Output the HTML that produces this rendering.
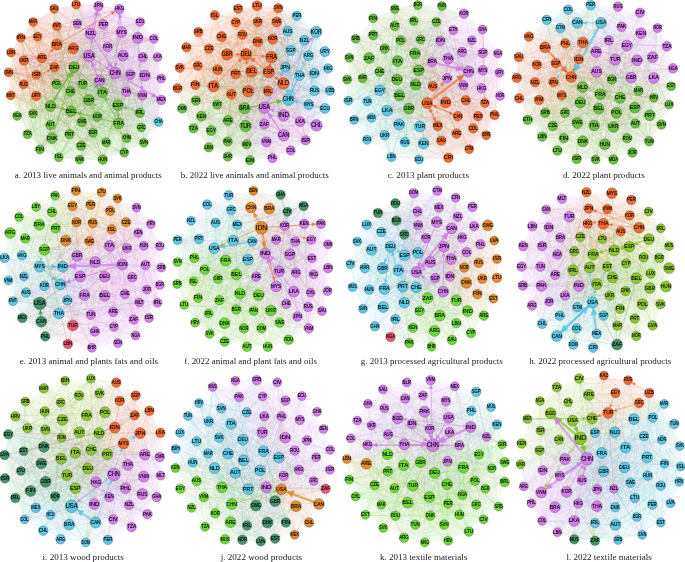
<!DOCTYPE html><html><head><meta charset="utf-8"><style>
html,body{margin:0;padding:0;background:#fff;width:685px;height:562px;overflow:hidden}
svg{display:block;position:absolute;left:0;top:0;will-change:transform}
.cap{font-family:"Liberation Serif",serif;font-size:9.15px;fill:#1a1a1a}
.l{font-family:"Liberation Sans",sans-serif;font-weight:normal;fill:#000;stroke:#000;stroke-width:0.12px;text-anchor:middle}
</style></head><body>
<svg width="685" height="562" viewBox="0 0 685 562">

<clipPath id="ha"><path d="M8.6 72.4L11 52.5L20.8 37.8L33.1 21.9L54.2 8.8L76.2 4.5L98.5 6L119.4 9.1L140.2 21.9L153.9 38.8L157.6 57.1L161.3 78.5L161.3 100L158.5 122L143.8 142.8L124.3 152.6L102.8 159.6L79.6 159.6L58.8 157.2L39.8 149.5L27.5 134.2L17.1 115.9L10.7 95.4Z"/></clipPath>
<g clip-path="url(#ha)" fill-opacity="0.035">
<circle cx="54.2" cy="8.8" r="22" fill="#F26A30"/>
<circle cx="76.2" cy="4.5" r="22" fill="#F26A30"/>
<circle cx="33.1" cy="21.9" r="22" fill="#F26A30"/>
<circle cx="56.9" cy="26.2" r="22" fill="#F26A30"/>
<circle cx="37.6" cy="36.6" r="22" fill="#F26A30"/>
<circle cx="20.8" cy="37.8" r="22" fill="#F26A30"/>
<circle cx="56.8" cy="44.5" r="22" fill="#F26A30"/>
<circle cx="73.3" cy="48.3" r="22" fill="#F26A30"/>
<circle cx="11" cy="52.5" r="22" fill="#F26A30"/>
<circle cx="23.9" cy="60.5" r="22" fill="#F26A30"/>
<circle cx="41.9" cy="58" r="22" fill="#F26A30"/>
<circle cx="54.5" cy="67.3" r="22" fill="#F26A30"/>
<circle cx="36.4" cy="74.8" r="22" fill="#F26A30"/>
<circle cx="8.6" cy="72.4" r="22" fill="#F26A30"/>
<circle cx="23.6" cy="84.3" r="22" fill="#F26A30"/>
<circle cx="10.7" cy="95.4" r="22" fill="#F26A30"/>
<circle cx="36.1" cy="96" r="22" fill="#F26A30"/>
<circle cx="98.5" cy="6" r="22" fill="#D17DEA"/>
<circle cx="119.4" cy="9.1" r="22" fill="#D17DEA"/>
<circle cx="77.4" cy="23.5" r="22" fill="#D17DEA"/>
<circle cx="103.4" cy="24.4" r="22" fill="#D17DEA"/>
<circle cx="140.2" cy="21.9" r="22" fill="#D17DEA"/>
<circle cx="90.6" cy="33.6" r="22" fill="#D17DEA"/>
<circle cx="121.5" cy="32" r="22" fill="#D17DEA"/>
<circle cx="137.7" cy="37.8" r="22" fill="#D17DEA"/>
<circle cx="153.9" cy="38.8" r="22" fill="#D17DEA"/>
<circle cx="107.7" cy="47" r="22" fill="#D17DEA"/>
<circle cx="89" cy="56.1" r="22" fill="#D17DEA"/>
<circle cx="123" cy="55.6" r="22" fill="#D17DEA"/>
<circle cx="142.9" cy="57.1" r="22" fill="#D17DEA"/>
<circle cx="157.6" cy="57.1" r="22" fill="#D17DEA"/>
<circle cx="115.1" cy="73" r="22" fill="#D17DEA"/>
<circle cx="130.4" cy="74.6" r="22" fill="#D17DEA"/>
<circle cx="144.8" cy="75.5" r="22" fill="#D17DEA"/>
<circle cx="161.3" cy="78.5" r="22" fill="#D17DEA"/>
<circle cx="99.5" cy="80.7" r="22" fill="#D17DEA"/>
<circle cx="126.4" cy="91.7" r="22" fill="#D17DEA"/>
<circle cx="142.3" cy="95.4" r="22" fill="#D17DEA"/>
<circle cx="161.3" cy="100" r="22" fill="#D17DEA"/>
<circle cx="158.5" cy="122" r="22" fill="#5CC8E2"/>
<circle cx="74.1" cy="67.2" r="22" fill="#6BBF3E"/>
<circle cx="56.6" cy="84.1" r="22" fill="#6BBF3E"/>
<circle cx="82.6" cy="84.1" r="22" fill="#6BBF3E"/>
<circle cx="70.4" cy="91.4" r="22" fill="#6BBF3E"/>
<circle cx="102.5" cy="92.3" r="22" fill="#6BBF3E"/>
<circle cx="88.8" cy="100" r="22" fill="#6BBF3E"/>
<circle cx="50.5" cy="106.1" r="22" fill="#6BBF3E"/>
<circle cx="71.1" cy="111.1" r="22" fill="#6BBF3E"/>
<circle cx="117.8" cy="105.2" r="22" fill="#6BBF3E"/>
<circle cx="139.9" cy="112.8" r="22" fill="#6BBF3E"/>
<circle cx="17.1" cy="115.9" r="22" fill="#6BBF3E"/>
<circle cx="33.1" cy="113.7" r="22" fill="#6BBF3E"/>
<circle cx="50.5" cy="125.1" r="22" fill="#6BBF3E"/>
<circle cx="82" cy="122" r="22" fill="#6BBF3E"/>
<circle cx="97.3" cy="116.8" r="22" fill="#6BBF3E"/>
<circle cx="118.7" cy="123.5" r="22" fill="#6BBF3E"/>
<circle cx="27.5" cy="134.2" r="22" fill="#6BBF3E"/>
<circle cx="52" cy="138.2" r="22" fill="#6BBF3E"/>
<circle cx="69.5" cy="134.2" r="22" fill="#6BBF3E"/>
<circle cx="93" cy="132.7" r="22" fill="#6BBF3E"/>
<circle cx="141.4" cy="127.5" r="22" fill="#6BBF3E"/>
<circle cx="126.7" cy="138.2" r="22" fill="#6BBF3E"/>
<circle cx="143.8" cy="142.8" r="22" fill="#6BBF3E"/>
<circle cx="106.2" cy="142.5" r="22" fill="#6BBF3E"/>
<circle cx="81.1" cy="145.9" r="22" fill="#6BBF3E"/>
<circle cx="39.8" cy="149.5" r="22" fill="#6BBF3E"/>
<circle cx="124.3" cy="152.6" r="22" fill="#6BBF3E"/>
<circle cx="58.8" cy="157.2" r="22" fill="#6BBF3E"/>
<circle cx="79.6" cy="159.6" r="22" fill="#6BBF3E"/>
<circle cx="102.8" cy="159.6" r="22" fill="#6BBF3E"/>
</g>
<g fill="none" stroke-width="0.45" stroke-opacity="0.18" stroke-linejoin="bevel">
<path stroke="#F26A30" d="M42 58L89 56L9 72L52 138L33 22L74 67L9 72L93 133L21 38L145 76L21 38L154 39L57 44L122 32L36 96L145 76L76 4L42 58L73 48L97 117L57 44L154 39L42 58L82 122L11 52L33 22L42 58L122 32L57 26L57 84L73 48L57 84L21 38L38 37L11 95L108 47L76 4L33 22L9 72L130 75L36 75L124 153L11 95L119 9L76 4L57 84L36 96L144 143L73 48L97 117L38 37L21 38L57 44L9 72L57 44L70 134L57 26L126 92L36 96L83 84L76 4L11 52L36 96L115 73L76 4L71 111L24 60L154 39L73 48L141 128L11 95L130 75L54 9L89 100L54 67L119 9L57 26"/>
<path stroke="#F26A30" d="M57 26L103 160L36 96L106 142L38 37L127 138L42 58L140 113L42 58L127 138L21 38L82 122L57 44L50 125L11 52L33 22L42 58L33 22L24 84L89 56L24 60L142 95L24 84L93 133L24 84L115 73L11 52L130 75L33 22L154 39L11 95L93 133L24 60L89 100L73 48L33 22L57 44L138 38L21 38L40 150L38 37L57 84L54 67L154 39L76 4L38 37L21 38L33 114L57 26L154 39L73 48L24 84L57 26L28 134L38 37L89 56L9 72L57 84L38 37L54 67L42 58L70 134L54 67L36 75L24 84L74 67L42 58L118 105L57 26L21 38L11 52L57 26L24 84L57 84L9 72L82 122L21 38"/>
<path stroke="#F26A30" d="M21 38L54 9L57 44L21 38L38 37L52 138L24 60L89 100L24 60L144 143L24 60L38 37L42 58L38 37L33 22L142 95L9 72L103 24L21 38L33 114L42 58L54 67L21 38L122 32L76 4L91 34L33 22L158 122L36 96L74 67L36 96L158 122L11 52L115 73L33 22L142 95L36 75L130 75L36 75L154 39L9 72L36 75L24 84L103 160L24 84L57 84L9 72L57 26L54 9L103 160L57 26L73 48L54 67L123 56L36 96L11 95L9 72L36 75L73 48L97 117L9 72L122 32L57 26L93 133L38 37L17 116L24 84L81 146L36 75L50 106L76 4L71 111L57 44L82 122L24 84L52 138L33 22"/>
<path stroke="#F26A30" d="M33 22L52 138L54 9L50 106L36 75L89 56L21 38L54 9L11 95L57 44L24 60L82 122L36 75L103 160L38 37L103 24L54 67L54 9L9 72L57 84L33 22L70 91L42 58L24 60L36 96L71 111L11 95L57 44L11 52L115 73L11 52L70 134L73 48L70 91L9 72L83 84L36 75L127 138L11 95L9 72L36 96L24 60L57 44L119 9L57 26L161 100L11 95L103 160L9 72L100 81L11 52L142 95L24 60L11 95L21 38L103 24L9 72L140 113L33 22L36 96L54 67L82 122L11 95L119 124L73 48L140 22L11 52L24 60L36 96L74 67L24 60L140 22L24 60L130 75L24 84L108 47L57 26"/>
<path stroke="#F26A30" d="M57 26L89 100L57 26"/>
<path stroke="#D17DEA" d="M103 24L124 153L145 76L9 72L142 95L82 122L89 56L106 142L130 75L33 114L126 92L119 124L154 39L36 75L138 38L144 143L142 95L138 38L108 47L141 128L142 95L76 4L140 22L91 34L122 32L38 37L103 24L74 67L108 47L42 58L77 24L11 52L108 47L11 95L161 78L36 75L123 56L40 150L122 32L161 100L119 9L127 138L130 75L52 138L123 56L42 58L122 32L77 24L122 32L158 122L158 57L98 6L140 22L9 72L119 9L119 124L138 38L140 22L138 38L9 72L89 56L81 146L123 56L74 67L161 100L17 116L123 56L124 153L119 9L28 134L103 24L40 150L119 9L42 58L154 39L36 75L103 24L142 95L122 32L140 22L100 81L40 150L138 38L24 60L123 56L158 122L145 76L161 78L98 6L93 133L89 56L119 124L89 56L119 124L103 24L127 138L130 75L74 67L89 56L33 114"/>
<path stroke="#D17DEA" d="M33 114L77 24L138 38L119 9L140 113L122 32L24 60L161 78L11 95L119 9L89 100L142 95L127 138L161 100L144 143L161 100L127 138L103 24L50 106L123 56L59 157L126 92L124 153L161 100L93 133L108 47L80 160L140 22L33 114L143 57L74 67L98 6L57 84L161 100L98 6L77 24L40 150L158 57L50 106L77 24L140 113L158 57L158 122L126 92L73 48L145 76L89 100L130 75L142 95L89 56L103 24L130 75L57 84L108 47L57 84L161 78L123 56L161 78L119 124L140 22L103 160L140 22L140 113L154 39L24 60L142 95L126 92L119 9L57 26L119 9L127 138L143 57L11 52L145 76L115 73L100 81L118 105L91 34L50 106L140 22L89 56L158 57L52 138L98 6L140 113L119 9L74 67L77 24L154 39L138 38L24 60L154 39L127 138L103 24L141 128L89 56L50 125L126 92L42 58L91 34"/>
<path stroke="#D17DEA" d="M91 34L80 160L143 57L81 146L119 9L40 150L119 9L38 37L119 9L98 6L91 34L106 142L161 100L52 138L91 34L115 73L143 57L52 138L115 73L54 67L100 81L98 6L103 24L57 26L98 6L59 157L122 32L119 124L91 34L158 122L130 75L126 92L161 100L77 24L161 100L28 134L126 92L93 133L138 38L123 56L143 57L158 122L143 57L89 100L143 57L161 100L89 56L118 105L161 100L9 72L130 75L54 9L123 56L80 160L122 32L123 56L122 32L42 58L161 78L54 9L143 57L106 142L130 75L122 32L143 57L124 153L115 73L98 6L122 32L57 84L142 95L59 157L143 57L76 4L108 47L54 9L123 56L76 4L91 34L24 60L98 6L103 24L138 38L40 150L145 76L123 56L154 39L50 125L158 57L144 143L142 95L81 146L143 57L115 73L89 56L122 32L98 6L76 4L143 57L52 138"/>
<path stroke="#D17DEA" d="M52 138L89 56L142 95L115 73L100 81L130 75L54 9L77 24L24 84L161 100L108 47L126 92L140 22L126 92L76 4L145 76L70 91L100 81L123 56L142 95L24 60L143 57L126 92L154 39L74 67L100 81L138 38L89 56L40 150L161 100L36 96L130 75L108 47L126 92L103 160L126 92L142 95L154 39L33 22L119 9L24 84L158 57L119 9L140 22L33 22L108 47L40 150L98 6L124 153L130 75L118 105L161 100L57 44L122 32L24 84L140 22L76 4L98 6L158 57L100 81L17 116L91 34L83 84L138 38L57 84L161 78L57 44L115 73L24 60L77 24L140 22L91 34L154 39L143 57L91 34L100 81L80 160L145 76L71 111L130 75L11 52L142 95L89 100L126 92L142 95L161 78L100 81L130 75L36 75L123 56L140 113L158 57L24 84L108 47L130 75L123 56L126 92L98 6L36 96L98 6"/>
<path stroke="#5CC8E2" d="M158 122L70 134L158 122L28 134L158 122"/>
<path stroke="#5CC8E2" d="M158 122L11 52L158 122L57 26L158 122"/>
<path stroke="#5CC8E2" d="M158 122L42 58L158 122L77 24L158 122"/>
<path stroke="#5CC8E2" d="M158 122L24 60L158 122L97 117L158 122"/>
<path stroke="#5CC8E2" d="M158 122L97 117L158 122"/>
<path stroke="#6BBF3E" d="M40 150L42 58L59 157L28 134L57 84L89 100L57 84L74 67L97 117L161 100L82 122L73 48L93 133L122 32L89 100L124 153L118 105L108 47L33 114L115 73L81 146L77 24L93 133L57 26L50 125L40 150L52 138L122 32L40 150L102 92L83 84L161 100L89 100L38 37L50 125L54 67L40 150L57 44L127 138L76 4L118 105L124 153L57 84L70 134L124 153L102 92L33 114L141 128L74 67L50 106L119 124L140 113L71 111L144 143L141 128L122 32L80 160L17 116L82 122L145 76L103 160L57 26L97 117L93 133L103 160L93 133L70 91L115 73L59 157L52 138L40 150L52 138L74 67L52 138L102 92L74 67L33 114L91 34L93 133L161 100L57 84L158 122L127 138L82 122L103 160L91 34L74 67L98 6L118 105L76 4L50 106L50 125L102 92L122 32L97 117L74 67L50 106L158 57L127 138L54 9L81 146L33 114L106 142L28 134L70 91L119 9L106 142L83 84L119 124L124 153L50 125L130 75L28 134L102 92L33 114L57 26L70 91L122 32L89 100L71 111L81 146L57 26L52 138L140 22L57 84L42 58L81 146L100 81L124 153L115 73L70 134L36 75L93 133L36 96L50 125L154 39"/>
<path stroke="#6BBF3E" d="M154 39L144 143L76 4L93 133L89 56L52 138L127 138L97 117L115 73L97 117L33 22L33 114L42 58L74 67L103 24L71 111L161 100L89 100L76 4L74 67L158 57L80 160L142 95L50 106L9 72L57 84L70 91L127 138L42 58L140 113L17 116L81 146L52 138L118 105L33 22L103 160L102 92L17 116L158 57L93 133L74 67L124 153L138 38L119 124L118 105L144 143L36 96L118 105L103 160L74 67L59 157L52 138L102 92L124 153L98 6L124 153L91 34L97 117L50 125L70 91L11 52L127 138L76 4L140 113L52 138L140 113L142 95L97 117L9 72L127 138L123 56L97 117L57 84L28 134L100 81L127 138L89 56L40 150L89 56L82 122L42 58L144 143L130 75L82 122L59 157L102 92L140 113L97 117L57 84L106 142L100 81L59 157L140 22L52 138L124 153L89 100L57 26L74 67L83 84L57 84L73 48L40 150L140 22L106 142L42 58L80 160L9 72L52 138L71 111L103 160L141 128L119 124L138 38L70 91L127 138L83 84L106 142L81 146L145 76L141 128L89 56L52 138L124 153L106 142L11 52L40 150L140 113L50 125L91 34L119 124L21 38L50 125L91 34L102 92L24 60L82 122"/>
<path stroke="#6BBF3E" d="M82 122L89 56L118 105L158 57L82 122L57 84L144 143L70 91L50 106L59 157L103 160L36 96L50 125L9 72L33 114L52 138L28 134L59 157L93 133L59 157L103 160L115 73L40 150L11 52L40 150L80 160L82 122L57 44L144 143L103 24L28 134L89 100L33 114L57 84L102 92L17 116L141 128L98 6L119 124L59 157L70 134L57 26L70 91L138 38L70 134L126 92L80 160L103 160L82 122L154 39L118 105L57 84L33 114L36 75L127 138L9 72L83 84L93 133L118 105L57 84L52 138L50 125L80 160L119 124L80 160L144 143L70 134L54 9L59 157L57 26L119 124L118 105L106 142L142 95L144 143L77 24L28 134L119 9L124 153L140 113L59 157L21 38L52 138L98 6L102 92L98 6L50 106L74 67L50 125L42 58L40 150L83 84L106 142L130 75L106 142L91 34L74 67L140 22L28 134L9 72L106 142L119 124L103 160L24 84L71 111L42 58L57 84L145 76L118 105L11 52L141 128L38 37L144 143L102 92L118 105L71 111L103 160L76 4L57 84L11 52L83 84L17 116L124 153L36 96L17 116L130 75L28 134L33 22L17 116L161 78L124 153L11 95L118 105L52 138L81 146L154 39"/>
<path stroke="#6BBF3E" d="M154 39L71 111L144 143L89 100L74 67L70 134L97 117L70 91L11 95L124 153L143 57L140 113L138 38L59 157L100 81L82 122L106 142L102 92L70 91L127 138L11 95L59 157L115 73L80 160L130 75L70 91L141 128L118 105L143 57L141 128L93 133L57 84L21 38L50 125L9 72L28 134L108 47L17 116L76 4L106 142L118 105L93 133L145 76L106 142L82 122L97 117L126 92L97 117L89 100L102 92L126 92L144 143L83 84L82 122L57 26L97 117L54 67L83 84L130 75L141 128L115 73L33 114L21 38L106 142L21 38L40 150L89 56L102 92L145 76L81 146L57 26L70 91L154 39L118 105L115 73L80 160L9 72L106 142L50 125L82 122L74 67L127 138L54 9L119 124L126 92L81 146L59 157L52 138L123 56L50 125L122 32L102 92L82 122L83 84L130 75L106 142L124 153L33 114L98 6L102 92L142 95L80 160L130 75L127 138L144 143L28 134L103 160L89 100L36 96L119 124L89 100L59 157L142 95L97 117L50 106L17 116L54 9L50 106L100 81L59 157L33 114L89 100L50 106L74 67L115 73L102 92L9 72L82 122L126 92L52 138L33 22L71 111L98 6L140 113L161 78L140 113"/>
</g>
<path stroke="#D17DEA" stroke-width="1.2" stroke-opacity="0.7" d="M89 56.1L97.6 10.7"/>
<path fill="#D17DEA" fill-opacity="0.9" d="M97.6 10.7L99.1 16.1L94.3 15.2Z"/>
<path stroke="#D17DEA" stroke-width="1.2" stroke-opacity="0.7" d="M90.6 33.6L112 68"/>
<path fill="#D17DEA" fill-opacity="0.9" d="M112 68L107.3 65L111.4 62.5Z"/>
<path stroke="#D17DEA" stroke-width="1.4" stroke-opacity="0.7" d="M115.1 73L157.2 97.6"/>
<path fill="#D17DEA" fill-opacity="0.9" d="M157.2 97.6L151.1 97.1L153.8 92.5Z"/>
<path stroke="#D17DEA" stroke-width="1" stroke-opacity="0.7" d="M89 56.1L110.1 69.8"/>
<path fill="#D17DEA" fill-opacity="0.9" d="M110.1 69.8L105.2 69.2L107.6 65.5Z"/>
<path stroke="#D17DEA" stroke-width="1.4" stroke-opacity="0.7" d="M99.5 80.7L91.4 61.6"/>
<path fill="#D17DEA" fill-opacity="0.9" d="M91.4 61.6L96 65.6L91 67.7Z"/>
<path stroke="#D17DEA" stroke-width="0.8" stroke-opacity="0.7" d="M119.4 9.1L115.5 67.1"/>
<path fill="#D17DEA" fill-opacity="0.9" d="M115.5 67.1L113.8 63L117.7 63.3Z"/>
<path stroke="#D17DEA" stroke-width="0.8" stroke-opacity="0.7" d="M121.5 32L119.8 13.9"/>
<path fill="#D17DEA" fill-opacity="0.9" d="M119.8 13.9L122.2 17.7L118.3 18Z"/>
<path stroke="#D17DEA" stroke-width="0.8" stroke-opacity="0.7" d="M137.7 37.8L141.9 90.6"/>
<path fill="#D17DEA" fill-opacity="0.9" d="M141.9 90.6L139.6 86.8L143.6 86.5Z"/>
<path stroke="#D17DEA" stroke-width="0.8" stroke-opacity="0.7" d="M90.6 33.6L97.2 10.6"/>
<path fill="#D17DEA" fill-opacity="0.9" d="M97.2 10.6L98 15L94.2 13.9Z"/>
<path stroke="#F26A30" stroke-width="0.8" stroke-opacity="0.7" d="M56.8 44.5L115.2 11.5"/>
<path fill="#F26A30" fill-opacity="0.9" d="M115.2 11.5L112.7 15.1L110.8 11.7Z"/>
<path stroke="#F26A30" stroke-width="0.6" stroke-opacity="0.7" d="M23.6 84.3L53.3 48.7"/>
<path fill="#F26A30" fill-opacity="0.9" d="M53.3 48.7L52.4 52.5L49.7 50.3Z"/>
<path stroke="#F26A30" stroke-width="0.5" stroke-opacity="0.7" d="M23.6 84.3L50.3 69.6"/>
<path fill="#F26A30" fill-opacity="0.9" d="M50.3 69.6L48.2 72.6L46.7 69.8Z"/>
<path stroke="#6BBF3E" stroke-width="1.6" stroke-opacity="0.7" d="M50.5 106.1L71.2 71.9"/>
<path fill="#6BBF3E" fill-opacity="0.9" d="M71.2 71.9L70.6 78.5L65.6 75.5Z"/>
<path stroke="#6BBF3E" stroke-width="1" stroke-opacity="0.7" d="M74.1 67.2L53.4 101.4"/>
<path fill="#6BBF3E" fill-opacity="0.9" d="M53.4 101.4L53.8 96.4L57.6 98.7Z"/>
<path stroke="#6BBF3E" stroke-width="0.8" stroke-opacity="0.7" d="M52 138.2L72.5 72.5"/>
<path fill="#6BBF3E" fill-opacity="0.9" d="M72.5 72.5L73.1 76.9L69.4 75.7Z"/>
<path stroke="#6BBF3E" stroke-width="0.8" stroke-opacity="0.7" d="M74.1 67.2L98.4 88.7"/>
<path fill="#6BBF3E" fill-opacity="0.9" d="M98.4 88.7L94.1 87.5L96.7 84.5Z"/>
<path stroke="#6BBF3E" stroke-width="1.2" stroke-opacity="0.7" d="M118.7 123.5L76.4 112.5"/>
<path fill="#6BBF3E" fill-opacity="0.9" d="M76.4 112.5L81.9 111.4L80.6 116.1Z"/>
<path stroke="#6BBF3E" stroke-width="0.8" stroke-opacity="0.7" d="M118.7 123.5L105 97.2"/>
<path fill="#6BBF3E" fill-opacity="0.9" d="M105 97.2L108.6 99.8L105.1 101.6Z"/>
<path stroke="#6BBF3E" stroke-width="0.6" stroke-opacity="0.7" d="M118.7 123.5L93.1 103.4"/>
<path fill="#6BBF3E" fill-opacity="0.9" d="M93.1 103.4L96.9 104.2L94.8 106.9Z"/>
<path stroke="#6BBF3E" stroke-width="0.8" stroke-opacity="0.7" d="M139.9 112.8L123 107"/>
<path fill="#6BBF3E" fill-opacity="0.9" d="M123 107L127.4 106.4L126.1 110.1Z"/>
<path stroke="#6BBF3E" stroke-width="0.6" stroke-opacity="0.7" d="M117.8 105.2L118.4 118"/>
<path fill="#6BBF3E" fill-opacity="0.9" d="M118.4 118L116.5 114.6L120 114.4Z"/>
<path stroke="#6BBF3E" stroke-width="0.8" stroke-opacity="0.7" d="M50.5 106.1L65.8 109.8"/>
<path fill="#6BBF3E" fill-opacity="0.9" d="M65.8 109.8L61.4 110.8L62.3 107Z"/>
<g stroke="#505050" stroke-width="0.35">
<circle cx="54.2" cy="8.8" r="4.5" fill="#F26A30"/>
<circle cx="76.2" cy="4.5" r="4.5" fill="#F26A30"/>
<circle cx="33.1" cy="21.9" r="4.5" fill="#F26A30"/>
<circle cx="56.9" cy="26.2" r="4.5" fill="#F26A30"/>
<circle cx="37.6" cy="36.6" r="4.5" fill="#F26A30"/>
<circle cx="20.8" cy="37.8" r="4.5" fill="#F26A30"/>
<circle cx="56.8" cy="44.5" r="5.5" fill="#F26A30"/>
<circle cx="73.3" cy="48.3" r="5.5" fill="#F26A30"/>
<circle cx="11" cy="52.5" r="4.5" fill="#F26A30"/>
<circle cx="23.9" cy="60.5" r="4.8" fill="#F26A30"/>
<circle cx="41.9" cy="58" r="4.8" fill="#F26A30"/>
<circle cx="54.5" cy="67.3" r="4.8" fill="#F26A30"/>
<circle cx="36.4" cy="74.8" r="4.5" fill="#F26A30"/>
<circle cx="8.6" cy="72.4" r="4.5" fill="#F26A30"/>
<circle cx="23.6" cy="84.3" r="4.5" fill="#F26A30"/>
<circle cx="10.7" cy="95.4" r="4.5" fill="#F26A30"/>
<circle cx="36.1" cy="96" r="4.8" fill="#F26A30"/>
<circle cx="98.5" cy="6" r="4.8" fill="#D17DEA"/>
<circle cx="119.4" cy="9.1" r="4.8" fill="#D17DEA"/>
<circle cx="77.4" cy="23.5" r="4.5" fill="#D17DEA"/>
<circle cx="103.4" cy="24.4" r="4.8" fill="#D17DEA"/>
<circle cx="140.2" cy="21.9" r="4.5" fill="#D17DEA"/>
<circle cx="90.6" cy="33.6" r="5.5" fill="#D17DEA"/>
<circle cx="121.5" cy="32" r="5.5" fill="#D17DEA"/>
<circle cx="137.7" cy="37.8" r="5.5" fill="#D17DEA"/>
<circle cx="153.9" cy="38.8" r="4.5" fill="#D17DEA"/>
<circle cx="107.7" cy="47" r="4.8" fill="#D17DEA"/>
<circle cx="89" cy="56.1" r="6" fill="#D17DEA"/>
<circle cx="123" cy="55.6" r="5.5" fill="#D17DEA"/>
<circle cx="142.9" cy="57.1" r="4.8" fill="#D17DEA"/>
<circle cx="157.6" cy="57.1" r="4.5" fill="#D17DEA"/>
<circle cx="115.1" cy="73" r="5.9" fill="#D17DEA"/>
<circle cx="130.4" cy="74.6" r="4.8" fill="#D17DEA"/>
<circle cx="144.8" cy="75.5" r="5.5" fill="#D17DEA"/>
<circle cx="161.3" cy="78.5" r="4.5" fill="#D17DEA"/>
<circle cx="99.5" cy="80.7" r="5.5" fill="#D17DEA"/>
<circle cx="126.4" cy="91.7" r="4.8" fill="#D17DEA"/>
<circle cx="142.3" cy="95.4" r="4.8" fill="#D17DEA"/>
<circle cx="161.3" cy="100" r="4.8" fill="#D17DEA"/>
<circle cx="158.5" cy="122" r="4.5" fill="#5CC8E2"/>
<circle cx="74.1" cy="67.2" r="5.5" fill="#6BBF3E"/>
<circle cx="56.6" cy="84.1" r="4.8" fill="#6BBF3E"/>
<circle cx="82.6" cy="84.1" r="4.8" fill="#6BBF3E"/>
<circle cx="70.4" cy="91.4" r="4.8" fill="#6BBF3E"/>
<circle cx="102.5" cy="92.3" r="5.5" fill="#6BBF3E"/>
<circle cx="88.8" cy="100" r="5.5" fill="#6BBF3E"/>
<circle cx="50.5" cy="106.1" r="5.5" fill="#6BBF3E"/>
<circle cx="71.1" cy="111.1" r="5.5" fill="#6BBF3E"/>
<circle cx="117.8" cy="105.2" r="5.5" fill="#6BBF3E"/>
<circle cx="139.9" cy="112.8" r="4.8" fill="#6BBF3E"/>
<circle cx="17.1" cy="115.9" r="4.5" fill="#6BBF3E"/>
<circle cx="33.1" cy="113.7" r="4.5" fill="#6BBF3E"/>
<circle cx="50.5" cy="125.1" r="4.8" fill="#6BBF3E"/>
<circle cx="82" cy="122" r="4.8" fill="#6BBF3E"/>
<circle cx="97.3" cy="116.8" r="4.8" fill="#6BBF3E"/>
<circle cx="118.7" cy="123.5" r="5.5" fill="#6BBF3E"/>
<circle cx="27.5" cy="134.2" r="4.5" fill="#6BBF3E"/>
<circle cx="52" cy="138.2" r="5.5" fill="#6BBF3E"/>
<circle cx="69.5" cy="134.2" r="4.8" fill="#6BBF3E"/>
<circle cx="93" cy="132.7" r="4.5" fill="#6BBF3E"/>
<circle cx="141.4" cy="127.5" r="4.5" fill="#6BBF3E"/>
<circle cx="126.7" cy="138.2" r="4.5" fill="#6BBF3E"/>
<circle cx="143.8" cy="142.8" r="4.5" fill="#6BBF3E"/>
<circle cx="106.2" cy="142.5" r="4.5" fill="#6BBF3E"/>
<circle cx="81.1" cy="145.9" r="4.8" fill="#6BBF3E"/>
<circle cx="39.8" cy="149.5" r="4.5" fill="#6BBF3E"/>
<circle cx="124.3" cy="152.6" r="4.5" fill="#6BBF3E"/>
<circle cx="58.8" cy="157.2" r="4.5" fill="#6BBF3E"/>
<circle cx="79.6" cy="159.6" r="4.5" fill="#6BBF3E"/>
<circle cx="102.8" cy="159.6" r="4.8" fill="#6BBF3E"/>
</g>
<text class="l" x="54.2" y="10" font-size="5" textLength="8.2" lengthAdjust="spacingAndGlyphs">SAU</text>
<text class="l" x="76.2" y="5.7" font-size="5" textLength="8.2" lengthAdjust="spacingAndGlyphs">LTU</text>
<text class="l" x="33.1" y="23.1" font-size="5" textLength="8.2" lengthAdjust="spacingAndGlyphs">MAR</text>
<text class="l" x="56.9" y="27.4" font-size="5" textLength="8.2" lengthAdjust="spacingAndGlyphs">KWT</text>
<text class="l" x="37.6" y="37.8" font-size="5" textLength="8.2" lengthAdjust="spacingAndGlyphs">EGY</text>
<text class="l" x="20.8" y="39" font-size="5" textLength="8.2" lengthAdjust="spacingAndGlyphs">IRN</text>
<text class="l" x="56.8" y="46" font-size="6.2" textLength="10.2" lengthAdjust="spacingAndGlyphs">BRA</text>
<text class="l" x="73.3" y="49.8" font-size="6.2" textLength="10.2" lengthAdjust="spacingAndGlyphs">ARG</text>
<text class="l" x="11" y="53.7" font-size="5" textLength="8.2" lengthAdjust="spacingAndGlyphs">LBN</text>
<text class="l" x="23.9" y="61.8" font-size="5.4" textLength="8.9" lengthAdjust="spacingAndGlyphs">UKR</text>
<text class="l" x="41.9" y="59.3" font-size="5.4" textLength="8.9" lengthAdjust="spacingAndGlyphs">ARE</text>
<text class="l" x="54.5" y="68.6" font-size="5.4" textLength="8.9" lengthAdjust="spacingAndGlyphs">ZAF</text>
<text class="l" x="36.4" y="76" font-size="5" textLength="8.2" lengthAdjust="spacingAndGlyphs">ISR</text>
<text class="l" x="8.6" y="73.6" font-size="5" textLength="8.2" lengthAdjust="spacingAndGlyphs">OMN</text>
<text class="l" x="23.6" y="85.5" font-size="5" textLength="8.2" lengthAdjust="spacingAndGlyphs">RUS</text>
<text class="l" x="10.7" y="96.6" font-size="5" textLength="8.2" lengthAdjust="spacingAndGlyphs">MNT</text>
<text class="l" x="36.1" y="97.3" font-size="5.4" textLength="8.9" lengthAdjust="spacingAndGlyphs">URY</text>
<text class="l" x="98.5" y="7.3" font-size="5.4" textLength="8.9" lengthAdjust="spacingAndGlyphs">JPN</text>
<text class="l" x="119.4" y="10.4" font-size="5.4" textLength="8.9" lengthAdjust="spacingAndGlyphs">HKG</text>
<text class="l" x="77.4" y="24.7" font-size="5" textLength="8.2" lengthAdjust="spacingAndGlyphs">SEN</text>
<text class="l" x="103.4" y="25.7" font-size="5.4" textLength="8.9" lengthAdjust="spacingAndGlyphs">PER</text>
<text class="l" x="140.2" y="23.1" font-size="5" textLength="8.2" lengthAdjust="spacingAndGlyphs">ECU</text>
<text class="l" x="90.6" y="35.1" font-size="6.2" textLength="10.2" lengthAdjust="spacingAndGlyphs">NZL</text>
<text class="l" x="121.5" y="33.5" font-size="6.2" textLength="10.2" lengthAdjust="spacingAndGlyphs">MYS</text>
<text class="l" x="137.7" y="39.3" font-size="6.2" textLength="10.2" lengthAdjust="spacingAndGlyphs">IND</text>
<text class="l" x="153.9" y="40" font-size="5" textLength="8.2" lengthAdjust="spacingAndGlyphs">COL</text>
<text class="l" x="107.7" y="48.3" font-size="5.4" textLength="8.9" lengthAdjust="spacingAndGlyphs">KOR</text>
<text class="l" x="89" y="57.7" font-size="6.7" textLength="11.1" lengthAdjust="spacingAndGlyphs">USA</text>
<text class="l" x="123" y="57.1" font-size="6.2" textLength="10.2" lengthAdjust="spacingAndGlyphs">AUS</text>
<text class="l" x="142.9" y="58.4" font-size="5.4" textLength="8.9" lengthAdjust="spacingAndGlyphs">CHL</text>
<text class="l" x="157.6" y="58.3" font-size="5" textLength="8.2" lengthAdjust="spacingAndGlyphs">LKA</text>
<text class="l" x="115.1" y="74.6" font-size="6.6" textLength="10.9" lengthAdjust="spacingAndGlyphs">CHN</text>
<text class="l" x="130.4" y="75.9" font-size="5.4" textLength="8.9" lengthAdjust="spacingAndGlyphs">SGP</text>
<text class="l" x="144.8" y="77" font-size="6.2" textLength="10.2" lengthAdjust="spacingAndGlyphs">IDN</text>
<text class="l" x="161.3" y="79.7" font-size="5" textLength="8.2" lengthAdjust="spacingAndGlyphs">PHL</text>
<text class="l" x="99.5" y="82.2" font-size="6.2" textLength="10.2" lengthAdjust="spacingAndGlyphs">CAN</text>
<text class="l" x="126.4" y="93" font-size="5.4" textLength="8.9" lengthAdjust="spacingAndGlyphs">THA</text>
<text class="l" x="142.3" y="96.7" font-size="5.4" textLength="8.9" lengthAdjust="spacingAndGlyphs">VNM</text>
<text class="l" x="161.3" y="101.3" font-size="5.4" textLength="8.9" lengthAdjust="spacingAndGlyphs">MEX</text>
<text class="l" x="158.5" y="123.2" font-size="5" textLength="8.2" lengthAdjust="spacingAndGlyphs">CHA</text>
<text class="l" x="74.1" y="68.7" font-size="6.2" textLength="10.2" lengthAdjust="spacingAndGlyphs">DEU</text>
<text class="l" x="56.6" y="85.4" font-size="5.4" textLength="8.9" lengthAdjust="spacingAndGlyphs">POL</text>
<text class="l" x="82.6" y="85.4" font-size="5.4" textLength="8.9" lengthAdjust="spacingAndGlyphs">TUR</text>
<text class="l" x="70.4" y="92.7" font-size="5.4" textLength="8.9" lengthAdjust="spacingAndGlyphs">CHE</text>
<text class="l" x="102.5" y="93.8" font-size="6.2">ITA</text>
<text class="l" x="88.8" y="101.5" font-size="6.2" textLength="10.2" lengthAdjust="spacingAndGlyphs">GBR</text>
<text class="l" x="50.5" y="107.6" font-size="6.2" textLength="10.2" lengthAdjust="spacingAndGlyphs">NLD</text>
<text class="l" x="71.1" y="112.6" font-size="6.2" textLength="10.2" lengthAdjust="spacingAndGlyphs">BEL</text>
<text class="l" x="117.8" y="106.7" font-size="6.2" textLength="10.2" lengthAdjust="spacingAndGlyphs">ESP</text>
<text class="l" x="139.9" y="114.1" font-size="5.4">IRL</text>
<text class="l" x="17.1" y="117.1" font-size="5" textLength="8.2" lengthAdjust="spacingAndGlyphs">NGA</text>
<text class="l" x="33.1" y="114.9" font-size="5" textLength="8.2" lengthAdjust="spacingAndGlyphs">SVK</text>
<text class="l" x="50.5" y="126.4" font-size="5.4" textLength="8.9" lengthAdjust="spacingAndGlyphs">AUT</text>
<text class="l" x="82" y="123.3" font-size="5.4" textLength="8.9" lengthAdjust="spacingAndGlyphs">SWE</text>
<text class="l" x="97.3" y="118.1" font-size="5.4" textLength="8.9" lengthAdjust="spacingAndGlyphs">NOR</text>
<text class="l" x="118.7" y="125" font-size="6.2" textLength="10.2" lengthAdjust="spacingAndGlyphs">FRA</text>
<text class="l" x="27.5" y="135.4" font-size="5" textLength="8.2" lengthAdjust="spacingAndGlyphs">TZA</text>
<text class="l" x="52" y="139.7" font-size="6.2" textLength="10.2" lengthAdjust="spacingAndGlyphs">DNK</text>
<text class="l" x="69.5" y="135.5" font-size="5.4" textLength="8.9" lengthAdjust="spacingAndGlyphs">PRT</text>
<text class="l" x="93" y="133.9" font-size="5" textLength="8.2" lengthAdjust="spacingAndGlyphs">BGR</text>
<text class="l" x="141.4" y="128.7" font-size="5" textLength="8.2" lengthAdjust="spacingAndGlyphs">GRC</text>
<text class="l" x="126.7" y="139.4" font-size="5" textLength="8.2" lengthAdjust="spacingAndGlyphs">KHM</text>
<text class="l" x="143.8" y="144" font-size="5" textLength="8.2" lengthAdjust="spacingAndGlyphs">SVN</text>
<text class="l" x="106.2" y="143.7" font-size="5" textLength="8.2" lengthAdjust="spacingAndGlyphs">MAR</text>
<text class="l" x="81.1" y="147.2" font-size="5.4" textLength="8.9" lengthAdjust="spacingAndGlyphs">CZE</text>
<text class="l" x="39.8" y="150.7" font-size="5">FIN</text>
<text class="l" x="124.3" y="153.8" font-size="5" textLength="8.2" lengthAdjust="spacingAndGlyphs">CYP</text>
<text class="l" x="58.8" y="158.4" font-size="5">ISL</text>
<text class="l" x="79.6" y="160.8" font-size="5" textLength="8.2" lengthAdjust="spacingAndGlyphs">NAM</text>
<text class="l" x="102.8" y="160.9" font-size="5.4" textLength="8.9" lengthAdjust="spacingAndGlyphs">HUN</text>
<clipPath id="hb"><path d="M177.5 88.3L179.7 67.8L186.4 47.3L198.3 32L214.8 15.2L238.1 8.8L257.1 5.7L278.2 8.2L296.9 15.8L316.2 32L325 51.6L328.1 68.4L329.9 90.8L325 108.5L316.5 125.4L305.7 140.4L290.7 150.5L272.4 158.1L250 160.3L227.7 156.6L208.7 147.4L193.4 128.4L182.1 108.5Z"/></clipPath>
<g clip-path="url(#hb)" fill-opacity="0.028">
<circle cx="238.1" cy="8.8" r="22" fill="#F26A30"/>
<circle cx="257.1" cy="5.7" r="22" fill="#F26A30"/>
<circle cx="278.2" cy="8.2" r="22" fill="#F26A30"/>
<circle cx="214.8" cy="15.2" r="22" fill="#F26A30"/>
<circle cx="235.7" cy="22.5" r="22" fill="#F26A30"/>
<circle cx="257.7" cy="21.9" r="22" fill="#F26A30"/>
<circle cx="276.7" cy="21.9" r="22" fill="#F26A30"/>
<circle cx="198.3" cy="32" r="22" fill="#F26A30"/>
<circle cx="221.6" cy="36.6" r="22" fill="#F26A30"/>
<circle cx="242.4" cy="34.8" r="22" fill="#F26A30"/>
<circle cx="257.7" cy="41.8" r="22" fill="#F26A30"/>
<circle cx="272.7" cy="39.1" r="22" fill="#F26A30"/>
<circle cx="186.4" cy="47.3" r="22" fill="#F26A30"/>
<circle cx="209" cy="48.6" r="22" fill="#F26A30"/>
<circle cx="227.1" cy="54.4" r="22" fill="#F26A30"/>
<circle cx="246.1" cy="54.4" r="22" fill="#F26A30"/>
<circle cx="271.5" cy="57.1" r="22" fill="#F26A30"/>
<circle cx="179.7" cy="67.8" r="22" fill="#F26A30"/>
<circle cx="197.7" cy="65.7" r="22" fill="#F26A30"/>
<circle cx="217.6" cy="69.7" r="22" fill="#F26A30"/>
<circle cx="235.7" cy="74" r="22" fill="#F26A30"/>
<circle cx="251.6" cy="71.5" r="22" fill="#F26A30"/>
<circle cx="268.7" cy="72.1" r="22" fill="#F26A30"/>
<circle cx="177.5" cy="88.3" r="22" fill="#F26A30"/>
<circle cx="195.3" cy="85" r="22" fill="#F26A30"/>
<circle cx="213.6" cy="86.2" r="22" fill="#F26A30"/>
<circle cx="231.4" cy="94.2" r="22" fill="#F26A30"/>
<circle cx="248.2" cy="91.1" r="22" fill="#F26A30"/>
<circle cx="268.1" cy="91.1" r="22" fill="#F26A30"/>
<circle cx="283.4" cy="83.4" r="22" fill="#F26A30"/>
<circle cx="296.9" cy="15.8" r="22" fill="#5CC8E2"/>
<circle cx="287.7" cy="31.1" r="22" fill="#5CC8E2"/>
<circle cx="316.2" cy="32" r="22" fill="#5CC8E2"/>
<circle cx="304.5" cy="40.3" r="22" fill="#5CC8E2"/>
<circle cx="290.7" cy="50.4" r="22" fill="#5CC8E2"/>
<circle cx="308.5" cy="55.6" r="22" fill="#5CC8E2"/>
<circle cx="325" cy="51.6" r="22" fill="#5CC8E2"/>
<circle cx="285.2" cy="67.2" r="22" fill="#5CC8E2"/>
<circle cx="299.6" cy="75.5" r="22" fill="#5CC8E2"/>
<circle cx="314.3" cy="73.3" r="22" fill="#5CC8E2"/>
<circle cx="328.1" cy="68.4" r="22" fill="#5CC8E2"/>
<circle cx="314.6" cy="90.8" r="22" fill="#5CC8E2"/>
<circle cx="329.9" cy="90.8" r="22" fill="#5CC8E2"/>
<circle cx="288.3" cy="99.7" r="22" fill="#5CC8E2"/>
<circle cx="308.8" cy="104.6" r="22" fill="#5CC8E2"/>
<circle cx="325" cy="108.5" r="22" fill="#5CC8E2"/>
<circle cx="195.9" cy="100.6" r="22" fill="#6BBF3E"/>
<circle cx="217.3" cy="104.6" r="22" fill="#6BBF3E"/>
<circle cx="182.1" cy="108.5" r="22" fill="#6BBF3E"/>
<circle cx="201.4" cy="116.2" r="22" fill="#6BBF3E"/>
<circle cx="244.5" cy="108.2" r="22" fill="#6BBF3E"/>
<circle cx="228" cy="120.5" r="22" fill="#6BBF3E"/>
<circle cx="193.4" cy="128.4" r="22" fill="#6BBF3E"/>
<circle cx="211.2" cy="130.6" r="22" fill="#6BBF3E"/>
<circle cx="245.5" cy="126" r="22" fill="#6BBF3E"/>
<circle cx="227.7" cy="141.6" r="22" fill="#6BBF3E"/>
<circle cx="246.7" cy="144.3" r="22" fill="#6BBF3E"/>
<circle cx="208.7" cy="147.4" r="22" fill="#6BBF3E"/>
<circle cx="227.7" cy="156.6" r="22" fill="#6BBF3E"/>
<circle cx="250" cy="160.3" r="22" fill="#6BBF3E"/>
<circle cx="264.4" cy="107.6" r="22" fill="#D17DEA"/>
<circle cx="283.7" cy="115.3" r="22" fill="#D17DEA"/>
<circle cx="300.2" cy="121.7" r="22" fill="#D17DEA"/>
<circle cx="316.5" cy="125.4" r="22" fill="#D17DEA"/>
<circle cx="264.4" cy="124.1" r="22" fill="#D17DEA"/>
<circle cx="283.7" cy="135.2" r="22" fill="#D17DEA"/>
<circle cx="305.7" cy="140.4" r="22" fill="#D17DEA"/>
<circle cx="266.3" cy="141.9" r="22" fill="#D17DEA"/>
<circle cx="290.7" cy="150.5" r="22" fill="#D17DEA"/>
<circle cx="272.4" cy="158.1" r="22" fill="#D17DEA"/>
</g>
<g fill="none" stroke-width="0.45" stroke-opacity="0.15" stroke-linejoin="bevel">
<path stroke="#F26A30" d="M236 23L272 158L277 22L201 116L227 54L245 126L257 6L264 108L186 47L178 88L214 86L284 115L258 42L209 49L269 72L300 122L278 8L325 109L271 57L285 67L258 42L271 57L278 8L315 91L252 72L222 37L278 8L315 91L186 47L284 135L238 9L196 101L242 35L277 22L227 54L238 9L258 22L258 42L186 47L217 105L278 8L195 85L268 91L201 116L178 88L180 68L278 8L182 109L242 35L288 31L231 94L222 37L227 54L278 8L198 32L285 67L195 85L258 42L238 9L305 40L242 35L250 160L258 22L308 56L236 23L277 22L246 54L315 91L214 86L297 16L209 49L215 15L283 83L180 68L215 15L196 101L277 22L250 160L257 6L305 40L277 22L231 94L186 47L316 125L178 88L209 147L278 8L228 142L258 42L291 50L236 23L305 40L178 88L236 23L269 72L308 56L227 54L314 73L198 32L218 70L209 49L198 32L186 47L228 120L227 54L284 115L218 70L211 131L222 37L246 54L180 68L325 109L236 23L300 122L238 9L236 74L271 57L217 105L271 57L325 52L268 91L325 109L283 83L271 57L242 35L180 68L283 83L217 105L278 8L291 150L258 22L242 35L236 23L182 109L180 68L271 57"/>
<path stroke="#F26A30" d="M271 57L246 54L306 140L278 8L305 40L268 91L258 42L231 94L297 16L236 23L328 68L258 22L195 85L186 47L238 9L178 88L264 124L248 91L284 115L277 22L222 37L236 74L258 22L215 15L300 75L242 35L196 101L209 49L201 116L180 68L227 54L231 94L245 108L258 42L297 16L209 49L231 94L198 66L316 32L242 35L330 91L195 85L246 54L236 23L288 31L258 42L236 74L198 32L245 108L198 66L209 147L271 57L211 131L273 39L252 72L218 70L325 109L231 94L228 120L258 42L236 23L248 91L291 50L218 70L264 124L258 22L305 40L273 39L308 56L252 72L222 37L248 91L268 91L246 54L266 142L218 70L209 49L227 54L273 39L236 74L277 22L278 8L195 85L248 91L258 22L278 8L209 49L273 39L231 94L268 91L273 39L283 83L211 131L268 91L330 91L215 15L227 54L214 86L309 105L198 66L195 85L198 66L285 67L186 47L264 108L273 39L306 140L198 32L245 126L209 49L308 56L273 39L325 109L198 66L325 52L242 35L288 100L283 83L228 142L215 15L242 35L258 42L284 115L252 72L247 144L186 47L211 131L269 72L288 100L231 94L196 101L246 54L284 135L198 66L258 22L278 8"/>
<path stroke="#F26A30" d="M278 8L258 22L227 54L328 68L180 68L195 85L248 91L305 40L277 22L306 140L277 22L316 32L195 85L325 52L231 94L277 22L246 54L252 72L198 66L264 108L277 22L231 94L198 32L258 22L180 68L300 75L271 57L325 109L222 37L228 142L242 35L186 47L248 91L193 128L248 91L247 144L178 88L269 72L186 47L252 72L273 39L227 54L258 22L228 157L258 22L300 122L218 70L222 37L252 72L264 108L252 72L196 101L278 8L238 9L236 23L245 126L258 22L180 68L269 72L228 120L198 32L250 160L236 23L269 72L195 85L248 91L257 6L285 67L277 22L236 74L236 23L308 56L273 39L300 122L242 35L330 91L258 42L285 67L268 91L328 68L180 68L300 75L227 54L193 128L278 8L247 144L186 47L300 75L283 83L258 22L257 6L269 72L252 72L306 140L231 94L218 70L258 22L228 142L268 91L236 23L271 57L218 70L242 35L288 31L258 42L236 23L198 32L314 73L258 22L288 100L222 37L180 68L231 94L316 32L248 91L314 73L252 72L272 158L257 6L277 22L238 9L218 70L258 42L316 32L215 15L264 108L209 49L325 52L231 94L228 120L180 68L300 75L236 74L209 49L215 15L245 108"/>
<path stroke="#F26A30" d="M245 108L238 9L300 75L252 72L193 128L227 54L300 122L222 37L180 68L242 35L228 120L231 94L236 23L246 54L328 68L277 22L236 23L257 6L186 47L273 39L247 144L246 54L316 32L215 15L222 37L258 42L217 105L257 6L196 101L209 49L285 67L236 23L316 32L238 9L297 16L236 23L309 105L252 72L315 91L236 74L325 109L283 83L285 67L222 37L214 86L258 22L314 73L258 22L186 47L273 39L264 124L238 9L306 140L227 54L242 35L222 37L178 88L195 85L247 144L198 32L211 131L222 37L316 125L246 54L211 131L198 32L228 120L278 8L272 158L258 42L196 101L278 8L316 32L283 83L198 32L257 6L218 70L222 37L306 140L180 68L284 135L271 57L288 100L242 35L285 67L180 68L258 22L269 72L238 9L257 6L236 23L218 70L198 32L215 15L231 94L268 91L252 72L198 66L305 40L252 72L180 68L278 8L315 91L218 70L245 126L271 57L288 100L283 83L247 144L222 37L178 88L246 54L180 68L257 6L284 135L214 86L242 35L271 57L228 142L238 9L209 49L248 91L236 74L227 54L300 75L257 6L218 70L215 15L222 37L198 66L245 126L269 72L300 122L236 23L245 108L186 47"/>
<path stroke="#5CC8E2" d="M288 100L195 85L305 40L284 115L300 75L269 72L330 91L178 88L325 52L309 105L315 91L186 47L305 40L278 8L297 16L271 57L316 32L258 42L330 91L297 16L328 68L246 54L297 16L285 67L330 91L214 86L300 75L316 125L305 40L218 70L314 73L231 94L305 40L215 15L328 68L271 57L314 73L245 108L330 91L248 91L308 56L242 35L291 50L238 9L308 56L288 100L297 16L214 86L291 50L250 160L328 68L316 32L288 31L245 108L328 68L228 157L305 40L236 23L315 91L252 72L300 75L271 57L305 40L285 67L315 91L308 56L314 73L218 70L309 105L247 144L305 40L238 9L288 31"/>
<path stroke="#5CC8E2" d="M288 31L278 8L316 32L222 37L285 67L252 72L285 67L269 72L316 32L228 142L288 31L264 124L305 40L178 88L300 75L182 109L291 50L201 116L330 91L252 72L314 73L242 35L315 91L305 40L314 73L271 57L288 100L325 109L300 75L214 86L330 91L228 120L328 68L248 91L314 73L258 42L297 16L278 8L325 109L316 125L325 109L330 91L288 100L308 56L297 16L193 128L330 91L283 83L330 91L315 91L316 32L328 68L288 100L257 6L288 100L306 140L316 32L247 144L330 91L283 83L305 40L264 108L325 109L252 72L316 32L306 140L328 68L285 67L288 100L258 42L328 68L257 6L308 56"/>
<path stroke="#5CC8E2" d="M308 56L236 23L300 75L277 22L316 32L288 100L300 75L242 35L297 16L291 150L314 73L217 105L288 100L215 15L325 52L273 39L300 75L285 67L305 40L238 9L308 56L315 91L325 52L315 91L314 73L236 74L315 91L250 160L325 109L195 85L328 68L246 54L285 67L248 91L288 31L309 105L316 32L214 86L316 32L271 57L305 40L201 116L316 32L242 35L291 50L285 67L328 68L272 158L288 31L245 108L316 32L209 49L330 91L195 85L305 40L273 39L285 67L277 22L297 16L222 37L315 91L328 68L300 75L300 122L308 56L193 128L291 50L248 91L328 68L228 157L288 100L284 115L325 109"/>
<path stroke="#5CC8E2" d="M325 109L178 88L297 16L228 157L308 56L284 115L328 68L283 83L314 73L264 124L285 67L300 75L325 109L300 122L325 109L236 74L325 109L198 66L315 91L211 131L316 32L236 23L316 32L315 91L330 91L264 124L314 73L278 8L325 109L228 157L308 56L228 142L285 67L238 9L328 68L248 91L314 73L178 88L309 105L266 142L328 68L228 157L288 31L288 100L291 50L228 142L297 16L291 50L288 31L315 91L308 56L245 126L297 16L284 135L314 73L285 67L305 40L266 142L315 91L269 72L288 100L285 67L297 16L182 109L288 31L195 85L288 100L330 91L300 75L315 91L297 16L248 91L285 67"/>
<path stroke="#6BBF3E" d="M228 157L209 49L209 147L258 22L247 144L316 32L228 120L248 91L209 147L258 22L182 109L285 67L250 160L297 16L196 101L250 160L228 120L268 91L245 126L247 144L228 142L271 57L211 131L283 83L217 105L277 22L217 105L258 22L228 120L300 75L250 160L257 6L211 131L315 91L209 147L271 57L217 105L198 66L217 105L283 83L196 101L264 108L247 144L297 16L228 157L222 37L250 160L316 125L193 128L284 135L201 116L228 120L209 147L228 120L217 105L268 91L228 157L306 140L247 144L271 57L193 128L278 8L247 144L250 160"/>
<path stroke="#6BBF3E" d="M250 160L228 142L288 31L182 109L193 128L217 105L291 50L201 116L252 72L209 147L252 72L228 157L231 94L228 120L277 22L250 160L198 32L196 101L252 72L201 116L246 54L193 128L228 157L245 108L309 105L209 147L198 66L245 108L273 39L182 109L211 131L228 120L231 94L228 120L325 52L228 157L325 109L228 157L308 56L250 160L288 31L201 116L252 72L217 105L330 91L193 128L228 142L245 108L258 42L228 142L228 120L228 142L236 74L228 120L186 47L245 126L218 70L196 101L222 37L201 116L285 67L228 120L248 91L217 105"/>
<path stroke="#6BBF3E" d="M217 105L238 9L211 131L250 160L245 126L236 23L245 108L300 122L201 116L291 150L245 126L193 128L228 142L196 101L228 120L228 142L182 109L264 108L201 116L250 160L217 105L218 70L217 105L308 56L245 126L309 105L245 126L217 105L209 147L315 91L228 157L209 49L211 131L325 52L193 128L271 57L193 128L236 74L193 128L325 52L250 160L316 125L182 109L250 160L228 142L245 108L209 147L325 109L245 108L217 105L193 128L209 49L217 105L248 91L228 157L284 135L209 147L291 50L247 144L283 83L196 101L246 54L182 109L178 88"/>
<path stroke="#6BBF3E" d="M178 88L228 142L306 140L250 160L288 100L228 120L195 85L245 126L231 94L182 109L248 91L245 108L186 47L196 101L283 83L228 157L268 91L201 116L264 108L201 116L273 39L247 144L288 31L245 108L258 42L211 131L196 101L228 157L273 39L245 126L209 49L201 116L306 140L182 109L316 32L196 101L228 157L182 109L231 94L250 160L305 40L228 142L211 131L228 157L288 31L228 142L258 22L245 126L314 73L245 126L268 91L217 105L284 135L245 126L182 109L247 144L236 23L228 142L315 91L247 144L264 108L245 108L252 72L193 128"/>
<path stroke="#D17DEA" d="M306 140L214 86L264 124L245 126L316 125L231 94L266 142L258 42L272 158L218 70L264 108L308 56L264 124L330 91L284 135L227 54L306 140L316 32L272 158L217 105L306 140L273 39L264 124L228 142L291 150L228 120L264 124L288 31L306 140L247 144L306 140L308 56L316 125L236 23L300 122L218 70L284 135L305 40L272 158L264 108L306 140L325 52L284 135L231 94L284 135L198 66"/>
<path stroke="#D17DEA" d="M198 66L316 125L328 68L306 140L186 47L300 122L271 57L264 124L193 128L272 158L180 68L316 125L236 23L264 108L196 101L306 140L277 22L264 124L288 100L306 140L291 150L284 115L222 37L266 142L228 120L300 122L250 160L264 108L215 15L300 122L228 120L284 115L271 57L300 122L297 16L264 108L247 144L300 122L252 72L264 108L316 125L266 142L227 54L306 140L231 94L266 142"/>
<path stroke="#D17DEA" d="M266 142L325 109L291 150L182 109L306 140L217 105L306 140L236 74L291 150L330 91L266 142L248 91L316 125L228 142L264 124L278 8L300 122L228 120L284 135L316 32L284 135L247 144L300 122L209 49L272 158L309 105L284 135L258 42L316 125L277 22L306 140L277 22L300 122L283 83L284 135L245 126L291 150L264 124L266 142L285 67L291 150L242 35L264 124L217 105L316 125L291 150"/>
<path stroke="#D17DEA" d="M291 150L284 135L258 22L284 135L258 22L316 125L257 6L284 115L217 105L291 150L305 40L266 142L245 126L272 158L248 91L306 140L330 91L272 158L285 67L264 124L266 142L316 125L252 72L272 158L316 32L264 124L283 83L264 108L325 52L284 135L272 158L306 140L198 32L306 140L269 72L264 124L211 131L266 142L209 147L284 135L201 116L266 142L305 40L291 150L306 140L264 124"/>
</g>
<path stroke="#6BBF3E" stroke-width="1.6" stroke-opacity="0.7" d="M244.5 108.2L282.6 100.8"/>
<path fill="#6BBF3E" fill-opacity="0.9" d="M282.6 100.8L277.3 104.8L276.2 99.1Z"/>
<path stroke="#D17DEA" stroke-width="1.6" stroke-opacity="0.7" d="M283.7 135.2L267.7 112.3"/>
<path fill="#D17DEA" fill-opacity="0.9" d="M267.7 112.3L273.6 115.6L268.8 118.9Z"/>
<path stroke="#D17DEA" stroke-width="0.8" stroke-opacity="0.7" d="M264.4 107.6L312.9 36.8"/>
<path fill="#D17DEA" fill-opacity="0.9" d="M312.9 36.8L312.2 41.2L309 39Z"/>
<path stroke="#F26A30" stroke-width="0.8" stroke-opacity="0.7" d="M213.6 86.2L241.9 58.4"/>
<path fill="#F26A30" fill-opacity="0.9" d="M241.9 58.4L240.5 62.6L237.7 59.8Z"/>
<path stroke="#F26A30" stroke-width="0.8" stroke-opacity="0.7" d="M283.4 83.4L250.6 57.9"/>
<path fill="#F26A30" fill-opacity="0.9" d="M250.6 57.9L255 58.8L252.6 61.9Z"/>
<path stroke="#F26A30" stroke-width="0.6" stroke-opacity="0.7" d="M268.7 72.1L270.4 62.8"/>
<path fill="#F26A30" fill-opacity="0.9" d="M270.4 62.8L271.5 66.6L268.1 65.9Z"/>
<path stroke="#F26A30" stroke-width="0.6" stroke-opacity="0.7" d="M248.2 91.1L246.4 60.1"/>
<path fill="#F26A30" fill-opacity="0.9" d="M246.4 60.1L248.3 63.5L244.9 63.7Z"/>
<path stroke="#5CC8E2" stroke-width="0.8" stroke-opacity="0.7" d="M287.7 31.1L288.2 93.9"/>
<path fill="#5CC8E2" fill-opacity="0.9" d="M288.2 93.9L286.3 89.9L290.2 89.9Z"/>
<path stroke="#5CC8E2" stroke-width="0.8" stroke-opacity="0.7" d="M304.5 40.3L289.8 94.1"/>
<path fill="#5CC8E2" fill-opacity="0.9" d="M289.8 94.1L289 89.7L292.8 90.7Z"/>
<path stroke="#5CC8E2" stroke-width="0.8" stroke-opacity="0.7" d="M308.5 55.6L290.7 94.4"/>
<path fill="#5CC8E2" fill-opacity="0.9" d="M290.7 94.4L290.6 90L294.2 91.6Z"/>
<path stroke="#D17DEA" stroke-width="0.8" stroke-opacity="0.7" d="M316.5 125.4L269.9 109.5"/>
<path fill="#D17DEA" fill-opacity="0.9" d="M269.9 109.5L274.3 108.9L273 112.6Z"/>
<path stroke="#5CC8E2" stroke-width="0.6" stroke-opacity="0.7" d="M299.6 75.5L290.7 94.4"/>
<path fill="#5CC8E2" fill-opacity="0.9" d="M290.7 94.4L290.7 90.5L293.8 92Z"/>
<path stroke="#5CC8E2" stroke-width="0.6" stroke-opacity="0.7" d="M285.2 67.2L287.8 93.9"/>
<path fill="#5CC8E2" fill-opacity="0.9" d="M287.8 93.9L285.7 90.6L289.1 90.3Z"/>
<path stroke="#D17DEA" stroke-width="0.8" stroke-opacity="0.7" d="M264.4 107.6L282.9 71.7"/>
<path fill="#D17DEA" fill-opacity="0.9" d="M282.9 71.7L282.8 76.2L279.4 74.4Z"/>
<path stroke="#5CC8E2" stroke-width="0.8" stroke-opacity="0.7" d="M316.2 32L290.5 94.3"/>
<path fill="#5CC8E2" fill-opacity="0.9" d="M290.5 94.3L290.2 89.9L293.8 91.4Z"/>
<path stroke="#5CC8E2" stroke-width="0.6" stroke-opacity="0.7" d="M308.8 104.6L293.9 101"/>
<path fill="#5CC8E2" fill-opacity="0.9" d="M293.9 101L297.7 100.1L296.9 103.5Z"/>
<path stroke="#5CC8E2" stroke-width="0.6" stroke-opacity="0.7" d="M325 108.5L293.9 101"/>
<path fill="#5CC8E2" fill-opacity="0.9" d="M293.9 101L297.7 100.2L296.9 103.5Z"/>
<path stroke="#5CC8E2" stroke-width="0.6" stroke-opacity="0.7" d="M314.3 73.3L292.4 95.6"/>
<path fill="#5CC8E2" fill-opacity="0.9" d="M292.4 95.6L293.6 91.9L296 94.3Z"/>
<path stroke="#F26A30" stroke-width="0.8" stroke-opacity="0.7" d="M268.7 72.1L278.8 79.9"/>
<path fill="#F26A30" fill-opacity="0.9" d="M278.8 79.9L274.5 79L276.9 75.9Z"/>
<path stroke="#F26A30" stroke-width="0.8" stroke-opacity="0.7" d="M268.7 72.1L250.6 57.9"/>
<path fill="#F26A30" fill-opacity="0.9" d="M250.6 57.9L255 58.9L252.5 61.9Z"/>
<path stroke="#F26A30" stroke-width="0.6" stroke-opacity="0.7" d="M246.1 54.4L265.7 56.5"/>
<path fill="#F26A30" fill-opacity="0.9" d="M265.7 56.5L262.1 57.8L262.4 54.4Z"/>
<path stroke="#F26A30" stroke-width="0.6" stroke-opacity="0.7" d="M227.1 54.4L240.3 54.4"/>
<path fill="#F26A30" fill-opacity="0.9" d="M240.3 54.4L236.8 56.1L236.8 52.6Z"/>
<g stroke="#505050" stroke-width="0.35">
<circle cx="238.1" cy="8.8" r="4.7" fill="#F26A30"/>
<circle cx="257.1" cy="5.7" r="5" fill="#F26A30"/>
<circle cx="278.2" cy="8.2" r="4.7" fill="#F26A30"/>
<circle cx="214.8" cy="15.2" r="4.7" fill="#F26A30"/>
<circle cx="235.7" cy="22.5" r="4.7" fill="#F26A30"/>
<circle cx="257.7" cy="21.9" r="4.7" fill="#F26A30"/>
<circle cx="276.7" cy="21.9" r="5" fill="#F26A30"/>
<circle cx="198.3" cy="32" r="4.7" fill="#F26A30"/>
<circle cx="221.6" cy="36.6" r="5" fill="#F26A30"/>
<circle cx="242.4" cy="34.8" r="4.7" fill="#F26A30"/>
<circle cx="257.7" cy="41.8" r="5" fill="#F26A30"/>
<circle cx="272.7" cy="39.1" r="5" fill="#F26A30"/>
<circle cx="186.4" cy="47.3" r="4.7" fill="#F26A30"/>
<circle cx="209" cy="48.6" r="4.7" fill="#F26A30"/>
<circle cx="227.1" cy="54.4" r="5.8" fill="#F26A30"/>
<circle cx="246.1" cy="54.4" r="5.8" fill="#F26A30"/>
<circle cx="271.5" cy="57.1" r="5.8" fill="#F26A30"/>
<circle cx="179.7" cy="67.8" r="4.7" fill="#F26A30"/>
<circle cx="197.7" cy="65.7" r="4.7" fill="#F26A30"/>
<circle cx="217.6" cy="69.7" r="5" fill="#F26A30"/>
<circle cx="235.7" cy="74" r="5" fill="#F26A30"/>
<circle cx="251.6" cy="71.5" r="5.8" fill="#F26A30"/>
<circle cx="268.7" cy="72.1" r="5.8" fill="#F26A30"/>
<circle cx="177.5" cy="88.3" r="4.7" fill="#F26A30"/>
<circle cx="195.3" cy="85" r="4.7" fill="#F26A30"/>
<circle cx="213.6" cy="86.2" r="5.8" fill="#F26A30"/>
<circle cx="231.4" cy="94.2" r="5" fill="#F26A30"/>
<circle cx="248.2" cy="91.1" r="5.8" fill="#F26A30"/>
<circle cx="268.1" cy="91.1" r="5" fill="#F26A30"/>
<circle cx="283.4" cy="83.4" r="5.8" fill="#F26A30"/>
<circle cx="296.9" cy="15.8" r="4.7" fill="#5CC8E2"/>
<circle cx="287.7" cy="31.1" r="5" fill="#5CC8E2"/>
<circle cx="316.2" cy="32" r="5.8" fill="#5CC8E2"/>
<circle cx="304.5" cy="40.3" r="5" fill="#5CC8E2"/>
<circle cx="290.7" cy="50.4" r="5" fill="#5CC8E2"/>
<circle cx="308.5" cy="55.6" r="5" fill="#5CC8E2"/>
<circle cx="325" cy="51.6" r="5" fill="#5CC8E2"/>
<circle cx="285.2" cy="67.2" r="5" fill="#5CC8E2"/>
<circle cx="299.6" cy="75.5" r="5" fill="#5CC8E2"/>
<circle cx="314.3" cy="73.3" r="5" fill="#5CC8E2"/>
<circle cx="328.1" cy="68.4" r="4.7" fill="#5CC8E2"/>
<circle cx="314.6" cy="90.8" r="5" fill="#5CC8E2"/>
<circle cx="329.9" cy="90.8" r="4.7" fill="#5CC8E2"/>
<circle cx="288.3" cy="99.7" r="5.8" fill="#5CC8E2"/>
<circle cx="308.8" cy="104.6" r="5" fill="#5CC8E2"/>
<circle cx="325" cy="108.5" r="5" fill="#5CC8E2"/>
<circle cx="195.9" cy="100.6" r="4.7" fill="#6BBF3E"/>
<circle cx="217.3" cy="104.6" r="4.7" fill="#6BBF3E"/>
<circle cx="182.1" cy="108.5" r="4.7" fill="#6BBF3E"/>
<circle cx="201.4" cy="116.2" r="5" fill="#6BBF3E"/>
<circle cx="244.5" cy="108.2" r="5.8" fill="#6BBF3E"/>
<circle cx="228" cy="120.5" r="5" fill="#6BBF3E"/>
<circle cx="193.4" cy="128.4" r="4.7" fill="#6BBF3E"/>
<circle cx="211.2" cy="130.6" r="5" fill="#6BBF3E"/>
<circle cx="245.5" cy="126" r="5.8" fill="#6BBF3E"/>
<circle cx="227.7" cy="141.6" r="4.7" fill="#6BBF3E"/>
<circle cx="246.7" cy="144.3" r="4.7" fill="#6BBF3E"/>
<circle cx="208.7" cy="147.4" r="4.7" fill="#6BBF3E"/>
<circle cx="227.7" cy="156.6" r="4.7" fill="#6BBF3E"/>
<circle cx="250" cy="160.3" r="4.7" fill="#6BBF3E"/>
<circle cx="264.4" cy="107.6" r="5.8" fill="#D17DEA"/>
<circle cx="283.7" cy="115.3" r="5.8" fill="#D17DEA"/>
<circle cx="300.2" cy="121.7" r="5" fill="#D17DEA"/>
<circle cx="316.5" cy="125.4" r="5.8" fill="#D17DEA"/>
<circle cx="264.4" cy="124.1" r="5" fill="#D17DEA"/>
<circle cx="283.7" cy="135.2" r="5.8" fill="#D17DEA"/>
<circle cx="305.7" cy="140.4" r="4.7" fill="#D17DEA"/>
<circle cx="266.3" cy="141.9" r="5" fill="#D17DEA"/>
<circle cx="290.7" cy="150.5" r="4.7" fill="#D17DEA"/>
<circle cx="272.4" cy="158.1" r="4.7" fill="#D17DEA"/>
</g>
<text class="l" x="238.1" y="10" font-size="5.2" textLength="8.6" lengthAdjust="spacingAndGlyphs">EST</text>
<text class="l" x="257.1" y="7.1" font-size="5.6" textLength="9.3" lengthAdjust="spacingAndGlyphs">LTU</text>
<text class="l" x="278.2" y="9.4" font-size="5.2" textLength="8.6" lengthAdjust="spacingAndGlyphs">SVN</text>
<text class="l" x="214.8" y="16.5" font-size="5.2">ISL</text>
<text class="l" x="235.7" y="23.8" font-size="5.2" textLength="8.6" lengthAdjust="spacingAndGlyphs">CYP</text>
<text class="l" x="257.7" y="23.2" font-size="5.2" textLength="8.6" lengthAdjust="spacingAndGlyphs">UKR</text>
<text class="l" x="276.7" y="23.3" font-size="5.6" textLength="9.3" lengthAdjust="spacingAndGlyphs">SWE</text>
<text class="l" x="198.3" y="33.3" font-size="5.2" textLength="8.6" lengthAdjust="spacingAndGlyphs">SRB</text>
<text class="l" x="221.6" y="38" font-size="5.6" textLength="9.3" lengthAdjust="spacingAndGlyphs">CHE</text>
<text class="l" x="242.4" y="36" font-size="5.2" textLength="8.6" lengthAdjust="spacingAndGlyphs">ROU</text>
<text class="l" x="257.7" y="43.2" font-size="5.6" textLength="9.3" lengthAdjust="spacingAndGlyphs">DNK</text>
<text class="l" x="272.7" y="40.4" font-size="5.6" textLength="9.3" lengthAdjust="spacingAndGlyphs">NOR</text>
<text class="l" x="186.4" y="48.6" font-size="5.2" textLength="8.6" lengthAdjust="spacingAndGlyphs">MAR</text>
<text class="l" x="209" y="49.8" font-size="5.2" textLength="8.6" lengthAdjust="spacingAndGlyphs">CZE</text>
<text class="l" x="227.1" y="55.9" font-size="6.5" textLength="10.7" lengthAdjust="spacingAndGlyphs">GBR</text>
<text class="l" x="246.1" y="55.9" font-size="6.5" textLength="10.7" lengthAdjust="spacingAndGlyphs">DEU</text>
<text class="l" x="271.5" y="58.7" font-size="6.5" textLength="10.7" lengthAdjust="spacingAndGlyphs">FRA</text>
<text class="l" x="179.7" y="69.1" font-size="5.2" textLength="8.6" lengthAdjust="spacingAndGlyphs">SVK</text>
<text class="l" x="197.7" y="67" font-size="5.2" textLength="8.6" lengthAdjust="spacingAndGlyphs">GRC</text>
<text class="l" x="217.6" y="71" font-size="5.6" textLength="9.3" lengthAdjust="spacingAndGlyphs">HUN</text>
<text class="l" x="235.7" y="75.3" font-size="5.6" textLength="9.3" lengthAdjust="spacingAndGlyphs">PRT</text>
<text class="l" x="251.6" y="73.1" font-size="6.5" textLength="10.7" lengthAdjust="spacingAndGlyphs">BEL</text>
<text class="l" x="268.7" y="73.7" font-size="6.5" textLength="10.7" lengthAdjust="spacingAndGlyphs">ESP</text>
<text class="l" x="177.5" y="89.6" font-size="5.2" textLength="8.6" lengthAdjust="spacingAndGlyphs">BGR</text>
<text class="l" x="195.3" y="86.2" font-size="5.2">FIN</text>
<text class="l" x="213.6" y="87.8" font-size="6.5">ITA</text>
<text class="l" x="231.4" y="95.5" font-size="5.6" textLength="9.3" lengthAdjust="spacingAndGlyphs">AUT</text>
<text class="l" x="248.2" y="92.7" font-size="6.5" textLength="10.7" lengthAdjust="spacingAndGlyphs">POL</text>
<text class="l" x="268.1" y="92.5" font-size="5.6">IRL</text>
<text class="l" x="283.4" y="85" font-size="6.5" textLength="10.7" lengthAdjust="spacingAndGlyphs">NLD</text>
<text class="l" x="296.9" y="17.1" font-size="5.2" textLength="8.6" lengthAdjust="spacingAndGlyphs">PER</text>
<text class="l" x="287.7" y="32.5" font-size="5.6" textLength="9.3" lengthAdjust="spacingAndGlyphs">AUS</text>
<text class="l" x="316.2" y="33.6" font-size="6.5" textLength="10.7" lengthAdjust="spacingAndGlyphs">KOR</text>
<text class="l" x="304.5" y="41.6" font-size="5.6" textLength="9.3" lengthAdjust="spacingAndGlyphs">NZL</text>
<text class="l" x="290.7" y="51.7" font-size="5.6" textLength="9.3" lengthAdjust="spacingAndGlyphs">SGP</text>
<text class="l" x="308.5" y="57" font-size="5.6" textLength="9.3" lengthAdjust="spacingAndGlyphs">ARG</text>
<text class="l" x="325" y="53" font-size="5.6" textLength="9.3" lengthAdjust="spacingAndGlyphs">URY</text>
<text class="l" x="285.2" y="68.6" font-size="5.6" textLength="9.3" lengthAdjust="spacingAndGlyphs">JPN</text>
<text class="l" x="299.6" y="76.8" font-size="5.6" textLength="9.3" lengthAdjust="spacingAndGlyphs">THA</text>
<text class="l" x="314.3" y="74.7" font-size="5.6" textLength="9.3" lengthAdjust="spacingAndGlyphs">IDN</text>
<text class="l" x="328.1" y="69.7" font-size="5.2" textLength="8.6" lengthAdjust="spacingAndGlyphs">HKG</text>
<text class="l" x="314.6" y="92.1" font-size="5.6" textLength="9.3" lengthAdjust="spacingAndGlyphs">RUS</text>
<text class="l" x="329.9" y="92" font-size="5.2" textLength="8.6" lengthAdjust="spacingAndGlyphs">UZB</text>
<text class="l" x="288.3" y="101.2" font-size="6.5" textLength="10.7" lengthAdjust="spacingAndGlyphs">CHN</text>
<text class="l" x="308.8" y="105.9" font-size="5.6" textLength="9.3" lengthAdjust="spacingAndGlyphs">MYS</text>
<text class="l" x="325" y="109.9" font-size="5.6" textLength="9.3" lengthAdjust="spacingAndGlyphs">ECU</text>
<text class="l" x="195.9" y="101.8" font-size="5.2" textLength="8.6" lengthAdjust="spacingAndGlyphs">SEN</text>
<text class="l" x="217.3" y="105.8" font-size="5.2" textLength="8.6" lengthAdjust="spacingAndGlyphs">KWT</text>
<text class="l" x="182.1" y="109.8" font-size="5.2" textLength="8.6" lengthAdjust="spacingAndGlyphs">OMN</text>
<text class="l" x="201.4" y="117.5" font-size="5.6" textLength="9.3" lengthAdjust="spacingAndGlyphs">KEN</text>
<text class="l" x="244.5" y="109.8" font-size="6.5" textLength="10.7" lengthAdjust="spacingAndGlyphs">BRA</text>
<text class="l" x="228" y="121.8" font-size="5.6" textLength="9.3" lengthAdjust="spacingAndGlyphs">ARE</text>
<text class="l" x="193.4" y="129.7" font-size="5.2" textLength="8.6" lengthAdjust="spacingAndGlyphs">TZA</text>
<text class="l" x="211.2" y="131.9" font-size="5.6" textLength="9.3" lengthAdjust="spacingAndGlyphs">EGY</text>
<text class="l" x="245.5" y="127.5" font-size="6.5" textLength="10.7" lengthAdjust="spacingAndGlyphs">TUR</text>
<text class="l" x="227.7" y="142.9" font-size="5.2" textLength="8.6" lengthAdjust="spacingAndGlyphs">PAK</text>
<text class="l" x="246.7" y="145.6" font-size="5.2" textLength="8.6" lengthAdjust="spacingAndGlyphs">MDV</text>
<text class="l" x="208.7" y="148.7" font-size="5.2" textLength="8.6" lengthAdjust="spacingAndGlyphs">LBN</text>
<text class="l" x="227.7" y="157.8" font-size="5.2" textLength="8.6" lengthAdjust="spacingAndGlyphs">SHR</text>
<text class="l" x="250" y="161.5" font-size="5.2" textLength="8.6" lengthAdjust="spacingAndGlyphs">EIN</text>
<text class="l" x="264.4" y="109.2" font-size="6.5" textLength="10.7" lengthAdjust="spacingAndGlyphs">USA</text>
<text class="l" x="283.7" y="116.8" font-size="6.5" textLength="10.7" lengthAdjust="spacingAndGlyphs">IND</text>
<text class="l" x="300.2" y="123.1" font-size="5.6" textLength="9.3" lengthAdjust="spacingAndGlyphs">LKA</text>
<text class="l" x="316.5" y="126.9" font-size="6.5" textLength="10.7" lengthAdjust="spacingAndGlyphs">CHL</text>
<text class="l" x="264.4" y="125.5" font-size="5.6" textLength="9.3" lengthAdjust="spacingAndGlyphs">ZAF</text>
<text class="l" x="283.7" y="136.7" font-size="6.5" textLength="10.7" lengthAdjust="spacingAndGlyphs">CAN</text>
<text class="l" x="305.7" y="141.6" font-size="5.2" textLength="8.6" lengthAdjust="spacingAndGlyphs">ISR</text>
<text class="l" x="266.3" y="143.3" font-size="5.6" textLength="9.3" lengthAdjust="spacingAndGlyphs">VNM</text>
<text class="l" x="290.7" y="151.7" font-size="5.2" textLength="8.6" lengthAdjust="spacingAndGlyphs">COL</text>
<text class="l" x="272.4" y="159.4" font-size="5.2" textLength="8.6" lengthAdjust="spacingAndGlyphs">PHL</text>
<clipPath id="hc"><path d="M347.1 79.5L349.2 57.7L355.6 38.8L373.1 18.3L394.8 9.1L417.8 5.1L441.9 6L464 13.7L482.6 29.6L497.9 53.4L499.5 72.7L500.1 96L494.6 115L486.3 135.2L469.2 149.2L448.4 157.8L419 159.6L391.4 157.2L367 139.8L354.1 119.9L348.3 100.6Z"/></clipPath>
<g clip-path="url(#hc)" fill-opacity="0.022">
<circle cx="394.8" cy="9.1" r="22" fill="#6BBF3E"/>
<circle cx="417.8" cy="5.1" r="22" fill="#6BBF3E"/>
<circle cx="441.9" cy="6" r="22" fill="#6BBF3E"/>
<circle cx="373.1" cy="18.3" r="22" fill="#6BBF3E"/>
<circle cx="394.8" cy="25.9" r="22" fill="#6BBF3E"/>
<circle cx="413.8" cy="21" r="22" fill="#6BBF3E"/>
<circle cx="436.4" cy="21.9" r="22" fill="#6BBF3E"/>
<circle cx="355.6" cy="38.8" r="22" fill="#6BBF3E"/>
<circle cx="373.1" cy="35.1" r="22" fill="#6BBF3E"/>
<circle cx="400.6" cy="40.3" r="22" fill="#6BBF3E"/>
<circle cx="420.5" cy="39.4" r="22" fill="#6BBF3E"/>
<circle cx="384.7" cy="48.6" r="22" fill="#6BBF3E"/>
<circle cx="369.1" cy="58" r="22" fill="#6BBF3E"/>
<circle cx="415" cy="53.4" r="22" fill="#6BBF3E"/>
<circle cx="349.2" cy="57.7" r="22" fill="#6BBF3E"/>
<circle cx="397.6" cy="61.1" r="22" fill="#6BBF3E"/>
<circle cx="379.5" cy="71.8" r="22" fill="#6BBF3E"/>
<circle cx="418.7" cy="70.3" r="22" fill="#6BBF3E"/>
<circle cx="396.9" cy="79.5" r="22" fill="#6BBF3E"/>
<circle cx="415.6" cy="84.7" r="22" fill="#6BBF3E"/>
<circle cx="347.1" cy="79.5" r="22" fill="#6BBF3E"/>
<circle cx="362.7" cy="78.2" r="22" fill="#6BBF3E"/>
<circle cx="399.4" cy="95.4" r="22" fill="#6BBF3E"/>
<circle cx="408.9" cy="108.5" r="22" fill="#6BBF3E"/>
<circle cx="379.8" cy="90.2" r="22" fill="#5CC8E2"/>
<circle cx="348.3" cy="100.6" r="22" fill="#5CC8E2"/>
<circle cx="367.3" cy="101.5" r="22" fill="#5CC8E2"/>
<circle cx="387.2" cy="110.7" r="22" fill="#5CC8E2"/>
<circle cx="354.1" cy="119.9" r="22" fill="#5CC8E2"/>
<circle cx="371.5" cy="117.7" r="22" fill="#5CC8E2"/>
<circle cx="399.1" cy="124.5" r="22" fill="#5CC8E2"/>
<circle cx="419.9" cy="126.6" r="22" fill="#5CC8E2"/>
<circle cx="367" cy="139.8" r="22" fill="#5CC8E2"/>
<circle cx="384.7" cy="135.2" r="22" fill="#5CC8E2"/>
<circle cx="404.9" cy="142.2" r="22" fill="#5CC8E2"/>
<circle cx="423.6" cy="143.4" r="22" fill="#5CC8E2"/>
<circle cx="391.4" cy="157.2" r="22" fill="#5CC8E2"/>
<circle cx="419" cy="159.6" r="22" fill="#5CC8E2"/>
<circle cx="464" cy="13.7" r="22" fill="#D17DEA"/>
<circle cx="453.3" cy="30.2" r="22" fill="#D17DEA"/>
<circle cx="482.6" cy="29.6" r="22" fill="#D17DEA"/>
<circle cx="440.4" cy="40.9" r="22" fill="#D17DEA"/>
<circle cx="471.9" cy="40.3" r="22" fill="#D17DEA"/>
<circle cx="462.1" cy="51.9" r="22" fill="#D17DEA"/>
<circle cx="448.1" cy="58.7" r="22" fill="#D17DEA"/>
<circle cx="482.9" cy="53.1" r="22" fill="#D17DEA"/>
<circle cx="497.9" cy="53.4" r="22" fill="#D17DEA"/>
<circle cx="432.1" cy="62" r="22" fill="#D17DEA"/>
<circle cx="468.6" cy="71.5" r="22" fill="#D17DEA"/>
<circle cx="482.9" cy="70.3" r="22" fill="#D17DEA"/>
<circle cx="499.5" cy="72.7" r="22" fill="#D17DEA"/>
<circle cx="447.1" cy="78.2" r="22" fill="#D17DEA"/>
<circle cx="463.4" cy="85.3" r="22" fill="#D17DEA"/>
<circle cx="481.7" cy="88.3" r="22" fill="#D17DEA"/>
<circle cx="500.1" cy="96" r="22" fill="#D17DEA"/>
<circle cx="432.8" cy="86.2" r="22" fill="#F26A30"/>
<circle cx="427.2" cy="103" r="22" fill="#F26A30"/>
<circle cx="445.6" cy="102.4" r="22" fill="#F26A30"/>
<circle cx="465.8" cy="100.3" r="22" fill="#F26A30"/>
<circle cx="484.8" cy="103" r="22" fill="#F26A30"/>
<circle cx="457.9" cy="116.2" r="22" fill="#F26A30"/>
<circle cx="478.1" cy="116.2" r="22" fill="#F26A30"/>
<circle cx="494.6" cy="115" r="22" fill="#F26A30"/>
<circle cx="437.7" cy="126" r="22" fill="#F26A30"/>
<circle cx="473.2" cy="128.4" r="22" fill="#F26A30"/>
<circle cx="456.6" cy="133.6" r="22" fill="#F26A30"/>
<circle cx="486.3" cy="135.2" r="22" fill="#F26A30"/>
<circle cx="441.3" cy="140.7" r="22" fill="#F26A30"/>
<circle cx="469.2" cy="149.2" r="22" fill="#F26A30"/>
<circle cx="448.4" cy="157.8" r="22" fill="#F26A30"/>
</g>
<g fill="none" stroke-width="0.45" stroke-opacity="0.13" stroke-linejoin="bevel">
<path stroke="#6BBF3E" d="M419 70L473 128L395 9L399 95L373 35L432 62L409 109L483 30L409 109L405 142L363 78L356 39L409 109L469 72L414 21L469 72L401 40L397 79L399 95L385 135L395 9L457 134L421 39L399 124L414 21L424 143L380 72L391 157L363 78L373 35L356 39L427 103L436 22L483 70L399 95L418 5L421 39L483 70L398 61L419 160L349 58L418 5L401 40L363 78L414 21L448 59L369 58L462 52L415 53L478 116L442 6L440 41L416 85L421 39L380 72L448 158L436 22L419 70L395 9L354 120L401 40L419 70L363 78L440 41L356 39L416 85L418 5L482 88L399 95L395 9L347 79L436 22L414 21L354 120L380 72L482 88L419 70L424 143L419 70L464 14L395 9L414 21L347 79L385 49L349 58L421 39L349 58L498 53L395 9L485 103L436 22L447 78L397 79L419 160L409 109L391 157L363 78L391 157L442 6L397 79L436 22L453 30L399 95L448 59L414 21L457 134L409 109L385 135L347 79"/>
<path stroke="#6BBF3E" d="M347 79L495 115L398 61L440 41L415 53L436 22L415 53L385 49L415 53L499 73L401 40L469 149L401 40L495 115L436 22L415 53L356 39L395 9L418 5L420 127L363 78L427 103L442 6L418 5L436 22L367 101L419 70L385 135L347 79L363 78L398 61L442 6L399 95L367 140L419 70L469 149L401 40L372 118L418 5L363 78L442 6L432 62L380 72L399 124L380 72L373 18L399 95L457 134L421 39L419 70L415 53L419 160L349 58L438 126L380 72L483 70L356 39L419 160L395 9L348 101L380 72L499 73L436 22L463 85L416 85L369 58L373 18L483 30L419 70L438 126L397 79L440 41L380 72L446 102L436 22L458 116L401 40L421 39L418 5L432 62L373 35L464 14L414 21L399 95L436 22L495 115L399 95L373 18L436 22L348 101L347 79L432 62L436 22L414 21L398 61L469 149L397 79L405 142L442 6L420 127L415 53L483 70L418 5L427 103L369 58L469 72L419 70L486 135L380 72"/>
<path stroke="#6BBF3E" d="M380 72L405 142L409 109L395 9L369 58L363 78L347 79L446 102L399 95L356 39L415 53L418 5L401 40L483 53L347 79L436 22L385 49L363 78L373 35L463 85L369 58L363 78L415 53L405 142L399 95L387 111L395 9L462 52L397 79L395 26L415 53L380 90L380 72L432 62L409 109L367 140L419 70L438 126L395 9L385 135L416 85L483 53L416 85L441 141L419 70L458 116L409 109L405 142L385 49L385 135L373 18L427 103L414 21L409 109L373 18L367 140L416 85L348 101L419 70L446 102L349 58L387 111L385 49L395 26L395 9L414 21L349 58L478 116L436 22L453 30L347 79L469 149L356 39L395 26L399 95L457 134L409 109L457 134L395 26L405 142L416 85L495 115L436 22L463 85L398 61L469 72L442 6L405 142L401 40L348 101L401 40L373 18L373 35L440 41L373 35L380 90L418 5L433 86L414 21L373 35L397 79L447 78L380 72L463 85L442 6L441 141L415 53L409 109L418 5"/>
<path stroke="#6BBF3E" d="M418 5L446 102L363 78L448 158L356 39L369 58L421 39L453 30L369 58L495 115L347 79L483 53L401 40L380 90L349 58L433 86L363 78L446 102L442 6L399 95L409 109L442 6L416 85L424 143L419 70L372 118L385 49L373 18L414 21L466 100L436 22L482 88L415 53L399 95L385 49L433 86L395 26L478 116L395 9L380 72L356 39L414 21L419 70L424 143L395 9L418 5L373 18L440 41L385 49L469 72L421 39L469 149L369 58L473 128L399 95L457 134L363 78L349 58L363 78L447 78L356 39L469 149L409 109L369 58L436 22L354 120L401 40L372 118L398 61L499 73L409 109L447 78L418 5L464 14L401 40L399 124L436 22L478 116L414 21L483 53L414 21L409 109L442 6L427 103L385 49L387 111L419 70L432 62L369 58L463 85L356 39L466 100L416 85L436 22L409 109L419 160L347 79L448 59L414 21L448 158L373 35L472 40L397 79L478 116L421 39L440 41L399 95L483 70L414 21"/>
<path stroke="#5CC8E2" d="M372 118L427 103L399 124L483 70L419 160L462 52L367 140L420 127L387 111L466 100L424 143L419 160L399 124L395 9L385 135L469 149L399 124L453 30L387 111L498 53L391 157L373 18L380 90L414 21L380 90L367 101L385 135L485 103L367 140L414 21L424 143L485 103L367 101L405 142L367 101L385 49L387 111L398 61L399 124L367 101L372 118L472 40L354 120L457 134L367 140L483 53L387 111L349 58L354 120L405 142L424 143L399 124L387 111L380 90L387 111L347 79L367 140L401 40L380 90L380 72L380 90L416 85L419 160L457 134"/>
<path stroke="#5CC8E2" d="M457 134L399 124L414 21L354 120L367 140L367 101L463 85L367 140L395 9L399 124L440 41L420 127L483 30L367 140L399 124L348 101L416 85L387 111L363 78L385 135L499 73L367 101L486 135L419 160L495 115L391 157L472 40L405 142L367 101L391 157L416 85L372 118L433 86L405 142L369 58L354 120L436 22L399 124L401 40L367 101L442 6L387 111L409 109L372 118L440 41L391 157L438 126L380 90L482 88L424 143L483 70L348 101L419 70L348 101L483 70L420 127L472 40L385 135L438 126L387 111L469 149L348 101L409 109L391 157"/>
<path stroke="#5CC8E2" d="M391 157L369 58L420 127L385 135L354 120L483 30L424 143L440 41L419 160L395 9L367 140L405 142L419 160L415 53L391 157L483 53L372 118L458 116L399 124L347 79L387 111L483 70L391 157L398 61L354 120L387 111L385 135L420 127L380 90L486 135L367 140L356 39L348 101L482 88L419 160L446 102L385 135L372 118L354 120L421 39L348 101L419 70L387 111L447 78L420 127L349 58L380 90L448 158L354 120L457 134L372 118L462 52L405 142L367 101L405 142L356 39L391 157L409 109L380 90L421 39L380 90L387 111L424 143L347 79"/>
<path stroke="#5CC8E2" d="M347 79L348 101L473 128L391 157L453 30L405 142L401 40L380 90L416 85L391 157L447 78L367 101L418 5L348 101L466 100L354 120L372 118L367 140L483 30L391 157L356 39L387 111L391 157L380 90L409 109L399 124L442 6L367 101L421 39L385 135L372 118L348 101L436 22L372 118L483 70L348 101L433 86L387 111L485 103L367 140L363 78L399 124L395 9L387 111L421 39L354 120L466 100L354 120L363 78L367 101L415 53L405 142L478 116L399 124L380 72L419 160L356 39L391 157L419 70L405 142L433 86L354 120L482 88L391 157"/>
<path stroke="#D17DEA" d="M440 41L415 53L440 41L442 6L447 78L409 109L447 78L462 52L469 72L446 102L448 59L440 41L432 62L385 135L463 85L372 118L463 85L347 79L447 78L469 72L448 59L482 88L464 14L401 40L469 72L482 88L440 41L418 5L472 40L462 52L483 30L409 109L472 40L457 134L472 40L419 70L432 62L399 95L453 30L373 35L462 52L463 85L462 52L395 26L498 53L466 100L462 52L482 88L483 30L483 70L498 53L398 61L472 40L397 79L483 30L367 101L483 70L399 124L483 30L414 21L453 30L463 85L447 78L419 160L447 78L415 53L472 40L356 39L498 53L447 78L462 52L495 115L462 52L401 40L483 30L418 5L463 85"/>
<path stroke="#D17DEA" d="M463 85L347 79L500 96L380 72L463 85L354 120L483 70L483 53L462 52L399 124L453 30L391 157L498 53L469 149L453 30L401 40L469 72L483 70L462 52L486 135L462 52L418 5L472 40L473 128L500 96L466 100L462 52L448 158L500 96L441 141L472 40L367 140L483 70L448 158L483 30L405 142L483 30L453 30L498 53L482 88L447 78L398 61L483 30L485 103L499 73L432 62L483 53L401 40L432 62L483 30L448 59L462 52L469 72L401 40L448 59L367 140L469 72L466 100L498 53L432 62L472 40L397 79L432 62L478 116L472 40L405 142L482 88L385 135L432 62L356 39L463 85L453 30L483 30L485 103L464 14L485 103L483 30"/>
<path stroke="#D17DEA" d="M483 30L385 49L464 14L367 140L463 85L478 116L462 52L500 96L499 73L424 143L483 70L440 41L482 88L448 158L499 73L380 72L472 40L483 70L447 78L398 61L483 53L458 116L447 78L399 95L440 41L485 103L483 53L424 143L440 41L447 78L472 40L401 40L500 96L457 134L462 52L416 85L440 41L462 52L483 70L448 59L483 70L469 149L482 88L448 59L483 53L483 30L464 14L395 9L499 73L416 85L499 73L469 149L499 73L373 18L447 78L458 116L482 88L354 120L432 62L419 70L464 14L419 160L498 53L369 58L483 70L462 52L499 73L397 79L483 53L457 134L464 14L447 78L448 59L387 111L483 53L395 9L448 59"/>
<path stroke="#D17DEA" d="M448 59L440 41L483 70L385 49L483 53L416 85L483 70L457 134L482 88L446 102L499 73L469 72L432 62L462 52L447 78L458 116L440 41L499 73L464 14L401 40L472 40L446 102L499 73L424 143L448 59L446 102L447 78L427 103L448 59L356 39L453 30L436 22L483 53L348 101L469 72L499 73L482 88L416 85L464 14L446 102L447 78L448 59L483 53L427 103L483 30L466 100L472 40L448 59L462 52L380 90L464 14L421 39L483 53L414 21L463 85L442 6L483 53L367 140L464 14L369 58L432 62L424 143L432 62L469 149L448 59L472 40L483 30L401 40L483 53L457 134L500 96L466 100L500 96L415 53L499 73L395 26L498 53"/>
<path stroke="#D17DEA" d="M498 53L395 26L448 59"/>
<path stroke="#F26A30" d="M446 102L441 141L433 86L409 109L485 103L387 111L433 86L395 9L441 141L391 157L438 126L482 88L458 116L398 61L466 100L354 120L446 102L499 73L466 100L373 18L478 116L436 22L478 116L433 86L438 126L414 21L469 149L432 62L446 102L349 58L473 128L466 100L485 103L442 6L457 134L448 158L473 128L440 41L485 103L483 30L441 141L395 26L438 126L427 103L458 116L447 78L446 102L483 53L486 135L446 102L469 149L347 79L427 103L448 59L457 134L433 86L448 158L421 39L466 100L415 53L448 158L405 142L469 149L421 39L448 158L472 40L469 149L420 127"/>
<path stroke="#F26A30" d="M420 127L448 158L469 149L478 116L401 40L486 135L414 21L473 128L442 6L438 126L409 109L438 126L499 73L457 134L380 72L478 116L483 70L495 115L405 142L473 128L363 78L446 102L448 59L469 149L466 100L478 116L472 40L441 141L463 85L486 135L457 134L478 116L446 102L473 128L495 115L466 100L373 18L478 116L424 143L446 102L387 111L427 103L469 149L438 126L498 53L486 135L419 160L448 158L440 41L438 126L363 78L448 158L463 85L473 128L453 30L466 100L472 40L427 103L367 140L446 102L416 85L427 103L395 26L441 141L354 120L478 116L438 126L457 134"/>
<path stroke="#F26A30" d="M457 134L363 78L441 141L385 135L457 134L498 53L466 100L486 135L478 116L380 90L458 116L419 160L486 135L424 143L495 115L447 78L446 102L347 79L438 126L485 103L427 103L433 86L495 115L498 53L495 115L448 158L485 103L495 115L478 116L399 95L486 135L458 116L438 126L354 120L495 115L416 85L478 116L498 53L433 86L421 39L457 134L446 102L469 149L395 26L486 135L483 30L486 135L367 140L446 102L485 103L433 86L395 9L446 102L432 62L448 158L354 120L478 116L466 100L486 135L399 95L438 126L448 59L438 126L409 109L448 158L356 39L441 141L458 116"/>
<path stroke="#F26A30" d="M458 116L441 141L483 70L427 103L387 111L466 100L415 53L486 135L380 90L446 102L409 109L458 116L419 70L446 102L385 135L495 115L469 149L441 141L499 73L441 141L391 157L448 158L363 78L438 126L367 101L457 134L441 141L469 149L483 30L438 126L395 9L441 141L462 52L438 126L420 127L446 102L433 86L485 103L447 78L438 126L356 39L448 158L349 58L485 103L420 127L446 102L415 53L458 116L473 128L446 102L436 22L438 126L436 22L485 103L395 26L441 141L448 59L458 116L405 142L448 158L427 103L448 158L391 157L485 103L483 30L466 100L385 135L438 126"/>
<path stroke="#F26A30" d="M438 126L432 62L438 126"/>
</g>
<path stroke="#F26A30" stroke-width="2.2" stroke-opacity="0.7" d="M427.2 103L464.2 74.8"/>
<path fill="#F26A30" fill-opacity="0.9" d="M464.2 74.8L460.4 82.3L456 76.5Z"/>
<path stroke="#D17DEA" stroke-width="2" stroke-opacity="0.7" d="M432.1 62L463.2 70.1"/>
<path fill="#D17DEA" fill-opacity="0.9" d="M463.2 70.1L455.6 71.6L457.3 65.1Z"/>
<path stroke="#F26A30" stroke-width="0.8" stroke-opacity="0.7" d="M427.2 103L453.4 114.3"/>
<path fill="#F26A30" fill-opacity="0.9" d="M453.4 114.3L449 114.5L450.5 110.9Z"/>
<path stroke="#F26A30" stroke-width="0.8" stroke-opacity="0.7" d="M427.2 103L435.7 121.6"/>
<path fill="#F26A30" fill-opacity="0.9" d="M435.7 121.6L432.2 118.8L435.8 117.2Z"/>
<path stroke="#F26A30" stroke-width="0.8" stroke-opacity="0.7" d="M427.2 103L444.1 82"/>
<path fill="#F26A30" fill-opacity="0.9" d="M444.1 82L443.2 86.3L440.1 83.9Z"/>
<path stroke="#D17DEA" stroke-width="0.6" stroke-opacity="0.7" d="M448.1 58.7L463.9 68.6"/>
<path fill="#D17DEA" fill-opacity="0.9" d="M463.9 68.6L460 68.2L461.9 65.3Z"/>
<path stroke="#F26A30" stroke-width="0.8" stroke-opacity="0.7" d="M457.9 116.2L432.3 105.2"/>
<path fill="#F26A30" fill-opacity="0.9" d="M432.3 105.2L436.7 105L435.2 108.6Z"/>
<path stroke="#F26A30" stroke-width="0.8" stroke-opacity="0.7" d="M437.7 126L429.5 108"/>
<path fill="#F26A30" fill-opacity="0.9" d="M429.5 108L433 110.9L429.4 112.5Z"/>
<g stroke="#505050" stroke-width="0.35">
<circle cx="394.8" cy="9.1" r="4.5" fill="#6BBF3E"/>
<circle cx="417.8" cy="5.1" r="4.5" fill="#6BBF3E"/>
<circle cx="441.9" cy="6" r="4.5" fill="#6BBF3E"/>
<circle cx="373.1" cy="18.3" r="4.5" fill="#6BBF3E"/>
<circle cx="394.8" cy="25.9" r="4.8" fill="#6BBF3E"/>
<circle cx="413.8" cy="21" r="4.5" fill="#6BBF3E"/>
<circle cx="436.4" cy="21.9" r="4.5" fill="#6BBF3E"/>
<circle cx="355.6" cy="38.8" r="4.5" fill="#6BBF3E"/>
<circle cx="373.1" cy="35.1" r="4.8" fill="#6BBF3E"/>
<circle cx="400.6" cy="40.3" r="4.8" fill="#6BBF3E"/>
<circle cx="420.5" cy="39.4" r="4.5" fill="#6BBF3E"/>
<circle cx="384.7" cy="48.6" r="4.8" fill="#6BBF3E"/>
<circle cx="369.1" cy="58" r="5.5" fill="#6BBF3E"/>
<circle cx="415" cy="53.4" r="5.5" fill="#6BBF3E"/>
<circle cx="349.2" cy="57.7" r="4.5" fill="#6BBF3E"/>
<circle cx="397.6" cy="61.1" r="5.5" fill="#6BBF3E"/>
<circle cx="379.5" cy="71.8" r="4.8" fill="#6BBF3E"/>
<circle cx="418.7" cy="70.3" r="5.5" fill="#6BBF3E"/>
<circle cx="396.9" cy="79.5" r="5.5" fill="#6BBF3E"/>
<circle cx="415.6" cy="84.7" r="5.5" fill="#6BBF3E"/>
<circle cx="347.1" cy="79.5" r="4.5" fill="#6BBF3E"/>
<circle cx="362.7" cy="78.2" r="4.5" fill="#6BBF3E"/>
<circle cx="399.4" cy="95.4" r="5.5" fill="#6BBF3E"/>
<circle cx="408.9" cy="108.5" r="5.5" fill="#6BBF3E"/>
<circle cx="379.8" cy="90.2" r="5.5" fill="#5CC8E2"/>
<circle cx="348.3" cy="100.6" r="4.5" fill="#5CC8E2"/>
<circle cx="367.3" cy="101.5" r="4.5" fill="#5CC8E2"/>
<circle cx="387.2" cy="110.7" r="5.5" fill="#5CC8E2"/>
<circle cx="354.1" cy="119.9" r="4.5" fill="#5CC8E2"/>
<circle cx="371.5" cy="117.7" r="4.5" fill="#5CC8E2"/>
<circle cx="399.1" cy="124.5" r="5.5" fill="#5CC8E2"/>
<circle cx="419.9" cy="126.6" r="5.5" fill="#5CC8E2"/>
<circle cx="367" cy="139.8" r="4.5" fill="#5CC8E2"/>
<circle cx="384.7" cy="135.2" r="4.8" fill="#5CC8E2"/>
<circle cx="404.9" cy="142.2" r="4.8" fill="#5CC8E2"/>
<circle cx="423.6" cy="143.4" r="5.5" fill="#5CC8E2"/>
<circle cx="391.4" cy="157.2" r="4.5" fill="#5CC8E2"/>
<circle cx="419" cy="159.6" r="4.5" fill="#5CC8E2"/>
<circle cx="464" cy="13.7" r="4.8" fill="#D17DEA"/>
<circle cx="453.3" cy="30.2" r="4.5" fill="#D17DEA"/>
<circle cx="482.6" cy="29.6" r="4.5" fill="#D17DEA"/>
<circle cx="440.4" cy="40.9" r="4.8" fill="#D17DEA"/>
<circle cx="471.9" cy="40.3" r="4.5" fill="#D17DEA"/>
<circle cx="462.1" cy="51.9" r="4.8" fill="#D17DEA"/>
<circle cx="448.1" cy="58.7" r="5.5" fill="#D17DEA"/>
<circle cx="482.9" cy="53.1" r="4.8" fill="#D17DEA"/>
<circle cx="497.9" cy="53.4" r="4.5" fill="#D17DEA"/>
<circle cx="432.1" cy="62" r="4.8" fill="#D17DEA"/>
<circle cx="468.6" cy="71.5" r="5.5" fill="#D17DEA"/>
<circle cx="482.9" cy="70.3" r="4.8" fill="#D17DEA"/>
<circle cx="499.5" cy="72.7" r="4.5" fill="#D17DEA"/>
<circle cx="447.1" cy="78.2" r="4.8" fill="#D17DEA"/>
<circle cx="463.4" cy="85.3" r="4.8" fill="#D17DEA"/>
<circle cx="481.7" cy="88.3" r="4.8" fill="#D17DEA"/>
<circle cx="500.1" cy="96" r="4.5" fill="#D17DEA"/>
<circle cx="432.8" cy="86.2" r="4.8" fill="#F26A30"/>
<circle cx="427.2" cy="103" r="5.5" fill="#F26A30"/>
<circle cx="445.6" cy="102.4" r="5.5" fill="#F26A30"/>
<circle cx="465.8" cy="100.3" r="4.8" fill="#F26A30"/>
<circle cx="484.8" cy="103" r="4.5" fill="#F26A30"/>
<circle cx="457.9" cy="116.2" r="4.8" fill="#F26A30"/>
<circle cx="478.1" cy="116.2" r="4.8" fill="#F26A30"/>
<circle cx="494.6" cy="115" r="4.8" fill="#F26A30"/>
<circle cx="437.7" cy="126" r="4.8" fill="#F26A30"/>
<circle cx="473.2" cy="128.4" r="4.8" fill="#F26A30"/>
<circle cx="456.6" cy="133.6" r="4.8" fill="#F26A30"/>
<circle cx="486.3" cy="135.2" r="4.5" fill="#F26A30"/>
<circle cx="441.3" cy="140.7" r="4.8" fill="#F26A30"/>
<circle cx="469.2" cy="149.2" r="4.5" fill="#F26A30"/>
<circle cx="448.4" cy="157.8" r="4.8" fill="#F26A30"/>
</g>
<text class="l" x="394.8" y="10.3" font-size="5" textLength="8.2" lengthAdjust="spacingAndGlyphs">SWE</text>
<text class="l" x="417.8" y="6.3" font-size="5" textLength="8.2" lengthAdjust="spacingAndGlyphs">BGR</text>
<text class="l" x="441.9" y="7.2" font-size="5" textLength="8.2" lengthAdjust="spacingAndGlyphs">HUN</text>
<text class="l" x="373.1" y="19.5" font-size="5">FIN</text>
<text class="l" x="394.8" y="27.2" font-size="5.4" textLength="8.9" lengthAdjust="spacingAndGlyphs">AUT</text>
<text class="l" x="413.8" y="22.2" font-size="5">IRL</text>
<text class="l" x="436.4" y="23.1" font-size="5" textLength="8.2" lengthAdjust="spacingAndGlyphs">CZE</text>
<text class="l" x="355.6" y="40" font-size="5" textLength="8.2" lengthAdjust="spacingAndGlyphs">SRB</text>
<text class="l" x="373.1" y="36.4" font-size="5.4" textLength="8.9" lengthAdjust="spacingAndGlyphs">PRT</text>
<text class="l" x="400.6" y="41.6" font-size="5.4" textLength="8.9" lengthAdjust="spacingAndGlyphs">POL</text>
<text class="l" x="420.5" y="40.6" font-size="5" textLength="8.2" lengthAdjust="spacingAndGlyphs">GRC</text>
<text class="l" x="384.7" y="49.8" font-size="5.4" textLength="8.9" lengthAdjust="spacingAndGlyphs">DNK</text>
<text class="l" x="369.1" y="59.5" font-size="6.2" textLength="10.2" lengthAdjust="spacingAndGlyphs">ZAF</text>
<text class="l" x="415" y="54.9" font-size="6.2" textLength="10.2" lengthAdjust="spacingAndGlyphs">FRA</text>
<text class="l" x="349.2" y="58.9" font-size="5" textLength="8.2" lengthAdjust="spacingAndGlyphs">SVN</text>
<text class="l" x="397.6" y="62.6" font-size="6.2">ITA</text>
<text class="l" x="379.5" y="73.1" font-size="5.4" textLength="8.9" lengthAdjust="spacingAndGlyphs">CHE</text>
<text class="l" x="418.7" y="71.8" font-size="6.2" textLength="10.2" lengthAdjust="spacingAndGlyphs">ESP</text>
<text class="l" x="396.9" y="80.9" font-size="6.2" textLength="10.2" lengthAdjust="spacingAndGlyphs">DEU</text>
<text class="l" x="415.6" y="86.1" font-size="6.2" textLength="10.2" lengthAdjust="spacingAndGlyphs">NLD</text>
<text class="l" x="347.1" y="80.7" font-size="5" textLength="8.2" lengthAdjust="spacingAndGlyphs">SVK</text>
<text class="l" x="362.7" y="79.4" font-size="5" textLength="8.2" lengthAdjust="spacingAndGlyphs">MAR</text>
<text class="l" x="399.4" y="96.9" font-size="6.2" textLength="10.2" lengthAdjust="spacingAndGlyphs">BEL</text>
<text class="l" x="408.9" y="110" font-size="6.2" textLength="10.2" lengthAdjust="spacingAndGlyphs">GBR</text>
<text class="l" x="379.8" y="91.7" font-size="6.2" textLength="10.2" lengthAdjust="spacingAndGlyphs">EGY</text>
<text class="l" x="348.3" y="101.8" font-size="5" textLength="8.2" lengthAdjust="spacingAndGlyphs">ISR</text>
<text class="l" x="367.3" y="102.7" font-size="5" textLength="8.2" lengthAdjust="spacingAndGlyphs">TUN</text>
<text class="l" x="387.2" y="112.2" font-size="6.2" textLength="10.2" lengthAdjust="spacingAndGlyphs">LKA</text>
<text class="l" x="354.1" y="121.1" font-size="5" textLength="8.2" lengthAdjust="spacingAndGlyphs">BRN</text>
<text class="l" x="371.5" y="118.9" font-size="5" textLength="8.2" lengthAdjust="spacingAndGlyphs">MDA</text>
<text class="l" x="399.1" y="125.9" font-size="6.2" textLength="10.2" lengthAdjust="spacingAndGlyphs">PAK</text>
<text class="l" x="419.9" y="128.1" font-size="6.2" textLength="10.2" lengthAdjust="spacingAndGlyphs">TUR</text>
<text class="l" x="367" y="141" font-size="5" textLength="8.2" lengthAdjust="spacingAndGlyphs">ROU</text>
<text class="l" x="384.7" y="136.5" font-size="5.4" textLength="8.9" lengthAdjust="spacingAndGlyphs">UKR</text>
<text class="l" x="404.9" y="143.5" font-size="5.4" textLength="8.9" lengthAdjust="spacingAndGlyphs">RUS</text>
<text class="l" x="423.6" y="144.9" font-size="6.2" textLength="10.2" lengthAdjust="spacingAndGlyphs">KEN</text>
<text class="l" x="391.4" y="158.4" font-size="5" textLength="8.2" lengthAdjust="spacingAndGlyphs">LBN</text>
<text class="l" x="419" y="160.8" font-size="5" textLength="8.2" lengthAdjust="spacingAndGlyphs">ECU</text>
<text class="l" x="464" y="15" font-size="5.4" textLength="8.9" lengthAdjust="spacingAndGlyphs">KOR</text>
<text class="l" x="453.3" y="31.4" font-size="5" textLength="8.2" lengthAdjust="spacingAndGlyphs">ETH</text>
<text class="l" x="482.6" y="30.8" font-size="5" textLength="8.2" lengthAdjust="spacingAndGlyphs">GHA</text>
<text class="l" x="440.4" y="42.2" font-size="5.4" textLength="8.9" lengthAdjust="spacingAndGlyphs">IDN</text>
<text class="l" x="471.9" y="41.5" font-size="5" textLength="8.2" lengthAdjust="spacingAndGlyphs">NZL</text>
<text class="l" x="462.1" y="53.2" font-size="5.4" textLength="8.9" lengthAdjust="spacingAndGlyphs">ARG</text>
<text class="l" x="448.1" y="60.1" font-size="6.2" textLength="10.2" lengthAdjust="spacingAndGlyphs">THA</text>
<text class="l" x="482.9" y="54.4" font-size="5.4" textLength="8.9" lengthAdjust="spacingAndGlyphs">SGP</text>
<text class="l" x="497.9" y="54.6" font-size="5" textLength="8.2" lengthAdjust="spacingAndGlyphs">NGA</text>
<text class="l" x="432.1" y="63.3" font-size="5.4" textLength="8.9" lengthAdjust="spacingAndGlyphs">BRA</text>
<text class="l" x="468.6" y="73" font-size="6.2" textLength="10.2" lengthAdjust="spacingAndGlyphs">CHN</text>
<text class="l" x="482.9" y="71.6" font-size="5.4" textLength="8.9" lengthAdjust="spacingAndGlyphs">MYS</text>
<text class="l" x="499.5" y="73.9" font-size="5" textLength="8.2" lengthAdjust="spacingAndGlyphs">URY</text>
<text class="l" x="447.1" y="79.5" font-size="5.4" textLength="8.9" lengthAdjust="spacingAndGlyphs">JPN</text>
<text class="l" x="463.4" y="86.6" font-size="5.4" textLength="8.9" lengthAdjust="spacingAndGlyphs">VNM</text>
<text class="l" x="481.7" y="89.6" font-size="5.4" textLength="8.9" lengthAdjust="spacingAndGlyphs">HKG</text>
<text class="l" x="500.1" y="97.2" font-size="5" textLength="8.2" lengthAdjust="spacingAndGlyphs">NOR</text>
<text class="l" x="432.8" y="87.5" font-size="5.4" textLength="8.9" lengthAdjust="spacingAndGlyphs">AUS</text>
<text class="l" x="427.2" y="104.5" font-size="6.2" textLength="10.2" lengthAdjust="spacingAndGlyphs">USA</text>
<text class="l" x="445.6" y="103.9" font-size="6.2" textLength="10.2" lengthAdjust="spacingAndGlyphs">IND</text>
<text class="l" x="465.8" y="101.6" font-size="5.4" textLength="8.9" lengthAdjust="spacingAndGlyphs">CHL</text>
<text class="l" x="484.8" y="104.2" font-size="5" textLength="8.2" lengthAdjust="spacingAndGlyphs">TZA</text>
<text class="l" x="457.9" y="117.5" font-size="5.4" textLength="8.9" lengthAdjust="spacingAndGlyphs">CAN</text>
<text class="l" x="478.1" y="117.5" font-size="5.4" textLength="8.9" lengthAdjust="spacingAndGlyphs">PER</text>
<text class="l" x="494.6" y="116.3" font-size="5.4" textLength="8.9" lengthAdjust="spacingAndGlyphs">PHL</text>
<text class="l" x="437.7" y="127.3" font-size="5.4" textLength="8.9" lengthAdjust="spacingAndGlyphs">MEX</text>
<text class="l" x="473.2" y="129.7" font-size="5.4" textLength="8.9" lengthAdjust="spacingAndGlyphs">COL</text>
<text class="l" x="456.6" y="134.9" font-size="5.4" textLength="8.9" lengthAdjust="spacingAndGlyphs">ARE</text>
<text class="l" x="486.3" y="136.4" font-size="5" textLength="8.2" lengthAdjust="spacingAndGlyphs">BHR</text>
<text class="l" x="441.3" y="142" font-size="5.4" textLength="8.9" lengthAdjust="spacingAndGlyphs">SAU</text>
<text class="l" x="469.2" y="150.4" font-size="5" textLength="8.2" lengthAdjust="spacingAndGlyphs">GTM</text>
<text class="l" x="448.4" y="159.1" font-size="5.4" textLength="8.9" lengthAdjust="spacingAndGlyphs">CRI</text>
<clipPath id="hd"><path d="M516.7 77.9L518.8 57.1L528.9 36.6L546.7 19.8L568.1 9.7L590.7 5.1L618 6.6L640 12.7L657.5 28L666.9 46.4L673.1 68.4L671.2 86.2L669.1 104.6L661.4 124.5L649.2 141.3L632.4 152.6L613.4 159.6L595.6 159.6L576.7 159L557.4 150.5L542.1 136.7L527.7 119.9L519.1 98.4Z"/></clipPath>
<g clip-path="url(#hd)" fill-opacity="0.022">
<circle cx="568.1" cy="9.7" r="22" fill="#5CC8E2"/>
<circle cx="590.7" cy="5.1" r="22" fill="#5CC8E2"/>
<circle cx="546.7" cy="19.8" r="22" fill="#5CC8E2"/>
<circle cx="577.3" cy="22.8" r="22" fill="#5CC8E2"/>
<circle cx="601.1" cy="22.8" r="22" fill="#5CC8E2"/>
<circle cx="560.4" cy="28" r="22" fill="#5CC8E2"/>
<circle cx="618" cy="6.6" r="22" fill="#D17DEA"/>
<circle cx="640" cy="12.7" r="22" fill="#D17DEA"/>
<circle cx="621.6" cy="26.8" r="22" fill="#D17DEA"/>
<circle cx="657.5" cy="28" r="22" fill="#D17DEA"/>
<circle cx="640.9" cy="33.2" r="22" fill="#D17DEA"/>
<circle cx="608.8" cy="40.3" r="22" fill="#D17DEA"/>
<circle cx="626.9" cy="45.5" r="22" fill="#D17DEA"/>
<circle cx="666.9" cy="46.4" r="22" fill="#D17DEA"/>
<circle cx="596.2" cy="51.9" r="22" fill="#D17DEA"/>
<circle cx="615.2" cy="59.6" r="22" fill="#D17DEA"/>
<circle cx="637" cy="60.2" r="22" fill="#D17DEA"/>
<circle cx="652.6" cy="57.1" r="22" fill="#D17DEA"/>
<circle cx="673.1" cy="68.4" r="22" fill="#D17DEA"/>
<circle cx="596.6" cy="71.8" r="22" fill="#D17DEA"/>
<circle cx="631.1" cy="77.6" r="22" fill="#D17DEA"/>
<circle cx="653.8" cy="77.9" r="22" fill="#D17DEA"/>
<circle cx="528.9" cy="36.6" r="22" fill="#F26A30"/>
<circle cx="545.1" cy="47.3" r="22" fill="#F26A30"/>
<circle cx="565.3" cy="43.3" r="22" fill="#F26A30"/>
<circle cx="582.8" cy="42.4" r="22" fill="#F26A30"/>
<circle cx="518.8" cy="57.1" r="22" fill="#F26A30"/>
<circle cx="536.9" cy="64.8" r="22" fill="#F26A30"/>
<circle cx="555.8" cy="63.2" r="22" fill="#F26A30"/>
<circle cx="578.8" cy="59.3" r="22" fill="#F26A30"/>
<circle cx="516.7" cy="77.9" r="22" fill="#F26A30"/>
<circle cx="571.2" cy="77" r="22" fill="#F26A30"/>
<circle cx="535" cy="82.2" r="22" fill="#F26A30"/>
<circle cx="553.4" cy="82.2" r="22" fill="#F26A30"/>
<circle cx="561.7" cy="95.4" r="22" fill="#F26A30"/>
<circle cx="519.1" cy="98.4" r="22" fill="#F26A30"/>
<circle cx="539" cy="100" r="22" fill="#F26A30"/>
<circle cx="611.9" cy="79.5" r="22" fill="#6BBF3E"/>
<circle cx="582.5" cy="87.1" r="22" fill="#6BBF3E"/>
<circle cx="600.2" cy="94.2" r="22" fill="#6BBF3E"/>
<circle cx="620.1" cy="97.8" r="22" fill="#6BBF3E"/>
<circle cx="638.5" cy="90.8" r="22" fill="#6BBF3E"/>
<circle cx="671.2" cy="86.2" r="22" fill="#6BBF3E"/>
<circle cx="653.8" cy="97.8" r="22" fill="#6BBF3E"/>
<circle cx="669.1" cy="104.6" r="22" fill="#6BBF3E"/>
<circle cx="580.3" cy="102.4" r="22" fill="#6BBF3E"/>
<circle cx="634.8" cy="107.6" r="22" fill="#6BBF3E"/>
<circle cx="598.7" cy="108.5" r="22" fill="#6BBF3E"/>
<circle cx="616.4" cy="112.8" r="22" fill="#6BBF3E"/>
<circle cx="545.1" cy="112.8" r="22" fill="#6BBF3E"/>
<circle cx="565" cy="112.8" r="22" fill="#6BBF3E"/>
<circle cx="649.8" cy="115.3" r="22" fill="#6BBF3E"/>
<circle cx="527.7" cy="119.9" r="22" fill="#6BBF3E"/>
<circle cx="552.8" cy="126" r="22" fill="#6BBF3E"/>
<circle cx="577.3" cy="122.9" r="22" fill="#6BBF3E"/>
<circle cx="594.1" cy="125.4" r="22" fill="#6BBF3E"/>
<circle cx="613.4" cy="126.9" r="22" fill="#6BBF3E"/>
<circle cx="635.4" cy="123.5" r="22" fill="#6BBF3E"/>
<circle cx="661.4" cy="124.5" r="22" fill="#6BBF3E"/>
<circle cx="542.1" cy="136.7" r="22" fill="#6BBF3E"/>
<circle cx="563.8" cy="138.2" r="22" fill="#6BBF3E"/>
<circle cx="582.8" cy="141.3" r="22" fill="#6BBF3E"/>
<circle cx="604.8" cy="144.3" r="22" fill="#6BBF3E"/>
<circle cx="627.2" cy="138.2" r="22" fill="#6BBF3E"/>
<circle cx="649.2" cy="141.3" r="22" fill="#6BBF3E"/>
<circle cx="557.4" cy="150.5" r="22" fill="#6BBF3E"/>
<circle cx="632.4" cy="152.6" r="22" fill="#6BBF3E"/>
<circle cx="576.7" cy="159" r="22" fill="#6BBF3E"/>
<circle cx="595.6" cy="159.6" r="22" fill="#6BBF3E"/>
<circle cx="613.4" cy="159.6" r="22" fill="#6BBF3E"/>
</g>
<g fill="none" stroke-width="0.45" stroke-opacity="0.13" stroke-linejoin="bevel">
<path stroke="#5CC8E2" d="M601 23L631 78L601 23L640 13L547 20L661 124L591 5L641 33L591 5L599 109L591 5L650 115L591 5L577 123L601 23L582 87L547 20L635 108L568 10L517 78L601 23L599 109L601 23L635 108L591 5L669 105L568 10L535 82"/>
<path stroke="#5CC8E2" d="M535 82L601 23L577 123L547 20L649 141L568 10L650 115L577 23L556 63L547 20L579 59L560 28L609 40L560 28L601 23L568 10L580 102L560 28L609 40L601 23L635 124L568 10L631 78L547 20L638 91L547 20L667 46L547 20"/>
<path stroke="#5CC8E2" d="M547 20L542 137L601 23L547 20L601 23L557 150L560 28L565 43L547 20L583 141L568 10L653 57L568 10L601 23L577 23L547 20L568 10L519 57L560 28L638 91L601 23L556 63L591 5L519 57L577 23L632 153L568 10L529 37"/>
<path stroke="#5CC8E2" d="M529 37L577 23L556 63L560 28L596 52L568 10L601 23L577 23L596 160L577 23L537 65L547 20L519 98L560 28L577 123L568 10L653 57L601 23L553 82L591 5L669 105L591 5L635 124L547 20L565 113L591 5L601 23L560 28"/>
<path stroke="#D17DEA" d="M654 78L577 23L609 40L528 120L627 45L539 100L673 68L605 144L622 27L654 78L667 46L528 120L673 68L553 82L653 57L537 65L627 45L613 160L627 45L594 125L640 13L565 43L673 68L591 5L654 78L613 160L627 45L638 91L609 40L635 108L618 7L596 160L654 78L635 108L653 57L671 86L640 13L599 109L641 33L615 60L597 72L571 77L615 60L519 57L631 78L560 28L654 78L599 109L615 60L565 113L667 46L657 28L618 7L553 126L637 60L654 78L597 72L542 137L653 57L635 124L654 78L583 141L596 52L669 105L631 78L641 33L631 78L591 5L673 68L657 28L641 33L650 115L618 7"/>
<path stroke="#D17DEA" d="M618 7L654 78L609 40L583 42L657 28L635 124L653 57L597 72L657 28L650 115L653 57L535 82L641 33L616 113L631 78L545 113L622 27L519 98L657 28L591 5L615 60L565 113L615 60L635 108L641 33L565 43L596 52L553 82L641 33L580 102L627 45L605 144L657 28L649 141L622 27L519 98L609 40L627 138L596 52L613 160L609 40L612 79L609 40L605 144L673 68L605 144L609 40L653 57L657 28L627 138L615 60L596 160L615 60L577 123L631 78L671 86L637 60L577 159L641 33L594 125L667 46L627 45L657 28L596 160L596 52L591 5L641 33L517 78L609 40L545 47L653 57L605 144L596 52"/>
<path stroke="#D17DEA" d="M596 52L528 120L641 33L565 43L667 46L650 115L640 13L577 159L657 28L557 150L657 28L620 98L657 28L539 100L667 46L673 68L657 28L649 141L653 57L627 45L609 40L565 43L631 78L620 98L641 33L564 138L596 52L591 5L673 68L637 60L673 68L568 10L631 78L580 102L641 33L547 20L618 7L565 113L618 7L596 52L622 27L654 98L627 45L565 43L667 46L519 57L653 57L591 5L609 40L539 100L596 52L653 57L622 27L649 141L637 60L553 126L609 40L627 138L640 13L615 60L596 52L640 13L657 28L591 5L609 40L632 153L615 60L517 78L637 60L580 102L622 27L631 78L667 46"/>
<path stroke="#D17DEA" d="M667 46L539 100L596 52L627 138L657 28L562 95L657 28L673 68L641 33L596 160L653 57L577 159L597 72L649 141L653 57L529 37L622 27L661 124L654 78L571 77L653 57L583 42L653 57L583 42L622 27L615 60L618 7L635 124L667 46L591 5L667 46L583 42L667 46L565 43L597 72L545 47L667 46L609 40L641 33L537 65L609 40L600 94L673 68L553 126L615 60L580 102L640 13L517 78L615 60L517 78L597 72L618 7L622 27L564 138L673 68L632 153L631 78L553 126L657 28L615 60L641 33L618 7L667 46L637 60L641 33L557 150L597 72L545 47L653 57L622 27L615 60L599 109L667 46"/>
<path stroke="#F26A30" d="M579 59L539 100L562 95L632 153L519 57L529 37L562 95L583 42L553 82L615 60L556 63L618 7L583 42L667 46L556 63L641 33L562 95L545 47L517 78L631 78L517 78L528 120L579 59L613 127L583 42L616 113L545 47L519 57L565 43L519 98L545 47L627 45L583 42L545 113L553 82L654 98L583 42L547 20L519 98L553 126L565 43L640 13L571 77L537 65L565 43L669 105L537 65L616 113L583 42L579 59L539 100L565 113L517 78L539 100L571 77L583 42L553 82L609 40L535 82L673 68L571 77L632 153L583 42L568 10L571 77L547 20L539 100L654 98"/>
<path stroke="#F26A30" d="M654 98L517 78L519 57L529 37L632 153L519 57L654 98L545 47L553 82L565 43L594 125L571 77L673 68L529 37L618 7L556 63L615 60L519 57L580 102L565 43L649 141L519 57L605 144L517 78L519 57L565 43L553 82L583 42L519 98L539 100L564 138L537 65L577 159L519 57L637 60L529 37L673 68L553 82L562 95L579 59L627 138L553 82L577 159L583 42L564 138L519 98L568 10L539 100L637 60L535 82L571 77L545 47L542 137L553 82L577 23L519 57L605 144L562 95L627 138L583 42L545 113L537 65L539 100L553 82L591 5L562 95L669 105L537 65"/>
<path stroke="#F26A30" d="M537 65L654 98L519 57L649 141L562 95L657 28L517 78L597 72L519 98L627 45L535 82L641 33L583 42L631 78L535 82L568 10L583 42L519 57L519 98L601 23L529 37L557 150L571 77L568 10L556 63L583 141L579 59L671 86L517 78L583 42L545 47L562 95L535 82L545 113L519 98L627 45L537 65L613 160L565 43L553 126L553 82L615 60L565 43L635 124L519 98L577 123L565 43L649 141L565 43L556 63L537 65L565 43L553 82L654 98L529 37L580 102L535 82L553 126L553 82L528 120L539 100L631 78L537 65L600 94L565 43L591 5L571 77L627 45"/>
<path stroke="#F26A30" d="M627 45L579 59L547 20L583 42L557 150L537 65L671 86L565 43L637 60L517 78L545 47L519 57L635 108L539 100L618 7L556 63L671 86L571 77L669 105L535 82L591 5L539 100L583 141L562 95L553 126L565 43L529 37L519 98L591 5L545 47L568 10L565 43L519 57L519 98L609 40L545 47L553 82L565 43L637 60L553 82L600 94L571 77L529 37L517 78L564 138L537 65L553 126L579 59L535 82L529 37L615 60L545 47L579 59L539 100L635 108L571 77L613 127L545 47L591 5L579 59L582 87L562 95L597 72L519 98L620 98L562 95L650 115L545 47"/>
<path stroke="#F26A30" d="M545 47L653 57L539 100"/>
<path stroke="#6BBF3E" d="M650 115L669 105L632 153L637 60L600 94L591 5L528 120L571 77L594 125L631 78L616 113L627 45L577 123L635 124L580 102L597 72L649 141L535 82L654 98L577 159L545 113L583 141L627 138L631 78L583 141L597 72L616 113L597 72L599 109L618 7L669 105L622 27L600 94L613 160L565 113L545 47L605 144L537 65L600 94L580 102L600 94L612 79L582 87L600 94L542 137L618 7L600 94L583 141L671 86L635 124L596 160L637 60L565 113L547 20L620 98L616 113L635 108L583 141L654 98L649 141L580 102L571 77L671 86L661 124L605 144L615 60L553 126L545 47L577 123L605 144L564 138L591 5L528 120L669 105L582 87L661 124L613 127L673 68L612 79L535 82L545 113L657 28L605 144L669 105L627 138L654 78L620 98L669 105L583 141L580 102L528 120L577 123L583 141L542 137L557 150L582 87L632 153L577 23L599 109L627 45L616 113L671 86L669 105L609 40L605 144L616 113L627 138L571 77L600 94L613 160L542 137L622 27L632 153L657 28L542 137L565 113L671 86L582 87L553 126L650 115L553 126L599 109L650 115L556 63L599 109L553 82L616 113L635 108L528 120L596 160L553 126L650 115L638 91L654 78L564 138L596 160L557 150L553 82L654 98L556 63L600 94L539 100L528 120L635 108L654 98L596 52L594 125L641 33L542 137"/>
<path stroke="#6BBF3E" d="M542 137L650 115L557 150L564 138L542 137L577 123L605 144L580 102L528 120L613 160L565 113L577 123L638 91L580 102L605 144L640 13L600 94L542 137L650 115L594 125L654 98L577 123L583 141L635 108L577 159L577 23L650 115L542 137L600 94L650 115L635 124L627 138L649 141L638 91L600 94L673 68L654 98L673 68L583 141L613 127L599 109L564 138L613 160L653 57L580 102L599 109L553 126L577 23L635 124L577 159L553 126L517 78L613 127L519 98L545 113L582 87L654 98L542 137L564 138L535 82L577 159L671 86L654 98L667 46L582 87L653 57L632 153L671 86L635 108L582 87L605 144L547 20L613 127L640 13L613 127L654 98L649 141L583 141L528 120L654 78L577 123L545 113L638 91L616 113L635 124L597 72L669 105L618 7L553 126L597 72L654 98L637 60L613 160L553 82L620 98L553 126L613 160L591 5L654 98L609 40L649 141L560 28L638 91L657 28L635 124L568 10L557 150L622 27L596 160L618 7L557 150L637 60L635 108L582 87L542 137L654 78L669 105L519 57L528 120L553 82L627 138L601 23L553 126L591 5L545 113L667 46L545 113L650 115L669 105L622 27L577 123L632 153L564 138L568 10L669 105L609 40L649 141L657 28L545 113L528 120L616 113L667 46L635 124L577 23L583 141L654 98L638 91L627 45L545 113"/>
<path stroke="#6BBF3E" d="M545 113L557 150L627 138L571 77L583 141L654 78L596 160L547 20L635 108L537 65L671 86L577 23L542 137L635 124L632 153L667 46L635 124L654 78L580 102L560 28L594 125L545 113L635 124L553 126L542 137L582 87L632 153L519 57L580 102L641 33L620 98L622 27L669 105L579 59L594 125L612 79L605 144L671 86L600 94L568 10L600 94L529 37L661 124L577 159L545 113L591 5L577 159L571 77L564 138L667 46L577 123L553 82L616 113L562 95L583 141L605 144L635 124L596 160L600 94L669 105L650 115L582 87L580 102L627 138L620 98L622 27L600 94L583 42L669 105L612 79L545 113L565 113L557 150L542 137L661 124L519 57L542 137L583 141L600 94L631 78L613 160L599 109L649 141L579 59L577 159L577 123L613 127L640 13L654 98L565 43L650 115L612 79L649 141L583 42L542 137L529 37L638 91L553 126L596 160L635 124L635 108L638 91L594 125L612 79L638 91L654 78L616 113L637 60L599 109L517 78L599 109L583 42L620 98L654 98L635 124L519 98L627 138L535 82L564 138L661 124L553 126L519 57L600 94L529 37L613 127L654 78L632 153L620 98L553 126L547 20L553 126L635 124L545 113L599 109L580 102L577 123L583 141L596 52L553 126L613 160L638 91L545 113L542 137L568 10L596 160L571 77L638 91L613 160L553 126"/>
<path stroke="#6BBF3E" d="M553 126L657 28L654 98L535 82L613 160L638 91L528 120L553 126L528 120L582 87L600 94L582 87L600 94L547 20L565 113L564 138L582 87L577 159L580 102L545 47L600 94L560 28L605 144L650 115L638 91L605 144L528 120L661 124L577 123L627 45L583 141L582 87L600 94L616 113L635 108L571 77L661 124L632 153L577 159L565 43L528 120L653 57L616 113L519 57L613 160L539 100L580 102L560 28L553 126L539 100L596 160L622 27L638 91L641 33L671 86L577 159L577 123L637 60L545 113L556 63L632 153L579 59L545 113L599 109L649 141L547 20L565 113L613 127L580 102L565 43L580 102L519 98L557 150L627 45L671 86L635 124L638 91L553 126L594 125L579 59L605 144L539 100L632 153L650 115L654 98L641 33L542 137L594 125L542 137L537 65L638 91L565 43L605 144L577 123L557 150L637 60L600 94L657 28L654 98L517 78L580 102L596 52L635 108L613 127L528 120L579 59L620 98L601 23L542 137L649 141L635 108L638 91L649 141L671 86L638 91L622 27L599 109L596 52L612 79L673 68L600 94L612 79L596 160L597 72L557 150L517 78L649 141L661 124L557 150L596 160L580 102L517 78L650 115L635 124L600 94L653 57L613 127L613 160L528 120L596 52L661 124L562 95L654 98L622 27L599 109L667 46L577 123L613 160L545 113"/>
<path stroke="#6BBF3E" d="M545 113L596 52L583 141"/>
</g>
<path stroke="#5CC8E2" stroke-width="2.4" stroke-opacity="0.7" d="M601.1 22.8L573.8 72.2"/>
<path fill="#5CC8E2" fill-opacity="0.9" d="M573.8 72.2L574.3 63.3L581.1 67.1Z"/>
<path stroke="#F26A30" stroke-width="2" stroke-opacity="0.7" d="M545.1 47.3L567.5 72.9"/>
<path fill="#F26A30" fill-opacity="0.9" d="M567.5 72.9L560.4 69.9L565.5 65.4Z"/>
<path stroke="#5CC8E2" stroke-width="0.8" stroke-opacity="0.7" d="M601.1 22.8L582.8 22.8"/>
<path fill="#5CC8E2" fill-opacity="0.9" d="M582.8 22.8L586.8 20.9L586.8 24.8Z"/>
<path stroke="#5CC8E2" stroke-width="0.5" stroke-opacity="0.7" d="M601.1 22.8L556.4 78.5"/>
<path fill="#5CC8E2" fill-opacity="0.9" d="M556.4 78.5L557.2 74.9L559.7 76.9Z"/>
<path stroke="#F26A30" stroke-width="0.5" stroke-opacity="0.7" d="M582.8 42.4L572.9 71.8"/>
<path fill="#F26A30" fill-opacity="0.9" d="M572.9 71.8L572.4 68.2L575.5 69.2Z"/>
<g stroke="#505050" stroke-width="0.35">
<circle cx="568.1" cy="9.7" r="4.8" fill="#5CC8E2"/>
<circle cx="590.7" cy="5.1" r="4.8" fill="#5CC8E2"/>
<circle cx="546.7" cy="19.8" r="4.8" fill="#5CC8E2"/>
<circle cx="577.3" cy="22.8" r="5.5" fill="#5CC8E2"/>
<circle cx="601.1" cy="22.8" r="5.5" fill="#5CC8E2"/>
<circle cx="560.4" cy="28" r="4.8" fill="#5CC8E2"/>
<circle cx="618" cy="6.6" r="4.8" fill="#D17DEA"/>
<circle cx="640" cy="12.7" r="4.8" fill="#D17DEA"/>
<circle cx="621.6" cy="26.8" r="4.8" fill="#D17DEA"/>
<circle cx="657.5" cy="28" r="4.5" fill="#D17DEA"/>
<circle cx="640.9" cy="33.2" r="5.5" fill="#D17DEA"/>
<circle cx="608.8" cy="40.3" r="4.8" fill="#D17DEA"/>
<circle cx="626.9" cy="45.5" r="5.5" fill="#D17DEA"/>
<circle cx="666.9" cy="46.4" r="4.8" fill="#D17DEA"/>
<circle cx="596.2" cy="51.9" r="5.5" fill="#D17DEA"/>
<circle cx="615.2" cy="59.6" r="5.5" fill="#D17DEA"/>
<circle cx="637" cy="60.2" r="5.5" fill="#D17DEA"/>
<circle cx="652.6" cy="57.1" r="5.5" fill="#D17DEA"/>
<circle cx="673.1" cy="68.4" r="4.8" fill="#D17DEA"/>
<circle cx="596.6" cy="71.8" r="5.5" fill="#D17DEA"/>
<circle cx="631.1" cy="77.6" r="5.5" fill="#D17DEA"/>
<circle cx="653.8" cy="77.9" r="5.5" fill="#D17DEA"/>
<circle cx="528.9" cy="36.6" r="4.8" fill="#F26A30"/>
<circle cx="545.1" cy="47.3" r="5.5" fill="#F26A30"/>
<circle cx="565.3" cy="43.3" r="4.8" fill="#F26A30"/>
<circle cx="582.8" cy="42.4" r="5.5" fill="#F26A30"/>
<circle cx="518.8" cy="57.1" r="4.8" fill="#F26A30"/>
<circle cx="536.9" cy="64.8" r="4.8" fill="#F26A30"/>
<circle cx="555.8" cy="63.2" r="4.8" fill="#F26A30"/>
<circle cx="578.8" cy="59.3" r="4.8" fill="#F26A30"/>
<circle cx="516.7" cy="77.9" r="4.8" fill="#F26A30"/>
<circle cx="571.2" cy="77" r="5.5" fill="#F26A30"/>
<circle cx="535" cy="82.2" r="4.8" fill="#F26A30"/>
<circle cx="553.4" cy="82.2" r="4.8" fill="#F26A30"/>
<circle cx="561.7" cy="95.4" r="4.8" fill="#F26A30"/>
<circle cx="519.1" cy="98.4" r="4.8" fill="#F26A30"/>
<circle cx="539" cy="100" r="4.8" fill="#F26A30"/>
<circle cx="611.9" cy="79.5" r="4.8" fill="#6BBF3E"/>
<circle cx="582.5" cy="87.1" r="5.5" fill="#6BBF3E"/>
<circle cx="600.2" cy="94.2" r="5.5" fill="#6BBF3E"/>
<circle cx="620.1" cy="97.8" r="5.5" fill="#6BBF3E"/>
<circle cx="638.5" cy="90.8" r="4.8" fill="#6BBF3E"/>
<circle cx="671.2" cy="86.2" r="4.5" fill="#6BBF3E"/>
<circle cx="653.8" cy="97.8" r="4.5" fill="#6BBF3E"/>
<circle cx="669.1" cy="104.6" r="4.5" fill="#6BBF3E"/>
<circle cx="580.3" cy="102.4" r="5.5" fill="#6BBF3E"/>
<circle cx="634.8" cy="107.6" r="5.5" fill="#6BBF3E"/>
<circle cx="598.7" cy="108.5" r="5.5" fill="#6BBF3E"/>
<circle cx="616.4" cy="112.8" r="5.5" fill="#6BBF3E"/>
<circle cx="545.1" cy="112.8" r="4.8" fill="#6BBF3E"/>
<circle cx="565" cy="112.8" r="4.8" fill="#6BBF3E"/>
<circle cx="649.8" cy="115.3" r="5.5" fill="#6BBF3E"/>
<circle cx="527.7" cy="119.9" r="4.8" fill="#6BBF3E"/>
<circle cx="552.8" cy="126" r="4.8" fill="#6BBF3E"/>
<circle cx="577.3" cy="122.9" r="5.5" fill="#6BBF3E"/>
<circle cx="594.1" cy="125.4" r="5.5" fill="#6BBF3E"/>
<circle cx="613.4" cy="126.9" r="5.5" fill="#6BBF3E"/>
<circle cx="635.4" cy="123.5" r="4.8" fill="#6BBF3E"/>
<circle cx="661.4" cy="124.5" r="4.8" fill="#6BBF3E"/>
<circle cx="542.1" cy="136.7" r="4.8" fill="#6BBF3E"/>
<circle cx="563.8" cy="138.2" r="4.8" fill="#6BBF3E"/>
<circle cx="582.8" cy="141.3" r="5.5" fill="#6BBF3E"/>
<circle cx="604.8" cy="144.3" r="5.5" fill="#6BBF3E"/>
<circle cx="627.2" cy="138.2" r="4.8" fill="#6BBF3E"/>
<circle cx="649.2" cy="141.3" r="4.8" fill="#6BBF3E"/>
<circle cx="557.4" cy="150.5" r="4.8" fill="#6BBF3E"/>
<circle cx="632.4" cy="152.6" r="4.8" fill="#6BBF3E"/>
<circle cx="576.7" cy="159" r="4.8" fill="#6BBF3E"/>
<circle cx="595.6" cy="159.6" r="4.5" fill="#6BBF3E"/>
<circle cx="613.4" cy="159.6" r="4.8" fill="#6BBF3E"/>
</g>
<text class="l" x="568.1" y="11" font-size="5.4" textLength="8.9" lengthAdjust="spacingAndGlyphs">COL</text>
<text class="l" x="590.7" y="6.4" font-size="5.4" textLength="8.9" lengthAdjust="spacingAndGlyphs">PER</text>
<text class="l" x="546.7" y="21.1" font-size="5.4" textLength="8.9" lengthAdjust="spacingAndGlyphs">CRI</text>
<text class="l" x="577.3" y="24.3" font-size="6.2" textLength="10.2" lengthAdjust="spacingAndGlyphs">CAN</text>
<text class="l" x="601.1" y="24.3" font-size="6.2" textLength="10.2" lengthAdjust="spacingAndGlyphs">USA</text>
<text class="l" x="560.4" y="29.3" font-size="5.4" textLength="8.9" lengthAdjust="spacingAndGlyphs">GTM</text>
<text class="l" x="618" y="7.9" font-size="5.4" textLength="8.9" lengthAdjust="spacingAndGlyphs">RUS</text>
<text class="l" x="640" y="14" font-size="5.4" textLength="8.9" lengthAdjust="spacingAndGlyphs">CIV</text>
<text class="l" x="621.6" y="28.1" font-size="5.4" textLength="8.9" lengthAdjust="spacingAndGlyphs">PAK</text>
<text class="l" x="657.5" y="29.2" font-size="5" textLength="8.2" lengthAdjust="spacingAndGlyphs">NOR</text>
<text class="l" x="640.9" y="34.7" font-size="6.2" textLength="10.2" lengthAdjust="spacingAndGlyphs">KEN</text>
<text class="l" x="608.8" y="41.6" font-size="5.4">IRL</text>
<text class="l" x="626.9" y="47" font-size="6.2" textLength="10.2" lengthAdjust="spacingAndGlyphs">EGY</text>
<text class="l" x="666.9" y="47.7" font-size="5.4" textLength="8.9" lengthAdjust="spacingAndGlyphs">TZA</text>
<text class="l" x="596.2" y="53.4" font-size="6.2" textLength="10.2" lengthAdjust="spacingAndGlyphs">ARE</text>
<text class="l" x="615.2" y="61.1" font-size="6.2" textLength="10.2" lengthAdjust="spacingAndGlyphs">TUR</text>
<text class="l" x="637" y="61.7" font-size="6.2" textLength="10.2" lengthAdjust="spacingAndGlyphs">IND</text>
<text class="l" x="652.6" y="58.6" font-size="6.2" textLength="10.2" lengthAdjust="spacingAndGlyphs">ZAF</text>
<text class="l" x="673.1" y="69.7" font-size="5.4" textLength="8.9" lengthAdjust="spacingAndGlyphs">NGA</text>
<text class="l" x="596.6" y="73.3" font-size="6.2" textLength="10.2" lengthAdjust="spacingAndGlyphs">AUS</text>
<text class="l" x="631.1" y="79.1" font-size="6.2" textLength="10.2" lengthAdjust="spacingAndGlyphs">GBR</text>
<text class="l" x="653.8" y="79.4" font-size="6.2" textLength="10.2" lengthAdjust="spacingAndGlyphs">LKA</text>
<text class="l" x="528.9" y="37.9" font-size="5.4" textLength="8.9" lengthAdjust="spacingAndGlyphs">HKG</text>
<text class="l" x="545.1" y="48.8" font-size="6.2" textLength="10.2" lengthAdjust="spacingAndGlyphs">BRA</text>
<text class="l" x="565.3" y="44.6" font-size="5.4" textLength="8.9" lengthAdjust="spacingAndGlyphs">PHL</text>
<text class="l" x="582.8" y="43.9" font-size="6.2" textLength="10.2" lengthAdjust="spacingAndGlyphs">THA</text>
<text class="l" x="518.8" y="58.4" font-size="5.4" textLength="8.9" lengthAdjust="spacingAndGlyphs">SAU</text>
<text class="l" x="536.9" y="66.1" font-size="5.4" textLength="8.9" lengthAdjust="spacingAndGlyphs">KOR</text>
<text class="l" x="555.8" y="64.5" font-size="5.4" textLength="8.9" lengthAdjust="spacingAndGlyphs">SGP</text>
<text class="l" x="578.8" y="60.6" font-size="5.4" textLength="8.9" lengthAdjust="spacingAndGlyphs">IDN</text>
<text class="l" x="516.7" y="79.2" font-size="5.4" textLength="8.9" lengthAdjust="spacingAndGlyphs">ARG</text>
<text class="l" x="571.2" y="78.5" font-size="6.2" textLength="10.2" lengthAdjust="spacingAndGlyphs">CHN</text>
<text class="l" x="535" y="83.5" font-size="5.4" textLength="8.9" lengthAdjust="spacingAndGlyphs">NZL</text>
<text class="l" x="553.4" y="83.5" font-size="5.4" textLength="8.9" lengthAdjust="spacingAndGlyphs">JPN</text>
<text class="l" x="561.7" y="96.7" font-size="5.4" textLength="8.9" lengthAdjust="spacingAndGlyphs">MYS</text>
<text class="l" x="519.1" y="99.7" font-size="5.4" textLength="8.9" lengthAdjust="spacingAndGlyphs">CHL</text>
<text class="l" x="539" y="101.3" font-size="5.4" textLength="8.9" lengthAdjust="spacingAndGlyphs">VNM</text>
<text class="l" x="611.9" y="80.8" font-size="5.4" textLength="8.9" lengthAdjust="spacingAndGlyphs">BGR</text>
<text class="l" x="582.5" y="88.6" font-size="6.2" textLength="10.2" lengthAdjust="spacingAndGlyphs">NLD</text>
<text class="l" x="600.2" y="95.6" font-size="6.2" textLength="10.2" lengthAdjust="spacingAndGlyphs">FRA</text>
<text class="l" x="620.1" y="99.3" font-size="6.2" textLength="10.2" lengthAdjust="spacingAndGlyphs">CHE</text>
<text class="l" x="638.5" y="92.1" font-size="5.4" textLength="8.9" lengthAdjust="spacingAndGlyphs">MAR</text>
<text class="l" x="671.2" y="87.4" font-size="5" textLength="8.2" lengthAdjust="spacingAndGlyphs">EST</text>
<text class="l" x="653.8" y="99" font-size="5" textLength="8.2" lengthAdjust="spacingAndGlyphs">HRV</text>
<text class="l" x="669.1" y="105.8" font-size="5" textLength="8.2" lengthAdjust="spacingAndGlyphs">LUX</text>
<text class="l" x="580.3" y="103.9" font-size="6.2" textLength="10.2" lengthAdjust="spacingAndGlyphs">DEU</text>
<text class="l" x="634.8" y="109.1" font-size="6.2" textLength="10.2" lengthAdjust="spacingAndGlyphs">ESP</text>
<text class="l" x="598.7" y="110" font-size="6.2" textLength="10.2" lengthAdjust="spacingAndGlyphs">BEL</text>
<text class="l" x="616.4" y="114.3" font-size="6.2" textLength="10.2" lengthAdjust="spacingAndGlyphs">POL</text>
<text class="l" x="545.1" y="114.1" font-size="5.4" textLength="8.9" lengthAdjust="spacingAndGlyphs">SRB</text>
<text class="l" x="565" y="114.1" font-size="5.4" textLength="8.9" lengthAdjust="spacingAndGlyphs">GRC</text>
<text class="l" x="649.8" y="116.8" font-size="6.2" textLength="10.2" lengthAdjust="spacingAndGlyphs">PRT</text>
<text class="l" x="527.7" y="121.2" font-size="5.4" textLength="8.9" lengthAdjust="spacingAndGlyphs">ETH</text>
<text class="l" x="552.8" y="127.3" font-size="5.4" textLength="8.9" lengthAdjust="spacingAndGlyphs">CZE</text>
<text class="l" x="577.3" y="124.4" font-size="6.2" textLength="10.2" lengthAdjust="spacingAndGlyphs">SWE</text>
<text class="l" x="594.1" y="126.9" font-size="6.2">ITA</text>
<text class="l" x="613.4" y="128.4" font-size="6.2" textLength="10.2" lengthAdjust="spacingAndGlyphs">UKR</text>
<text class="l" x="635.4" y="124.8" font-size="5.4" textLength="8.9" lengthAdjust="spacingAndGlyphs">AUT</text>
<text class="l" x="661.4" y="125.7" font-size="5.4" textLength="8.9" lengthAdjust="spacingAndGlyphs">SVN</text>
<text class="l" x="542.1" y="138" font-size="5.4" textLength="8.9" lengthAdjust="spacingAndGlyphs">LBN</text>
<text class="l" x="563.8" y="139.5" font-size="5.4">FIN</text>
<text class="l" x="582.8" y="142.8" font-size="6.2" textLength="10.2" lengthAdjust="spacingAndGlyphs">DNK</text>
<text class="l" x="604.8" y="145.8" font-size="6.2" textLength="10.2" lengthAdjust="spacingAndGlyphs">HUN</text>
<text class="l" x="627.2" y="139.5" font-size="5.4" textLength="8.9" lengthAdjust="spacingAndGlyphs">ROU</text>
<text class="l" x="649.2" y="142.6" font-size="5.4" textLength="8.9" lengthAdjust="spacingAndGlyphs">TUN</text>
<text class="l" x="557.4" y="151.8" font-size="5.4" textLength="8.9" lengthAdjust="spacingAndGlyphs">LTU</text>
<text class="l" x="632.4" y="153.9" font-size="5.4" textLength="8.9" lengthAdjust="spacingAndGlyphs">JOR</text>
<text class="l" x="576.7" y="160.3" font-size="5.4" textLength="8.9" lengthAdjust="spacingAndGlyphs">ISR</text>
<text class="l" x="595.6" y="160.8" font-size="5" textLength="8.2" lengthAdjust="spacingAndGlyphs">SVK</text>
<text class="l" x="613.4" y="160.9" font-size="5.4" textLength="8.9" lengthAdjust="spacingAndGlyphs">MDA</text>
<clipPath id="he"><path d="M4.6 258L10.1 232.9L19 217L55.1 195.6L75.9 190.7L101.6 192.2L117.5 198.4L136.5 207.5L150.9 224.1L159.8 246.1L161.3 267.5L159.8 285L157.6 302.7L149 318L135.6 335.5L117.8 343.1L91.8 347.7L67.9 344L45.3 336.4L22.3 318L12.9 301.2L8.3 280.4Z"/></clipPath>
<g clip-path="url(#he)" fill-opacity="0.018">
<circle cx="55.1" cy="195.6" r="22" fill="#6CD830"/>
<circle cx="36.1" cy="206.9" r="22" fill="#6CD830"/>
<circle cx="52" cy="212.1" r="22" fill="#6CD830"/>
<circle cx="19" cy="217" r="22" fill="#6CD830"/>
<circle cx="39.2" cy="224.7" r="22" fill="#6CD830"/>
<circle cx="55.7" cy="228.3" r="22" fill="#6CD830"/>
<circle cx="10.1" cy="232.9" r="22" fill="#6CD830"/>
<circle cx="25.1" cy="238.4" r="22" fill="#6CD830"/>
<circle cx="44.4" cy="249.8" r="22" fill="#6CD830"/>
<circle cx="75.9" cy="190.7" r="22" fill="#E38B2C"/>
<circle cx="101.6" cy="192.2" r="22" fill="#E38B2C"/>
<circle cx="117.5" cy="198.4" r="22" fill="#E38B2C"/>
<circle cx="72.5" cy="206" r="22" fill="#E38B2C"/>
<circle cx="90.6" cy="204.8" r="22" fill="#E38B2C"/>
<circle cx="110.2" cy="210.9" r="22" fill="#E38B2C"/>
<circle cx="76.5" cy="222.2" r="22" fill="#E38B2C"/>
<circle cx="92.7" cy="223.1" r="22" fill="#E38B2C"/>
<circle cx="126.1" cy="222.2" r="22" fill="#E38B2C"/>
<circle cx="111.7" cy="229.3" r="22" fill="#E38B2C"/>
<circle cx="65.8" cy="240.6" r="22" fill="#E38B2C"/>
<circle cx="89.4" cy="241.2" r="22" fill="#E38B2C"/>
<circle cx="136.5" cy="207.5" r="22" fill="#D17DEA"/>
<circle cx="150.9" cy="224.1" r="22" fill="#D17DEA"/>
<circle cx="138.3" cy="232.9" r="22" fill="#D17DEA"/>
<circle cx="109.6" cy="245.8" r="22" fill="#D17DEA"/>
<circle cx="127" cy="248.2" r="22" fill="#D17DEA"/>
<circle cx="143.8" cy="245.8" r="22" fill="#D17DEA"/>
<circle cx="159.8" cy="246.1" r="22" fill="#D17DEA"/>
<circle cx="77.1" cy="255.9" r="22" fill="#D17DEA"/>
<circle cx="95.2" cy="262" r="22" fill="#D17DEA"/>
<circle cx="122.4" cy="264.5" r="22" fill="#D17DEA"/>
<circle cx="145.4" cy="265.1" r="22" fill="#D17DEA"/>
<circle cx="161.3" cy="267.5" r="22" fill="#D17DEA"/>
<circle cx="80.2" cy="276.4" r="22" fill="#D17DEA"/>
<circle cx="104.7" cy="276.7" r="22" fill="#D17DEA"/>
<circle cx="132.2" cy="277.3" r="22" fill="#D17DEA"/>
<circle cx="159.8" cy="285" r="22" fill="#D17DEA"/>
<circle cx="84.5" cy="295.1" r="22" fill="#D17DEA"/>
<circle cx="104.7" cy="295.7" r="22" fill="#D17DEA"/>
<circle cx="124.9" cy="294.1" r="22" fill="#D17DEA"/>
<circle cx="146.9" cy="289.6" r="22" fill="#D17DEA"/>
<circle cx="139.3" cy="302.4" r="22" fill="#D17DEA"/>
<circle cx="157.6" cy="302.7" r="22" fill="#D17DEA"/>
<circle cx="90.9" cy="314.7" r="22" fill="#D17DEA"/>
<circle cx="113.2" cy="311.9" r="22" fill="#D17DEA"/>
<circle cx="133.7" cy="319.6" r="22" fill="#D17DEA"/>
<circle cx="149" cy="318" r="22" fill="#D17DEA"/>
<circle cx="94.9" cy="331.5" r="22" fill="#D17DEA"/>
<circle cx="113.9" cy="326.9" r="22" fill="#D17DEA"/>
<circle cx="135.6" cy="335.5" r="22" fill="#D17DEA"/>
<circle cx="117.8" cy="343.1" r="22" fill="#D17DEA"/>
<circle cx="91.8" cy="347.7" r="22" fill="#D17DEA"/>
<circle cx="4.6" cy="258" r="22" fill="#5CC8E2"/>
<circle cx="22" cy="255.3" r="22" fill="#5CC8E2"/>
<circle cx="39.5" cy="266.6" r="22" fill="#5CC8E2"/>
<circle cx="62.7" cy="266.6" r="22" fill="#5CC8E2"/>
<circle cx="8.3" cy="280.4" r="22" fill="#5CC8E2"/>
<circle cx="23.9" cy="276.4" r="22" fill="#5CC8E2"/>
<circle cx="60.3" cy="284.4" r="22" fill="#5CC8E2"/>
<circle cx="44.4" cy="285.9" r="22" fill="#5CC8E2"/>
<circle cx="26" cy="292.6" r="22" fill="#5CC8E2"/>
<circle cx="67.3" cy="300.3" r="22" fill="#5CC8E2"/>
<circle cx="12.9" cy="301.2" r="22" fill="#5CC8E2"/>
<circle cx="58.8" cy="313.4" r="22" fill="#5CC8E2"/>
<circle cx="39.8" cy="303.3" r="22" fill="#46916A"/>
<circle cx="22.3" cy="318" r="22" fill="#46916A"/>
<circle cx="41.3" cy="321.7" r="22" fill="#46916A"/>
<circle cx="45.3" cy="336.4" r="22" fill="#46916A"/>
<circle cx="72.8" cy="325.4" r="22" fill="#EB5573"/>
<circle cx="67.9" cy="344" r="22" fill="#EB5573"/>
</g>
<g fill="none" stroke-width="0.45" stroke-opacity="0.12" stroke-linejoin="bevel">
<path stroke="#6CD830" d="M56 228L110 211L10 233L59 313L36 207L22 318L52 212L55 196L19 217L89 241L55 196L56 228L44 250L160 246L55 196L144 246L39 225L126 222L25 238L93 223L56 228L77 222L39 225L132 277L44 250L22 255L10 233L102 192L10 233L91 315L52 212L93 223L39 225L118 343L39 225L126 222L25 238L92 348L39 225L112 229L25 238"/>
<path stroke="#6CD830" d="M25 238L110 246L25 238L89 241L19 217L125 294L52 212L158 303L44 250L13 301L25 238L77 256L55 196L8 280L39 225L160 285L52 212L40 303L56 228L52 212L55 196L114 327L19 217L138 233L36 207L125 294L52 212L8 280L36 207L118 198L44 250L160 285L39 225L56 228L10 233L45 336L52 212L151 224L39 225L39 267L44 250"/>
<path stroke="#6CD830" d="M44 250L95 262L52 212L105 296L55 196L105 296L25 238L8 280L19 217L10 233L25 238L161 268L19 217L112 229L55 196L56 228L39 225L134 320L10 233L149 318L56 228L102 192L19 217L134 320L44 250L41 322L25 238L44 286L25 238L144 246L44 250L73 325L19 217L134 320L36 207L95 331L36 207L68 344L39 225L161 268L55 196"/>
<path stroke="#6CD830" d="M55 196L105 277L52 212L60 284L44 250L45 336L55 196L73 325L10 233L66 241L56 228L13 301L56 228L41 322L36 207L60 284L10 233L118 198L55 196L59 313L19 217L102 192L52 212L105 296L39 225L125 294L56 228L5 258L39 225L95 262L36 207L89 241L39 225L68 344L25 238L136 208L44 250L126 222L55 196L158 303L10 233"/>
<path stroke="#6CD830" d="M10 233L77 222L52 212"/>
<path stroke="#E38B2C" d="M112 229L41 322L73 206L66 241L89 241L161 268L76 191L24 276L73 206L127 248L118 198L13 301L126 222L158 303L118 198L76 191L89 241L36 207L66 241L36 207L110 211L13 301L76 191L144 246L110 211L52 212L126 222L102 192L89 241L13 301L110 211L92 348L102 192L145 265L76 191L44 250L89 241L95 331L93 223L63 267L66 241L102 192L73 206L77 222L112 229L44 250L89 241L151 224L118 198L95 331L112 229L160 246L73 206L138 233L73 206"/>
<path stroke="#E38B2C" d="M73 206L132 277L126 222L66 241L77 222L105 296L112 229L63 267L93 223L149 318L126 222L26 293L77 222L8 280L112 229L22 318L89 241L158 303L77 222L112 229L77 222L55 196L102 192L40 303L76 191L73 325L110 211L40 303L118 198L114 327L118 198L125 294L91 205L91 315L66 241L89 241L112 229L41 322L91 205L158 303L110 211L118 198L91 205L24 276L76 191L55 196L110 211L113 312L126 222L66 241L73 206L110 246L118 198L110 211L89 241"/>
<path stroke="#E38B2C" d="M89 241L93 223L76 191L138 233L89 241L102 192L91 205L73 206L110 211L60 284L102 192L139 302L110 211L13 301L77 222L13 301L110 211L112 229L76 191L138 233L93 223L136 208L118 198L125 294L73 206L68 344L89 241L102 192L126 222L113 312L126 222L122 264L112 229L158 303L110 211L126 222L76 191L77 256L112 229L122 264L112 229L160 285L76 191L113 312L91 205L39 225L89 241L63 267L112 229L8 280L110 211L19 217L110 211L158 303L77 222"/>
<path stroke="#E38B2C" d="M77 222L95 262L89 241L105 296L76 191L5 258L89 241L44 250L73 206L8 280L93 223L151 224L110 211L67 300L93 223L55 196L112 229L144 246L126 222L24 276L112 229L91 315L93 223L105 296L118 198L26 293L118 198L134 320L77 222L80 276L102 192L118 198L126 222L138 233L76 191L19 217L112 229L39 225L73 206L114 327L73 206L149 318L73 206L52 212L118 198L126 222L93 223L102 192L112 229L25 238L91 205L110 211L126 222L95 331L91 205"/>
<path stroke="#D17DEA" d="M136 335L45 336L110 246L151 224L110 246L44 250L127 248L67 300L139 302L112 229L114 327L93 223L147 290L110 211L158 303L60 284L92 348L68 344L161 268L22 255L161 268L84 295L132 277L26 293L132 277L89 241L122 264L80 276L92 348L134 320L114 327L8 280L125 294L13 301L113 312L136 335L147 290L136 335L158 303L102 192L151 224L149 318L110 246L105 296L110 246L113 312L77 256L160 285L113 312L110 211L144 246L113 312L136 335L22 255L105 296L45 336L118 343L40 303L95 331L147 290L80 276L19 217L160 285L77 256L158 303L19 217L151 224L36 207L160 246L24 276L114 327L80 276L139 302L134 320L113 312L39 225L139 302L95 262L105 277L26 293L113 312L110 246L84 295L24 276L127 248L76 191L113 312L110 211L122 264L91 315L158 303L125 294L114 327L68 344L125 294L112 229L149 318L45 336L127 248L92 348L95 331L41 322L122 264L145 265L147 290L136 208L113 312L13 301L144 246L145 265L158 303L60 284L147 290L39 267L147 290L151 224L105 296L144 246L114 327L105 296L95 331L63 267L84 295L41 322L84 295L113 312L158 303L138 233L158 303L89 241L144 246L92 348L136 335L80 276L161 268L55 196L158 303L60 284L77 256L25 238"/>
<path stroke="#D17DEA" d="M25 238L149 318L105 277L160 285L36 207L105 277L56 228L105 296L114 327L80 276L93 223L84 295L13 301L160 246L73 206L132 277L95 331L105 277L125 294L91 315L145 265L136 335L122 264L110 246L26 293L114 327L5 258L105 277L39 267L77 256L122 264L95 262L10 233L92 348L22 318L113 312L55 196L147 290L26 293L158 303L136 208L80 276L92 348L105 296L122 264L114 327L102 192L110 246L77 222L147 290L149 318L84 295L52 212L91 315L110 211L161 268L105 296L91 315L161 268L95 262L44 250L149 318L67 300L125 294L105 277L110 246L95 331L132 277L24 276L95 331L160 246L92 348L127 248L91 315L56 228L134 320L138 233L80 276L138 233L147 290L10 233L144 246L160 285L114 327L60 284L105 277L25 238L139 302L136 335L139 302L134 320L113 312L13 301L127 248L80 276L125 294L77 256L125 294L73 325L160 246L63 267L122 264L126 222L147 290L149 318L139 302L66 241L77 256L39 267L134 320L52 212L95 262L112 229L110 246L73 206L92 348L39 225L151 224L161 268L91 315L73 206L138 233L95 331L136 208L134 320L105 277L59 313L113 312L158 303L145 265L24 276L118 343L41 322L132 277L5 258L114 327L22 318L92 348L73 206L80 276"/>
<path stroke="#D17DEA" d="M80 276L5 258L80 276L8 280L105 296L95 331L84 295L44 286L145 265L134 320L84 295L136 208L92 348L84 295L144 246L151 224L91 315L59 313L136 335L41 322L113 312L139 302L92 348L68 344L84 295L95 262L77 256L84 295L105 296L22 318L139 302L134 320L138 233L25 238L132 277L68 344L134 320L52 212L91 315L13 301L77 256L160 246L125 294L110 246L118 343L144 246L95 331L160 285L92 348L19 217L92 348L91 205L125 294L136 335L160 285L59 313L144 246L66 241L144 246L26 293L84 295L80 276L134 320L22 318L95 262L144 246L158 303L66 241L84 295L39 267L149 318L93 223L95 331L77 222L77 256L136 335L138 233L144 246L160 285L110 246L77 256L60 284L151 224L110 246L84 295L138 233L105 277L118 198L127 248L125 294L138 233L77 222L77 256L22 318L160 246L118 343L110 246L22 318L160 285L63 267L80 276L5 258L105 277L118 343L138 233L136 208L105 277L44 250L84 295L134 320L127 248L151 224L136 335L151 224L158 303L151 224L105 277L147 290L113 312L93 223L105 296L60 284L158 303L113 312L127 248L84 295L158 303L8 280L127 248L118 343L145 265L134 320L105 296L22 318L113 312L56 228L138 233L132 277L136 208L55 196"/>
<path stroke="#D17DEA" d="M55 196L144 246L36 207L122 264L112 229L118 343L73 206L136 208L113 312L92 348L145 265L91 315L105 296L134 320L60 284L125 294L77 222L122 264L126 222L80 276L66 241L161 268L26 293L114 327L136 208L160 285L52 212L161 268L93 223L118 343L24 276L84 295L73 206L127 248L84 295L91 315L151 224L105 277L36 207L138 233L44 250L144 246L125 294L160 246L25 238L138 233L22 255L147 290L93 223L151 224L44 250L77 256L160 285L127 248L55 196L158 303L45 336L127 248L110 211L136 335L122 264L149 318L13 301L160 246L136 208L147 290L13 301L161 268L89 241L122 264L145 265L139 302L118 343L132 277L22 318L144 246L73 325L134 320L92 348L158 303L138 233L95 262L44 286L139 302L55 196L92 348L44 250L147 290L92 348L147 290L76 191L113 312L161 268L92 348L36 207L127 248L149 318L147 290L5 258L134 320L110 246L134 320L110 211L84 295L68 344L132 277L80 276L149 318L68 344L158 303L112 229L134 320L105 296L77 256L136 208L134 320L118 198L136 335L147 290L110 246L13 301L110 246L125 294L127 248L60 284L138 233L45 336L127 248L40 303L139 302L113 312L92 348L22 318L125 294L73 206L122 264L41 322L145 265L8 280L122 264"/>
<path stroke="#D17DEA" d="M122 264L136 335L151 224"/>
<path stroke="#5CC8E2" d="M5 258L22 318L13 301L161 268L26 293L41 322L5 258L76 191L13 301L24 276L26 293L91 205L8 280L73 206L8 280L39 267L59 313L95 262L67 300L80 276L39 267L145 265L8 280L5 258L24 276L95 331L8 280L126 222L67 300L39 225L13 301L56 228L22 255L39 267L59 313L36 207L22 255L44 250L60 284L139 302L44 286L77 222L13 301L36 207L5 258L22 318L39 267L134 320L13 301L26 293L5 258L26 293L60 284L127 248L26 293"/>
<path stroke="#5CC8E2" d="M26 293L40 303L8 280L25 238L13 301L110 246L60 284L22 255L59 313L105 277L13 301L55 196L22 255L41 322L59 313L144 246L44 286L22 318L24 276L158 303L26 293L44 286L8 280L89 241L67 300L132 277L8 280L77 256L5 258L39 225L44 286L77 256L24 276L56 228L13 301L105 296L26 293L8 280L63 267L95 262L60 284L22 255L60 284L138 233L26 293L59 313L26 293L102 192L13 301L112 229L67 300L5 258L63 267L126 222L63 267"/>
<path stroke="#5CC8E2" d="M63 267L161 268L60 284L55 196L22 255L84 295L5 258L10 233L5 258L113 312L26 293L59 313L26 293L114 327L8 280L102 192L5 258L91 315L67 300L76 191L26 293L144 246L8 280L19 217L5 258L112 229L60 284L122 264L60 284L92 348L60 284L149 318L60 284L44 286L63 267L56 228L22 255L127 248L13 301L80 276L13 301L84 295L39 267L40 303L13 301L44 286L60 284L105 277L8 280L24 276L63 267L136 208L24 276L113 312L8 280"/>
<path stroke="#5CC8E2" d="M8 280L39 225L13 301L144 246L63 267L113 312L24 276L63 267L44 286L91 205L26 293L110 211L44 286L73 206L26 293L67 300L60 284L19 217L63 267L44 286L26 293L145 265L13 301L105 277L24 276L73 325L44 286L8 280L13 301L67 300L59 313L39 225L13 301L151 224L60 284L19 217L39 267L89 241L67 300L45 336L13 301L113 312L67 300L160 246L39 267L91 205L60 284L45 336L44 286L147 290L13 301L55 196L67 300L105 296L24 276"/>
<path stroke="#46916A" d="M22 318L91 205L22 318L139 302L22 318L114 327L45 336L138 233L40 303L92 348L41 322L139 302L41 322L144 246L22 318L138 233L40 303L114 327L22 318"/>
<path stroke="#46916A" d="M22 318L160 285L40 303L91 315L22 318L10 233L41 322L59 313L41 322L5 258L45 336L105 296L40 303L138 233L40 303L158 303L40 303L136 335L22 318"/>
<path stroke="#46916A" d="M22 318L105 296L45 336L66 241L45 336L22 255L45 336L41 322L45 336L59 313L45 336L95 331L40 303L68 344L22 318L91 205L45 336L68 344L41 322"/>
<path stroke="#46916A" d="M41 322L161 268L40 303L136 335L41 322L127 248L40 303L73 206L41 322L95 262L22 318L139 302L45 336L110 246L22 318L84 295L22 318L73 206L41 322"/>
<path stroke="#EB5573" d="M73 325L56 228L73 325L139 302L73 325L44 250L68 344L102 192L73 325L73 206"/>
<path stroke="#EB5573" d="M73 206L73 325L134 320L73 325L56 228L73 325L138 233L68 344L41 322L73 325"/>
<path stroke="#EB5573" d="M73 325L132 277L73 325L138 233L73 325L56 228L68 344L44 250L68 344L73 325"/>
<path stroke="#EB5573" d="M73 325L68 344L158 303L73 325L77 222L73 325L118 198L68 344L84 295L68 344"/>
</g>
<path stroke="#D17DEA" stroke-width="2.4" stroke-opacity="0.7" d="M122.4 264.5L68.2 266.4"/>
<path fill="#D17DEA" fill-opacity="0.9" d="M68.2 266.4L76.1 262.2L76.4 270Z"/>
<path stroke="#D17DEA" stroke-width="1.2" stroke-opacity="0.7" d="M122.4 264.5L65.5 282.7"/>
<path fill="#D17DEA" fill-opacity="0.9" d="M65.5 282.7L69.5 278.8L71 283.5Z"/>
<path stroke="#5CC8E2" stroke-width="1.4" stroke-opacity="0.7" d="M39.5 266.6L57.2 266.6"/>
<path fill="#5CC8E2" fill-opacity="0.9" d="M57.2 266.6L51.7 269.3L51.7 263.9Z"/>
<path stroke="#5CC8E2" stroke-width="1" stroke-opacity="0.7" d="M39.5 266.6L56.1 280.8"/>
<path fill="#5CC8E2" fill-opacity="0.9" d="M56.1 280.8L51.3 279.5L54.1 276.2Z"/>
<path stroke="#46916A" stroke-width="1" stroke-opacity="0.7" d="M41.3 321.7L40.3 309.7"/>
<path fill="#46916A" fill-opacity="0.9" d="M40.3 309.7L42.9 314L38.5 314.4Z"/>
<path stroke="#D17DEA" stroke-width="0.6" stroke-opacity="0.7" d="M95.2 262L68.2 265.8"/>
<path fill="#D17DEA" fill-opacity="0.9" d="M68.2 265.8L71.4 263.6L71.9 267Z"/>
<path stroke="#6CD830" stroke-width="0.5" stroke-opacity="0.7" d="M25.1 238.4L56.9 280"/>
<path fill="#6CD830" fill-opacity="0.9" d="M56.9 280L53.7 278.4L56.2 276.4Z"/>
<path stroke="#5CC8E2" stroke-width="0.5" stroke-opacity="0.7" d="M55.1 195.6L40.7 261.2"/>
<path fill="#5CC8E2" fill-opacity="0.9" d="M40.7 261.2L39.8 257.7L42.9 258.4Z"/>
<g stroke="#505050" stroke-width="0.35">
<circle cx="55.1" cy="195.6" r="4.5" fill="#6CD830"/>
<circle cx="36.1" cy="206.9" r="4.5" fill="#6CD830"/>
<circle cx="52" cy="212.1" r="4.8" fill="#6CD830"/>
<circle cx="19" cy="217" r="4.5" fill="#6CD830"/>
<circle cx="39.2" cy="224.7" r="5.5" fill="#6CD830"/>
<circle cx="55.7" cy="228.3" r="4.8" fill="#6CD830"/>
<circle cx="10.1" cy="232.9" r="5.5" fill="#6CD830"/>
<circle cx="25.1" cy="238.4" r="4.8" fill="#6CD830"/>
<circle cx="44.4" cy="249.8" r="5.5" fill="#6CD830"/>
<circle cx="75.9" cy="190.7" r="4.8" fill="#E38B2C"/>
<circle cx="101.6" cy="192.2" r="4.5" fill="#E38B2C"/>
<circle cx="117.5" cy="198.4" r="4.5" fill="#E38B2C"/>
<circle cx="72.5" cy="206" r="4.8" fill="#E38B2C"/>
<circle cx="90.6" cy="204.8" r="4.8" fill="#E38B2C"/>
<circle cx="110.2" cy="210.9" r="4.8" fill="#E38B2C"/>
<circle cx="76.5" cy="222.2" r="4.8" fill="#E38B2C"/>
<circle cx="92.7" cy="223.1" r="4.8" fill="#E38B2C"/>
<circle cx="126.1" cy="222.2" r="4.8" fill="#E38B2C"/>
<circle cx="111.7" cy="229.3" r="4.8" fill="#E38B2C"/>
<circle cx="65.8" cy="240.6" r="5.5" fill="#E38B2C"/>
<circle cx="89.4" cy="241.2" r="4.8" fill="#E38B2C"/>
<circle cx="136.5" cy="207.5" r="4.5" fill="#D17DEA"/>
<circle cx="150.9" cy="224.1" r="4.5" fill="#D17DEA"/>
<circle cx="138.3" cy="232.9" r="4.5" fill="#D17DEA"/>
<circle cx="109.6" cy="245.8" r="5.5" fill="#D17DEA"/>
<circle cx="127" cy="248.2" r="4.8" fill="#D17DEA"/>
<circle cx="143.8" cy="245.8" r="4.5" fill="#D17DEA"/>
<circle cx="159.8" cy="246.1" r="4.5" fill="#D17DEA"/>
<circle cx="77.1" cy="255.9" r="5.5" fill="#D17DEA"/>
<circle cx="95.2" cy="262" r="5.5" fill="#D17DEA"/>
<circle cx="122.4" cy="264.5" r="5.5" fill="#D17DEA"/>
<circle cx="145.4" cy="265.1" r="4.8" fill="#D17DEA"/>
<circle cx="161.3" cy="267.5" r="4.5" fill="#D17DEA"/>
<circle cx="80.2" cy="276.4" r="5.5" fill="#D17DEA"/>
<circle cx="104.7" cy="276.7" r="5.5" fill="#D17DEA"/>
<circle cx="132.2" cy="277.3" r="4.8" fill="#D17DEA"/>
<circle cx="159.8" cy="285" r="4.5" fill="#D17DEA"/>
<circle cx="84.5" cy="295.1" r="5.5" fill="#D17DEA"/>
<circle cx="104.7" cy="295.7" r="5.5" fill="#D17DEA"/>
<circle cx="124.9" cy="294.1" r="4.8" fill="#D17DEA"/>
<circle cx="146.9" cy="289.6" r="4.5" fill="#D17DEA"/>
<circle cx="139.3" cy="302.4" r="4.5" fill="#D17DEA"/>
<circle cx="157.6" cy="302.7" r="4.5" fill="#D17DEA"/>
<circle cx="90.9" cy="314.7" r="4.8" fill="#D17DEA"/>
<circle cx="113.2" cy="311.9" r="4.8" fill="#D17DEA"/>
<circle cx="133.7" cy="319.6" r="4.8" fill="#D17DEA"/>
<circle cx="149" cy="318" r="4.5" fill="#D17DEA"/>
<circle cx="94.9" cy="331.5" r="4.8" fill="#D17DEA"/>
<circle cx="113.9" cy="326.9" r="4.5" fill="#D17DEA"/>
<circle cx="135.6" cy="335.5" r="4.5" fill="#D17DEA"/>
<circle cx="117.8" cy="343.1" r="4.5" fill="#D17DEA"/>
<circle cx="91.8" cy="347.7" r="4.5" fill="#D17DEA"/>
<circle cx="4.6" cy="258" r="4.8" fill="#5CC8E2"/>
<circle cx="22" cy="255.3" r="4.8" fill="#5CC8E2"/>
<circle cx="39.5" cy="266.6" r="5.5" fill="#5CC8E2"/>
<circle cx="62.7" cy="266.6" r="5.5" fill="#5CC8E2"/>
<circle cx="8.3" cy="280.4" r="4.5" fill="#5CC8E2"/>
<circle cx="23.9" cy="276.4" r="4.5" fill="#5CC8E2"/>
<circle cx="60.3" cy="284.4" r="5.5" fill="#5CC8E2"/>
<circle cx="44.4" cy="285.9" r="4.8" fill="#5CC8E2"/>
<circle cx="26" cy="292.6" r="4.8" fill="#5CC8E2"/>
<circle cx="67.3" cy="300.3" r="4.8" fill="#5CC8E2"/>
<circle cx="12.9" cy="301.2" r="4.5" fill="#5CC8E2"/>
<circle cx="58.8" cy="313.4" r="5.5" fill="#5CC8E2"/>
<circle cx="39.8" cy="303.3" r="6.4" fill="#46916A"/>
<circle cx="22.3" cy="318" r="4.8" fill="#46916A"/>
<circle cx="41.3" cy="321.7" r="5.5" fill="#46916A"/>
<circle cx="45.3" cy="336.4" r="4.8" fill="#46916A"/>
<circle cx="72.8" cy="325.4" r="5.5" fill="#EB5573"/>
<circle cx="67.9" cy="344" r="4.8" fill="#EB5573"/>
</g>
<text class="l" x="55.1" y="196.8" font-size="5" textLength="8.2" lengthAdjust="spacingAndGlyphs">PAK</text>
<text class="l" x="36.1" y="208.1" font-size="5" textLength="8.2" lengthAdjust="spacingAndGlyphs">LBY</text>
<text class="l" x="52" y="213.4" font-size="5.4" textLength="8.9" lengthAdjust="spacingAndGlyphs">CHL</text>
<text class="l" x="19" y="218.2" font-size="5" textLength="8.2" lengthAdjust="spacingAndGlyphs">COL</text>
<text class="l" x="39.2" y="226.2" font-size="6.2" textLength="10.2" lengthAdjust="spacingAndGlyphs">BRA</text>
<text class="l" x="55.7" y="229.6" font-size="5.4" textLength="8.9" lengthAdjust="spacingAndGlyphs">PRT</text>
<text class="l" x="10.1" y="234.4" font-size="6.2" textLength="10.2" lengthAdjust="spacingAndGlyphs">ARG</text>
<text class="l" x="25.1" y="239.7" font-size="5.4" textLength="8.9" lengthAdjust="spacingAndGlyphs">MAR</text>
<text class="l" x="44.4" y="251.3" font-size="6.2" textLength="10.2" lengthAdjust="spacingAndGlyphs">SGP</text>
<text class="l" x="75.9" y="192" font-size="5.4">FIN</text>
<text class="l" x="101.6" y="193.4" font-size="5" textLength="8.2" lengthAdjust="spacingAndGlyphs">LTU</text>
<text class="l" x="117.5" y="199.6" font-size="5" textLength="8.2" lengthAdjust="spacingAndGlyphs">SVK</text>
<text class="l" x="72.5" y="207.3" font-size="5.4" textLength="8.9" lengthAdjust="spacingAndGlyphs">EGY</text>
<text class="l" x="90.6" y="206.1" font-size="5.4" textLength="8.9" lengthAdjust="spacingAndGlyphs">PER</text>
<text class="l" x="110.2" y="212.2" font-size="5.4" textLength="8.9" lengthAdjust="spacingAndGlyphs">POL</text>
<text class="l" x="76.5" y="223.5" font-size="5.4" textLength="8.9" lengthAdjust="spacingAndGlyphs">NOR</text>
<text class="l" x="92.7" y="224.4" font-size="5.4" textLength="8.9" lengthAdjust="spacingAndGlyphs">RUS</text>
<text class="l" x="126.1" y="223.5" font-size="5.4" textLength="8.9" lengthAdjust="spacingAndGlyphs">CZE</text>
<text class="l" x="111.7" y="230.6" font-size="5.4">ISL</text>
<text class="l" x="65.8" y="242.1" font-size="6.2" textLength="10.2" lengthAdjust="spacingAndGlyphs">DNK</text>
<text class="l" x="89.4" y="242.5" font-size="5.4" textLength="8.9" lengthAdjust="spacingAndGlyphs">SWE</text>
<text class="l" x="136.5" y="208.7" font-size="5" textLength="8.2" lengthAdjust="spacingAndGlyphs">SVN</text>
<text class="l" x="150.9" y="225.3" font-size="5" textLength="8.2" lengthAdjust="spacingAndGlyphs">HRV</text>
<text class="l" x="138.3" y="234.1" font-size="5" textLength="8.2" lengthAdjust="spacingAndGlyphs">KEN</text>
<text class="l" x="109.6" y="247.3" font-size="6.2">ITA</text>
<text class="l" x="127" y="249.5" font-size="5.4" textLength="8.9" lengthAdjust="spacingAndGlyphs">UKR</text>
<text class="l" x="143.8" y="247" font-size="5" textLength="8.2" lengthAdjust="spacingAndGlyphs">HUN</text>
<text class="l" x="159.8" y="247.3" font-size="5" textLength="8.2" lengthAdjust="spacingAndGlyphs">ROU</text>
<text class="l" x="77.1" y="257.4" font-size="6.2" textLength="10.2" lengthAdjust="spacingAndGlyphs">GBR</text>
<text class="l" x="95.2" y="263.5" font-size="6.2" textLength="10.2" lengthAdjust="spacingAndGlyphs">NLD</text>
<text class="l" x="122.4" y="265.9" font-size="6.2" textLength="10.2" lengthAdjust="spacingAndGlyphs">IDN</text>
<text class="l" x="145.4" y="266.4" font-size="5.4" textLength="8.9" lengthAdjust="spacingAndGlyphs">AUT</text>
<text class="l" x="161.3" y="268.7" font-size="5" textLength="8.2" lengthAdjust="spacingAndGlyphs">SRB</text>
<text class="l" x="80.2" y="277.9" font-size="6.2" textLength="10.2" lengthAdjust="spacingAndGlyphs">ESP</text>
<text class="l" x="104.7" y="278.2" font-size="6.2" textLength="10.2" lengthAdjust="spacingAndGlyphs">DEU</text>
<text class="l" x="132.2" y="278.6" font-size="5.4" textLength="8.9" lengthAdjust="spacingAndGlyphs">GRC</text>
<text class="l" x="159.8" y="286.2" font-size="5" textLength="8.2" lengthAdjust="spacingAndGlyphs">BGR</text>
<text class="l" x="84.5" y="296.6" font-size="6.2" textLength="10.2" lengthAdjust="spacingAndGlyphs">FRA</text>
<text class="l" x="104.7" y="297.2" font-size="6.2" textLength="10.2" lengthAdjust="spacingAndGlyphs">BEL</text>
<text class="l" x="124.9" y="295.4" font-size="5.4" textLength="8.9" lengthAdjust="spacingAndGlyphs">CHE</text>
<text class="l" x="146.9" y="290.8" font-size="5" textLength="8.2" lengthAdjust="spacingAndGlyphs">JOR</text>
<text class="l" x="139.3" y="303.6" font-size="5" textLength="8.2" lengthAdjust="spacingAndGlyphs">MLT</text>
<text class="l" x="157.6" y="303.9" font-size="5">IRL</text>
<text class="l" x="90.9" y="316" font-size="5.4" textLength="8.9" lengthAdjust="spacingAndGlyphs">TUN</text>
<text class="l" x="113.2" y="313.2" font-size="5.4" textLength="8.9" lengthAdjust="spacingAndGlyphs">ARE</text>
<text class="l" x="133.7" y="320.8" font-size="5.4" textLength="8.9" lengthAdjust="spacingAndGlyphs">ZAF</text>
<text class="l" x="149" y="319.2" font-size="5" textLength="8.2" lengthAdjust="spacingAndGlyphs">ISR</text>
<text class="l" x="94.9" y="332.8" font-size="5.4" textLength="8.9" lengthAdjust="spacingAndGlyphs">GHA</text>
<text class="l" x="113.9" y="328.1" font-size="5" textLength="8.2" lengthAdjust="spacingAndGlyphs">CYP</text>
<text class="l" x="135.6" y="336.7" font-size="5" textLength="8.2" lengthAdjust="spacingAndGlyphs">NGA</text>
<text class="l" x="117.8" y="344.3" font-size="5" textLength="8.2" lengthAdjust="spacingAndGlyphs">SEN</text>
<text class="l" x="91.8" y="348.9" font-size="5" textLength="8.2" lengthAdjust="spacingAndGlyphs">BHR</text>
<text class="l" x="4.6" y="259.3" font-size="5.4" textLength="8.9" lengthAdjust="spacingAndGlyphs">LKA</text>
<text class="l" x="22" y="256.6" font-size="5.4" textLength="8.9" lengthAdjust="spacingAndGlyphs">HKG</text>
<text class="l" x="39.5" y="268.1" font-size="6.2" textLength="10.2" lengthAdjust="spacingAndGlyphs">MYS</text>
<text class="l" x="62.7" y="268.1" font-size="6.2" textLength="10.2" lengthAdjust="spacingAndGlyphs">IND</text>
<text class="l" x="8.3" y="281.6" font-size="5" textLength="8.2" lengthAdjust="spacingAndGlyphs">VNM</text>
<text class="l" x="23.9" y="277.6" font-size="5" textLength="8.2" lengthAdjust="spacingAndGlyphs">NZL</text>
<text class="l" x="60.3" y="285.8" font-size="6.2" textLength="10.2" lengthAdjust="spacingAndGlyphs">CHN</text>
<text class="l" x="44.4" y="287.2" font-size="5.4" textLength="8.9" lengthAdjust="spacingAndGlyphs">KOR</text>
<text class="l" x="26" y="293.9" font-size="5.4" textLength="8.9" lengthAdjust="spacingAndGlyphs">AUS</text>
<text class="l" x="67.3" y="301.6" font-size="5.4" textLength="8.9" lengthAdjust="spacingAndGlyphs">JPN</text>
<text class="l" x="12.9" y="302.4" font-size="5" textLength="8.2" lengthAdjust="spacingAndGlyphs">KWT</text>
<text class="l" x="58.8" y="314.9" font-size="6.2" textLength="10.2" lengthAdjust="spacingAndGlyphs">THA</text>
<text class="l" x="39.8" y="305.1" font-size="7.2" textLength="11.8" lengthAdjust="spacingAndGlyphs">USA</text>
<text class="l" x="22.3" y="319.3" font-size="5.4" textLength="8.9" lengthAdjust="spacingAndGlyphs">MEX</text>
<text class="l" x="41.3" y="323.2" font-size="6.2" textLength="10.2" lengthAdjust="spacingAndGlyphs">CAN</text>
<text class="l" x="45.3" y="337.7" font-size="5.4" textLength="8.9" lengthAdjust="spacingAndGlyphs">PHL</text>
<text class="l" x="72.8" y="326.9" font-size="6.2" textLength="10.2" lengthAdjust="spacingAndGlyphs">TUR</text>
<text class="l" x="67.9" y="345.3" font-size="5.4" textLength="8.9" lengthAdjust="spacingAndGlyphs">LBN</text>
<clipPath id="hf"><path d="M177.2 284L177.5 240L191 220.7L207.2 204.5L228.6 195.3L253.4 190.7L280.6 194.7L303.6 206L321 223.8L328.1 244.3L328.1 268.1L327.5 291.1L322 311L308.8 328.4L288.6 339.8L267.8 346.8L247 346.8L224.6 341.6L209.6 333.9L195 322.6L184.2 304.9Z"/></clipPath>
<g clip-path="url(#hf)" fill-opacity="0.018">
<circle cx="253.4" cy="190.7" r="22" fill="#E38B2C"/>
<circle cx="251" cy="207.5" r="22" fill="#E38B2C"/>
<circle cx="269.3" cy="208.5" r="22" fill="#E38B2C"/>
<circle cx="261.4" cy="227.7" r="22" fill="#E38B2C"/>
<circle cx="280.6" cy="194.7" r="22" fill="#46916A"/>
<circle cx="287.4" cy="211.8" r="22" fill="#46916A"/>
<circle cx="303.6" cy="206" r="22" fill="#46916A"/>
<circle cx="228.6" cy="195.3" r="22" fill="#5CC8E2"/>
<circle cx="207.2" cy="204.5" r="22" fill="#5CC8E2"/>
<circle cx="231.1" cy="210" r="22" fill="#5CC8E2"/>
<circle cx="191" cy="220.7" r="22" fill="#5CC8E2"/>
<circle cx="215.5" cy="222.8" r="22" fill="#5CC8E2"/>
<circle cx="237.2" cy="224.7" r="22" fill="#5CC8E2"/>
<circle cx="177.5" cy="240" r="22" fill="#5CC8E2"/>
<circle cx="198.9" cy="239.1" r="22" fill="#5CC8E2"/>
<circle cx="233.2" cy="240.6" r="22" fill="#5CC8E2"/>
<circle cx="252.2" cy="241.5" r="22" fill="#5CC8E2"/>
<circle cx="214.2" cy="248.2" r="22" fill="#5CC8E2"/>
<circle cx="247.9" cy="259.6" r="22" fill="#5CC8E2"/>
<circle cx="284.6" cy="225.9" r="22" fill="#D17DEA"/>
<circle cx="304.2" cy="223.8" r="22" fill="#D17DEA"/>
<circle cx="321" cy="223.8" r="22" fill="#D17DEA"/>
<circle cx="276.1" cy="239.7" r="22" fill="#D17DEA"/>
<circle cx="295.3" cy="241.5" r="22" fill="#D17DEA"/>
<circle cx="311.3" cy="239.7" r="22" fill="#D17DEA"/>
<circle cx="328.1" cy="244.3" r="22" fill="#D17DEA"/>
<circle cx="265.3" cy="253.4" r="22" fill="#D17DEA"/>
<circle cx="289.8" cy="254.4" r="22" fill="#D17DEA"/>
<circle cx="311.9" cy="258.3" r="22" fill="#D17DEA"/>
<circle cx="279.1" cy="271.2" r="22" fill="#D17DEA"/>
<circle cx="296" cy="272.7" r="22" fill="#D17DEA"/>
<circle cx="313.7" cy="274.3" r="22" fill="#D17DEA"/>
<circle cx="328.1" cy="268.1" r="22" fill="#D17DEA"/>
<circle cx="256.2" cy="276.7" r="22" fill="#D17DEA"/>
<circle cx="276.1" cy="286.5" r="22" fill="#D17DEA"/>
<circle cx="293.8" cy="291.7" r="22" fill="#D17DEA"/>
<circle cx="310.6" cy="292.6" r="22" fill="#D17DEA"/>
<circle cx="327.5" cy="291.1" r="22" fill="#D17DEA"/>
<circle cx="286.2" cy="303.9" r="22" fill="#D17DEA"/>
<circle cx="308.2" cy="307" r="22" fill="#D17DEA"/>
<circle cx="322" cy="311" r="22" fill="#D17DEA"/>
<circle cx="297.5" cy="316.5" r="22" fill="#D17DEA"/>
<circle cx="308.8" cy="328.4" r="22" fill="#D17DEA"/>
<circle cx="177.5" cy="262" r="22" fill="#6CD830"/>
<circle cx="194.3" cy="258" r="22" fill="#6CD830"/>
<circle cx="225.6" cy="260.5" r="22" fill="#6CD830"/>
<circle cx="204.7" cy="269.7" r="22" fill="#6CD830"/>
<circle cx="217.9" cy="278.8" r="22" fill="#6CD830"/>
<circle cx="236.3" cy="274.3" r="22" fill="#6CD830"/>
<circle cx="177.2" cy="284" r="22" fill="#6CD830"/>
<circle cx="193.4" cy="281.3" r="22" fill="#6CD830"/>
<circle cx="239.9" cy="293.5" r="22" fill="#6CD830"/>
<circle cx="258.6" cy="295.1" r="22" fill="#6CD830"/>
<circle cx="198" cy="298.1" r="22" fill="#6CD830"/>
<circle cx="219.4" cy="300.3" r="22" fill="#6CD830"/>
<circle cx="184.2" cy="304.9" r="22" fill="#6CD830"/>
<circle cx="208.7" cy="313.4" r="22" fill="#6CD830"/>
<circle cx="236.3" cy="309.5" r="22" fill="#6CD830"/>
<circle cx="253.7" cy="311" r="22" fill="#6CD830"/>
<circle cx="270.9" cy="310.4" r="22" fill="#6CD830"/>
<circle cx="195" cy="322.6" r="22" fill="#6CD830"/>
<circle cx="224.6" cy="323.2" r="22" fill="#6CD830"/>
<circle cx="243.9" cy="328.4" r="22" fill="#6CD830"/>
<circle cx="261.4" cy="328.4" r="22" fill="#6CD830"/>
<circle cx="279.7" cy="322.6" r="22" fill="#6CD830"/>
<circle cx="209.6" cy="333.9" r="22" fill="#6CD830"/>
<circle cx="224.6" cy="341.6" r="22" fill="#6CD830"/>
<circle cx="288.6" cy="339.8" r="22" fill="#6CD830"/>
<circle cx="247" cy="346.8" r="22" fill="#6CD830"/>
<circle cx="267.8" cy="346.8" r="22" fill="#6CD830"/>
</g>
<g fill="none" stroke-width="0.45" stroke-opacity="0.12" stroke-linejoin="bevel">
<path stroke="#E38B2C" d="M251 208L233 241L261 228L229 195L261 228L314 274L261 228L328 268L253 191L265 253L269 208L226 260L269 208L295 242L269 208L261 328L269 208L231 210L253 191"/>
<path stroke="#E38B2C" d="M253 191L304 224L261 228L225 323L269 208L193 281L269 208L281 195L251 208L286 304L251 208L311 293L261 228L254 311L261 228L285 226L251 208L248 260L261 228"/>
<path stroke="#E38B2C" d="M261 228L276 240L251 208L184 305L253 191L287 212L253 191L289 340L251 208L198 298L269 208L195 323L253 191L184 305L269 208L327 291L269 208L276 240L251 208"/>
<path stroke="#E38B2C" d="M251 208L184 305L261 228L327 291L269 208L254 311L251 208L253 191L269 208L184 305L269 208L322 311L253 191L236 309L261 228L219 300L251 208L311 293L251 208"/>
<path stroke="#46916A" d="M287 212L304 206L287 212L218 279L287 212L265 253L281 195L296 273L304 206L177 284L287 212L269 208L287 212L191 221"/>
<path stroke="#46916A" d="M191 221L287 212L296 273L304 206L209 313L287 212L207 204L281 195L210 334L304 206L265 253L304 206L219 300L281 195"/>
<path stroke="#46916A" d="M281 195L296 273L287 212L286 304L287 212L177 284L304 206L237 225L287 212L279 271L287 212L178 262L304 206L244 328"/>
<path stroke="#46916A" d="M244 328L281 195L229 195L287 212L311 293L281 195L308 307L304 206L309 328L281 195L309 328L304 206L237 225L287 212"/>
<path stroke="#46916A" d="M287 212L236 309L287 212"/>
<path stroke="#5CC8E2" d="M199 239L251 208L248 260L261 228L207 204L268 347L231 210L252 242L237 225L322 311L214 248L240 294L191 221L210 334L233 241L276 286L237 225L279 271L231 210L226 260L248 260L244 328L248 260L219 300L207 204L268 347L231 210L199 239L207 204L276 240L178 240L231 210L207 204L308 307L214 248L219 300L252 242L314 274L207 204L229 195L233 241L205 270L237 225L290 254L215 223L218 279L178 240L237 225L178 240L205 270L231 210L198 298L191 221L207 204L237 225"/>
<path stroke="#5CC8E2" d="M237 225L271 310L237 225L286 304L231 210L294 292L237 225L193 281L214 248L308 307L207 204L178 262L237 225L177 284L252 242L226 260L237 225L177 284L191 221L225 323L178 240L184 305L231 210L304 206L215 223L210 334L231 210L327 291L233 241L314 274L178 240L244 328L237 225L236 274L237 225L194 258L215 223L207 204L178 240L287 212L215 223L218 279L199 239L240 294L207 204L215 223L214 248L178 240L207 204L195 323L229 195L256 277L233 241L205 270L229 195"/>
<path stroke="#5CC8E2" d="M229 195L256 277L178 240L236 309L237 225L311 240L178 240L321 224L229 195L236 274L237 225L265 253L237 225L279 271L207 204L205 270L231 210L207 204L191 221L322 311L191 221L295 242L178 240L259 295L229 195L286 304L215 223L209 313L178 240L252 242L214 248L269 208L215 223L276 240L252 242L218 279L191 221L237 225L178 240L294 292L248 260L261 228L233 241L281 195L233 241L195 323L191 221L219 300L252 242L225 342L252 242L290 254L231 210L178 240L214 248"/>
<path stroke="#5CC8E2" d="M214 248L314 274L248 260L289 340L215 223L191 221L231 210L251 208L229 195L240 294L207 204L210 334L178 240L254 311L178 240L259 295L215 223L248 260L233 241L210 334L199 239L304 206L199 239L312 258L248 260L289 340L191 221L297 316L199 239L225 342L231 210L219 300L231 210L240 294L237 225L219 300L214 248L198 298L233 241L253 191L233 241L244 328L252 242L269 208L231 210L210 334L214 248L286 304L207 204L261 228L199 239L231 210L237 225L294 292L231 210"/>
<path stroke="#D17DEA" d="M322 311L214 248L321 224L236 309L285 226L233 241L304 224L251 208L321 224L252 242L276 240L195 323L256 277L322 311L296 273L285 226L279 271L207 204L296 273L184 305L297 316L321 224L295 242L233 241L311 240L321 224L314 274L225 323L276 240L236 309L295 242L178 240L279 271L261 228L308 307L328 268L314 274L268 347L308 307L178 240L297 316L287 212L290 254L287 212L256 277L236 309L265 253L279 271L314 274L178 240L276 286L311 293L327 291L251 208L309 328L312 258L294 292L261 228L304 224L309 328L279 271L253 191L314 274L184 305L311 293L268 347L309 328L311 240L256 277L259 295L276 286L247 347L285 226L254 311L304 224L209 313L276 240L269 208L290 254L195 323L312 258L237 225L311 293L214 248L309 328L295 242L276 240L281 195L304 224L280 323L322 311L229 195L295 242L289 340L327 291L279 271L308 307L312 258L285 226L261 328L286 304L226 260L276 240L259 295L295 242L240 294L309 328L178 262L294 292"/>
<path stroke="#D17DEA" d="M294 292L199 239L304 224L276 286L265 253L279 271L286 304L328 244L322 311L225 342L314 274L244 328L327 291L225 342L276 240L195 323L297 316L295 242L256 277L209 313L311 293L178 240L314 274L276 286L314 274L261 328L276 240L321 224L295 242L281 195L309 328L271 310L321 224L271 310L312 258L191 221L265 253L290 254L314 274L193 281L296 273L178 262L256 277L236 309L309 328L265 253L311 240L296 273L322 311L276 240L285 226L219 300L309 328L251 208L311 293L321 224L265 253L276 286L312 258L195 323L276 286L296 273L297 316L294 292L295 242L312 258L311 240L276 286L328 268L289 340L265 253L253 191L297 316L194 258L290 254L252 242L285 226L236 309L276 286L261 328L285 226L280 323L297 316L328 244L321 224L304 206L297 316L285 226L314 274L259 295L308 307L194 258L328 244L311 240L308 307L256 277L276 240L322 311L314 274L269 208L265 253L296 273L328 244L276 240L309 328L328 268L296 273L269 208L327 291"/>
<path stroke="#D17DEA" d="M327 291L259 295L304 224L327 291L295 242L205 270L265 253L276 240L328 244L198 298L286 304L296 273L285 226L276 286L295 242L280 323L296 273L259 295L276 286L231 210L311 240L198 298L297 316L276 286L294 292L191 221L314 274L285 226L296 273L286 304L321 224L304 206L328 244L240 294L322 311L312 258L285 226L276 286L285 226L309 328L290 254L195 323L286 304L312 258L327 291L290 254L286 304L214 248L311 293L290 254L285 226L311 240L286 304L244 328L276 240L296 273L276 240L281 195L297 316L269 208L312 258L229 195L322 311L205 270L327 291L177 284L297 316L287 212L265 253L296 273L276 286L285 226L276 240L218 279L304 224L286 304L312 258L254 311L309 328L225 323L276 240L194 258L314 274L199 239L312 258L252 242L327 291L276 240L321 224L198 298L276 240L327 291L265 253L308 307L304 224L261 328L321 224L254 311L295 242L178 240L312 258L251 208L322 311L193 281L328 268L244 328L256 277L261 228L279 271"/>
<path stroke="#D17DEA" d="M279 271L261 228L321 224L309 328L314 274L193 281L285 226L276 286L308 307L261 328L328 244L198 298L276 286L178 262L322 311L251 208L276 286L281 195L322 311L247 347L321 224L207 204L311 240L251 208L276 240L247 347L279 271L296 273L311 293L304 206L276 240L276 286L321 224L286 304L311 240L297 316L321 224L312 258L276 286L261 328L304 224L314 274L304 224L327 291L312 258L287 212L328 268L214 248L327 291L229 195L328 244L253 191L276 240L240 294L311 293L199 239L294 292L252 242L276 240L233 241L327 291L297 316L265 253L207 204L285 226L295 242L279 271L233 241L276 240L322 311L296 273L281 195L309 328L295 242L322 311L279 271L308 307L328 244L279 271L215 223L286 304L252 242L328 244L311 293L265 253L236 309L256 277L195 323L328 268L289 340L294 292L225 323L311 240L231 210L312 258L233 241L304 224L193 281L290 254L207 204L322 311L328 244L295 242L321 224L295 242L184 305L308 307L280 323L276 286"/>
<path stroke="#6CD830" d="M226 260L177 284L289 340L178 240L226 260L321 224L218 279L312 258L205 270L225 342L226 260L240 294L184 305L240 294L195 323L233 241L178 262L287 212L209 313L295 242L226 260L236 309L184 305L236 309L236 274L225 323L247 347L311 293L177 284L327 291L194 258L254 311L218 279L198 298L271 310L229 195L236 309L290 254L261 328L328 244L198 298L309 328L193 281L328 244L254 311L231 210L268 347L194 258L259 295L199 239L289 340L205 270L177 284L304 224L177 284L215 223L205 270L198 298L261 328L210 334L198 298L191 221L195 323L286 304L225 323L268 347L289 340L261 328L271 310L195 323L225 323L215 223L225 342L328 268L194 258L191 221L177 284L215 223L205 270L247 347L177 284L178 262L261 328L178 240L184 305L214 248L219 300L231 210L210 334L184 305L240 294L210 334L268 347L295 242L225 342L311 240L218 279L276 240L177 284L254 311L219 300L229 195L198 298L279 271L244 328L269 208L236 274L279 271L240 294L314 274L219 300L297 316L210 334L236 309L244 328L280 323L225 323L231 210L184 305L214 248L280 323L225 342"/>
<path stroke="#6CD830" d="M225 342L184 305L276 240L271 310L295 242L268 347L322 311L261 328L268 347L244 328L218 279L209 313L304 206L226 260L252 242L236 274L256 277L225 323L309 328L194 258L261 228L178 262L327 291L259 295L177 284L195 323L311 240L218 279L244 328L259 295L231 210L271 310L177 284L236 274L247 347L205 270L256 277L244 328L218 279L225 323L261 328L226 260L281 195L198 298L281 195L177 284L199 239L226 260L236 309L195 323L308 307L209 313L259 295L225 323L247 347L244 328L191 221L205 270L231 210L268 347L195 323L218 279L247 347L193 281L240 294L247 347L271 310L177 284L290 254L218 279L276 286L226 260L322 311L184 305L297 316L268 347L184 305L236 309L207 204L209 313L198 298L236 309L321 224L226 260L296 273L244 328L178 262L261 328L289 340L247 347L199 239L225 342L254 311L244 328L268 347L195 323L309 328L225 323L314 274L254 311L199 239L210 334L327 291L289 340L281 195L219 300L226 260L210 334L281 195L268 347L287 212L268 347L215 223L259 295L231 210L226 260L327 291L194 258L177 284L193 281L184 305L225 342"/>
<path stroke="#6CD830" d="M225 342L226 260L247 347L309 328L271 310L276 286L247 347L311 240L193 281L261 228L289 340L248 260L193 281L285 226L225 342L308 307L289 340L290 254L195 323L207 204L261 328L311 293L210 334L279 271L210 334L252 242L195 323L225 323L254 311L205 270L259 295L311 240L198 298L285 226L205 270L236 274L247 347L231 210L280 323L297 316L205 270L308 307L209 313L311 240L236 274L209 313L193 281L184 305L271 310L265 253L236 309L304 224L210 334L328 268L193 281L237 225L219 300L280 323L177 284L311 240L194 258L253 191L268 347L195 323L218 279L233 241L226 260L304 206L236 309L304 224L244 328L328 268L240 294L279 271L178 262L184 305L259 295L205 270L195 323L312 258L205 270L256 277L177 284L256 277L225 342L271 310L259 295L276 240L225 323L328 268L268 347L198 298L236 274L248 260L236 309L205 270L259 295L236 274L178 262L215 223L218 279L261 228L177 284L252 242L244 328L312 258L194 258L236 274L247 347L231 210L240 294L311 240L178 262L285 226L244 328L193 281L219 300L214 248L193 281L251 208L236 274L256 277"/>
<path stroke="#6CD830" d="M256 277L194 258L312 258L194 258L177 284L259 295L312 258L177 284L210 334L198 298L286 304L280 323L268 347L193 281L225 342L210 334L225 323L225 342L308 307L236 309L279 271L236 274L210 334L193 281L251 208L240 294L328 244L240 294L259 295L198 298L231 210L254 311L236 274L178 262L311 240L225 342L229 195L198 298L252 242L268 347L304 224L244 328L321 224L271 310L226 260L289 340L226 260L209 313L236 274L240 294L295 242L247 347L209 313L236 274L178 262L225 342L311 293L289 340L261 328L226 260L328 244L236 274L236 309L178 262L321 224L184 305L312 258L280 323L198 298L194 258L259 295L193 281L236 309L280 323L285 226L289 340L236 274L261 328L311 293L193 281L294 292L247 347L219 300L259 295L289 340L184 305L209 313L259 295L231 210L261 328L194 258L177 284L311 240L225 342L321 224L193 281L276 240L198 298L207 204L205 270L322 311L271 310L193 281L218 279L219 300L236 274L296 273L195 323L205 270L209 313L210 334L219 300L205 270L210 334L194 258L280 323L177 284L194 258L247 347L178 262L311 240L236 274"/>
<path stroke="#6CD830" d="M236 274L279 271L280 323"/>
</g>
<path stroke="#E38B2C" stroke-width="1.2" stroke-opacity="0.7" d="M261.4 227.7L253.5 212.4"/>
<path fill="#E38B2C" fill-opacity="0.9" d="M253.5 212.4L257.9 215.8L253.6 218Z"/>
<path stroke="#E38B2C" stroke-width="1.6" stroke-opacity="0.7" d="M261.4 227.7L264.5 248"/>
<path fill="#E38B2C" fill-opacity="0.9" d="M264.5 248L260.7 242.5L266.5 241.6Z"/>
<path stroke="#E38B2C" stroke-width="1" stroke-opacity="0.7" d="M261.4 227.7L316.3 224.1"/>
<path fill="#E38B2C" fill-opacity="0.9" d="M316.3 224.1L311.9 226.6L311.6 222.2Z"/>
<path stroke="#E38B2C" stroke-width="1" stroke-opacity="0.7" d="M261.4 227.7L274.7 281.2"/>
<path fill="#E38B2C" fill-opacity="0.9" d="M274.7 281.2L271.5 277.3L275.8 276.3Z"/>
<path stroke="#E38B2C" stroke-width="0.8" stroke-opacity="0.7" d="M261.4 227.7L219.3 246"/>
<path fill="#E38B2C" fill-opacity="0.9" d="M219.3 246L222.2 242.7L223.7 246.2Z"/>
<path stroke="#5CC8E2" stroke-width="1.4" stroke-opacity="0.7" d="M252.2 241.5L219.7 247.3"/>
<path fill="#5CC8E2" fill-opacity="0.9" d="M219.7 247.3L224.6 243.7L225.5 249Z"/>
<path stroke="#D17DEA" stroke-width="1" stroke-opacity="0.7" d="M276.1 286.5L267 258.7"/>
<path fill="#D17DEA" fill-opacity="0.9" d="M267 258.7L270.5 262.3L266.3 263.6Z"/>
<path stroke="#D17DEA" stroke-width="0.8" stroke-opacity="0.7" d="M293.8 291.7L268.6 257.9"/>
<path fill="#D17DEA" fill-opacity="0.9" d="M268.6 257.9L272.6 259.9L269.4 262.2Z"/>
<path stroke="#D17DEA" stroke-width="0.6" stroke-opacity="0.7" d="M308.8 328.4L268.1 258.2"/>
<path fill="#D17DEA" fill-opacity="0.9" d="M268.1 258.2L271.3 260.4L268.4 262.1Z"/>
<path stroke="#E38B2C" stroke-width="0.6" stroke-opacity="0.7" d="M261.4 227.7L306.6 238.6"/>
<path fill="#E38B2C" fill-opacity="0.9" d="M306.6 238.6L302.8 239.4L303.6 236.1Z"/>
<path stroke="#D17DEA" stroke-width="0.8" stroke-opacity="0.7" d="M296 272.7L270 256.4"/>
<path fill="#D17DEA" fill-opacity="0.9" d="M270 256.4L274.4 256.8L272.3 260.2Z"/>
<g stroke="#505050" stroke-width="0.35">
<circle cx="253.4" cy="190.7" r="4.5" fill="#E38B2C"/>
<circle cx="251" cy="207.5" r="5.5" fill="#E38B2C"/>
<circle cx="269.3" cy="208.5" r="5.5" fill="#E38B2C"/>
<circle cx="261.4" cy="227.7" r="6.4" fill="#E38B2C"/>
<circle cx="280.6" cy="194.7" r="4.8" fill="#46916A"/>
<circle cx="287.4" cy="211.8" r="4.5" fill="#46916A"/>
<circle cx="303.6" cy="206" r="4.8" fill="#46916A"/>
<circle cx="228.6" cy="195.3" r="4.8" fill="#5CC8E2"/>
<circle cx="207.2" cy="204.5" r="4.8" fill="#5CC8E2"/>
<circle cx="231.1" cy="210" r="4.8" fill="#5CC8E2"/>
<circle cx="191" cy="220.7" r="4.5" fill="#5CC8E2"/>
<circle cx="215.5" cy="222.8" r="4.8" fill="#5CC8E2"/>
<circle cx="237.2" cy="224.7" r="4.8" fill="#5CC8E2"/>
<circle cx="177.5" cy="240" r="4.5" fill="#5CC8E2"/>
<circle cx="198.9" cy="239.1" r="4.8" fill="#5CC8E2"/>
<circle cx="233.2" cy="240.6" r="5.5" fill="#5CC8E2"/>
<circle cx="252.2" cy="241.5" r="4.8" fill="#5CC8E2"/>
<circle cx="214.2" cy="248.2" r="5.5" fill="#5CC8E2"/>
<circle cx="247.9" cy="259.6" r="5.5" fill="#5CC8E2"/>
<circle cx="284.6" cy="225.9" r="4.8" fill="#D17DEA"/>
<circle cx="304.2" cy="223.8" r="4.8" fill="#D17DEA"/>
<circle cx="321" cy="223.8" r="4.8" fill="#D17DEA"/>
<circle cx="276.1" cy="239.7" r="4.8" fill="#D17DEA"/>
<circle cx="295.3" cy="241.5" r="4.8" fill="#D17DEA"/>
<circle cx="311.3" cy="239.7" r="4.8" fill="#D17DEA"/>
<circle cx="328.1" cy="244.3" r="4.5" fill="#D17DEA"/>
<circle cx="265.3" cy="253.4" r="5.5" fill="#D17DEA"/>
<circle cx="289.8" cy="254.4" r="5.5" fill="#D17DEA"/>
<circle cx="311.9" cy="258.3" r="4.5" fill="#D17DEA"/>
<circle cx="279.1" cy="271.2" r="5.5" fill="#D17DEA"/>
<circle cx="296" cy="272.7" r="4.8" fill="#D17DEA"/>
<circle cx="313.7" cy="274.3" r="4.5" fill="#D17DEA"/>
<circle cx="328.1" cy="268.1" r="4.8" fill="#D17DEA"/>
<circle cx="256.2" cy="276.7" r="4.8" fill="#D17DEA"/>
<circle cx="276.1" cy="286.5" r="5.5" fill="#D17DEA"/>
<circle cx="293.8" cy="291.7" r="5.5" fill="#D17DEA"/>
<circle cx="310.6" cy="292.6" r="4.5" fill="#D17DEA"/>
<circle cx="327.5" cy="291.1" r="4.5" fill="#D17DEA"/>
<circle cx="286.2" cy="303.9" r="4.8" fill="#D17DEA"/>
<circle cx="308.2" cy="307" r="4.8" fill="#D17DEA"/>
<circle cx="322" cy="311" r="4.5" fill="#D17DEA"/>
<circle cx="297.5" cy="316.5" r="4.8" fill="#D17DEA"/>
<circle cx="308.8" cy="328.4" r="4.8" fill="#D17DEA"/>
<circle cx="177.5" cy="262" r="4.5" fill="#6CD830"/>
<circle cx="194.3" cy="258" r="4.8" fill="#6CD830"/>
<circle cx="225.6" cy="260.5" r="5.5" fill="#6CD830"/>
<circle cx="204.7" cy="269.7" r="4.8" fill="#6CD830"/>
<circle cx="217.9" cy="278.8" r="4.8" fill="#6CD830"/>
<circle cx="236.3" cy="274.3" r="5.5" fill="#6CD830"/>
<circle cx="177.2" cy="284" r="4.5" fill="#6CD830"/>
<circle cx="193.4" cy="281.3" r="4.5" fill="#6CD830"/>
<circle cx="239.9" cy="293.5" r="5.5" fill="#6CD830"/>
<circle cx="258.6" cy="295.1" r="5.5" fill="#6CD830"/>
<circle cx="198" cy="298.1" r="4.5" fill="#6CD830"/>
<circle cx="219.4" cy="300.3" r="4.8" fill="#6CD830"/>
<circle cx="184.2" cy="304.9" r="4.5" fill="#6CD830"/>
<circle cx="208.7" cy="313.4" r="4.5" fill="#6CD830"/>
<circle cx="236.3" cy="309.5" r="4.8" fill="#6CD830"/>
<circle cx="253.7" cy="311" r="4.5" fill="#6CD830"/>
<circle cx="270.9" cy="310.4" r="5.5" fill="#6CD830"/>
<circle cx="195" cy="322.6" r="4.5" fill="#6CD830"/>
<circle cx="224.6" cy="323.2" r="5.5" fill="#6CD830"/>
<circle cx="243.9" cy="328.4" r="4.8" fill="#6CD830"/>
<circle cx="261.4" cy="328.4" r="4.8" fill="#6CD830"/>
<circle cx="279.7" cy="322.6" r="4.8" fill="#6CD830"/>
<circle cx="209.6" cy="333.9" r="4.5" fill="#6CD830"/>
<circle cx="224.6" cy="341.6" r="4.8" fill="#6CD830"/>
<circle cx="288.6" cy="339.8" r="4.8" fill="#6CD830"/>
<circle cx="247" cy="346.8" r="4.8" fill="#6CD830"/>
<circle cx="267.8" cy="346.8" r="4.8" fill="#6CD830"/>
</g>
<text class="l" x="253.4" y="191.9" font-size="5" textLength="8.2" lengthAdjust="spacingAndGlyphs">BEN</text>
<text class="l" x="251" y="209" font-size="6.2" textLength="10.2" lengthAdjust="spacingAndGlyphs">CHN</text>
<text class="l" x="269.3" y="209.9" font-size="6.2" textLength="10.2" lengthAdjust="spacingAndGlyphs">BRA</text>
<text class="l" x="261.4" y="229.5" font-size="7.2" textLength="11.8" lengthAdjust="spacingAndGlyphs">IDN</text>
<text class="l" x="280.6" y="196" font-size="5.4" textLength="8.9" lengthAdjust="spacingAndGlyphs">GHA</text>
<text class="l" x="287.4" y="213" font-size="5" textLength="8.2" lengthAdjust="spacingAndGlyphs">CIV</text>
<text class="l" x="303.6" y="207.3" font-size="5.4" textLength="8.9" lengthAdjust="spacingAndGlyphs">NGA</text>
<text class="l" x="228.6" y="196.6" font-size="5.4" textLength="8.9" lengthAdjust="spacingAndGlyphs">TUR</text>
<text class="l" x="207.2" y="205.8" font-size="5.4" textLength="8.9" lengthAdjust="spacingAndGlyphs">COL</text>
<text class="l" x="231.1" y="211.3" font-size="5.4" textLength="8.9" lengthAdjust="spacingAndGlyphs">GRC</text>
<text class="l" x="191" y="221.9" font-size="5" textLength="8.2" lengthAdjust="spacingAndGlyphs">NZL</text>
<text class="l" x="215.5" y="224.1" font-size="5.4" textLength="8.9" lengthAdjust="spacingAndGlyphs">AUS</text>
<text class="l" x="237.2" y="226" font-size="5.4" textLength="8.9" lengthAdjust="spacingAndGlyphs">MEX</text>
<text class="l" x="177.5" y="241.2" font-size="5" textLength="8.2" lengthAdjust="spacingAndGlyphs">PER</text>
<text class="l" x="198.9" y="240.4" font-size="5.4" textLength="8.9" lengthAdjust="spacingAndGlyphs">PRT</text>
<text class="l" x="233.2" y="242.1" font-size="6.2">ITA</text>
<text class="l" x="252.2" y="242.8" font-size="5.4" textLength="8.9" lengthAdjust="spacingAndGlyphs">CAN</text>
<text class="l" x="214.2" y="249.7" font-size="6.2" textLength="10.2" lengthAdjust="spacingAndGlyphs">USA</text>
<text class="l" x="247.9" y="261.1" font-size="6.2" textLength="10.2" lengthAdjust="spacingAndGlyphs">ESP</text>
<text class="l" x="284.6" y="227.2" font-size="5.4" textLength="8.9" lengthAdjust="spacingAndGlyphs">KOR</text>
<text class="l" x="304.2" y="225.1" font-size="5.4" textLength="8.9" lengthAdjust="spacingAndGlyphs">KEN</text>
<text class="l" x="321" y="225.1" font-size="5.4" textLength="8.9" lengthAdjust="spacingAndGlyphs">PAK</text>
<text class="l" x="276.1" y="241" font-size="5.4" textLength="8.9" lengthAdjust="spacingAndGlyphs">MAR</text>
<text class="l" x="295.3" y="242.8" font-size="5.4" textLength="8.9" lengthAdjust="spacingAndGlyphs">THA</text>
<text class="l" x="311.3" y="241" font-size="5.4" textLength="8.9" lengthAdjust="spacingAndGlyphs">EGY</text>
<text class="l" x="328.1" y="245.5" font-size="5" textLength="8.2" lengthAdjust="spacingAndGlyphs">OMN</text>
<text class="l" x="265.3" y="254.9" font-size="6.2" textLength="10.2" lengthAdjust="spacingAndGlyphs">IND</text>
<text class="l" x="289.8" y="255.8" font-size="6.2" textLength="10.2" lengthAdjust="spacingAndGlyphs">SGP</text>
<text class="l" x="311.9" y="259.5" font-size="5" textLength="8.2" lengthAdjust="spacingAndGlyphs">EST</text>
<text class="l" x="279.1" y="272.7" font-size="6.2" textLength="10.2" lengthAdjust="spacingAndGlyphs">TUR</text>
<text class="l" x="296" y="274" font-size="5.4" textLength="8.9" lengthAdjust="spacingAndGlyphs">ARG</text>
<text class="l" x="313.7" y="275.5" font-size="5" textLength="8.2" lengthAdjust="spacingAndGlyphs">HKG</text>
<text class="l" x="328.1" y="269.4" font-size="5.4" textLength="8.9" lengthAdjust="spacingAndGlyphs">LBN</text>
<text class="l" x="256.2" y="278" font-size="5.4" textLength="8.9" lengthAdjust="spacingAndGlyphs">ARE</text>
<text class="l" x="276.1" y="288" font-size="6.2" textLength="10.2" lengthAdjust="spacingAndGlyphs">MYS</text>
<text class="l" x="293.8" y="293.2" font-size="6.2" textLength="10.2" lengthAdjust="spacingAndGlyphs">LKA</text>
<text class="l" x="310.6" y="293.8" font-size="5" textLength="8.2" lengthAdjust="spacingAndGlyphs">CHL</text>
<text class="l" x="327.5" y="292.3" font-size="5" textLength="8.2" lengthAdjust="spacingAndGlyphs">JOR</text>
<text class="l" x="286.2" y="305.2" font-size="5.4" textLength="8.9" lengthAdjust="spacingAndGlyphs">CHE</text>
<text class="l" x="308.2" y="308.3" font-size="5.4" textLength="8.9" lengthAdjust="spacingAndGlyphs">RUS</text>
<text class="l" x="322" y="312.2" font-size="5" textLength="8.2" lengthAdjust="spacingAndGlyphs">SAU</text>
<text class="l" x="297.5" y="317.8" font-size="5.4" textLength="8.9" lengthAdjust="spacingAndGlyphs">JPN</text>
<text class="l" x="308.8" y="329.7" font-size="5.4" textLength="8.9" lengthAdjust="spacingAndGlyphs">VNM</text>
<text class="l" x="177.5" y="263.2" font-size="5" textLength="8.2" lengthAdjust="spacingAndGlyphs">SVN</text>
<text class="l" x="194.3" y="259.3" font-size="5.4" textLength="8.9" lengthAdjust="spacingAndGlyphs">PHL</text>
<text class="l" x="225.6" y="262" font-size="6.2" textLength="10.2" lengthAdjust="spacingAndGlyphs">FRA</text>
<text class="l" x="204.7" y="271" font-size="5.4" textLength="8.9" lengthAdjust="spacingAndGlyphs">POL</text>
<text class="l" x="217.9" y="280.1" font-size="5.4" textLength="8.9" lengthAdjust="spacingAndGlyphs">GBR</text>
<text class="l" x="236.3" y="275.7" font-size="6.2" textLength="10.2" lengthAdjust="spacingAndGlyphs">BEL</text>
<text class="l" x="177.2" y="285.3" font-size="5" textLength="8.2" lengthAdjust="spacingAndGlyphs">SRB</text>
<text class="l" x="193.4" y="282.5" font-size="5">ISL</text>
<text class="l" x="239.9" y="295" font-size="6.2" textLength="10.2" lengthAdjust="spacingAndGlyphs">NLD</text>
<text class="l" x="258.6" y="296.6" font-size="6.2" textLength="10.2" lengthAdjust="spacingAndGlyphs">DEU</text>
<text class="l" x="198" y="299.3" font-size="5">FIN</text>
<text class="l" x="219.4" y="301.6" font-size="5.4" textLength="8.9" lengthAdjust="spacingAndGlyphs">ZAF</text>
<text class="l" x="184.2" y="306.1" font-size="5" textLength="8.2" lengthAdjust="spacingAndGlyphs">LTU</text>
<text class="l" x="208.7" y="314.6" font-size="5">IRL</text>
<text class="l" x="236.3" y="310.7" font-size="5.4" textLength="8.9" lengthAdjust="spacingAndGlyphs">BGR</text>
<text class="l" x="253.7" y="312.2" font-size="5" textLength="8.2" lengthAdjust="spacingAndGlyphs">PAN</text>
<text class="l" x="270.9" y="311.9" font-size="6.2" textLength="10.2" lengthAdjust="spacingAndGlyphs">UKR</text>
<text class="l" x="195" y="323.8" font-size="5" textLength="8.2" lengthAdjust="spacingAndGlyphs">HRV</text>
<text class="l" x="224.6" y="324.7" font-size="6.2" textLength="10.2" lengthAdjust="spacingAndGlyphs">DNK</text>
<text class="l" x="243.9" y="329.7" font-size="5.4" textLength="8.9" lengthAdjust="spacingAndGlyphs">NOR</text>
<text class="l" x="261.4" y="329.7" font-size="5.4" textLength="8.9" lengthAdjust="spacingAndGlyphs">DOM</text>
<text class="l" x="279.7" y="323.9" font-size="5.4" textLength="8.9" lengthAdjust="spacingAndGlyphs">SWE</text>
<text class="l" x="209.6" y="335.1" font-size="5" textLength="8.2" lengthAdjust="spacingAndGlyphs">SVK</text>
<text class="l" x="224.6" y="342.9" font-size="5.4" textLength="8.9" lengthAdjust="spacingAndGlyphs">CZE</text>
<text class="l" x="288.6" y="341" font-size="5.4" textLength="8.9" lengthAdjust="spacingAndGlyphs">ROU</text>
<text class="l" x="247" y="348.1" font-size="5.4" textLength="8.9" lengthAdjust="spacingAndGlyphs">AUT</text>
<text class="l" x="267.8" y="348.1" font-size="5.4" textLength="8.9" lengthAdjust="spacingAndGlyphs">HUN</text>
<clipPath id="hg"><path d="M350.4 264.2L357.2 241.5L366.6 224.7L378 213L395.4 203.3L413.8 193.2L437.3 190.7L455.7 197.7L472.5 206.9L487.8 225.3L494.3 240.6L497 259L497 277.9L493.4 298.7L483.9 315.6L471 333L452 340.1L431.5 346.8L409.2 343.1L390.5 337L374.9 326.3L363 308.8L352.6 287.1Z"/></clipPath>
<g clip-path="url(#hg)" fill-opacity="0.015">
<circle cx="413.8" cy="193.2" r="22" fill="#D17DEA"/>
<circle cx="437.3" cy="190.7" r="22" fill="#D17DEA"/>
<circle cx="455.7" cy="197.7" r="22" fill="#D17DEA"/>
<circle cx="438.9" cy="207.5" r="22" fill="#D17DEA"/>
<circle cx="417.5" cy="211.5" r="22" fill="#D17DEA"/>
<circle cx="472.5" cy="206.9" r="22" fill="#D17DEA"/>
<circle cx="457.9" cy="216.7" r="22" fill="#D17DEA"/>
<circle cx="436.7" cy="222.2" r="22" fill="#D17DEA"/>
<circle cx="418.1" cy="225.3" r="22" fill="#D17DEA"/>
<circle cx="451.7" cy="228.3" r="22" fill="#D17DEA"/>
<circle cx="474.1" cy="226.2" r="22" fill="#D17DEA"/>
<circle cx="462.1" cy="237.5" r="22" fill="#D17DEA"/>
<circle cx="426" cy="238.1" r="22" fill="#D17DEA"/>
<circle cx="480.5" cy="244.3" r="22" fill="#D17DEA"/>
<circle cx="443.8" cy="246.7" r="22" fill="#D17DEA"/>
<circle cx="466.7" cy="252.2" r="22" fill="#D17DEA"/>
<circle cx="430.3" cy="262" r="22" fill="#D17DEA"/>
<circle cx="451.1" cy="259" r="22" fill="#D17DEA"/>
<circle cx="416.5" cy="272.1" r="22" fill="#D17DEA"/>
<circle cx="435.2" cy="278.2" r="22" fill="#D17DEA"/>
<circle cx="449.9" cy="276.4" r="22" fill="#D17DEA"/>
<circle cx="443.2" cy="291.7" r="22" fill="#D17DEA"/>
<circle cx="395.4" cy="203.3" r="22" fill="#46916A"/>
<circle cx="378" cy="213" r="22" fill="#46916A"/>
<circle cx="396.3" cy="220.7" r="22" fill="#46916A"/>
<circle cx="404.3" cy="234.5" r="22" fill="#46916A"/>
<circle cx="366.6" cy="224.7" r="22" fill="#5CC8E2"/>
<circle cx="381.3" cy="232" r="22" fill="#5CC8E2"/>
<circle cx="357.2" cy="241.5" r="22" fill="#5CC8E2"/>
<circle cx="371.5" cy="249.8" r="22" fill="#5CC8E2"/>
<circle cx="390.5" cy="246.7" r="22" fill="#5CC8E2"/>
<circle cx="404.6" cy="255.3" r="22" fill="#5CC8E2"/>
<circle cx="417.8" cy="252.8" r="22" fill="#5CC8E2"/>
<circle cx="350.4" cy="264.2" r="22" fill="#5CC8E2"/>
<circle cx="364.8" cy="268.1" r="22" fill="#5CC8E2"/>
<circle cx="382.6" cy="268.1" r="22" fill="#5CC8E2"/>
<circle cx="398.5" cy="270.3" r="22" fill="#5CC8E2"/>
<circle cx="369.1" cy="289.6" r="22" fill="#5CC8E2"/>
<circle cx="352.6" cy="287.1" r="22" fill="#5CC8E2"/>
<circle cx="384.4" cy="288.9" r="22" fill="#5CC8E2"/>
<circle cx="402.8" cy="286.5" r="22" fill="#5CC8E2"/>
<circle cx="416.2" cy="287.4" r="22" fill="#5CC8E2"/>
<circle cx="404.3" cy="302.7" r="22" fill="#5CC8E2"/>
<circle cx="383.2" cy="307" r="22" fill="#5CC8E2"/>
<circle cx="363" cy="308.8" r="22" fill="#5CC8E2"/>
<circle cx="395.4" cy="319.2" r="22" fill="#5CC8E2"/>
<circle cx="374.9" cy="326.3" r="22" fill="#5CC8E2"/>
<circle cx="487.8" cy="225.3" r="22" fill="#E38B2C"/>
<circle cx="494.3" cy="240.6" r="22" fill="#E38B2C"/>
<circle cx="497" cy="259" r="22" fill="#E38B2C"/>
<circle cx="464.3" cy="267.5" r="22" fill="#E38B2C"/>
<circle cx="478.7" cy="262.9" r="22" fill="#E38B2C"/>
<circle cx="466.4" cy="282.8" r="22" fill="#E38B2C"/>
<circle cx="482.3" cy="278.8" r="22" fill="#E38B2C"/>
<circle cx="497" cy="277.9" r="22" fill="#E38B2C"/>
<circle cx="477.4" cy="294.1" r="22" fill="#E38B2C"/>
<circle cx="493.4" cy="298.7" r="22" fill="#E38B2C"/>
<circle cx="427.6" cy="298.1" r="22" fill="#6CD830"/>
<circle cx="456.3" cy="300.3" r="22" fill="#6CD830"/>
<circle cx="419.6" cy="311" r="22" fill="#6CD830"/>
<circle cx="467.6" cy="311" r="22" fill="#6CD830"/>
<circle cx="483.9" cy="315.6" r="22" fill="#6CD830"/>
<circle cx="439.8" cy="315.6" r="22" fill="#6CD830"/>
<circle cx="412.9" cy="327.8" r="22" fill="#6CD830"/>
<circle cx="456.3" cy="323.2" r="22" fill="#6CD830"/>
<circle cx="434.6" cy="330.9" r="22" fill="#6CD830"/>
<circle cx="471" cy="333" r="22" fill="#6CD830"/>
<circle cx="452" cy="340.1" r="22" fill="#6CD830"/>
<circle cx="409.2" cy="343.1" r="22" fill="#6CD830"/>
<circle cx="431.5" cy="346.8" r="22" fill="#6CD830"/>
<circle cx="390.5" cy="337" r="22" fill="#EB5573"/>
</g>
<g fill="none" stroke-width="0.45" stroke-opacity="0.11" stroke-linejoin="bevel">
<path stroke="#D17DEA" d="M473 207L488 225L450 276L456 323L439 208L458 217L414 193L398 270L452 228L403 286L417 212L378 213L462 238L381 232L439 208L426 238L443 292L479 263L430 262L494 241L414 193L435 278L437 191L451 259L417 212L467 252L451 259L365 268L437 222L391 247L437 191L456 198L443 292L395 203L456 198L497 259L456 198L432 347L417 272L440 316L439 208L428 298L426 238L414 193L435 278L456 198L458 217L435 278L467 252L404 303L480 244L426 238L451 259L372 250L467 252L396 221L443 292L409 343L414 193L405 255L426 238L383 268L437 222L443 292L418 225L420 311L430 262L464 268L417 212L458 217L473 207L437 222L444 247L468 311L462 238L497 259L417 212L462 238L437 191L443 292L458 217L414 193L426 238L413 328L456 198L452 340L451 259L404 303L480 244L456 300L430 262L417 212L443 292L383 268L473 207L493 299L458 217L439 208L458 217L497 259"/>
<path stroke="#D17DEA" d="M497 259L458 217L372 250L443 292L383 307L458 217L372 250L439 208L437 191L418 225L437 222L462 238L404 303L462 238L383 268L467 252L378 213L480 244L363 309L417 272L375 326L417 212L381 232L417 212L417 272L435 278L479 263L444 247L398 270L450 276L367 225L417 272L404 303L451 259L353 287L456 198L426 238L474 226L437 191L417 212L403 286L414 193L404 234L430 262L480 244L443 292L450 276L462 238L391 247L451 259L430 262L417 212L443 292L451 259L452 228L435 278L416 287L437 222L391 247L451 259L480 244L437 191L437 222L480 244L488 225L418 225L350 264L462 238L367 225L462 238L477 294L458 217L452 340L480 244L432 347L435 278L464 268L437 191L350 264L417 272L497 259L418 225L395 319L480 244L363 309L426 238L474 226L451 259L439 208L417 212L395 319L417 272L430 262L414 193L403 286L418 225L467 252L458 217L468 311L473 207"/>
<path stroke="#D17DEA" d="M473 207L417 212L439 208L414 193L473 207L350 264L418 225L432 347L462 238L384 289L435 278L482 279L414 193L417 212L480 244L404 303L467 252L414 193L452 228L494 241L444 247L471 333L439 208L405 255L473 207L458 217L444 247L456 300L435 278L479 263L439 208L414 193L437 222L378 213L417 272L432 347L467 252L428 298L473 207L451 259L458 217L391 337L414 193L398 270L458 217L353 287L417 212L437 191L462 238L473 207L417 272L391 247L437 191L391 337L451 259L391 337L417 212L350 264L426 238L435 278L439 208L404 234L439 208L418 225L467 252L456 323L458 217L484 316L450 276L367 225L456 198L357 242L458 217L416 287L467 252L428 298L467 252L456 323L417 272L456 198L452 228L357 242L467 252L497 259L435 278L363 309L437 191L372 250L452 228L471 333L417 272L477 294L456 198L451 259L456 198L451 259L417 212L378 213L480 244L375 326"/>
<path stroke="#D17DEA" d="M375 326L443 292L484 316L435 278L383 268L456 198L480 244L451 259L456 323L451 259L482 279L439 208L383 307L467 252L381 232L450 276L395 203L444 247L428 298L435 278L456 323L462 238L428 298L418 225L381 232L467 252L468 311L417 212L450 276L414 193L467 252L414 193L383 268L444 247L404 234L437 191L479 263L452 228L440 316L474 226L479 263L452 228L365 268L456 198L409 343L437 222L471 333L451 259L477 294L417 272L378 213L458 217L372 250L417 212L353 287L418 225L383 307L467 252L497 278L458 217L497 278L418 225L363 309L462 238L432 347L435 278L452 228L456 198L428 298L458 217L413 328L467 252L430 262L480 244L417 272L417 212L398 270L450 276L488 225L439 208L417 272L474 226L435 331L458 217L484 316L418 225L437 222L443 292L462 238L437 191L428 298L417 212L418 225L443 292L404 234L462 238L497 259L437 191L405 255L474 226"/>
<path stroke="#46916A" d="M404 234L440 316L404 234L440 316L395 203L480 244L395 203L426 238L396 221L416 287L395 203L473 207L396 221L488 225L404 234L395 203L404 234L409 343L395 203"/>
<path stroke="#46916A" d="M395 203L456 198L404 234L484 316L396 221L437 222L395 203L456 300L396 221L417 212L378 213L432 347L404 234L456 198L396 221L395 203L404 234L437 191L404 234"/>
<path stroke="#46916A" d="M404 234L458 217L378 213L369 290L395 203L357 242L378 213L439 208L395 203L466 283L378 213L444 247L378 213L428 298L396 221L437 222L404 234L403 286L378 213"/>
<path stroke="#46916A" d="M378 213L468 311L404 234L363 309L404 234L488 225L378 213L462 238L396 221L405 255L404 234L414 193L378 213L418 253L395 203L404 303L378 213L493 299L378 213"/>
<path stroke="#5CC8E2" d="M416 287L384 289L357 242L462 238L391 247L353 287L357 242L479 263L383 268L428 298L350 264L456 323L350 264L426 238L405 255L384 289L391 247L471 333L404 303L391 247L384 289L383 307L365 268L466 283L403 286L365 268L383 268L494 241L384 289L437 191L367 225L450 276L381 232L439 208L369 290L418 225L395 319L418 225L404 303L418 253L369 290L372 250L384 289L357 242L391 247L466 283L418 253L466 283L365 268L467 252L403 286L444 247L391 247L474 226L365 268L426 238L405 255L414 193L398 270L414 193L418 253L417 272L404 303L462 238L350 264L493 299L391 247L437 191L353 287L391 337L404 303L468 311L353 287L456 300L383 268L484 316L353 287L384 289L369 290L363 309L418 253L363 309L383 268L479 263L369 290L418 253L381 232L462 238L381 232L378 213L405 255L391 247L353 287L416 287L383 268"/>
<path stroke="#5CC8E2" d="M383 268L367 225L363 309L450 276L365 268L437 191L369 290L452 228L403 286L456 300L372 250L493 299L384 289L381 232L353 287L451 259L353 287L450 276L404 303L405 255L384 289L444 247L367 225L369 290L372 250L452 340L383 307L417 272L372 250L416 287L350 264L473 207L384 289L444 247L357 242L409 343L403 286L395 203L418 253L409 343L395 319L462 238L363 309L416 287L383 268L437 222L367 225L451 259L418 253L367 225L383 307L409 343L416 287L479 263L383 307L456 198L357 242L420 311L372 250L396 221L367 225L357 242L372 250L417 272L384 289L403 286L350 264L417 272L375 326L350 264L381 232L375 326L353 287L484 316L383 268L473 207L416 287L497 259L418 253L468 311L375 326L458 217L403 286L391 247L372 250L417 212L384 289L462 238L363 309L350 264L404 303L383 268L375 326L405 255L350 264"/>
<path stroke="#5CC8E2" d="M350 264L456 198L398 270L369 290L375 326L416 287L383 268L468 311L418 253L395 203L383 307L440 316L381 232L375 326L353 287L428 298L391 247L474 226L375 326L462 238L416 287L363 309L350 264L456 198L367 225L430 262L363 309L497 278L418 253L456 323L391 247L383 268L395 319L403 286L404 303L488 225L367 225L466 283L375 326L467 252L416 287L383 268L353 287L369 290L372 250L458 217L357 242L451 259L416 287L493 299L403 286L439 208L365 268L414 193L383 307L488 225L391 247L403 286L353 287L467 252L384 289L357 242L405 255L420 311L404 303L456 323L367 225L473 207L383 307L398 270L383 268L363 309L403 286L437 191L384 289L417 272L383 307L418 253L372 250L404 303L375 326L409 343L357 242L404 234L398 270L383 307L372 250L383 307L350 264L488 225L395 319L404 234L405 255L372 250L418 253"/>
<path stroke="#5CC8E2" d="M418 253L383 268L384 289L383 307L416 287L367 225L363 309L414 193L369 290L398 270L369 290L435 278L369 290L405 255L391 247L430 262L367 225L488 225L381 232L428 298L384 289L464 268L367 225L435 278L367 225L458 217L375 326L378 213L405 255L468 311L405 255L482 279L357 242L471 333L405 255L363 309L391 247L494 241L357 242L467 252L381 232L391 247L372 250L440 316L369 290L439 208L367 225L471 333L372 250L428 298L381 232L363 309L403 286L494 241L403 286L493 299L367 225L435 331L369 290L417 212L363 309L398 270L395 319L395 203L353 287L437 191L381 232L405 255L383 268L456 198L383 307L395 319L398 270L418 253L391 247L414 193L365 268L435 278L391 247L420 311L375 326L435 331L367 225L493 299L353 287L440 316L353 287L404 303L367 225L437 222L365 268L477 294L398 270L435 331L365 268"/>
<path stroke="#5CC8E2" d="M365 268L444 247L404 303"/>
<path stroke="#E38B2C" d="M477 294L395 203L464 268L383 307L497 259L367 225L464 268L391 337L497 278L430 262L477 294L440 316L479 263L484 316L477 294L378 213L466 283L420 311L466 283L477 294L488 225L440 316L466 283L482 279L479 263L350 264L482 279L391 247L497 259L493 299L497 259L479 263L466 283L439 208L482 279L383 268L479 263L413 328L479 263L440 316L497 259L451 259L497 278L471 333L482 279L450 276"/>
<path stroke="#E38B2C" d="M450 276L493 299L437 191L497 278L462 238L493 299L484 316L464 268L409 343L488 225L456 323L497 278L437 191L494 241L372 250L494 241L484 316L479 263L405 255L479 263L395 203L466 283L497 278L482 279L384 289L497 259L395 203L479 263L378 213L488 225L462 238L466 283L426 238L477 294L462 238L464 268L497 259L482 279L404 234L488 225L418 253L479 263L430 262L497 259L456 300L464 268"/>
<path stroke="#E38B2C" d="M464 268L418 225L493 299L420 311L497 278L353 287L479 263L480 244L464 268L458 217L466 283L378 213L493 299L494 241L493 299L363 309L466 283L484 316L477 294L435 331L488 225L494 241L477 294L395 319L464 268L413 328L464 268L398 270L477 294L450 276L466 283L428 298L488 225L435 278L464 268L426 238L464 268L384 289L497 259L372 250L493 299L357 242L482 279L417 212L482 279L497 278"/>
<path stroke="#E38B2C" d="M497 278L488 225L418 253L497 259L482 279L497 259L437 222L482 279L409 343L497 278L418 253L494 241L451 259L464 268L404 234L464 268L493 299L466 283L456 300L497 259L473 207L482 279L416 287L497 259L497 278L493 299L426 238L464 268L391 247L497 259L384 289L482 279L418 253L494 241L353 287L488 225L468 311L497 278L398 270L466 283L440 316L497 278L404 303L494 241L404 234L466 283"/>
<path stroke="#6CD830" d="M468 311L435 331L432 347L365 268L456 300L391 337L440 316L468 311L440 316L494 241L420 311L497 278L456 300L467 252L456 300L350 264L456 323L413 328L440 316L404 303L409 343L471 333L484 316L494 241L428 298L439 208L432 347L420 311L471 333L493 299L420 311L384 289L428 298L365 268L452 340L395 203L452 340L493 299L468 311L477 294L484 316L391 337L413 328L484 316L428 298L452 228L456 300L414 193L456 300L418 253L428 298L439 208L468 311L383 268L435 331L435 278L468 311L381 232L432 347"/>
<path stroke="#6CD830" d="M432 347L395 203L409 343L497 278L409 343L391 337L468 311L413 328L452 340L395 319L456 323L471 333L413 328L456 300L413 328L391 247L435 331L372 250L452 340L363 309L420 311L484 316L420 311L452 340L456 300L357 242L435 331L367 225L440 316L395 319L456 300L467 252L456 300L417 272L432 347L416 287L484 316L383 307L432 347L443 292L456 300L451 259L440 316L439 208L452 340L435 278L471 333L466 283L409 343L417 212L432 347L413 328L420 311L395 319L456 300L452 228L468 311L413 328L468 311"/>
<path stroke="#6CD830" d="M468 311L488 225L456 323L405 255L409 343L468 311L484 316L405 255L440 316L458 217L452 340L357 242L428 298L494 241L456 300L452 228L432 347L437 222L440 316L456 198L409 343L395 319L440 316L357 242L484 316L468 311L432 347L480 244L413 328L384 289L432 347L357 242L452 340L369 290L456 300L413 328L420 311L383 268L456 323L435 331L468 311L435 278L428 298L365 268L456 323L432 347L456 323L357 242L428 298L417 272L440 316L480 244L435 331L367 225L420 311L468 311L456 300L440 316L409 343"/>
<path stroke="#6CD830" d="M409 343L403 286L432 347L452 228L435 331L365 268L468 311L413 328L420 311L468 311L440 316L396 221L484 316L383 307L468 311L437 222L432 347L426 238L452 340L369 290L428 298L398 270L452 340L474 226L440 316L451 259L484 316L375 326L432 347L381 232L452 340L473 207L428 298L479 263L432 347L420 311L435 331L418 253L420 311L450 276L440 316L404 234L456 323L365 268L420 311L426 238L452 340L398 270L428 298L473 207L452 340L456 198L413 328L365 268L456 323L440 316L432 347L416 287L452 340"/>
<path stroke="#6CD830" d="M452 340L418 225L420 311"/>
<path stroke="#EB5573" d="M391 337L418 225L391 337L462 238L391 337"/>
<path stroke="#EB5573" d="M391 337L420 311L391 337L437 191L391 337"/>
<path stroke="#EB5573" d="M391 337L430 262L391 337L494 241L391 337"/>
<path stroke="#EB5573" d="M391 337L435 331L391 337L404 303L391 337"/>
<path stroke="#EB5573" d="M391 337L395 319L391 337"/>
</g>
<path stroke="#D17DEA" stroke-width="2" stroke-opacity="0.7" d="M416.5 272.1L448.3 232.6"/>
<path fill="#D17DEA" fill-opacity="0.9" d="M448.3 232.6L446.5 240.2L441.2 236Z"/>
<path stroke="#D17DEA" stroke-width="1" stroke-opacity="0.7" d="M436.7 222.2L418.6 267"/>
<path fill="#D17DEA" fill-opacity="0.9" d="M418.6 267L418.2 262L422.3 263.7Z"/>
<path stroke="#D17DEA" stroke-width="1.2" stroke-opacity="0.7" d="M443.8 246.7L420.6 268.4"/>
<path fill="#D17DEA" fill-opacity="0.9" d="M420.6 268.4L422.5 263.2L425.9 266.7Z"/>
<path stroke="#D17DEA" stroke-width="0.8" stroke-opacity="0.7" d="M443.2 291.7L421 275.4"/>
<path fill="#D17DEA" fill-opacity="0.9" d="M421 275.4L425.3 276.2L423 279.3Z"/>
<path stroke="#D17DEA" stroke-width="0.7" stroke-opacity="0.7" d="M451.1 259L421.7 270.2"/>
<path fill="#D17DEA" fill-opacity="0.9" d="M421.7 270.2L424.5 267.1L425.8 270.5Z"/>
<path stroke="#D17DEA" stroke-width="0.6" stroke-opacity="0.7" d="M426 238.1L418 266.8"/>
<path fill="#D17DEA" fill-opacity="0.9" d="M418 266.8L417.3 263L420.6 263.9Z"/>
<path stroke="#D17DEA" stroke-width="0.8" stroke-opacity="0.7" d="M443.2 291.7L443.7 252.2"/>
<path fill="#D17DEA" fill-opacity="0.9" d="M443.7 252.2L445.6 256.2L441.7 256.2Z"/>
<path stroke="#D17DEA" stroke-width="0.5" stroke-opacity="0.7" d="M462.1 237.5L453.6 254.1"/>
<path fill="#D17DEA" fill-opacity="0.9" d="M453.6 254.1L453.7 250.4L456.5 251.9Z"/>
<path stroke="#5CC8E2" stroke-width="0.8" stroke-opacity="0.7" d="M390.5 246.7L384.5 263"/>
<path fill="#5CC8E2" fill-opacity="0.9" d="M384.5 263L384 258.5L387.7 259.9Z"/>
<path stroke="#5CC8E2" stroke-width="0.8" stroke-opacity="0.7" d="M390.5 246.7L385.2 283.5"/>
<path fill="#5CC8E2" fill-opacity="0.9" d="M385.2 283.5L383.8 279.3L387.7 279.8Z"/>
<path stroke="#5CC8E2" stroke-width="0.6" stroke-opacity="0.7" d="M404.3 302.7L391.8 252.1"/>
<path fill="#5CC8E2" fill-opacity="0.9" d="M391.8 252.1L394.3 255L391 255.9Z"/>
<path stroke="#5CC8E2" stroke-width="0.6" stroke-opacity="0.7" d="M398.5 270.3L392.3 251.9"/>
<path fill="#5CC8E2" fill-opacity="0.9" d="M392.3 251.9L395 254.7L391.8 255.8Z"/>
<path stroke="#5CC8E2" stroke-width="0.5" stroke-opacity="0.7" d="M390.5 246.7L399.9 252.4"/>
<path fill="#5CC8E2" fill-opacity="0.9" d="M399.9 252.4L396.3 252.1L398 249.4Z"/>
<g stroke="#505050" stroke-width="0.35">
<circle cx="413.8" cy="193.2" r="4.8" fill="#D17DEA"/>
<circle cx="437.3" cy="190.7" r="4.8" fill="#D17DEA"/>
<circle cx="455.7" cy="197.7" r="4.5" fill="#D17DEA"/>
<circle cx="438.9" cy="207.5" r="4.8" fill="#D17DEA"/>
<circle cx="417.5" cy="211.5" r="4.8" fill="#D17DEA"/>
<circle cx="472.5" cy="206.9" r="4.8" fill="#D17DEA"/>
<circle cx="457.9" cy="216.7" r="4.8" fill="#D17DEA"/>
<circle cx="436.7" cy="222.2" r="5.5" fill="#D17DEA"/>
<circle cx="418.1" cy="225.3" r="4.8" fill="#D17DEA"/>
<circle cx="451.7" cy="228.3" r="5.5" fill="#D17DEA"/>
<circle cx="474.1" cy="226.2" r="4.8" fill="#D17DEA"/>
<circle cx="462.1" cy="237.5" r="4.8" fill="#D17DEA"/>
<circle cx="426" cy="238.1" r="4.8" fill="#D17DEA"/>
<circle cx="480.5" cy="244.3" r="4.8" fill="#D17DEA"/>
<circle cx="443.8" cy="246.7" r="5.5" fill="#D17DEA"/>
<circle cx="466.7" cy="252.2" r="4.8" fill="#D17DEA"/>
<circle cx="430.3" cy="262" r="5.5" fill="#D17DEA"/>
<circle cx="451.1" cy="259" r="5.5" fill="#D17DEA"/>
<circle cx="416.5" cy="272.1" r="5.5" fill="#D17DEA"/>
<circle cx="435.2" cy="278.2" r="4.8" fill="#D17DEA"/>
<circle cx="449.9" cy="276.4" r="4.8" fill="#D17DEA"/>
<circle cx="443.2" cy="291.7" r="5.5" fill="#D17DEA"/>
<circle cx="395.4" cy="203.3" r="4.8" fill="#46916A"/>
<circle cx="378" cy="213" r="4.8" fill="#46916A"/>
<circle cx="396.3" cy="220.7" r="4.8" fill="#46916A"/>
<circle cx="404.3" cy="234.5" r="4.8" fill="#46916A"/>
<circle cx="366.6" cy="224.7" r="4.8" fill="#5CC8E2"/>
<circle cx="381.3" cy="232" r="4.8" fill="#5CC8E2"/>
<circle cx="357.2" cy="241.5" r="4.5" fill="#5CC8E2"/>
<circle cx="371.5" cy="249.8" r="5.5" fill="#5CC8E2"/>
<circle cx="390.5" cy="246.7" r="5.5" fill="#5CC8E2"/>
<circle cx="404.6" cy="255.3" r="5.5" fill="#5CC8E2"/>
<circle cx="417.8" cy="252.8" r="5.5" fill="#5CC8E2"/>
<circle cx="350.4" cy="264.2" r="4.5" fill="#5CC8E2"/>
<circle cx="364.8" cy="268.1" r="4.8" fill="#5CC8E2"/>
<circle cx="382.6" cy="268.1" r="5.5" fill="#5CC8E2"/>
<circle cx="398.5" cy="270.3" r="5.5" fill="#5CC8E2"/>
<circle cx="369.1" cy="289.6" r="4.8" fill="#5CC8E2"/>
<circle cx="352.6" cy="287.1" r="4.5" fill="#5CC8E2"/>
<circle cx="384.4" cy="288.9" r="5.5" fill="#5CC8E2"/>
<circle cx="402.8" cy="286.5" r="5.5" fill="#5CC8E2"/>
<circle cx="416.2" cy="287.4" r="5.5" fill="#5CC8E2"/>
<circle cx="404.3" cy="302.7" r="5.5" fill="#5CC8E2"/>
<circle cx="383.2" cy="307" r="5.5" fill="#5CC8E2"/>
<circle cx="363" cy="308.8" r="4.5" fill="#5CC8E2"/>
<circle cx="395.4" cy="319.2" r="4.8" fill="#5CC8E2"/>
<circle cx="374.9" cy="326.3" r="4.8" fill="#5CC8E2"/>
<circle cx="487.8" cy="225.3" r="5.5" fill="#E38B2C"/>
<circle cx="494.3" cy="240.6" r="4.5" fill="#E38B2C"/>
<circle cx="497" cy="259" r="4.5" fill="#E38B2C"/>
<circle cx="464.3" cy="267.5" r="4.8" fill="#E38B2C"/>
<circle cx="478.7" cy="262.9" r="4.8" fill="#E38B2C"/>
<circle cx="466.4" cy="282.8" r="5.5" fill="#E38B2C"/>
<circle cx="482.3" cy="278.8" r="4.8" fill="#E38B2C"/>
<circle cx="497" cy="277.9" r="4.8" fill="#E38B2C"/>
<circle cx="477.4" cy="294.1" r="4.8" fill="#E38B2C"/>
<circle cx="493.4" cy="298.7" r="4.5" fill="#E38B2C"/>
<circle cx="427.6" cy="298.1" r="5.5" fill="#6CD830"/>
<circle cx="456.3" cy="300.3" r="5.5" fill="#6CD830"/>
<circle cx="419.6" cy="311" r="4.8" fill="#6CD830"/>
<circle cx="467.6" cy="311" r="5.5" fill="#6CD830"/>
<circle cx="483.9" cy="315.6" r="4.8" fill="#6CD830"/>
<circle cx="439.8" cy="315.6" r="5.5" fill="#6CD830"/>
<circle cx="412.9" cy="327.8" r="4.8" fill="#6CD830"/>
<circle cx="456.3" cy="323.2" r="4.8" fill="#6CD830"/>
<circle cx="434.6" cy="330.9" r="5.5" fill="#6CD830"/>
<circle cx="471" cy="333" r="4.8" fill="#6CD830"/>
<circle cx="452" cy="340.1" r="4.8" fill="#6CD830"/>
<circle cx="409.2" cy="343.1" r="4.8" fill="#6CD830"/>
<circle cx="431.5" cy="346.8" r="4.5" fill="#6CD830"/>
<circle cx="390.5" cy="337" r="4.8" fill="#EB5573"/>
</g>
<text class="l" x="413.8" y="194.4" font-size="5.4" textLength="8.9" lengthAdjust="spacingAndGlyphs">DOM</text>
<text class="l" x="437.3" y="192" font-size="5.4" textLength="8.9" lengthAdjust="spacingAndGlyphs">GTM</text>
<text class="l" x="455.7" y="198.9" font-size="5" textLength="8.2" lengthAdjust="spacingAndGlyphs">CRI</text>
<text class="l" x="438.9" y="208.8" font-size="5.4" textLength="8.9" lengthAdjust="spacingAndGlyphs">MEX</text>
<text class="l" x="417.5" y="212.8" font-size="5.4" textLength="8.9" lengthAdjust="spacingAndGlyphs">CHL</text>
<text class="l" x="472.5" y="208.2" font-size="5.4" textLength="8.9" lengthAdjust="spacingAndGlyphs">PER</text>
<text class="l" x="457.9" y="218" font-size="5.4" textLength="8.9" lengthAdjust="spacingAndGlyphs">NZL</text>
<text class="l" x="436.7" y="223.7" font-size="6.2" textLength="10.2" lengthAdjust="spacingAndGlyphs">MYS</text>
<text class="l" x="418.1" y="226.6" font-size="5.4" textLength="8.9" lengthAdjust="spacingAndGlyphs">VNM</text>
<text class="l" x="451.7" y="229.8" font-size="6.2" textLength="10.2" lengthAdjust="spacingAndGlyphs">CAN</text>
<text class="l" x="474.1" y="227.5" font-size="5.4" textLength="8.9" lengthAdjust="spacingAndGlyphs">LKA</text>
<text class="l" x="462.1" y="238.8" font-size="5.4" textLength="8.9" lengthAdjust="spacingAndGlyphs">HKG</text>
<text class="l" x="426" y="239.4" font-size="5.4" textLength="8.9" lengthAdjust="spacingAndGlyphs">KOR</text>
<text class="l" x="480.5" y="245.6" font-size="5.4" textLength="8.9" lengthAdjust="spacingAndGlyphs">PHL</text>
<text class="l" x="443.8" y="248.2" font-size="6.2" textLength="10.2" lengthAdjust="spacingAndGlyphs">JPN</text>
<text class="l" x="466.7" y="253.5" font-size="5.4" textLength="8.9" lengthAdjust="spacingAndGlyphs">COL</text>
<text class="l" x="430.3" y="263.5" font-size="6.2" textLength="10.2" lengthAdjust="spacingAndGlyphs">AUS</text>
<text class="l" x="451.1" y="260.4" font-size="6.2" textLength="10.2" lengthAdjust="spacingAndGlyphs">THA</text>
<text class="l" x="416.5" y="273.6" font-size="6.2" textLength="10.2" lengthAdjust="spacingAndGlyphs">USA</text>
<text class="l" x="435.2" y="279.5" font-size="5.4" textLength="8.9" lengthAdjust="spacingAndGlyphs">SGP</text>
<text class="l" x="449.9" y="277.7" font-size="5.4" textLength="8.9" lengthAdjust="spacingAndGlyphs">IDN</text>
<text class="l" x="443.2" y="293.2" font-size="6.2" textLength="10.2" lengthAdjust="spacingAndGlyphs">CHN</text>
<text class="l" x="395.4" y="204.5" font-size="5.4" textLength="8.9" lengthAdjust="spacingAndGlyphs">ROU</text>
<text class="l" x="378" y="214.3" font-size="5.4" textLength="8.9" lengthAdjust="spacingAndGlyphs">TUN</text>
<text class="l" x="396.3" y="222" font-size="5.4" textLength="8.9" lengthAdjust="spacingAndGlyphs">BGR</text>
<text class="l" x="404.3" y="235.8" font-size="5.4" textLength="8.9" lengthAdjust="spacingAndGlyphs">GRC</text>
<text class="l" x="366.6" y="226" font-size="5.4" textLength="8.9" lengthAdjust="spacingAndGlyphs">LUX</text>
<text class="l" x="381.3" y="233.3" font-size="5.4" textLength="8.9" lengthAdjust="spacingAndGlyphs">CZE</text>
<text class="l" x="357.2" y="242.7" font-size="5" textLength="8.2" lengthAdjust="spacingAndGlyphs">SVK</text>
<text class="l" x="371.5" y="251.3" font-size="6.2" textLength="10.2" lengthAdjust="spacingAndGlyphs">AUT</text>
<text class="l" x="390.5" y="248.2" font-size="6.2" textLength="10.2" lengthAdjust="spacingAndGlyphs">DEU</text>
<text class="l" x="404.6" y="256.8" font-size="6.2" textLength="10.2" lengthAdjust="spacingAndGlyphs">ESP</text>
<text class="l" x="417.8" y="254.3" font-size="6.2" textLength="10.2" lengthAdjust="spacingAndGlyphs">POL</text>
<text class="l" x="350.4" y="265.4" font-size="5" textLength="8.2" lengthAdjust="spacingAndGlyphs">CIV</text>
<text class="l" x="364.8" y="269.4" font-size="5.4" textLength="8.9" lengthAdjust="spacingAndGlyphs">MAR</text>
<text class="l" x="382.6" y="269.6" font-size="6.2" textLength="10.2" lengthAdjust="spacingAndGlyphs">GBR</text>
<text class="l" x="398.5" y="271.8" font-size="6.2">ITA</text>
<text class="l" x="369.1" y="290.9" font-size="5.4" textLength="8.9" lengthAdjust="spacingAndGlyphs">HUN</text>
<text class="l" x="352.6" y="288.3" font-size="5" textLength="8.2" lengthAdjust="spacingAndGlyphs">MUS</text>
<text class="l" x="384.4" y="290.4" font-size="6.2" textLength="10.2" lengthAdjust="spacingAndGlyphs">FRA</text>
<text class="l" x="402.8" y="288" font-size="6.2" textLength="10.2" lengthAdjust="spacingAndGlyphs">PRT</text>
<text class="l" x="416.2" y="288.9" font-size="6.2" textLength="10.2" lengthAdjust="spacingAndGlyphs">CHE</text>
<text class="l" x="404.3" y="304.2" font-size="6.2" textLength="10.2" lengthAdjust="spacingAndGlyphs">NLD</text>
<text class="l" x="383.2" y="308.5" font-size="6.2" textLength="10.2" lengthAdjust="spacingAndGlyphs">BEL</text>
<text class="l" x="363" y="310" font-size="5" textLength="8.2" lengthAdjust="spacingAndGlyphs">SVN</text>
<text class="l" x="395.4" y="320.5" font-size="5.4">IRL</text>
<text class="l" x="374.9" y="327.6" font-size="5.4" textLength="8.9" lengthAdjust="spacingAndGlyphs">GHA</text>
<text class="l" x="487.8" y="226.8" font-size="6.2" textLength="10.2" lengthAdjust="spacingAndGlyphs">SWE</text>
<text class="l" x="494.3" y="241.8" font-size="5" textLength="8.2" lengthAdjust="spacingAndGlyphs">LVA</text>
<text class="l" x="497" y="260.2" font-size="5" textLength="8.2" lengthAdjust="spacingAndGlyphs">ISR</text>
<text class="l" x="464.3" y="268.8" font-size="5.4" textLength="8.9" lengthAdjust="spacingAndGlyphs">NOR</text>
<text class="l" x="478.7" y="264.2" font-size="5.4" textLength="8.9" lengthAdjust="spacingAndGlyphs">RUS</text>
<text class="l" x="466.4" y="284.3" font-size="6.2" textLength="10.2" lengthAdjust="spacingAndGlyphs">DNK</text>
<text class="l" x="482.3" y="280.1" font-size="5.4" textLength="8.9" lengthAdjust="spacingAndGlyphs">UKR</text>
<text class="l" x="497" y="279.2" font-size="5.4" textLength="8.9" lengthAdjust="spacingAndGlyphs">LTU</text>
<text class="l" x="477.4" y="295.4" font-size="5.4">FIN</text>
<text class="l" x="493.4" y="299.9" font-size="5" textLength="8.2" lengthAdjust="spacingAndGlyphs">EST</text>
<text class="l" x="427.6" y="299.6" font-size="6.2" textLength="10.2" lengthAdjust="spacingAndGlyphs">ZAF</text>
<text class="l" x="456.3" y="301.8" font-size="6.2" textLength="10.2" lengthAdjust="spacingAndGlyphs">TUR</text>
<text class="l" x="419.6" y="312.3" font-size="5.4" textLength="8.9" lengthAdjust="spacingAndGlyphs">EGY</text>
<text class="l" x="467.6" y="312.5" font-size="6.2" textLength="10.2" lengthAdjust="spacingAndGlyphs">IND</text>
<text class="l" x="483.9" y="316.9" font-size="5.4" textLength="8.9" lengthAdjust="spacingAndGlyphs">ARE</text>
<text class="l" x="439.8" y="317.1" font-size="6.2" textLength="10.2" lengthAdjust="spacingAndGlyphs">BRA</text>
<text class="l" x="412.9" y="329.1" font-size="5.4" textLength="8.9" lengthAdjust="spacingAndGlyphs">KEN</text>
<text class="l" x="456.3" y="324.5" font-size="5.4" textLength="8.9" lengthAdjust="spacingAndGlyphs">LBN</text>
<text class="l" x="434.6" y="332.4" font-size="6.2" textLength="10.2" lengthAdjust="spacingAndGlyphs">ARG</text>
<text class="l" x="471" y="334.3" font-size="5.4" textLength="8.9" lengthAdjust="spacingAndGlyphs">CYP</text>
<text class="l" x="452" y="341.4" font-size="5.4" textLength="8.9" lengthAdjust="spacingAndGlyphs">SAU</text>
<text class="l" x="409.2" y="344.4" font-size="5.4" textLength="8.9" lengthAdjust="spacingAndGlyphs">PAK</text>
<text class="l" x="431.5" y="348" font-size="5" textLength="8.2" lengthAdjust="spacingAndGlyphs">BHR</text>
<text class="l" x="390.5" y="338.3" font-size="5.4" textLength="8.9" lengthAdjust="spacingAndGlyphs">NGA</text>
<clipPath id="hh"><path d="M521.6 266.6L523.1 246.1L532.3 226.2L546.1 209.4L562 198.7L586.5 192.2L611.9 193.2L631.4 199.9L648.6 211.5L660.8 228.3L669.1 246.1L669.1 268.1L666 286.5L660.5 304.2L652.6 325.4L636.3 336.1L617.1 344.6L593.2 347.7L573.3 344.6L556.8 336.1L542.1 323.8L532 305.5L522.8 285.6Z"/></clipPath>
<g clip-path="url(#hh)" fill-opacity="0.020">
<circle cx="586.5" cy="192.2" r="22" fill="#F26A30"/>
<circle cx="611.9" cy="193.2" r="22" fill="#F26A30"/>
<circle cx="631.4" cy="199.9" r="22" fill="#F26A30"/>
<circle cx="588.6" cy="208.5" r="22" fill="#F26A30"/>
<circle cx="607.3" cy="209.1" r="22" fill="#F26A30"/>
<circle cx="629.6" cy="215.5" r="22" fill="#F26A30"/>
<circle cx="587.7" cy="223.8" r="22" fill="#F26A30"/>
<circle cx="603.3" cy="223.8" r="22" fill="#F26A30"/>
<circle cx="620.7" cy="231.4" r="22" fill="#F26A30"/>
<circle cx="639.1" cy="227.7" r="22" fill="#F26A30"/>
<circle cx="562" cy="198.7" r="22" fill="#D17DEA"/>
<circle cx="546.1" cy="209.4" r="22" fill="#D17DEA"/>
<circle cx="569.3" cy="216.7" r="22" fill="#D17DEA"/>
<circle cx="532.3" cy="226.2" r="22" fill="#D17DEA"/>
<circle cx="548.8" cy="227.4" r="22" fill="#D17DEA"/>
<circle cx="560.4" cy="237.5" r="22" fill="#D17DEA"/>
<circle cx="523.1" cy="246.1" r="22" fill="#D17DEA"/>
<circle cx="542.1" cy="246.1" r="22" fill="#D17DEA"/>
<circle cx="557.4" cy="254.4" r="22" fill="#D17DEA"/>
<circle cx="521.6" cy="266.6" r="22" fill="#D17DEA"/>
<circle cx="540.5" cy="266.6" r="22" fill="#D17DEA"/>
<circle cx="555.2" cy="274.9" r="22" fill="#D17DEA"/>
<circle cx="522.8" cy="285.6" r="22" fill="#D17DEA"/>
<circle cx="541.5" cy="285.9" r="22" fill="#D17DEA"/>
<circle cx="578.8" cy="285.9" r="22" fill="#D17DEA"/>
<circle cx="565" cy="295.7" r="22" fill="#D17DEA"/>
<circle cx="532" cy="305.5" r="22" fill="#D17DEA"/>
<circle cx="549.1" cy="301.8" r="22" fill="#D17DEA"/>
<circle cx="648.6" cy="211.5" r="22" fill="#8DC52E"/>
<circle cx="660.8" cy="228.3" r="22" fill="#8DC52E"/>
<circle cx="580.3" cy="236.9" r="22" fill="#8DC52E"/>
<circle cx="602.4" cy="239.1" r="22" fill="#8DC52E"/>
<circle cx="648.9" cy="239.1" r="22" fill="#8DC52E"/>
<circle cx="669.1" cy="246.1" r="22" fill="#8DC52E"/>
<circle cx="574.2" cy="251.3" r="22" fill="#8DC52E"/>
<circle cx="593.2" cy="254.4" r="22" fill="#8DC52E"/>
<circle cx="614" cy="250.4" r="22" fill="#8DC52E"/>
<circle cx="629.3" cy="246.7" r="22" fill="#8DC52E"/>
<circle cx="643.7" cy="257.4" r="22" fill="#8DC52E"/>
<circle cx="659.3" cy="258" r="22" fill="#8DC52E"/>
<circle cx="573" cy="270.3" r="22" fill="#8DC52E"/>
<circle cx="589.5" cy="267.5" r="22" fill="#8DC52E"/>
<circle cx="607.3" cy="266.6" r="22" fill="#8DC52E"/>
<circle cx="626.2" cy="263.5" r="22" fill="#8DC52E"/>
<circle cx="669.1" cy="268.1" r="22" fill="#8DC52E"/>
<circle cx="650.7" cy="273.6" r="22" fill="#8DC52E"/>
<circle cx="612.5" cy="277.3" r="22" fill="#8DC52E"/>
<circle cx="636.3" cy="278.2" r="22" fill="#8DC52E"/>
<circle cx="596.9" cy="284" r="22" fill="#8DC52E"/>
<circle cx="649.8" cy="288" r="22" fill="#8DC52E"/>
<circle cx="666" cy="286.5" r="22" fill="#8DC52E"/>
<circle cx="625.6" cy="291.1" r="22" fill="#8DC52E"/>
<circle cx="609.7" cy="295.7" r="22" fill="#8DC52E"/>
<circle cx="642.5" cy="304.2" r="22" fill="#8DC52E"/>
<circle cx="660.5" cy="304.2" r="22" fill="#8DC52E"/>
<circle cx="620.1" cy="308.8" r="22" fill="#8DC52E"/>
<circle cx="634.8" cy="318.6" r="22" fill="#8DC52E"/>
<circle cx="652.6" cy="325.4" r="22" fill="#8DC52E"/>
<circle cx="617.4" cy="325.7" r="22" fill="#8DC52E"/>
<circle cx="636.3" cy="336.1" r="22" fill="#8DC52E"/>
<circle cx="617.1" cy="344.6" r="22" fill="#46916A"/>
<circle cx="592.6" cy="302.4" r="22" fill="#5CC8E2"/>
<circle cx="577.3" cy="307.3" r="22" fill="#5CC8E2"/>
<circle cx="603.6" cy="315.6" r="22" fill="#5CC8E2"/>
<circle cx="559.8" cy="315.6" r="22" fill="#5CC8E2"/>
<circle cx="542.1" cy="323.8" r="22" fill="#5CC8E2"/>
<circle cx="576.7" cy="328.4" r="22" fill="#5CC8E2"/>
<circle cx="596.6" cy="333.9" r="22" fill="#5CC8E2"/>
<circle cx="556.8" cy="336.1" r="22" fill="#5CC8E2"/>
<circle cx="573.3" cy="344.6" r="22" fill="#5CC8E2"/>
<circle cx="593.2" cy="347.7" r="22" fill="#5CC8E2"/>
</g>
<g fill="none" stroke-width="0.45" stroke-opacity="0.13" stroke-linejoin="bevel">
<path stroke="#F26A30" d="M621 231L577 307L612 193L639 228L631 200L560 238L639 228L523 246L603 224L617 345L588 224L651 274L588 224L542 246L631 200L669 246L589 208L639 228L586 192L565 296L588 224L597 284L639 228L642 304L603 224L560 316L586 192L651 274L630 215L546 209L589 208L541 286L607 209L541 267L607 209L532 305L631 200L580 237L588 224L557 254L639 228L541 267L586 192L565 296L589 208L555 275"/>
<path stroke="#F26A30" d="M555 275L589 208L593 254L621 231L590 268L603 224L593 254L631 200L597 284L603 224L573 345L586 192L607 209L639 228L621 231L631 200L636 278L588 224L626 264L603 224L621 231L607 209L661 304L586 192L649 239L630 215L602 239L612 193L607 267L603 224L557 254L621 231L523 286L612 193L617 345L607 209L546 209L630 215L579 286L588 224L593 254L639 228L577 307L607 209L532 226L589 208"/>
<path stroke="#F26A30" d="M589 208L557 336L621 231L597 334L607 209L560 316L586 192L639 228L631 200L597 284L589 208L669 268L589 208L653 325L630 215L617 326L589 208L541 267L630 215L649 212L603 224L612 277L639 228L549 302L631 200L635 319L612 193L541 267L639 228L636 336L589 208L597 334L586 192L626 264L612 193L557 254L621 231L617 326L603 224L610 296L586 192L661 228L589 208L593 254L588 224L573 345"/>
<path stroke="#F26A30" d="M573 345L603 224L659 258L603 224L649 212L630 215L666 286L588 224L602 239L586 192L522 267L586 192L589 208L603 224L617 326L639 228L549 227L630 215L541 267L621 231L577 307L607 209L580 237L631 200L607 209L621 231L597 334L607 209L546 209L630 215L573 270L621 231L560 316L639 228L588 224L639 228L557 254L621 231L574 251L621 231L573 270L621 231L659 258L603 224L579 286L588 224"/>
<path stroke="#D17DEA" d="M541 286L590 268L569 217L542 324L565 296L588 224L549 302L586 192L541 286L579 286L549 302L577 307L555 275L626 264L523 286L626 291L569 217L532 226L523 286L565 296L541 286L569 217L542 246L639 228L549 227L546 209L523 246L569 217L532 305L659 258L549 227L650 288L522 267L597 284L569 217L562 199L565 296L607 209L565 296L532 226L549 227L636 336L523 286L626 264L546 209L602 239L541 286L612 277L523 246L555 275L542 246L597 334L562 199L574 251L532 305L560 238L555 275L649 212L541 286L593 254L579 286L666 286L541 267L607 209L541 286L574 251L562 199L617 326L579 286L555 275L579 286L612 277L541 286L661 304L541 267L589 208L532 226L542 246L555 275L607 267L557 254L630 215"/>
<path stroke="#D17DEA" d="M630 215L565 296L620 309L565 296L661 304L569 217L607 267L557 254L617 345L546 209L669 246L560 238L522 267L557 254L631 200L532 226L541 286L549 302L602 239L560 238L532 226L523 286L579 286L532 226L661 304L541 286L593 302L579 286L626 264L532 305L636 278L523 286L597 284L541 286L631 200L523 246L557 254L523 246L580 237L579 286L669 246L523 246L650 288L541 286L617 345L555 275L532 226L549 302L549 227L541 286L523 246L569 217L555 275L522 267L612 277L523 246L588 224L546 209L562 199L523 246L557 336L579 286L523 286L555 275L604 316L542 246L644 257L565 296L612 193L532 305L607 209L560 238L607 209L532 226L541 267L549 227L661 304L569 217L549 302L522 267L560 238L541 267"/>
<path stroke="#D17DEA" d="M541 267L522 267L562 199L651 274L549 302L617 345L546 209L649 239L569 217L650 288L532 226L617 345L546 209L549 302L549 227L607 267L549 302L636 278L569 217L629 247L562 199L542 324L562 199L642 304L541 286L636 336L532 226L573 270L560 238L589 208L579 286L617 345L546 209L542 246L562 199L541 267L523 246L565 296L569 217L586 192L565 296L659 258L555 275L542 246L569 217L577 328L546 209L612 277L549 302L607 267L565 296L612 193L523 286L522 267L557 254L629 247L562 199L639 228L549 302L636 336L549 227L636 336L549 302L569 217L523 246L636 278L549 302L593 302L532 305L586 192L541 286L560 238L549 227L560 316L546 209L590 268L546 209L642 304L546 209L590 268L546 209L569 217"/>
<path stroke="#D17DEA" d="M569 217L542 246L523 286L542 246L642 304L562 199L532 226L549 227L541 286L522 267L542 324L523 246L586 192L549 302L636 336L523 286L626 264L522 267L666 286L532 305L562 199L549 227L636 278L522 267L635 319L541 267L580 237L541 267L542 246L555 275L589 208L555 275L649 239L532 305L649 212L546 209L597 284L523 286L612 277L560 238L597 284L523 286L573 270L541 286L635 319L523 246L614 250L557 254L562 199L546 209L522 267L541 267L573 270L565 296L593 348L560 238L542 324L579 286L549 227L522 267L610 296L569 217L629 247L546 209L565 296L560 238L573 345L565 296L607 267L560 238L542 324L522 267L626 291L549 302L602 239L560 238L586 192L579 286L630 215L565 296L651 274L523 286"/>
<path stroke="#8DC52E" d="M649 212L560 316L597 284L593 302L661 228L586 192L661 304L617 345L626 291L661 228L602 239L573 270L574 251L542 324L669 246L635 319L574 251L651 274L626 291L669 246L651 274L593 348L642 304L614 250L651 274L522 267L653 325L612 277L635 319L542 246L661 304L620 309L597 284L607 209L669 246L626 291L617 326L621 231L636 336L597 284L649 239L590 268L666 286L569 217L649 239L597 334L574 251L597 334L651 274L597 334L590 268L580 237L661 304L532 226L610 296L603 224L590 268L593 254L610 296L649 239L650 288L586 192L642 304L549 302L666 286L569 217L612 277L666 286L644 257L602 239L649 239L590 268L661 228L636 336L644 257L651 274L626 291L549 227L642 304L651 274L661 228L560 316L574 251L532 305L573 270L620 309L580 237L649 239L669 246L639 228L666 286L669 246L636 336L604 316L593 254L602 239L610 296L562 199L612 277L644 257L593 254L626 264L649 212L612 193L620 309L560 238L649 212L549 227L590 268L653 325L669 246L649 212L669 246L644 257L669 268L579 286L573 270L617 345L629 247L522 267L650 288L522 267L649 239L549 302L597 284L523 246L612 277L617 345L602 239L659 258L651 274L629 247L602 239L644 257L636 278L523 286L661 228L580 237L602 239L588 224L642 304L597 284L651 274L597 284L612 277"/>
<path stroke="#8DC52E" d="M612 277L617 345L661 304L593 254L620 309L607 267L644 257L612 193L580 237L620 309L669 246L630 215L636 336L577 328L635 319L659 258L636 336L557 254L669 268L661 228L636 278L555 275L642 304L546 209L593 254L562 199L669 268L626 264L651 274L579 286L607 267L588 224L593 254L650 288L661 304L579 286L629 247L593 348L629 247L549 227L574 251L649 212L649 239L636 336L666 286L555 275L669 268L649 239L629 247L626 264L629 247L593 302L642 304L631 200L636 336L621 231L649 212L541 286L626 264L653 325L669 246L593 348L649 212L580 237L573 270L541 286L602 239L649 239L614 250L639 228L574 251L636 278L651 274L620 309L669 246L523 246L636 336L607 267L593 254L612 277L659 258L651 274L597 284L577 328L614 250L586 192L574 251L639 228L626 264L532 305L580 237L560 316L593 254L560 238L636 336L580 237L610 296L607 209L636 336L579 286L669 246L546 209L580 237L642 304L636 278L593 348L644 257L650 288L659 258L649 239L617 326L593 302L580 237L523 246L642 304L651 274L642 304L580 237L617 326L580 237L669 268L560 238L661 304L604 316L650 288L651 274L659 258L523 286L661 304L557 336L629 247L541 267L644 257L565 296L651 274L574 251L659 258L630 215L580 237L607 267L610 296L626 291L574 251L590 268L669 246"/>
<path stroke="#8DC52E" d="M669 246L546 209L653 325L577 328L610 296L577 307L610 296L532 226L649 239L602 239L661 228L580 237L649 212L639 228L636 336L649 239L617 326L593 302L614 250L546 209L636 278L593 254L636 278L589 208L590 268L651 274L650 288L669 246L574 251L573 345L626 291L621 231L644 257L602 239L644 257L635 319L650 288L659 258L653 325L642 304L669 268L522 267L626 264L639 228L614 250L577 307L610 296L629 247L653 325L607 209L580 237L577 307L659 258L612 193L629 247L565 296L610 296L588 224L666 286L631 200L635 319L573 270L661 304L593 254L651 274L593 302L607 267L644 257L590 268L669 268L614 250L661 228L580 237L649 239L612 277L603 224L593 254L636 278L620 309L612 277L617 326L573 345L659 258L612 193L590 268L636 336L607 267L562 199L642 304L621 231L593 254L617 326L602 239L636 336L610 296L532 226L661 304L588 224L669 268L542 246L651 274L644 257L666 286L549 227L626 291L631 200L644 257L649 212L635 319L560 316L620 309L607 267L650 288L651 274L597 284L542 246L644 257L549 227L649 239L607 209L650 288L555 275L649 239L612 277L610 296L661 228L651 274L532 305L666 286L602 239L614 250L644 257L661 304L586 192L669 246L580 237L666 286L621 231L573 270L549 227L612 277L644 257L602 239L621 231L649 239"/>
<path stroke="#8DC52E" d="M649 239L532 305L636 336L541 286L607 267L523 286L669 246L629 247L659 258L569 217L620 309L597 284L573 270L651 274L661 228L661 304L573 270L569 217L644 257L617 345L612 277L661 304L642 304L620 309L661 304L603 224L653 325L614 250L629 247L542 324L636 278L650 288L661 228L620 309L612 277L630 215L642 304L541 267L661 304L590 268L629 247L549 302L574 251L612 193L607 267L650 288L580 237L650 288L590 268L573 345L607 267L666 286L644 257L636 336L649 239L549 302L666 286L546 209L669 246L621 231L610 296L577 328L573 270L669 268L661 228L549 227L629 247L626 291L617 326L532 226L590 268L626 291L597 284L541 286L661 304L593 348L593 254L532 305L626 291L593 302L597 284L593 348L650 288L549 302L574 251L577 307L573 270L560 316L580 237L597 284L651 274L607 209L573 270L557 336L642 304L532 305L590 268L631 200L636 336L523 246L580 237L577 307L580 237L557 336L653 325L666 286L580 237L617 326L659 258L610 296L649 212L579 286L651 274L607 267L610 296L560 316L580 237L642 304L669 268L541 286L649 212L626 264L602 239L589 208L590 268L573 345L573 270L617 345L636 278L542 324L636 336L557 254L636 278L607 209L653 325L562 199L651 274L562 199L602 239L642 304L574 251L573 270L610 296L577 328L590 268"/>
<path stroke="#46916A" d="M617 345L560 238L617 345L612 193L617 345"/>
<path stroke="#46916A" d="M617 345L586 192L617 345L642 304L617 345"/>
<path stroke="#46916A" d="M617 345L557 336L617 345L636 278L617 345"/>
<path stroke="#46916A" d="M617 345L649 239L617 345L560 316L617 345"/>
<path stroke="#46916A" d="M617 345L636 278L617 345"/>
<path stroke="#5CC8E2" d="M593 348L631 200L577 307L557 336L560 316L644 257L593 302L532 305L577 328L669 246L560 316L593 254L573 345L579 286L604 316L639 228L557 336L650 288L557 336L541 267L593 302L557 336L593 302L629 247L557 336L659 258L542 324L650 288L604 316L557 254L573 345L621 231L560 316L649 239L577 307L557 254L604 316L557 336L597 334L642 304L542 324L569 217L557 336L629 247L542 324L541 286"/>
<path stroke="#5CC8E2" d="M541 286L573 345L607 209L573 345L590 268L593 302L580 237L597 334L586 192L593 302L644 257L593 348L523 246L560 316L579 286L542 324L669 246L593 302L532 226L597 334L577 307L542 324L577 328L542 324L562 199L557 336L666 286L593 348L573 345L542 324L532 305L557 336L669 246L542 324L574 251L604 316L639 228L557 336L593 348L577 307L669 246L597 334L522 267L597 334L577 307L573 345"/>
<path stroke="#5CC8E2" d="M573 345L626 264L542 324L651 274L597 334L573 270L593 348L617 326L577 328L557 336L542 324L557 336L577 328L636 278L573 345L523 246L577 307L579 286L557 336L650 288L593 302L636 336L597 334L555 275L557 336L659 258L604 316L636 278L593 302L593 348L597 334L569 217L577 328L523 246L573 345L573 270L577 307L617 345L557 336L604 316L557 336L651 274L593 302L577 328L560 316L597 284"/>
<path stroke="#5CC8E2" d="M597 284L573 345L541 267L604 316L669 268L604 316L614 250L560 316L546 209L557 336L590 268L560 316L604 316L593 348L636 278L597 334L565 296L560 316L620 309L560 316L610 296L542 324L541 286L604 316L577 307L557 336L593 254L597 334L620 309L577 307L630 215L542 324L650 288L573 345L621 231L542 324L659 258L604 316L653 325L593 302L659 258L573 345L629 247L593 348L593 254L573 345"/>
</g>
<path stroke="#5CC8E2" stroke-width="2.2" stroke-opacity="0.7" d="M592.6 302.4L560.8 332.3"/>
<path fill="#5CC8E2" fill-opacity="0.9" d="M560.8 332.3L563.7 324.5L568.7 329.8Z"/>
<path stroke="#5CC8E2" stroke-width="2.2" stroke-opacity="0.7" d="M556.8 336.1L588.6 306.2"/>
<path fill="#5CC8E2" fill-opacity="0.9" d="M588.6 306.2L585.6 314L580.6 308.7Z"/>
<path stroke="#5CC8E2" stroke-width="2" stroke-opacity="0.7" d="M596.6 333.9L593.3 307.9"/>
<path fill="#5CC8E2" fill-opacity="0.9" d="M593.3 307.9L597.5 314.4L590.8 315.2Z"/>
<path stroke="#5CC8E2" stroke-width="0.5" stroke-opacity="0.7" d="M592.6 302.4L595.6 289.4"/>
<path fill="#5CC8E2" fill-opacity="0.9" d="M595.6 289.4L596.4 292.9L593.3 292.2Z"/>
<path stroke="#5CC8E2" stroke-width="0.5" stroke-opacity="0.7" d="M592.6 302.4L590 273"/>
<path fill="#5CC8E2" fill-opacity="0.9" d="M590 273L591.9 276.1L588.7 276.4Z"/>
<path stroke="#5CC8E2" stroke-width="0.4" stroke-opacity="0.7" d="M592.6 302.4L605.4 271"/>
<path fill="#5CC8E2" fill-opacity="0.9" d="M605.4 271L605.7 274.4L602.9 273.3Z"/>
<path stroke="#F26A30" stroke-width="0.6" stroke-opacity="0.7" d="M639.1 227.7L593.1 210.2"/>
<path fill="#F26A30" fill-opacity="0.9" d="M593.1 210.2L597 209.8L595.7 213Z"/>
<path stroke="#F26A30" stroke-width="0.6" stroke-opacity="0.7" d="M639.1 227.7L608.8 224.4"/>
<path fill="#F26A30" fill-opacity="0.9" d="M608.8 224.4L612.4 223L612 226.5Z"/>
<path stroke="#F26A30" stroke-width="0.5" stroke-opacity="0.7" d="M629.6 215.5L592.4 222.8"/>
<path fill="#F26A30" fill-opacity="0.9" d="M592.4 222.8L595.3 220.6L595.9 223.8Z"/>
<path stroke="#8DC52E" stroke-width="1" stroke-opacity="0.7" d="M648.9 239.1L598.5 252.9"/>
<path fill="#8DC52E" fill-opacity="0.9" d="M598.5 252.9L602.2 249.6L603.4 253.8Z"/>
<path stroke="#8DC52E" stroke-width="0.8" stroke-opacity="0.7" d="M629.3 246.7L619.3 249.1"/>
<path fill="#8DC52E" fill-opacity="0.9" d="M619.3 249.1L622.8 246.3L623.7 250.1Z"/>
<path stroke="#8DC52E" stroke-width="0.6" stroke-opacity="0.7" d="M648.9 239.1L634.4 244.7"/>
<path fill="#8DC52E" fill-opacity="0.9" d="M634.4 244.7L637.1 241.8L638.3 245Z"/>
<g stroke="#505050" stroke-width="0.35">
<circle cx="586.5" cy="192.2" r="4.8" fill="#F26A30"/>
<circle cx="611.9" cy="193.2" r="5.5" fill="#F26A30"/>
<circle cx="631.4" cy="199.9" r="4.8" fill="#F26A30"/>
<circle cx="588.6" cy="208.5" r="4.8" fill="#F26A30"/>
<circle cx="607.3" cy="209.1" r="4.8" fill="#F26A30"/>
<circle cx="629.6" cy="215.5" r="4.8" fill="#F26A30"/>
<circle cx="587.7" cy="223.8" r="4.8" fill="#F26A30"/>
<circle cx="603.3" cy="223.8" r="5.5" fill="#F26A30"/>
<circle cx="620.7" cy="231.4" r="4.8" fill="#F26A30"/>
<circle cx="639.1" cy="227.7" r="5.5" fill="#F26A30"/>
<circle cx="562" cy="198.7" r="4.8" fill="#D17DEA"/>
<circle cx="546.1" cy="209.4" r="4.5" fill="#D17DEA"/>
<circle cx="569.3" cy="216.7" r="5.5" fill="#D17DEA"/>
<circle cx="532.3" cy="226.2" r="4.8" fill="#D17DEA"/>
<circle cx="548.8" cy="227.4" r="4.8" fill="#D17DEA"/>
<circle cx="560.4" cy="237.5" r="4.8" fill="#D17DEA"/>
<circle cx="523.1" cy="246.1" r="4.8" fill="#D17DEA"/>
<circle cx="542.1" cy="246.1" r="4.8" fill="#D17DEA"/>
<circle cx="557.4" cy="254.4" r="4.8" fill="#D17DEA"/>
<circle cx="521.6" cy="266.6" r="4.8" fill="#D17DEA"/>
<circle cx="540.5" cy="266.6" r="4.8" fill="#D17DEA"/>
<circle cx="555.2" cy="274.9" r="4.8" fill="#D17DEA"/>
<circle cx="522.8" cy="285.6" r="4.8" fill="#D17DEA"/>
<circle cx="541.5" cy="285.9" r="5.5" fill="#D17DEA"/>
<circle cx="578.8" cy="285.9" r="5.5" fill="#D17DEA"/>
<circle cx="565" cy="295.7" r="4.8" fill="#D17DEA"/>
<circle cx="532" cy="305.5" r="4.8" fill="#D17DEA"/>
<circle cx="549.1" cy="301.8" r="4.5" fill="#D17DEA"/>
<circle cx="648.6" cy="211.5" r="4.5" fill="#8DC52E"/>
<circle cx="660.8" cy="228.3" r="4.5" fill="#8DC52E"/>
<circle cx="580.3" cy="236.9" r="4.8" fill="#8DC52E"/>
<circle cx="602.4" cy="239.1" r="4.5" fill="#8DC52E"/>
<circle cx="648.9" cy="239.1" r="5.5" fill="#8DC52E"/>
<circle cx="669.1" cy="246.1" r="4.5" fill="#8DC52E"/>
<circle cx="574.2" cy="251.3" r="4.8" fill="#8DC52E"/>
<circle cx="593.2" cy="254.4" r="5.5" fill="#8DC52E"/>
<circle cx="614" cy="250.4" r="5.5" fill="#8DC52E"/>
<circle cx="629.3" cy="246.7" r="5.5" fill="#8DC52E"/>
<circle cx="643.7" cy="257.4" r="4.8" fill="#8DC52E"/>
<circle cx="659.3" cy="258" r="4.8" fill="#8DC52E"/>
<circle cx="573" cy="270.3" r="5.5" fill="#8DC52E"/>
<circle cx="589.5" cy="267.5" r="5.5" fill="#8DC52E"/>
<circle cx="607.3" cy="266.6" r="4.8" fill="#8DC52E"/>
<circle cx="626.2" cy="263.5" r="4.8" fill="#8DC52E"/>
<circle cx="669.1" cy="268.1" r="5.5" fill="#8DC52E"/>
<circle cx="650.7" cy="273.6" r="4.8" fill="#8DC52E"/>
<circle cx="612.5" cy="277.3" r="5.5" fill="#8DC52E"/>
<circle cx="636.3" cy="278.2" r="5.5" fill="#8DC52E"/>
<circle cx="596.9" cy="284" r="5.5" fill="#8DC52E"/>
<circle cx="649.8" cy="288" r="5.5" fill="#8DC52E"/>
<circle cx="666" cy="286.5" r="5.5" fill="#8DC52E"/>
<circle cx="625.6" cy="291.1" r="4.8" fill="#8DC52E"/>
<circle cx="609.7" cy="295.7" r="4.8" fill="#8DC52E"/>
<circle cx="642.5" cy="304.2" r="5.5" fill="#8DC52E"/>
<circle cx="660.5" cy="304.2" r="4.8" fill="#8DC52E"/>
<circle cx="620.1" cy="308.8" r="4.8" fill="#8DC52E"/>
<circle cx="634.8" cy="318.6" r="4.8" fill="#8DC52E"/>
<circle cx="652.6" cy="325.4" r="4.8" fill="#8DC52E"/>
<circle cx="617.4" cy="325.7" r="4.8" fill="#8DC52E"/>
<circle cx="636.3" cy="336.1" r="4.8" fill="#8DC52E"/>
<circle cx="617.1" cy="344.6" r="5.5" fill="#46916A"/>
<circle cx="592.6" cy="302.4" r="5.5" fill="#5CC8E2"/>
<circle cx="577.3" cy="307.3" r="4.8" fill="#5CC8E2"/>
<circle cx="603.6" cy="315.6" r="4.8" fill="#5CC8E2"/>
<circle cx="559.8" cy="315.6" r="4.8" fill="#5CC8E2"/>
<circle cx="542.1" cy="323.8" r="4.8" fill="#5CC8E2"/>
<circle cx="576.7" cy="328.4" r="4.8" fill="#5CC8E2"/>
<circle cx="596.6" cy="333.9" r="4.8" fill="#5CC8E2"/>
<circle cx="556.8" cy="336.1" r="5.5" fill="#5CC8E2"/>
<circle cx="573.3" cy="344.6" r="4.8" fill="#5CC8E2"/>
<circle cx="593.2" cy="347.7" r="4.8" fill="#5CC8E2"/>
</g>
<text class="l" x="586.5" y="193.5" font-size="5.4" textLength="8.9" lengthAdjust="spacingAndGlyphs">NZL</text>
<text class="l" x="611.9" y="194.6" font-size="6.2" textLength="10.2" lengthAdjust="spacingAndGlyphs">MYS</text>
<text class="l" x="631.4" y="201.2" font-size="5.4" textLength="8.9" lengthAdjust="spacingAndGlyphs">PER</text>
<text class="l" x="588.6" y="209.8" font-size="5.4" textLength="8.9" lengthAdjust="spacingAndGlyphs">JPN</text>
<text class="l" x="607.3" y="210.4" font-size="5.4" textLength="8.9" lengthAdjust="spacingAndGlyphs">VNM</text>
<text class="l" x="629.6" y="216.8" font-size="5.4" textLength="8.9" lengthAdjust="spacingAndGlyphs">KOR</text>
<text class="l" x="587.7" y="225.1" font-size="5.4" textLength="8.9" lengthAdjust="spacingAndGlyphs">HKG</text>
<text class="l" x="603.3" y="225.2" font-size="6.2" textLength="10.2" lengthAdjust="spacingAndGlyphs">THA</text>
<text class="l" x="620.7" y="232.7" font-size="5.4" textLength="8.9" lengthAdjust="spacingAndGlyphs">AUS</text>
<text class="l" x="639.1" y="229.2" font-size="6.2" textLength="10.2" lengthAdjust="spacingAndGlyphs">CHN</text>
<text class="l" x="562" y="200" font-size="5.4" textLength="8.9" lengthAdjust="spacingAndGlyphs">MLT</text>
<text class="l" x="546.1" y="210.6" font-size="5" textLength="8.2" lengthAdjust="spacingAndGlyphs">SVN</text>
<text class="l" x="569.3" y="218.2" font-size="6.2" textLength="10.2" lengthAdjust="spacingAndGlyphs">TUR</text>
<text class="l" x="532.3" y="227.5" font-size="5.4" textLength="8.9" lengthAdjust="spacingAndGlyphs">LBN</text>
<text class="l" x="548.8" y="228.7" font-size="5.4" textLength="8.9" lengthAdjust="spacingAndGlyphs">IDN</text>
<text class="l" x="560.4" y="238.8" font-size="5.4" textLength="8.9" lengthAdjust="spacingAndGlyphs">BRA</text>
<text class="l" x="523.1" y="247.4" font-size="5.4" textLength="8.9" lengthAdjust="spacingAndGlyphs">KEN</text>
<text class="l" x="542.1" y="247.4" font-size="5.4" textLength="8.9" lengthAdjust="spacingAndGlyphs">ISR</text>
<text class="l" x="557.4" y="255.7" font-size="5.4" textLength="8.9" lengthAdjust="spacingAndGlyphs">NGA</text>
<text class="l" x="521.6" y="267.9" font-size="5.4" textLength="8.9" lengthAdjust="spacingAndGlyphs">EGY</text>
<text class="l" x="540.5" y="267.9" font-size="5.4" textLength="8.9" lengthAdjust="spacingAndGlyphs">TUN</text>
<text class="l" x="555.2" y="276.2" font-size="5.4" textLength="8.9" lengthAdjust="spacingAndGlyphs">ARE</text>
<text class="l" x="522.8" y="286.9" font-size="5.4" textLength="8.9" lengthAdjust="spacingAndGlyphs">SRB</text>
<text class="l" x="541.5" y="287.4" font-size="6.2" textLength="10.2" lengthAdjust="spacingAndGlyphs">PAK</text>
<text class="l" x="578.8" y="287.4" font-size="6.2" textLength="10.2" lengthAdjust="spacingAndGlyphs">IND</text>
<text class="l" x="565" y="297" font-size="5.4" textLength="8.9" lengthAdjust="spacingAndGlyphs">LKA</text>
<text class="l" x="532" y="306.8" font-size="5.4" textLength="8.9" lengthAdjust="spacingAndGlyphs">ARG</text>
<text class="l" x="549.1" y="303" font-size="5" textLength="8.2" lengthAdjust="spacingAndGlyphs">JOR</text>
<text class="l" x="648.6" y="212.7" font-size="5" textLength="8.2" lengthAdjust="spacingAndGlyphs">CIV</text>
<text class="l" x="660.8" y="229.5" font-size="5">IRL</text>
<text class="l" x="580.3" y="238.2" font-size="5.4" textLength="8.9" lengthAdjust="spacingAndGlyphs">CZE</text>
<text class="l" x="602.4" y="240.3" font-size="5" textLength="8.2" lengthAdjust="spacingAndGlyphs">LTU</text>
<text class="l" x="648.9" y="240.5" font-size="6.2" textLength="10.2" lengthAdjust="spacingAndGlyphs">DEU</text>
<text class="l" x="669.1" y="247.3" font-size="5" textLength="8.2" lengthAdjust="spacingAndGlyphs">MUS</text>
<text class="l" x="574.2" y="252.6" font-size="5.4" textLength="8.9" lengthAdjust="spacingAndGlyphs">GRC</text>
<text class="l" x="593.2" y="255.8" font-size="6.2" textLength="10.2" lengthAdjust="spacingAndGlyphs">FRA</text>
<text class="l" x="614" y="251.9" font-size="6.2" textLength="10.2" lengthAdjust="spacingAndGlyphs">NLD</text>
<text class="l" x="629.3" y="248.2" font-size="6.2" textLength="10.2" lengthAdjust="spacingAndGlyphs">ESP</text>
<text class="l" x="643.7" y="258.7" font-size="5.4" textLength="8.9" lengthAdjust="spacingAndGlyphs">ROU</text>
<text class="l" x="659.3" y="259.3" font-size="5.4" textLength="8.9" lengthAdjust="spacingAndGlyphs">BGR</text>
<text class="l" x="573" y="271.8" font-size="6.2">IRL</text>
<text class="l" x="589.5" y="269" font-size="6.2" textLength="10.2" lengthAdjust="spacingAndGlyphs">AUT</text>
<text class="l" x="607.3" y="267.9" font-size="5.4" textLength="8.9" lengthAdjust="spacingAndGlyphs">EST</text>
<text class="l" x="626.2" y="264.8" font-size="5.4" textLength="8.9" lengthAdjust="spacingAndGlyphs">CYP</text>
<text class="l" x="669.1" y="269.6" font-size="6.2" textLength="10.2" lengthAdjust="spacingAndGlyphs">SWE</text>
<text class="l" x="650.7" y="274.9" font-size="5.4" textLength="8.9" lengthAdjust="spacingAndGlyphs">LUX</text>
<text class="l" x="612.5" y="278.8" font-size="6.2" textLength="10.2" lengthAdjust="spacingAndGlyphs">CHE</text>
<text class="l" x="636.3" y="279.7" font-size="6.2" textLength="10.2" lengthAdjust="spacingAndGlyphs">BEL</text>
<text class="l" x="596.9" y="285.5" font-size="6.2">ITA</text>
<text class="l" x="649.8" y="289.5" font-size="6.2" textLength="10.2" lengthAdjust="spacingAndGlyphs">GBR</text>
<text class="l" x="666" y="288" font-size="6.2" textLength="10.2" lengthAdjust="spacingAndGlyphs">HUN</text>
<text class="l" x="625.6" y="292.4" font-size="5.4" textLength="8.9" lengthAdjust="spacingAndGlyphs">DNK</text>
<text class="l" x="609.7" y="297" font-size="5.4" textLength="8.9" lengthAdjust="spacingAndGlyphs">UKR</text>
<text class="l" x="642.5" y="305.7" font-size="6.2" textLength="10.2" lengthAdjust="spacingAndGlyphs">POL</text>
<text class="l" x="660.5" y="305.5" font-size="5.4" textLength="8.9" lengthAdjust="spacingAndGlyphs">SVK</text>
<text class="l" x="620.1" y="310.1" font-size="5.4">FIN</text>
<text class="l" x="634.8" y="319.9" font-size="5.4" textLength="8.9" lengthAdjust="spacingAndGlyphs">PRT</text>
<text class="l" x="652.6" y="326.7" font-size="5.4" textLength="8.9" lengthAdjust="spacingAndGlyphs">LVA</text>
<text class="l" x="617.4" y="327" font-size="5.4" textLength="8.9" lengthAdjust="spacingAndGlyphs">MAR</text>
<text class="l" x="636.3" y="337.4" font-size="5.4" textLength="8.9" lengthAdjust="spacingAndGlyphs">NOR</text>
<text class="l" x="617.1" y="346.1" font-size="6.2" textLength="10.2" lengthAdjust="spacingAndGlyphs">ZAF</text>
<text class="l" x="592.6" y="303.9" font-size="6.2" textLength="10.2" lengthAdjust="spacingAndGlyphs">USA</text>
<text class="l" x="577.3" y="308.6" font-size="5.4" textLength="8.9" lengthAdjust="spacingAndGlyphs">GTM</text>
<text class="l" x="603.6" y="316.9" font-size="5.4" textLength="8.9" lengthAdjust="spacingAndGlyphs">SGP</text>
<text class="l" x="559.8" y="316.9" font-size="5.4" textLength="8.9" lengthAdjust="spacingAndGlyphs">PHL</text>
<text class="l" x="542.1" y="325.1" font-size="5.4" textLength="8.9" lengthAdjust="spacingAndGlyphs">CHL</text>
<text class="l" x="576.7" y="329.7" font-size="5.4" textLength="8.9" lengthAdjust="spacingAndGlyphs">COL</text>
<text class="l" x="596.6" y="335.2" font-size="5.4" textLength="8.9" lengthAdjust="spacingAndGlyphs">MEX</text>
<text class="l" x="556.8" y="337.6" font-size="6.2" textLength="10.2" lengthAdjust="spacingAndGlyphs">CAN</text>
<text class="l" x="573.3" y="345.9" font-size="5.4" textLength="8.9" lengthAdjust="spacingAndGlyphs">DOM</text>
<text class="l" x="593.2" y="349" font-size="5.4" textLength="8.9" lengthAdjust="spacingAndGlyphs">CRI</text>
<clipPath id="hi"><path d="M4.6 455.1L8.3 434.3L15.3 416.3L25.4 401.6L43.8 388.4L65.2 380.8L90.9 378.6L116.3 382.6L135.6 395.5L149.4 410.8L160.4 432.8L160.7 475.6L156.7 497.1L147.5 514.2L131.6 527.1L108 539.9L85.7 542.4L60.6 539.3L43.2 530.7L24.5 519.4L4.9 478.4Z"/></clipPath>
<g clip-path="url(#hi)" fill-opacity="0.020">
<circle cx="65.2" cy="380.8" r="22" fill="#8DC52E"/>
<circle cx="90.9" cy="378.6" r="22" fill="#8DC52E"/>
<circle cx="43.8" cy="388.4" r="22" fill="#8DC52E"/>
<circle cx="79" cy="395.5" r="22" fill="#8DC52E"/>
<circle cx="99.5" cy="393.3" r="22" fill="#8DC52E"/>
<circle cx="25.4" cy="401.6" r="22" fill="#8DC52E"/>
<circle cx="60.6" cy="402.5" r="22" fill="#8DC52E"/>
<circle cx="44.7" cy="411.4" r="22" fill="#8DC52E"/>
<circle cx="86.6" cy="415.3" r="22" fill="#8DC52E"/>
<circle cx="105" cy="412.3" r="22" fill="#8DC52E"/>
<circle cx="15.3" cy="416.3" r="22" fill="#8DC52E"/>
<circle cx="62.4" cy="419.9" r="22" fill="#8DC52E"/>
<circle cx="27.5" cy="428.2" r="22" fill="#8DC52E"/>
<circle cx="45.3" cy="429.7" r="22" fill="#8DC52E"/>
<circle cx="79.3" cy="432.2" r="22" fill="#8DC52E"/>
<circle cx="99.2" cy="433.1" r="22" fill="#8DC52E"/>
<circle cx="61.5" cy="437.7" r="22" fill="#8DC52E"/>
<circle cx="75.3" cy="452.7" r="22" fill="#8DC52E"/>
<circle cx="91.2" cy="449.9" r="22" fill="#8DC52E"/>
<circle cx="107.4" cy="454.2" r="22" fill="#8DC52E"/>
<circle cx="61.2" cy="458.8" r="22" fill="#8DC52E"/>
<circle cx="87.8" cy="468.6" r="22" fill="#8DC52E"/>
<circle cx="67" cy="475" r="22" fill="#8DC52E"/>
<circle cx="75.3" cy="488.2" r="22" fill="#8DC52E"/>
<circle cx="8.3" cy="434.3" r="22" fill="#46916A"/>
<circle cx="43.8" cy="446.9" r="22" fill="#46916A"/>
<circle cx="23.6" cy="451.2" r="22" fill="#46916A"/>
<circle cx="4.6" cy="455.1" r="22" fill="#46916A"/>
<circle cx="41.3" cy="463.4" r="22" fill="#46916A"/>
<circle cx="20.8" cy="471" r="22" fill="#46916A"/>
<circle cx="4.9" cy="478.4" r="22" fill="#46916A"/>
<circle cx="45.6" cy="481.8" r="22" fill="#46916A"/>
<circle cx="30.6" cy="490.9" r="22" fill="#46916A"/>
<circle cx="55.1" cy="496.5" r="22" fill="#46916A"/>
<circle cx="15.3" cy="498" r="22" fill="#46916A"/>
<circle cx="116.3" cy="382.6" r="22" fill="#F26A30"/>
<circle cx="135.6" cy="395.5" r="22" fill="#F26A30"/>
<circle cx="119.7" cy="401" r="22" fill="#F26A30"/>
<circle cx="149.4" cy="410.8" r="22" fill="#F26A30"/>
<circle cx="134.7" cy="415.3" r="22" fill="#F26A30"/>
<circle cx="114.8" cy="427.6" r="22" fill="#F26A30"/>
<circle cx="140.2" cy="433.1" r="22" fill="#F26A30"/>
<circle cx="160.4" cy="432.8" r="22" fill="#F26A30"/>
<circle cx="123.6" cy="443.5" r="22" fill="#F26A30"/>
<circle cx="144.8" cy="454.5" r="22" fill="#D17DEA"/>
<circle cx="159.8" cy="457" r="22" fill="#D17DEA"/>
<circle cx="127.9" cy="464.9" r="22" fill="#D17DEA"/>
<circle cx="113.9" cy="474.4" r="22" fill="#D17DEA"/>
<circle cx="143.8" cy="476.6" r="22" fill="#D17DEA"/>
<circle cx="160.7" cy="475.6" r="22" fill="#D17DEA"/>
<circle cx="96.1" cy="482.1" r="22" fill="#D17DEA"/>
<circle cx="125.5" cy="488.2" r="22" fill="#D17DEA"/>
<circle cx="142.3" cy="494" r="22" fill="#D17DEA"/>
<circle cx="156.7" cy="497.1" r="22" fill="#D17DEA"/>
<circle cx="109.3" cy="497.1" r="22" fill="#D17DEA"/>
<circle cx="94.3" cy="504.1" r="22" fill="#D17DEA"/>
<circle cx="129.2" cy="505" r="22" fill="#D17DEA"/>
<circle cx="147.5" cy="514.2" r="22" fill="#D17DEA"/>
<circle cx="113.2" cy="519.4" r="22" fill="#D17DEA"/>
<circle cx="131.6" cy="527.1" r="22" fill="#D17DEA"/>
<circle cx="35.8" cy="507.8" r="22" fill="#5CC8E2"/>
<circle cx="71.6" cy="506.2" r="22" fill="#5CC8E2"/>
<circle cx="50.5" cy="515.1" r="22" fill="#5CC8E2"/>
<circle cx="24.5" cy="519.4" r="22" fill="#5CC8E2"/>
<circle cx="95.5" cy="522.5" r="22" fill="#5CC8E2"/>
<circle cx="69.2" cy="524.6" r="22" fill="#5CC8E2"/>
<circle cx="43.2" cy="530.7" r="22" fill="#5CC8E2"/>
<circle cx="60.6" cy="539.3" r="22" fill="#5CC8E2"/>
<circle cx="85.7" cy="542.4" r="22" fill="#5CC8E2"/>
<circle cx="108" cy="539.9" r="22" fill="#5CC8E2"/>
</g>
<g fill="none" stroke-width="0.45" stroke-opacity="0.13" stroke-linejoin="bevel">
<path stroke="#8DC52E" d="M91 450L157 497L28 428L124 444L87 415L88 469L61 402L91 379L28 428L125 488L62 438L145 455L75 453L86 542L75 453L94 504L99 393L136 395L25 402L75 488L107 454L149 411L45 430L99 393L65 381L15 498L107 454L94 504L75 488L69 525L61 459L21 471L91 379L61 402L62 438L15 416L75 488L140 433L62 438L15 416L61 402L43 531L28 428L65 381L88 469L31 491L61 459L62 420L79 432L61 402L28 428L113 519L44 388L160 457L88 469L94 504L91 379L61 459L91 379L160 433L79 432L128 465L62 438L41 463L45 411L145 455L45 430L88 469L65 381L88 469L61 459L62 438L45 430L142 494L61 402L5 478L99 393L67 475L75 453L145 455L99 433L24 451L65 381L120 401L45 430L91 379L61 402L79 432L61 402L149 411L87 415L91 379L88 469L96 482L91 379L28 428L99 433L105 412L79 432L157 497L67 475L124 444L99 393L44 447L45 411L15 498L91 379L45 430L67 475"/>
<path stroke="#8DC52E" d="M67 475L99 393L45 411L45 430L61 402L107 454L79 432L148 514L107 454L75 488L105 412L28 428L25 402L24 519L45 430L157 497L79 395L105 412L75 488L91 450L67 475L91 450L65 381L95 522L91 379L140 433L45 411L65 381L88 469L114 474L65 381L79 395L99 433L95 522L99 393L109 497L45 430L91 450L107 454L45 411L67 475L144 477L62 438L99 433L44 388L96 482L61 402L67 475L61 459L45 430L44 388L120 401L107 454L15 498L67 475L45 430L28 428L88 469L15 416L120 401L79 395L36 508L87 415L114 474L45 430L95 522L28 428L95 522L79 432L160 433L91 450L136 395L99 393L8 434L62 420L55 496L61 402L113 519L87 415L62 438L61 402L128 465L25 402L67 475L65 381L132 527L67 475L61 539L105 412L157 497L62 438L50 515L61 459L91 379L79 432L50 515L45 411L69 525L87 415L95 522L99 433L55 496L61 402L120 401L91 450L148 514L67 475L21 471L25 402"/>
<path stroke="#8DC52E" d="M25 402L8 434L67 475L15 416L105 412L86 542L88 469L142 494L61 459L69 525L99 393L86 542L99 393L160 457L25 402L149 411L15 416L15 498L61 402L113 519L45 411L15 416L62 420L62 438L75 453L15 498L61 459L44 447L105 412L62 438L45 430L44 447L25 402L15 498L75 488L44 388L107 454L15 416L105 412L5 478L65 381L15 416L28 428L160 457L61 402L125 488L75 488L132 527L87 415L15 416L87 415L125 488L67 475L135 415L99 433L145 455L67 475L43 531L88 469L125 488L44 388L8 434L99 393L28 428L79 395L160 457L75 488L94 504L79 395L55 496L65 381L115 428L62 420L129 505L88 469L72 506L67 475L132 527L75 488L28 428L62 420L44 388L61 402L142 494L79 395L87 415L61 402L44 388L105 412L145 455L15 416L88 469L91 379L15 498L67 475L61 402L67 475L125 488L107 454L31 491L91 379L95 522L62 420L142 494L75 488L115 428L79 432L114 474L79 395"/>
<path stroke="#8DC52E" d="M79 395L61 539L75 453L108 540L25 402L135 415L62 420L108 540L79 432L91 379L61 459L75 488L44 388L108 540L75 488L107 454L67 475L148 514L61 459L24 451L75 488L116 383L91 379L107 454L28 428L79 395L88 469L95 522L28 428L8 434L62 420L5 478L45 411L65 381L62 420L140 433L87 415L15 498L75 453L15 416L91 379L125 488L61 459L28 428L45 411L129 505L45 411L69 525L15 416L44 447L61 459L62 438L79 395L115 428L99 393L25 402L88 469L109 497L88 469L144 477L88 469L105 412L107 454L25 402L15 416L75 453L91 450L31 491L79 395L161 476L79 432L75 488L87 415L69 525L75 453L144 477L15 416L135 415L75 488L24 519L75 488L160 433L65 381L79 395L91 450L129 505L61 459L61 402L44 388L79 432L67 475L62 438L15 416L148 514L105 412L8 434L44 388L125 488L15 416L50 515L99 393L116 383L25 402L113 519L91 450L135 415L91 379L88 469L79 432"/>
<path stroke="#46916A" d="M5 455L157 497L21 471L45 430L44 447L157 497L31 491L95 522L24 451L91 379L24 451L148 514L24 451L105 412L46 482L86 542L15 498L145 455L31 491L149 411L24 451L44 447L46 482L99 433L15 498L160 457L8 434L36 508L5 455L15 416L31 491L128 465L31 491L75 488L41 463L135 415L31 491L96 482L31 491L135 415L15 498L61 539L24 451L15 416L5 455L46 482L44 447L145 455L21 471L109 497"/>
<path stroke="#46916A" d="M109 497L55 496L28 428L15 498L79 395L8 434L114 474L21 471L44 447L5 455L116 383L24 451L25 402L21 471L46 482L5 478L124 444L46 482L135 415L55 496L72 506L31 491L36 508L15 498L5 478L31 491L124 444L21 471L5 478L24 451L5 455L46 482L96 482L24 451L99 433L8 434L15 416L55 496L86 542L15 498L161 476L24 451L128 465L21 471L95 522L5 478L41 463L8 434L142 494L8 434"/>
<path stroke="#46916A" d="M8 434L116 383L44 447L75 453L31 491L79 395L46 482L99 433L15 498L94 504L44 447L115 428L24 451L61 539L41 463L91 450L31 491L161 476L8 434L24 519L31 491L116 383L41 463L157 497L46 482L120 401L15 498L140 433L15 498L8 434L44 447L91 379L8 434L160 433L24 451L62 420L44 447L45 411L41 463L107 454L44 447L61 402L21 471L161 476L15 498L75 453L24 451L142 494L15 498L62 420"/>
<path stroke="#46916A" d="M62 420L55 496L46 482L21 471L55 496L24 451L36 508L55 496L62 420L5 455L67 475L21 471L132 527L5 478L69 525L21 471L91 379L5 455L148 514L5 455L145 455L8 434L95 522L46 482L67 475L46 482L113 519L46 482L65 381L24 451L5 455L44 447L109 497L5 455L91 379L21 471L69 525L24 451L69 525L24 451L115 428L44 447L160 457L46 482L44 388L21 471L149 411L24 451L120 401L5 455"/>
<path stroke="#46916A" d="M5 455L67 475L31 491"/>
<path stroke="#F26A30" d="M136 395L120 401L135 415L24 451L124 444L105 412L115 428L124 444L136 395L140 433L149 411L86 542L120 401L140 433L124 444L46 482L140 433L24 451L115 428L5 478L136 395L115 428L120 401L132 527L149 411L75 488L136 395L149 411L160 433L79 395L124 444L72 506L136 395L129 505L149 411L128 465L124 444L128 465L140 433L21 471L124 444"/>
<path stroke="#F26A30" d="M124 444L41 463L124 444L79 395L120 401L95 522L160 433L50 515L149 411L50 515L140 433L91 450L136 395L69 525L115 428L36 508L115 428L96 482L116 383L24 519L115 428L55 496L160 433L67 475L136 395L128 465L160 433L25 402L149 411L125 488L136 395L124 444L135 415L149 411L120 401L107 454L120 401L72 506L160 433L144 477L149 411"/>
<path stroke="#F26A30" d="M149 411L86 542L135 415L149 411L115 428L61 402L115 428L43 531L140 433L15 498L124 444L86 542L136 395L129 505L140 433L44 388L140 433L160 433L140 433L8 434L140 433L124 444L160 433L88 469L116 383L132 527L120 401L115 428L135 415L124 444L140 433L61 402L136 395L72 506L116 383L91 379L160 433L99 433L120 401L24 451L115 428"/>
<path stroke="#F26A30" d="M115 428L44 447L115 428L61 459L120 401L160 433L136 395L115 428L160 433L24 451L160 433L140 433L120 401L8 434L116 383L41 463L135 415L21 471L135 415L96 482L115 428L61 459L124 444L108 540L124 444L108 540L115 428L120 401L115 428L5 455L115 428L116 383L135 415L157 497L140 433L67 475L116 383L62 438L120 401L115 428L135 415"/>
<path stroke="#F26A30" d="M135 415L46 482L149 411"/>
<path stroke="#D17DEA" d="M145 455L46 482L148 514L86 542L157 497L88 469L161 476L43 531L160 457L75 453L94 504L15 416L128 465L69 525L157 497L149 411L145 455L8 434L129 505L136 395L113 519L75 453L148 514L46 482L109 497L15 416L113 519L61 402L144 477L107 454L114 474L144 477L132 527L15 416L161 476L160 433L114 474L45 430L109 497L142 494L128 465L91 450L114 474L94 504L157 497L160 433L125 488L99 393L113 519L160 457L109 497L61 402L96 482L161 476L125 488L99 433L132 527L109 497L144 477L5 455L157 497L5 478L145 455L105 412L157 497L115 428L128 465L107 454L161 476L120 401L160 457L129 505L145 455"/>
<path stroke="#D17DEA" d="M145 455L79 395L157 497L116 383L129 505L62 438L157 497L75 453L125 488L15 416L148 514L67 475L94 504L99 433L96 482L136 395L144 477L67 475L142 494L25 402L109 497L96 482L125 488L21 471L125 488L135 415L114 474L96 482L132 527L87 415L114 474L157 497L148 514L24 451L132 527L99 393L144 477L149 411L96 482L136 395L160 457L8 434L160 457L91 379L157 497L62 438L113 519L5 455L145 455L91 379L157 497L24 519L129 505L95 522L148 514L87 415L96 482L75 453L128 465L160 457L94 504L79 432L125 488L160 433L113 519L79 432L114 474L99 393L125 488L95 522L144 477L50 515L144 477"/>
<path stroke="#D17DEA" d="M144 477L116 383L161 476L31 491L114 474L128 465L160 457L95 522L132 527L31 491L129 505L44 388L144 477L5 455L132 527L145 455L129 505L145 455L157 497L160 457L161 476L116 383L161 476L36 508L129 505L43 531L145 455L62 438L109 497L149 411L160 457L114 474L145 455L79 432L157 497L86 542L96 482L91 379L142 494L45 430L129 505L75 453L96 482L45 430L113 519L125 488L129 505L95 522L157 497L86 542L125 488L99 393L128 465L132 527L160 457L46 482L148 514L75 453L109 497L115 428L160 457L41 463L161 476L116 383L148 514L61 459L157 497L25 402L114 474L25 402L142 494L61 539L128 465"/>
<path stroke="#D17DEA" d="M128 465L45 430L142 494L15 416L109 497L86 542L109 497L62 438L144 477L24 519L144 477L50 515L144 477L62 438L142 494L95 522L96 482L44 388L128 465L15 416L132 527L45 430L113 519L46 482L132 527L91 379L161 476L45 430L125 488L55 496L125 488L148 514L145 455L61 539L125 488L75 453L145 455L120 401L114 474L161 476L109 497L91 379L109 497L28 428L129 505L91 450L160 457L24 519L129 505L21 471L145 455L96 482L94 504L140 433L128 465L115 428L128 465L149 411L125 488L24 519L109 497L142 494L144 477L8 434L132 527L45 411L132 527L107 454L114 474L15 416L113 519L24 519L128 465"/>
<path stroke="#5CC8E2" d="M43 531L120 401L69 525L116 383L69 525L72 506L50 515L105 412L86 542L46 482L95 522L5 455L36 508L87 415L43 531L25 402L43 531L120 401L24 519L87 415L69 525L8 434L43 531L144 477L50 515L24 519L61 539L136 395L86 542L99 433L36 508L44 447L43 531L24 519L50 515L128 465L36 508L67 475L36 508L15 416L108 540L43 531L24 519L88 469L72 506L99 433"/>
<path stroke="#5CC8E2" d="M99 433L61 539L142 494L24 519L145 455L72 506L148 514L72 506L108 540L69 525L125 488L72 506L62 438L95 522L99 433L36 508L144 477L50 515L61 459L36 508L15 498L108 540L114 474L50 515L136 395L108 540L86 542L61 539L135 415L61 539L113 519L36 508L113 519L36 508L105 412L50 515L160 457L95 522L45 411L50 515L91 450L86 542L160 457L50 515L79 432L24 519"/>
<path stroke="#5CC8E2" d="M24 519L15 416L86 542L15 416L50 515L87 415L50 515L99 393L72 506L5 478L69 525L75 453L95 522L160 433L43 531L115 428L72 506L55 496L43 531L95 522L43 531L15 498L72 506L114 474L95 522L61 539L43 531L67 475L69 525L124 444L86 542L62 438L72 506L95 522L43 531L46 482L50 515L8 434L50 515L79 432L24 519L25 402L36 508L8 434L50 515L94 504"/>
<path stroke="#5CC8E2" d="M94 504L69 525L116 383L86 542L45 411L69 525L43 531L50 515L140 433L24 519L69 525L50 515L45 411L72 506L62 438L61 539L45 430L72 506L108 540L61 539L140 433L61 539L61 459L43 531L15 416L61 539L44 447L61 539L145 455L95 522L157 497L43 531L149 411L69 525L108 540L61 539L99 433L24 519L124 444L61 539L31 491L50 515L88 469L50 515L99 433L43 531"/>
</g>
<path stroke="#5CC8E2" stroke-width="1.8" stroke-opacity="0.7" d="M95.5 522.5L76.9 509.8"/>
<path fill="#5CC8E2" fill-opacity="0.9" d="M76.9 509.8L84.1 510.9L80.5 516.1Z"/>
<path stroke="#D17DEA" stroke-width="0.8" stroke-opacity="0.7" d="M113.9 474.4L76.7 502.4"/>
<path fill="#D17DEA" fill-opacity="0.9" d="M76.7 502.4L78.7 498.4L81.1 501.6Z"/>
<path stroke="#5CC8E2" stroke-width="0.6" stroke-opacity="0.7" d="M71.6 506.2L108.7 478.3"/>
<path fill="#5CC8E2" fill-opacity="0.9" d="M108.7 478.3L107 481.7L104.9 479Z"/>
<path stroke="#5CC8E2" stroke-width="0.5" stroke-opacity="0.7" d="M95.5 522.5L111.6 480.4"/>
<path fill="#5CC8E2" fill-opacity="0.9" d="M111.6 480.4L111.9 484L108.9 482.9Z"/>
<path stroke="#5CC8E2" stroke-width="0.4" stroke-opacity="0.7" d="M95.5 522.5L121.8 448.7"/>
<path fill="#5CC8E2" fill-opacity="0.9" d="M121.8 448.7L122.2 452L119.4 451Z"/>
<path stroke="#5CC8E2" stroke-width="0.4" stroke-opacity="0.7" d="M24.5 519.4L135.8 436.4"/>
<path fill="#5CC8E2" fill-opacity="0.9" d="M135.8 436.4L134.2 439.4L132.5 437Z"/>
<g stroke="#505050" stroke-width="0.35">
<circle cx="65.2" cy="380.8" r="4.5" fill="#8DC52E"/>
<circle cx="90.9" cy="378.6" r="4.5" fill="#8DC52E"/>
<circle cx="43.8" cy="388.4" r="4.8" fill="#8DC52E"/>
<circle cx="79" cy="395.5" r="4.8" fill="#8DC52E"/>
<circle cx="99.5" cy="393.3" r="4.8" fill="#8DC52E"/>
<circle cx="25.4" cy="401.6" r="4.5" fill="#8DC52E"/>
<circle cx="60.6" cy="402.5" r="4.5" fill="#8DC52E"/>
<circle cx="44.7" cy="411.4" r="4.8" fill="#8DC52E"/>
<circle cx="86.6" cy="415.3" r="5.5" fill="#8DC52E"/>
<circle cx="105" cy="412.3" r="5.5" fill="#8DC52E"/>
<circle cx="15.3" cy="416.3" r="4.8" fill="#8DC52E"/>
<circle cx="62.4" cy="419.9" r="5.5" fill="#8DC52E"/>
<circle cx="27.5" cy="428.2" r="4.8" fill="#8DC52E"/>
<circle cx="45.3" cy="429.7" r="4.8" fill="#8DC52E"/>
<circle cx="79.3" cy="432.2" r="5.5" fill="#8DC52E"/>
<circle cx="99.2" cy="433.1" r="5.5" fill="#8DC52E"/>
<circle cx="61.5" cy="437.7" r="4.5" fill="#8DC52E"/>
<circle cx="75.3" cy="452.7" r="5.5" fill="#8DC52E"/>
<circle cx="91.2" cy="449.9" r="5.5" fill="#8DC52E"/>
<circle cx="107.4" cy="454.2" r="5.5" fill="#8DC52E"/>
<circle cx="61.2" cy="458.8" r="5.5" fill="#8DC52E"/>
<circle cx="87.8" cy="468.6" r="5.5" fill="#8DC52E"/>
<circle cx="67" cy="475" r="5.5" fill="#8DC52E"/>
<circle cx="75.3" cy="488.2" r="5.5" fill="#8DC52E"/>
<circle cx="8.3" cy="434.3" r="4.8" fill="#46916A"/>
<circle cx="43.8" cy="446.9" r="5.5" fill="#46916A"/>
<circle cx="23.6" cy="451.2" r="4.5" fill="#46916A"/>
<circle cx="4.6" cy="455.1" r="4.8" fill="#46916A"/>
<circle cx="41.3" cy="463.4" r="5.5" fill="#46916A"/>
<circle cx="20.8" cy="471" r="4.5" fill="#46916A"/>
<circle cx="4.9" cy="478.4" r="4.8" fill="#46916A"/>
<circle cx="45.6" cy="481.8" r="5.5" fill="#46916A"/>
<circle cx="30.6" cy="490.9" r="5.5" fill="#46916A"/>
<circle cx="55.1" cy="496.5" r="4.8" fill="#46916A"/>
<circle cx="15.3" cy="498" r="4.8" fill="#46916A"/>
<circle cx="116.3" cy="382.6" r="4.8" fill="#F26A30"/>
<circle cx="135.6" cy="395.5" r="4.8" fill="#F26A30"/>
<circle cx="119.7" cy="401" r="4.8" fill="#F26A30"/>
<circle cx="149.4" cy="410.8" r="4.8" fill="#F26A30"/>
<circle cx="134.7" cy="415.3" r="4.8" fill="#F26A30"/>
<circle cx="114.8" cy="427.6" r="5.5" fill="#F26A30"/>
<circle cx="140.2" cy="433.1" r="5.5" fill="#F26A30"/>
<circle cx="160.4" cy="432.8" r="4.8" fill="#F26A30"/>
<circle cx="123.6" cy="443.5" r="5.5" fill="#F26A30"/>
<circle cx="144.8" cy="454.5" r="5.5" fill="#D17DEA"/>
<circle cx="159.8" cy="457" r="4.8" fill="#D17DEA"/>
<circle cx="127.9" cy="464.9" r="5.5" fill="#D17DEA"/>
<circle cx="113.9" cy="474.4" r="6.4" fill="#D17DEA"/>
<circle cx="143.8" cy="476.6" r="5.5" fill="#D17DEA"/>
<circle cx="160.7" cy="475.6" r="4.5" fill="#D17DEA"/>
<circle cx="96.1" cy="482.1" r="5.5" fill="#D17DEA"/>
<circle cx="125.5" cy="488.2" r="5.5" fill="#D17DEA"/>
<circle cx="142.3" cy="494" r="5.5" fill="#D17DEA"/>
<circle cx="156.7" cy="497.1" r="4.8" fill="#D17DEA"/>
<circle cx="109.3" cy="497.1" r="4.8" fill="#D17DEA"/>
<circle cx="94.3" cy="504.1" r="5.5" fill="#D17DEA"/>
<circle cx="129.2" cy="505" r="4.8" fill="#D17DEA"/>
<circle cx="147.5" cy="514.2" r="4.8" fill="#D17DEA"/>
<circle cx="113.2" cy="519.4" r="4.8" fill="#D17DEA"/>
<circle cx="131.6" cy="527.1" r="4.8" fill="#D17DEA"/>
<circle cx="35.8" cy="507.8" r="4.8" fill="#5CC8E2"/>
<circle cx="71.6" cy="506.2" r="6.4" fill="#5CC8E2"/>
<circle cx="50.5" cy="515.1" r="4.5" fill="#5CC8E2"/>
<circle cx="24.5" cy="519.4" r="4.5" fill="#5CC8E2"/>
<circle cx="95.5" cy="522.5" r="5.5" fill="#5CC8E2"/>
<circle cx="69.2" cy="524.6" r="5.5" fill="#5CC8E2"/>
<circle cx="43.2" cy="530.7" r="4.8" fill="#5CC8E2"/>
<circle cx="60.6" cy="539.3" r="4.8" fill="#5CC8E2"/>
<circle cx="85.7" cy="542.4" r="4.5" fill="#5CC8E2"/>
<circle cx="108" cy="539.9" r="4.8" fill="#5CC8E2"/>
</g>
<text class="l" x="65.2" y="382" font-size="5" textLength="8.2" lengthAdjust="spacingAndGlyphs">BIH</text>
<text class="l" x="90.9" y="379.8" font-size="5" textLength="8.2" lengthAdjust="spacingAndGlyphs">LUX</text>
<text class="l" x="43.8" y="389.7" font-size="5.4" textLength="8.9" lengthAdjust="spacingAndGlyphs">MAR</text>
<text class="l" x="79" y="396.8" font-size="5.4" textLength="8.9" lengthAdjust="spacingAndGlyphs">ROU</text>
<text class="l" x="99.5" y="394.6" font-size="5.4" textLength="8.9" lengthAdjust="spacingAndGlyphs">SVK</text>
<text class="l" x="25.4" y="402.8" font-size="5" textLength="8.2" lengthAdjust="spacingAndGlyphs">SRB</text>
<text class="l" x="60.6" y="403.7" font-size="5" textLength="8.2" lengthAdjust="spacingAndGlyphs">GRC</text>
<text class="l" x="44.7" y="412.7" font-size="5.4" textLength="8.9" lengthAdjust="spacingAndGlyphs">HUN</text>
<text class="l" x="86.6" y="416.8" font-size="6.2" textLength="10.2" lengthAdjust="spacingAndGlyphs">FRA</text>
<text class="l" x="105" y="413.8" font-size="6.2" textLength="10.2" lengthAdjust="spacingAndGlyphs">POL</text>
<text class="l" x="15.3" y="417.6" font-size="5.4" textLength="8.9" lengthAdjust="spacingAndGlyphs">HRV</text>
<text class="l" x="62.4" y="421.4" font-size="6.2" textLength="10.2" lengthAdjust="spacingAndGlyphs">CZE</text>
<text class="l" x="27.5" y="429.5" font-size="5.4" textLength="8.9" lengthAdjust="spacingAndGlyphs">UKR</text>
<text class="l" x="45.3" y="431" font-size="5.4" textLength="8.9" lengthAdjust="spacingAndGlyphs">SVN</text>
<text class="l" x="79.3" y="433.7" font-size="6.2" textLength="10.2" lengthAdjust="spacingAndGlyphs">AUT</text>
<text class="l" x="99.2" y="434.6" font-size="6.2" textLength="10.2" lengthAdjust="spacingAndGlyphs">NLD</text>
<text class="l" x="61.5" y="438.9" font-size="5" textLength="8.2" lengthAdjust="spacingAndGlyphs">ROM</text>
<text class="l" x="75.3" y="454.2" font-size="6.2">ITA</text>
<text class="l" x="91.2" y="451.4" font-size="6.2" textLength="10.2" lengthAdjust="spacingAndGlyphs">CHE</text>
<text class="l" x="107.4" y="455.7" font-size="6.2" textLength="10.2" lengthAdjust="spacingAndGlyphs">PRT</text>
<text class="l" x="61.2" y="460.3" font-size="6.2" textLength="10.2" lengthAdjust="spacingAndGlyphs">BEL</text>
<text class="l" x="87.8" y="470.1" font-size="6.2" textLength="10.2" lengthAdjust="spacingAndGlyphs">DEU</text>
<text class="l" x="67" y="476.5" font-size="6.2" textLength="10.2" lengthAdjust="spacingAndGlyphs">TUR</text>
<text class="l" x="75.3" y="489.7" font-size="6.2" textLength="10.2" lengthAdjust="spacingAndGlyphs">ESP</text>
<text class="l" x="8.3" y="435.6" font-size="5.4" textLength="8.9" lengthAdjust="spacingAndGlyphs">EGY</text>
<text class="l" x="43.8" y="448.4" font-size="6.2" textLength="10.2" lengthAdjust="spacingAndGlyphs">DNK</text>
<text class="l" x="23.6" y="452.4" font-size="5" textLength="8.2" lengthAdjust="spacingAndGlyphs">EST</text>
<text class="l" x="4.6" y="456.4" font-size="5.4" textLength="8.9" lengthAdjust="spacingAndGlyphs">LVA</text>
<text class="l" x="41.3" y="464.9" font-size="6.2" textLength="10.2" lengthAdjust="spacingAndGlyphs">SWE</text>
<text class="l" x="20.8" y="472.3" font-size="5" textLength="8.2" lengthAdjust="spacingAndGlyphs">LTU</text>
<text class="l" x="4.9" y="479.7" font-size="5.4" textLength="8.9" lengthAdjust="spacingAndGlyphs">ISR</text>
<text class="l" x="45.6" y="483.2" font-size="6.2" textLength="10.2" lengthAdjust="spacingAndGlyphs">GBR</text>
<text class="l" x="30.6" y="492.4" font-size="6.2">FIN</text>
<text class="l" x="55.1" y="497.7" font-size="5.4" textLength="8.9" lengthAdjust="spacingAndGlyphs">NOR</text>
<text class="l" x="15.3" y="499.3" font-size="5.4">IRL</text>
<text class="l" x="116.3" y="383.9" font-size="5.4" textLength="8.9" lengthAdjust="spacingAndGlyphs">AUS</text>
<text class="l" x="135.6" y="396.8" font-size="5.4" textLength="8.9" lengthAdjust="spacingAndGlyphs">SGP</text>
<text class="l" x="119.7" y="402.3" font-size="5.4" textLength="8.9" lengthAdjust="spacingAndGlyphs">KOR</text>
<text class="l" x="149.4" y="412.1" font-size="5.4" textLength="8.9" lengthAdjust="spacingAndGlyphs">LBN</text>
<text class="l" x="134.7" y="416.6" font-size="5.4" textLength="8.9" lengthAdjust="spacingAndGlyphs">ZAF</text>
<text class="l" x="114.8" y="429.1" font-size="6.2" textLength="10.2" lengthAdjust="spacingAndGlyphs">IDN</text>
<text class="l" x="140.2" y="434.6" font-size="6.2" textLength="10.2" lengthAdjust="spacingAndGlyphs">JPN</text>
<text class="l" x="160.4" y="434.1" font-size="5.4" textLength="8.9" lengthAdjust="spacingAndGlyphs">LKA</text>
<text class="l" x="123.6" y="445" font-size="6.2" textLength="10.2" lengthAdjust="spacingAndGlyphs">MYS</text>
<text class="l" x="144.8" y="456" font-size="6.2" textLength="10.2" lengthAdjust="spacingAndGlyphs">ARE</text>
<text class="l" x="159.8" y="458.3" font-size="5.4" textLength="8.9" lengthAdjust="spacingAndGlyphs">CMR</text>
<text class="l" x="127.9" y="466.4" font-size="6.2" textLength="10.2" lengthAdjust="spacingAndGlyphs">THA</text>
<text class="l" x="113.9" y="476.1" font-size="7.2" textLength="11.8" lengthAdjust="spacingAndGlyphs">CHN</text>
<text class="l" x="143.8" y="478" font-size="6.2" textLength="10.2" lengthAdjust="spacingAndGlyphs">VNM</text>
<text class="l" x="160.7" y="476.8" font-size="5" textLength="8.2" lengthAdjust="spacingAndGlyphs">MLT</text>
<text class="l" x="96.1" y="483.6" font-size="6.2" textLength="10.2" lengthAdjust="spacingAndGlyphs">HKG</text>
<text class="l" x="125.5" y="489.7" font-size="6.2" textLength="10.2" lengthAdjust="spacingAndGlyphs">PHL</text>
<text class="l" x="142.3" y="495.5" font-size="6.2" textLength="10.2" lengthAdjust="spacingAndGlyphs">RUS</text>
<text class="l" x="156.7" y="498.4" font-size="5.4" textLength="8.9" lengthAdjust="spacingAndGlyphs">GHA</text>
<text class="l" x="109.3" y="498.4" font-size="5.4" textLength="8.9" lengthAdjust="spacingAndGlyphs">KEN</text>
<text class="l" x="94.3" y="505.6" font-size="6.2" textLength="10.2" lengthAdjust="spacingAndGlyphs">IND</text>
<text class="l" x="129.2" y="506.3" font-size="5.4" textLength="8.9" lengthAdjust="spacingAndGlyphs">NZL</text>
<text class="l" x="147.5" y="515.5" font-size="5.4" textLength="8.9" lengthAdjust="spacingAndGlyphs">PAK</text>
<text class="l" x="113.2" y="520.7" font-size="5.4" textLength="8.9" lengthAdjust="spacingAndGlyphs">CIV</text>
<text class="l" x="131.6" y="528.4" font-size="5.4" textLength="8.9" lengthAdjust="spacingAndGlyphs">TZA</text>
<text class="l" x="35.8" y="509.1" font-size="5.4" textLength="8.9" lengthAdjust="spacingAndGlyphs">MEX</text>
<text class="l" x="71.6" y="508" font-size="7.2" textLength="11.8" lengthAdjust="spacingAndGlyphs">USA</text>
<text class="l" x="50.5" y="516.3" font-size="5" textLength="8.2" lengthAdjust="spacingAndGlyphs">HCU</text>
<text class="l" x="24.5" y="520.6" font-size="5" textLength="8.2" lengthAdjust="spacingAndGlyphs">COL</text>
<text class="l" x="95.5" y="524" font-size="6.2" textLength="10.2" lengthAdjust="spacingAndGlyphs">CAN</text>
<text class="l" x="69.2" y="526.1" font-size="6.2" textLength="10.2" lengthAdjust="spacingAndGlyphs">BRA</text>
<text class="l" x="43.2" y="532" font-size="5.4" textLength="8.9" lengthAdjust="spacingAndGlyphs">CHL</text>
<text class="l" x="60.6" y="540.6" font-size="5.4" textLength="8.9" lengthAdjust="spacingAndGlyphs">ARG</text>
<text class="l" x="85.7" y="543.6" font-size="5" textLength="8.2" lengthAdjust="spacingAndGlyphs">DOM</text>
<text class="l" x="108" y="541.2" font-size="5.4" textLength="8.9" lengthAdjust="spacingAndGlyphs">PER</text>
<clipPath id="hj"><path d="M175.4 468L175.7 449L180 432.8L187.9 416L212.7 386.9L235.4 380.8L256.8 380.2L277.3 382.3L301.8 396.1L317.1 411.7L323.5 429.1L330.2 449.9L329.9 469.8L325.6 488.8L318.9 504.1L309.1 522.5L294.7 534.7L275.1 538.7L260.8 541.4L224.9 539.3L205.1 526.8L191.6 507.8L180.3 488.8Z"/></clipPath>
<g clip-path="url(#hj)" fill-opacity="0.015">
<circle cx="212.7" cy="386.9" r="22" fill="#D17DEA"/>
<circle cx="235.4" cy="380.8" r="22" fill="#D17DEA"/>
<circle cx="256.8" cy="380.2" r="22" fill="#D17DEA"/>
<circle cx="277.3" cy="382.3" r="22" fill="#D17DEA"/>
<circle cx="239" cy="397" r="22" fill="#D17DEA"/>
<circle cx="262.6" cy="396.4" r="22" fill="#D17DEA"/>
<circle cx="285.5" cy="400.7" r="22" fill="#D17DEA"/>
<circle cx="301.8" cy="396.1" r="22" fill="#D17DEA"/>
<circle cx="264.4" cy="416.3" r="22" fill="#D17DEA"/>
<circle cx="281.6" cy="416.3" r="22" fill="#D17DEA"/>
<circle cx="299.9" cy="419.9" r="22" fill="#D17DEA"/>
<circle cx="317.1" cy="411.7" r="22" fill="#D17DEA"/>
<circle cx="262.3" cy="432.5" r="22" fill="#D17DEA"/>
<circle cx="285.2" cy="437.7" r="22" fill="#D17DEA"/>
<circle cx="307" cy="440.4" r="22" fill="#D17DEA"/>
<circle cx="323.5" cy="429.1" r="22" fill="#D17DEA"/>
<circle cx="294.7" cy="450.5" r="22" fill="#D17DEA"/>
<circle cx="330.2" cy="449.9" r="22" fill="#D17DEA"/>
<circle cx="316.2" cy="457.3" r="22" fill="#D17DEA"/>
<circle cx="299" cy="469.8" r="22" fill="#D17DEA"/>
<circle cx="329.9" cy="469.8" r="22" fill="#D17DEA"/>
<circle cx="283.7" cy="475.9" r="22" fill="#D17DEA"/>
<circle cx="313.7" cy="481.1" r="22" fill="#D17DEA"/>
<circle cx="266.3" cy="487.3" r="22" fill="#D17DEA"/>
<circle cx="198.9" cy="403.1" r="22" fill="#5CC8E2"/>
<circle cx="221.3" cy="408.3" r="22" fill="#5CC8E2"/>
<circle cx="187.9" cy="416" r="22" fill="#5CC8E2"/>
<circle cx="246.7" cy="412.3" r="22" fill="#5CC8E2"/>
<circle cx="208.7" cy="421.5" r="22" fill="#5CC8E2"/>
<circle cx="231.1" cy="423.9" r="22" fill="#5CC8E2"/>
<circle cx="180" cy="432.8" r="22" fill="#5CC8E2"/>
<circle cx="196.5" cy="441.4" r="22" fill="#5CC8E2"/>
<circle cx="219.1" cy="437.7" r="22" fill="#5CC8E2"/>
<circle cx="243" cy="439.8" r="22" fill="#5CC8E2"/>
<circle cx="175.7" cy="449" r="22" fill="#5CC8E2"/>
<circle cx="208.1" cy="453.6" r="22" fill="#5CC8E2"/>
<circle cx="228" cy="453.6" r="22" fill="#5CC8E2"/>
<circle cx="263.5" cy="451.2" r="22" fill="#5CC8E2"/>
<circle cx="243.6" cy="460.3" r="22" fill="#5CC8E2"/>
<circle cx="278.8" cy="457.6" r="22" fill="#5CC8E2"/>
<circle cx="192.8" cy="462.5" r="22" fill="#5CC8E2"/>
<circle cx="214.5" cy="468" r="22" fill="#5CC8E2"/>
<circle cx="235.4" cy="472.9" r="22" fill="#5CC8E2"/>
<circle cx="260.1" cy="470.4" r="22" fill="#5CC8E2"/>
<circle cx="248.2" cy="489.1" r="22" fill="#5CC8E2"/>
<circle cx="175.4" cy="468" r="22" fill="#6CD830"/>
<circle cx="196.5" cy="481.1" r="22" fill="#6CD830"/>
<circle cx="221.9" cy="487.3" r="22" fill="#6CD830"/>
<circle cx="180.3" cy="488.8" r="22" fill="#6CD830"/>
<circle cx="203.8" cy="497.1" r="22" fill="#6CD830"/>
<circle cx="191.6" cy="507.8" r="22" fill="#6CD830"/>
<circle cx="231.7" cy="504.1" r="22" fill="#6CD830"/>
<circle cx="215.2" cy="513.3" r="22" fill="#6CD830"/>
<circle cx="205.1" cy="526.8" r="22" fill="#6CD830"/>
<circle cx="230.5" cy="522.2" r="22" fill="#6CD830"/>
<circle cx="224.9" cy="539.3" r="22" fill="#6CD830"/>
<circle cx="255.9" cy="505.6" r="22" fill="#46916A"/>
<circle cx="275.1" cy="501" r="22" fill="#46916A"/>
<circle cx="247" cy="525.5" r="22" fill="#46916A"/>
<circle cx="267.5" cy="522.5" r="22" fill="#46916A"/>
<circle cx="285.9" cy="522.5" r="22" fill="#46916A"/>
<circle cx="242.4" cy="539.9" r="22" fill="#46916A"/>
<circle cx="260.8" cy="541.4" r="22" fill="#46916A"/>
<circle cx="275.1" cy="538.7" r="22" fill="#46916A"/>
<circle cx="281.3" cy="489.4" r="22" fill="#E38B2C"/>
<circle cx="296" cy="506.2" r="22" fill="#E38B2C"/>
<circle cx="318.9" cy="504.1" r="22" fill="#E38B2C"/>
<circle cx="309.1" cy="522.5" r="22" fill="#E38B2C"/>
<circle cx="294.7" cy="534.7" r="22" fill="#E38B2C"/>
<circle cx="325.6" cy="488.8" r="22" fill="#EB5573"/>
</g>
<g fill="none" stroke-width="0.45" stroke-opacity="0.11" stroke-linejoin="bevel">
<path stroke="#D17DEA" d="M266 487L215 468L263 396L235 473L300 420L188 416L235 381L247 412L317 412L286 522L277 382L248 489L299 470L215 468L295 451L300 420L330 450L277 382L285 438L264 451L316 457L275 501L316 457L275 539L257 380L295 535L330 470L316 457L213 387L232 504L299 470L330 470L263 396L215 513L239 397L284 476L295 451L284 476L295 451L309 522L302 396L316 457L295 451L299 470L284 476L300 420L262 432L282 416L235 381L314 481L266 487L175 468L257 380L175 468L266 487L221 408L235 381L326 489L300 420L247 412L213 387L199 403L307 440L231 424L282 416L302 396L316 457L281 489L285 438L176 449L257 380L295 451L213 387L264 451L284 476L221 408L266 487L277 382L330 470L261 541L302 396L260 470L316 457L267 522L235 381L285 438L264 416L219 438L323 429L175 468L285 438L279 458L300 420L282 416L307 440L275 501L284 476L330 470L299 470L261 541L235 381L222 487L316 457L264 416L285 438L247 526L317 412L219 438L262 432"/>
<path stroke="#D17DEA" d="M262 432L232 504L257 380L264 416L302 396L262 432L266 487L204 497L262 432L244 460L295 451L296 506L262 432L230 522L314 481L221 408L302 396L215 468L300 420L302 396L284 476L248 489L285 438L196 481L285 438L263 396L213 387L264 451L239 397L230 522L285 438L235 473L323 429L225 539L262 432L219 438L282 416L175 468L263 396L284 476L295 451L209 421L263 396L225 539L316 457L208 454L213 387L323 429L330 450L262 432L330 450L266 487L302 396L264 451L300 420L235 473L307 440L267 522L263 396L222 487L316 457L286 401L302 396L225 539L300 420L277 382L316 457L242 540L262 432L230 522L330 450L257 380L330 470L307 440L239 397L180 433L330 450L285 438L330 450L193 462L300 420L242 540L235 381L296 506L257 380L282 416L285 438L247 412L263 396L266 487L323 429L262 432L330 450L284 476L235 381L247 412L263 396L260 470L277 382L188 416L330 450L230 522L302 396L239 397L299 470L266 487L316 457L262 432L307 440"/>
<path stroke="#D17DEA" d="M307 440L286 522L257 380L242 540L282 416L257 380L282 416L330 450L282 416L247 412L257 380L247 526L330 470L219 438L257 380L239 397L285 438L222 487L286 401L282 416L266 487L262 432L299 470L319 504L263 396L286 522L330 470L295 451L330 470L192 508L323 429L266 487L264 416L295 451L282 416L244 460L302 396L275 501L317 412L257 380L235 381L176 449L235 381L286 401L266 487L213 387L286 401L266 487L262 432L307 440L314 481L231 424L282 416L316 457L213 387L231 424L295 451L213 387L300 420L277 382L285 438L295 451L307 440L264 416L239 397L286 401L330 450L180 489L302 396L176 449L295 451L309 522L263 396L314 481L262 432L314 481L264 416L208 454L277 382L235 473L264 416L199 403L323 429L257 380L317 412L266 487L314 481L263 396L299 470L244 460L266 487L282 416L323 429L300 420L213 387L209 421L282 416L257 380L239 397L231 424L282 416L193 462L330 470L267 522L284 476L295 535L330 470L188 416L277 382"/>
<path stroke="#D17DEA" d="M277 382L192 508L263 396L316 457L266 487L199 403L300 420L219 438L330 470L204 497L282 416L193 462L295 451L295 535L330 450L300 420L285 438L281 489L299 470L230 522L285 438L263 396L314 481L188 416L323 429L266 487L299 470L180 489L266 487L242 540L239 397L247 526L235 381L263 396L282 416L300 420L299 470L261 541L257 380L314 481L235 381L257 380L314 481L260 470L316 457L275 539L266 487L260 470L264 416L196 441L302 396L192 508L330 450L243 440L285 438L295 451L263 396L231 424L277 382L222 487L282 416L205 527L314 481L300 420L307 440L244 460L266 487L248 489L286 401L264 451L286 401L277 382L286 401L284 476L213 387L209 421L264 416L205 527L264 416L317 412L299 470L284 476L317 412L295 451L323 429L180 433L277 382L295 535L330 470L264 416L307 440L243 440L282 416L279 458L285 438L257 380L330 450L267 522L213 387L285 438L263 396L319 504L239 397L267 522L264 416L323 429L307 440L204 497L282 416"/>
<path stroke="#5CC8E2" d="M221 408L285 438L221 408L263 396L231 424L215 468L208 454L232 504L196 441L275 501L199 403L215 468L208 454L222 487L244 460L264 416L176 449L231 424L215 468L215 513L215 468L275 539L244 460L275 501L209 421L180 489L279 458L205 527L228 454L225 539L228 454L281 489L209 421L213 387L208 454L180 489L209 421L256 506L248 489L330 450L188 416L235 381L215 468L326 489L260 470L215 513L264 451L299 470L209 421L204 497L176 449L266 487L264 451L317 412L260 470L188 416L219 438L257 380L279 458L260 470L215 468L319 504L260 470L180 489L247 412L231 424L221 408L215 513L247 412L219 438L180 433L225 539L221 408L242 540L208 454L309 522L180 433L286 522L244 460L286 522L188 416L209 421L247 412L282 416L208 454L192 508L188 416L299 470L215 468L242 540L247 412L199 403L219 438L231 424L235 473"/>
<path stroke="#5CC8E2" d="M235 473L247 412L231 424L286 522L264 451L286 401L219 438L257 380L193 462L319 504L247 412L243 440L244 460L307 440L209 421L196 481L247 412L231 424L221 408L232 504L215 468L267 522L193 462L286 522L243 440L239 397L180 433L264 416L199 403L247 526L231 424L261 541L208 454L295 451L235 473L266 487L196 441L326 489L199 403L319 504L228 454L257 380L264 451L180 489L264 451L209 421L244 460L263 396L247 412L277 382L209 421L295 535L264 451L242 540L196 441L264 451L208 454L239 397L209 421L309 522L188 416L180 433L260 470L277 382L231 424L176 449L279 458L192 508L209 421L248 489L219 438L326 489L231 424L196 481L243 440L244 460L221 408L295 535L248 489L326 489L228 454L260 470L279 458L188 416L235 473L188 416L209 421L204 497L244 460L299 470L196 441L248 489L260 470L242 540L264 451"/>
<path stroke="#5CC8E2" d="M264 451L286 522L215 468L188 416L279 458L330 470L231 424L326 489L231 424L193 462L243 440L225 539L219 438L180 433L221 408L307 440L248 489L299 470L209 421L326 489L231 424L326 489L221 408L247 526L215 468L213 387L209 421L232 504L235 473L219 438L209 421L279 458L180 433L264 416L221 408L286 401L244 460L231 424L193 462L264 416L221 408L193 462L243 440L314 481L215 468L180 433L247 412L196 481L176 449L281 489L199 403L281 489L215 468L263 396L193 462L175 468L193 462L175 468L231 424L196 481L248 489L286 401L244 460L286 522L219 438L213 387L231 424L232 504L243 440L199 403L221 408L175 468L243 440L295 535L209 421L295 451L219 438L299 470L209 421L239 397L243 440L175 468L248 489L275 501L248 489L314 481L219 438L295 535L208 454L261 541L180 433L247 412L221 408L242 540L188 416"/>
<path stroke="#5CC8E2" d="M188 416L213 387L221 408L192 508L247 412L263 396L219 438L239 397L260 470L285 438L196 441L222 487L196 441L199 403L235 473L188 416L247 412L243 440L235 473L296 506L228 454L277 382L279 458L263 396L208 454L264 451L209 421L230 522L209 421L244 460L219 438L262 432L209 421L213 387L209 421L284 476L279 458L215 468L193 462L215 513L176 449L215 513L248 489L188 416L248 489L264 416L235 473L196 481L196 441L235 473L209 421L260 470L199 403L330 450L188 416L239 397L219 438L275 539L243 440L260 470L180 433L326 489L221 408L231 424L235 473L264 451L188 416L175 468L264 451L260 470L279 458L256 506L199 403L230 522L176 449L204 497L209 421L330 470L235 473L330 470L260 470L279 458L193 462L262 432L193 462L248 489L180 433L264 451L248 489L309 522L243 440L316 457L248 489L205 527L180 433"/>
<path stroke="#5CC8E2" d="M180 433L242 540L196 441"/>
<path stroke="#6CD830" d="M215 513L266 487L225 539L266 487L222 487L326 489L230 522L221 408L196 481L215 468L222 487L235 381L230 522L248 489L215 513L222 487L192 508L264 416L215 513L279 458L192 508L262 432L222 487L256 506L192 508L326 489L215 513L281 489L192 508L300 420L204 497L286 522L196 481L330 450L192 508L316 457L225 539L257 380L222 487L326 489L225 539L242 540L204 497L326 489L175 468L296 506L192 508L330 470L222 487L215 468"/>
<path stroke="#6CD830" d="M215 468L175 468L286 522L215 513L286 522L222 487L199 403L204 497L221 408L222 487L209 421L204 497L239 397L204 497L244 460L222 487L266 487L215 513L228 454L204 497L261 541L225 539L257 380L204 497L319 504L180 489L281 489L232 504L307 440L205 527L275 539L205 527L307 440L192 508L295 535L222 487L299 470L196 481L205 527L232 504L199 403L222 487L285 438L215 513L228 454L175 468L188 416L205 527L275 539L196 481"/>
<path stroke="#6CD830" d="M196 481L215 468L175 468L279 458L175 468L316 457L175 468L247 526L180 489L208 454L180 489L247 412L175 468L192 508L180 489L279 458L204 497L330 450L192 508L264 451L230 522L299 470L232 504L309 522L230 522L247 412L222 487L188 416L196 481L196 441L232 504L299 470L196 481L209 421L205 527L235 381L215 513L180 489L196 481L314 481L205 527L180 489L205 527L239 397L222 487L266 487L222 487L267 522L196 481L282 416"/>
<path stroke="#6CD830" d="M282 416L192 508L279 458L230 522L188 416L192 508L235 381L192 508L299 470L225 539L193 462L196 481L300 420L232 504L307 440L232 504L221 408L175 468L277 382L225 539L248 489L222 487L286 401L215 513L316 457L205 527L244 460L225 539L275 539L230 522L264 416L205 527L286 401L215 513L235 473L232 504L176 449L230 522L319 504L205 527L316 457L215 513L247 412L222 487L282 416L222 487L326 489L180 489L248 489L205 527"/>
<path stroke="#6CD830" d="M205 527L281 489L204 497"/>
<path stroke="#46916A" d="M275 501L284 476L275 539L264 416L275 501L264 416L286 522L193 462L286 522L284 476L242 540L296 506L242 540L282 416L275 501L326 489L261 541L262 432L247 526L244 460L275 539L230 522L242 540L296 506L261 541L188 416L256 506L235 381L256 506L213 387L261 541L299 470L256 506L215 468L267 522L307 440L275 501"/>
<path stroke="#46916A" d="M275 501L175 468L242 540L316 457L256 506L188 416L286 522L196 481L275 501L330 470L267 522L188 416L247 526L209 421L256 506L266 487L267 522L275 539L275 501L282 416L267 522L180 433L286 522L264 451L286 522L314 481L261 541L275 539L242 540L219 438L286 522L248 489L275 539L196 481L242 540L204 497L261 541"/>
<path stroke="#46916A" d="M261 541L282 416L242 540L307 440L247 526L330 450L242 540L199 403L275 501L222 487L256 506L244 460L242 540L286 522L275 501L256 506L261 541L209 421L256 506L286 522L247 526L180 433L286 522L281 489L242 540L213 387L267 522L243 440L242 540L267 522L261 541L180 489L247 526L266 487L242 540L302 396L267 522"/>
<path stroke="#46916A" d="M267 522L282 416L242 540L326 489L286 522L204 497L275 501L300 420L275 539L199 403L261 541L196 441L247 526L213 387L256 506L264 451L286 522L221 408L256 506L175 468L261 541L243 440L242 540L248 489L267 522L215 513L275 501L260 470L275 539L228 454L267 522L316 457L275 539L263 396L247 526L215 468L261 541"/>
<path stroke="#E38B2C" d="M309 522L316 457L309 522L193 462L319 504L296 506L281 489L282 416L281 489L175 468L296 506L231 424L295 535L264 416L296 506L225 539L319 504L204 497L319 504L317 412L309 522L219 438L319 504"/>
<path stroke="#E38B2C" d="M319 504L282 416L309 522L204 497L319 504L257 380L309 522L243 440L309 522L263 396L281 489L285 438L309 522L193 462L309 522L219 438L296 506L307 440L295 535L199 403L295 535L247 412L296 506"/>
<path stroke="#E38B2C" d="M296 506L196 481L296 506L330 470L281 489L180 489L295 535L285 438L296 506L330 450L281 489L275 501L319 504L176 449L281 489L262 432L281 489L180 433L296 506L232 504L281 489L215 468L296 506"/>
<path stroke="#E38B2C" d="M296 506L277 382L295 535L277 382L319 504L281 489L319 504L267 522L309 522L219 438L319 504L260 470L319 504L193 462L319 504L196 441L296 506L299 470L309 522L209 421L281 489L330 450L309 522"/>
<path stroke="#E38B2C" d="M309 522L275 501L296 506"/>
<path stroke="#EB5573" d="M326 489L263 396L326 489L275 501L326 489"/>
<path stroke="#EB5573" d="M326 489L231 424L326 489L266 487L326 489"/>
<path stroke="#EB5573" d="M326 489L175 468L326 489L264 451L326 489"/>
<path stroke="#EB5573" d="M326 489L295 451L326 489L232 504L326 489"/>
<path stroke="#EB5573" d="M326 489L196 481L326 489"/>
</g>
<path stroke="#E38B2C" stroke-width="2.2" stroke-opacity="0.7" d="M318.9 504.1L286.4 491.4"/>
<path fill="#E38B2C" fill-opacity="0.9" d="M286.4 491.4L294.7 490.7L292 497.5Z"/>
<path stroke="#6CD830" stroke-width="0.5" stroke-opacity="0.7" d="M231.7 504.1L276 491"/>
<path fill="#6CD830" fill-opacity="0.9" d="M276 491L273.3 493.4L272.4 490.4Z"/>
<g stroke="#505050" stroke-width="0.35">
<circle cx="212.7" cy="386.9" r="4.5" fill="#D17DEA"/>
<circle cx="235.4" cy="380.8" r="4.5" fill="#D17DEA"/>
<circle cx="256.8" cy="380.2" r="4.8" fill="#D17DEA"/>
<circle cx="277.3" cy="382.3" r="4.5" fill="#D17DEA"/>
<circle cx="239" cy="397" r="4.8" fill="#D17DEA"/>
<circle cx="262.6" cy="396.4" r="4.5" fill="#D17DEA"/>
<circle cx="285.5" cy="400.7" r="4.8" fill="#D17DEA"/>
<circle cx="301.8" cy="396.1" r="4.5" fill="#D17DEA"/>
<circle cx="264.4" cy="416.3" r="4.8" fill="#D17DEA"/>
<circle cx="281.6" cy="416.3" r="4.8" fill="#D17DEA"/>
<circle cx="299.9" cy="419.9" r="4.8" fill="#D17DEA"/>
<circle cx="317.1" cy="411.7" r="4.5" fill="#D17DEA"/>
<circle cx="262.3" cy="432.5" r="5.5" fill="#D17DEA"/>
<circle cx="285.2" cy="437.7" r="5.5" fill="#D17DEA"/>
<circle cx="307" cy="440.4" r="4.8" fill="#D17DEA"/>
<circle cx="323.5" cy="429.1" r="4.5" fill="#D17DEA"/>
<circle cx="294.7" cy="450.5" r="4.8" fill="#D17DEA"/>
<circle cx="330.2" cy="449.9" r="4.5" fill="#D17DEA"/>
<circle cx="316.2" cy="457.3" r="4.5" fill="#D17DEA"/>
<circle cx="299" cy="469.8" r="4.8" fill="#D17DEA"/>
<circle cx="329.9" cy="469.8" r="4.5" fill="#D17DEA"/>
<circle cx="283.7" cy="475.9" r="4.8" fill="#D17DEA"/>
<circle cx="313.7" cy="481.1" r="4.5" fill="#D17DEA"/>
<circle cx="266.3" cy="487.3" r="5.5" fill="#D17DEA"/>
<circle cx="198.9" cy="403.1" r="4.5" fill="#5CC8E2"/>
<circle cx="221.3" cy="408.3" r="4.8" fill="#5CC8E2"/>
<circle cx="187.9" cy="416" r="4.5" fill="#5CC8E2"/>
<circle cx="246.7" cy="412.3" r="4.8" fill="#5CC8E2"/>
<circle cx="208.7" cy="421.5" r="4.8" fill="#5CC8E2"/>
<circle cx="231.1" cy="423.9" r="5.5" fill="#5CC8E2"/>
<circle cx="180" cy="432.8" r="4.5" fill="#5CC8E2"/>
<circle cx="196.5" cy="441.4" r="4.8" fill="#5CC8E2"/>
<circle cx="219.1" cy="437.7" r="4.8" fill="#5CC8E2"/>
<circle cx="243" cy="439.8" r="5.5" fill="#5CC8E2"/>
<circle cx="175.7" cy="449" r="4.5" fill="#5CC8E2"/>
<circle cx="208.1" cy="453.6" r="4.8" fill="#5CC8E2"/>
<circle cx="228" cy="453.6" r="5.5" fill="#5CC8E2"/>
<circle cx="263.5" cy="451.2" r="5.5" fill="#5CC8E2"/>
<circle cx="243.6" cy="460.3" r="5.5" fill="#5CC8E2"/>
<circle cx="278.8" cy="457.6" r="5.5" fill="#5CC8E2"/>
<circle cx="192.8" cy="462.5" r="4.8" fill="#5CC8E2"/>
<circle cx="214.5" cy="468" r="5.5" fill="#5CC8E2"/>
<circle cx="235.4" cy="472.9" r="5.5" fill="#5CC8E2"/>
<circle cx="260.1" cy="470.4" r="5.5" fill="#5CC8E2"/>
<circle cx="248.2" cy="489.1" r="5.5" fill="#5CC8E2"/>
<circle cx="175.4" cy="468" r="4.5" fill="#6CD830"/>
<circle cx="196.5" cy="481.1" r="4.8" fill="#6CD830"/>
<circle cx="221.9" cy="487.3" r="5.5" fill="#6CD830"/>
<circle cx="180.3" cy="488.8" r="4.8" fill="#6CD830"/>
<circle cx="203.8" cy="497.1" r="4.8" fill="#6CD830"/>
<circle cx="191.6" cy="507.8" r="4.5" fill="#6CD830"/>
<circle cx="231.7" cy="504.1" r="5.5" fill="#6CD830"/>
<circle cx="215.2" cy="513.3" r="4.8" fill="#6CD830"/>
<circle cx="205.1" cy="526.8" r="4.5" fill="#6CD830"/>
<circle cx="230.5" cy="522.2" r="5.5" fill="#6CD830"/>
<circle cx="224.9" cy="539.3" r="4.8" fill="#6CD830"/>
<circle cx="255.9" cy="505.6" r="5.5" fill="#46916A"/>
<circle cx="275.1" cy="501" r="5.5" fill="#46916A"/>
<circle cx="247" cy="525.5" r="4.8" fill="#46916A"/>
<circle cx="267.5" cy="522.5" r="5.5" fill="#46916A"/>
<circle cx="285.9" cy="522.5" r="4.8" fill="#46916A"/>
<circle cx="242.4" cy="539.9" r="4.8" fill="#46916A"/>
<circle cx="260.8" cy="541.4" r="4.8" fill="#46916A"/>
<circle cx="275.1" cy="538.7" r="4.8" fill="#46916A"/>
<circle cx="281.3" cy="489.4" r="5.5" fill="#E38B2C"/>
<circle cx="296" cy="506.2" r="5.5" fill="#E38B2C"/>
<circle cx="318.9" cy="504.1" r="5.5" fill="#E38B2C"/>
<circle cx="309.1" cy="522.5" r="4.8" fill="#E38B2C"/>
<circle cx="294.7" cy="534.7" r="4.5" fill="#E38B2C"/>
<circle cx="325.6" cy="488.8" r="4.8" fill="#EB5573"/>
</g>
<text class="l" x="212.7" y="388.1" font-size="5" textLength="8.2" lengthAdjust="spacingAndGlyphs">MUS</text>
<text class="l" x="235.4" y="382" font-size="5" textLength="8.2" lengthAdjust="spacingAndGlyphs">NGA</text>
<text class="l" x="256.8" y="381.4" font-size="5.4" textLength="8.9" lengthAdjust="spacingAndGlyphs">SRB</text>
<text class="l" x="277.3" y="383.5" font-size="5" textLength="8.2" lengthAdjust="spacingAndGlyphs">CIV</text>
<text class="l" x="239" y="398.3" font-size="5.4" textLength="8.9" lengthAdjust="spacingAndGlyphs">PAK</text>
<text class="l" x="262.6" y="397.6" font-size="5" textLength="8.2" lengthAdjust="spacingAndGlyphs">CYP</text>
<text class="l" x="285.5" y="402" font-size="5.4" textLength="8.9" lengthAdjust="spacingAndGlyphs">SGP</text>
<text class="l" x="301.8" y="397.3" font-size="5" textLength="8.2" lengthAdjust="spacingAndGlyphs">ECU</text>
<text class="l" x="264.4" y="417.6" font-size="5.4" textLength="8.9" lengthAdjust="spacingAndGlyphs">LKA</text>
<text class="l" x="281.6" y="417.6" font-size="5.4" textLength="8.9" lengthAdjust="spacingAndGlyphs">PHL</text>
<text class="l" x="299.9" y="421.2" font-size="5.4" textLength="8.9" lengthAdjust="spacingAndGlyphs">MYS</text>
<text class="l" x="317.1" y="412.9" font-size="5" textLength="8.2" lengthAdjust="spacingAndGlyphs">GHA</text>
<text class="l" x="262.3" y="434" font-size="6.2" textLength="10.2" lengthAdjust="spacingAndGlyphs">TUR</text>
<text class="l" x="285.2" y="439.2" font-size="6.2" textLength="10.2" lengthAdjust="spacingAndGlyphs">IDN</text>
<text class="l" x="307" y="441.7" font-size="5.4" textLength="8.9" lengthAdjust="spacingAndGlyphs">JPN</text>
<text class="l" x="323.5" y="430.3" font-size="5" textLength="8.2" lengthAdjust="spacingAndGlyphs">BEN</text>
<text class="l" x="294.7" y="451.8" font-size="5.4" textLength="8.9" lengthAdjust="spacingAndGlyphs">ROU</text>
<text class="l" x="330.2" y="451.1" font-size="5" textLength="8.2" lengthAdjust="spacingAndGlyphs">COL</text>
<text class="l" x="316.2" y="458.5" font-size="5" textLength="8.2" lengthAdjust="spacingAndGlyphs">PER</text>
<text class="l" x="299" y="471.1" font-size="5.4" textLength="8.9" lengthAdjust="spacingAndGlyphs">HKG</text>
<text class="l" x="329.9" y="471" font-size="5" textLength="8.2" lengthAdjust="spacingAndGlyphs">ISR</text>
<text class="l" x="283.7" y="477.2" font-size="5.4" textLength="8.9" lengthAdjust="spacingAndGlyphs">KOR</text>
<text class="l" x="313.7" y="482.4" font-size="5" textLength="8.2" lengthAdjust="spacingAndGlyphs">GRC</text>
<text class="l" x="266.3" y="488.8" font-size="6.2" textLength="10.2" lengthAdjust="spacingAndGlyphs">IND</text>
<text class="l" x="198.9" y="404.3" font-size="5" textLength="8.2" lengthAdjust="spacingAndGlyphs">HRV</text>
<text class="l" x="221.3" y="409.6" font-size="5.4" textLength="8.9" lengthAdjust="spacingAndGlyphs">SVN</text>
<text class="l" x="187.9" y="417.2" font-size="5" textLength="8.2" lengthAdjust="spacingAndGlyphs">TUN</text>
<text class="l" x="246.7" y="413.6" font-size="5.4" textLength="8.9" lengthAdjust="spacingAndGlyphs">CZE</text>
<text class="l" x="208.7" y="422.8" font-size="5.4" textLength="8.9" lengthAdjust="spacingAndGlyphs">UKR</text>
<text class="l" x="231.1" y="425.4" font-size="6.2">ITA</text>
<text class="l" x="180" y="434" font-size="5" textLength="8.2" lengthAdjust="spacingAndGlyphs">LUX</text>
<text class="l" x="196.5" y="442.7" font-size="5.4" textLength="8.9" lengthAdjust="spacingAndGlyphs">LTU</text>
<text class="l" x="219.1" y="439" font-size="5.4" textLength="8.9" lengthAdjust="spacingAndGlyphs">SVK</text>
<text class="l" x="243" y="441.3" font-size="6.2" textLength="10.2" lengthAdjust="spacingAndGlyphs">DEU</text>
<text class="l" x="175.7" y="450.2" font-size="5" textLength="8.2" lengthAdjust="spacingAndGlyphs">BIH</text>
<text class="l" x="208.1" y="454.9" font-size="5.4" textLength="8.9" lengthAdjust="spacingAndGlyphs">MAR</text>
<text class="l" x="228" y="455.1" font-size="6.2" textLength="10.2" lengthAdjust="spacingAndGlyphs">CHE</text>
<text class="l" x="263.5" y="452.6" font-size="6.2" textLength="10.2" lengthAdjust="spacingAndGlyphs">FRA</text>
<text class="l" x="243.6" y="461.8" font-size="6.2" textLength="10.2" lengthAdjust="spacingAndGlyphs">BEL</text>
<text class="l" x="278.8" y="459.1" font-size="6.2" textLength="10.2" lengthAdjust="spacingAndGlyphs">ESP</text>
<text class="l" x="192.8" y="463.8" font-size="5.4" textLength="8.9" lengthAdjust="spacingAndGlyphs">HUN</text>
<text class="l" x="214.5" y="469.5" font-size="6.2" textLength="10.2" lengthAdjust="spacingAndGlyphs">NLD</text>
<text class="l" x="235.4" y="474.4" font-size="6.2" textLength="10.2" lengthAdjust="spacingAndGlyphs">AUT</text>
<text class="l" x="260.1" y="471.9" font-size="6.2" textLength="10.2" lengthAdjust="spacingAndGlyphs">POL</text>
<text class="l" x="248.2" y="490.6" font-size="6.2" textLength="10.2" lengthAdjust="spacingAndGlyphs">PRT</text>
<text class="l" x="175.4" y="469.2" font-size="5" textLength="8.2" lengthAdjust="spacingAndGlyphs">KEN</text>
<text class="l" x="196.5" y="482.4" font-size="5.4" textLength="8.9" lengthAdjust="spacingAndGlyphs">AUS</text>
<text class="l" x="221.9" y="488.8" font-size="6.2" textLength="10.2" lengthAdjust="spacingAndGlyphs">THA</text>
<text class="l" x="180.3" y="490.1" font-size="5.4" textLength="8.9" lengthAdjust="spacingAndGlyphs">EGY</text>
<text class="l" x="203.8" y="498.4" font-size="5.4" textLength="8.9" lengthAdjust="spacingAndGlyphs">VNM</text>
<text class="l" x="191.6" y="509" font-size="5" textLength="8.2" lengthAdjust="spacingAndGlyphs">NZL</text>
<text class="l" x="231.7" y="505.6" font-size="6.2" textLength="10.2" lengthAdjust="spacingAndGlyphs">CHN</text>
<text class="l" x="215.2" y="514.6" font-size="5.4" textLength="8.9" lengthAdjust="spacingAndGlyphs">KOR</text>
<text class="l" x="205.1" y="528" font-size="5" textLength="8.2" lengthAdjust="spacingAndGlyphs">TZA</text>
<text class="l" x="230.5" y="523.6" font-size="6.2" textLength="10.2" lengthAdjust="spacingAndGlyphs">ARE</text>
<text class="l" x="224.9" y="540.6" font-size="5.4" textLength="8.9" lengthAdjust="spacingAndGlyphs">MUS</text>
<text class="l" x="255.9" y="507.1" font-size="6.2" textLength="10.2" lengthAdjust="spacingAndGlyphs">SWE</text>
<text class="l" x="275.1" y="502.5" font-size="6.2" textLength="10.2" lengthAdjust="spacingAndGlyphs">GBR</text>
<text class="l" x="247" y="526.8" font-size="5.4">IRL</text>
<text class="l" x="267.5" y="524" font-size="6.2" textLength="10.2" lengthAdjust="spacingAndGlyphs">DNK</text>
<text class="l" x="285.9" y="523.8" font-size="5.4">FIN</text>
<text class="l" x="242.4" y="541.2" font-size="5.4" textLength="8.9" lengthAdjust="spacingAndGlyphs">NOR</text>
<text class="l" x="260.8" y="542.7" font-size="5.4" textLength="8.9" lengthAdjust="spacingAndGlyphs">LVA</text>
<text class="l" x="275.1" y="540" font-size="5.4" textLength="8.9" lengthAdjust="spacingAndGlyphs">EST</text>
<text class="l" x="281.3" y="490.9" font-size="6.2" textLength="10.2" lengthAdjust="spacingAndGlyphs">USA</text>
<text class="l" x="296" y="507.7" font-size="6.2" textLength="10.2" lengthAdjust="spacingAndGlyphs">BRA</text>
<text class="l" x="318.9" y="505.6" font-size="6.2" textLength="10.2" lengthAdjust="spacingAndGlyphs">CAN</text>
<text class="l" x="309.1" y="523.8" font-size="5.4" textLength="8.9" lengthAdjust="spacingAndGlyphs">CHL</text>
<text class="l" x="294.7" y="535.9" font-size="5" textLength="8.2" lengthAdjust="spacingAndGlyphs">MEX</text>
<text class="l" x="325.6" y="490.1" font-size="5.4" textLength="8.9" lengthAdjust="spacingAndGlyphs">ZAF</text>
<clipPath id="hk"><path d="M346.8 459.1L350.7 438.3L357.2 420.6L367.9 403.7L382.9 389.3L406.7 382.3L430.6 380.2L454.8 386.3L476.2 391.8L491.2 407.1L497 424.5L502.2 444.4L504.7 462.2L504.7 482.1L498.6 506.6L483.6 519.4L468.9 531.6L448.1 540.8L424.8 542.4L404 537.8L383.2 528L365.4 514.8L355.6 496.5L349.2 479.6Z"/></clipPath>
<g clip-path="url(#hk)" fill-opacity="0.020">
<circle cx="406.7" cy="382.3" r="22" fill="#D17DEA"/>
<circle cx="430.6" cy="380.2" r="22" fill="#D17DEA"/>
<circle cx="454.8" cy="386.3" r="22" fill="#D17DEA"/>
<circle cx="382.9" cy="389.3" r="22" fill="#D17DEA"/>
<circle cx="405.2" cy="398.5" r="22" fill="#D17DEA"/>
<circle cx="423" cy="395.5" r="22" fill="#D17DEA"/>
<circle cx="445.9" cy="401" r="22" fill="#D17DEA"/>
<circle cx="367.9" cy="403.7" r="22" fill="#D17DEA"/>
<circle cx="384.4" cy="408.3" r="22" fill="#D17DEA"/>
<circle cx="424.5" cy="411.7" r="22" fill="#D17DEA"/>
<circle cx="448.7" cy="417.8" r="22" fill="#D17DEA"/>
<circle cx="397.6" cy="418.4" r="22" fill="#D17DEA"/>
<circle cx="411.9" cy="423.9" r="22" fill="#D17DEA"/>
<circle cx="357.2" cy="420.6" r="22" fill="#D17DEA"/>
<circle cx="371.5" cy="425.4" r="22" fill="#D17DEA"/>
<circle cx="470.7" cy="427" r="22" fill="#D17DEA"/>
<circle cx="429.7" cy="429.1" r="22" fill="#D17DEA"/>
<circle cx="449.6" cy="432.2" r="22" fill="#D17DEA"/>
<circle cx="388.1" cy="434.6" r="22" fill="#D17DEA"/>
<circle cx="486.6" cy="436.8" r="22" fill="#D17DEA"/>
<circle cx="350.7" cy="438.3" r="22" fill="#D17DEA"/>
<circle cx="367.6" cy="445" r="22" fill="#D17DEA"/>
<circle cx="404.3" cy="444.4" r="22" fill="#D17DEA"/>
<circle cx="432.8" cy="445.3" r="22" fill="#D17DEA"/>
<circle cx="459.4" cy="445.3" r="22" fill="#D17DEA"/>
<circle cx="447.4" cy="461.3" r="22" fill="#D17DEA"/>
<circle cx="476.2" cy="391.8" r="22" fill="#5CC8E2"/>
<circle cx="471.3" cy="410.8" r="22" fill="#5CC8E2"/>
<circle cx="491.2" cy="407.1" r="22" fill="#5CC8E2"/>
<circle cx="497" cy="424.5" r="22" fill="#5CC8E2"/>
<circle cx="346.8" cy="459.1" r="22" fill="#E38B2C"/>
<circle cx="366.3" cy="463.7" r="22" fill="#E38B2C"/>
<circle cx="387.5" cy="454.2" r="22" fill="#6CD830"/>
<circle cx="502.2" cy="444.4" r="22" fill="#6CD830"/>
<circle cx="479" cy="454.5" r="22" fill="#6CD830"/>
<circle cx="403.7" cy="465.2" r="22" fill="#6CD830"/>
<circle cx="420.5" cy="462.2" r="22" fill="#6CD830"/>
<circle cx="504.7" cy="462.2" r="22" fill="#6CD830"/>
<circle cx="387.8" cy="471.4" r="22" fill="#6CD830"/>
<circle cx="463.4" cy="467.4" r="22" fill="#6CD830"/>
<circle cx="491.8" cy="468.3" r="22" fill="#6CD830"/>
<circle cx="434.6" cy="472.9" r="22" fill="#6CD830"/>
<circle cx="349.2" cy="479.6" r="22" fill="#6CD830"/>
<circle cx="374.6" cy="485.1" r="22" fill="#6CD830"/>
<circle cx="394.5" cy="488.2" r="22" fill="#6CD830"/>
<circle cx="412.9" cy="485.7" r="22" fill="#6CD830"/>
<circle cx="447.1" cy="484.2" r="22" fill="#6CD830"/>
<circle cx="475" cy="480.8" r="22" fill="#6CD830"/>
<circle cx="504.7" cy="482.1" r="22" fill="#6CD830"/>
<circle cx="485.4" cy="488.8" r="22" fill="#6CD830"/>
<circle cx="355.6" cy="496.5" r="22" fill="#6CD830"/>
<circle cx="381.3" cy="504.7" r="22" fill="#6CD830"/>
<circle cx="407.7" cy="502.6" r="22" fill="#6CD830"/>
<circle cx="429.4" cy="497.1" r="22" fill="#6CD830"/>
<circle cx="462.4" cy="494.9" r="22" fill="#6CD830"/>
<circle cx="448.1" cy="503.5" r="22" fill="#6CD830"/>
<circle cx="476.2" cy="504.7" r="22" fill="#6CD830"/>
<circle cx="498.6" cy="506.6" r="22" fill="#6CD830"/>
<circle cx="365.4" cy="514.8" r="22" fill="#6CD830"/>
<circle cx="395.4" cy="515.7" r="22" fill="#6CD830"/>
<circle cx="430.3" cy="515.7" r="22" fill="#6CD830"/>
<circle cx="459.4" cy="514.8" r="22" fill="#6CD830"/>
<circle cx="483.6" cy="519.4" r="22" fill="#6CD830"/>
<circle cx="383.2" cy="528" r="22" fill="#6CD830"/>
<circle cx="415.3" cy="524.6" r="22" fill="#6CD830"/>
<circle cx="444.1" cy="524.6" r="22" fill="#6CD830"/>
<circle cx="468.9" cy="531.6" r="22" fill="#6CD830"/>
<circle cx="404" cy="537.8" r="22" fill="#6CD830"/>
<circle cx="424.8" cy="542.4" r="22" fill="#6CD830"/>
<circle cx="448.1" cy="540.8" r="22" fill="#6CD830"/>
</g>
<g fill="none" stroke-width="0.45" stroke-opacity="0.13" stroke-linejoin="bevel">
<path stroke="#D17DEA" d="M446 401L448 541L404 444L447 484L383 389L404 444L446 401L502 444L424 412L421 462L407 382L463 467L412 424L413 486L487 437L502 444L430 429L485 489L446 401L491 407L446 401L497 425L433 445L372 425L368 445L404 538L487 437L502 444L446 401L475 481L404 444L395 516L433 445L471 427L412 424L447 461L412 424L459 515L449 418L421 462L357 421L479 455L447 461L430 429L433 445L471 427L487 437L479 455L471 427L447 461L459 445L423 395L455 386L423 395L384 408L444 525L372 425L425 542L412 424L446 401L357 421L444 525L430 429L349 480L424 412L429 497L423 395L429 497L430 429L404 538L351 438L412 424L388 435L387 454L368 445L395 516L357 421L448 503L357 421L505 482L351 438L429 497L368 445L383 528L351 438L448 541L431 380L383 528L446 401L462 495L357 421L383 528L446 401L383 389L384 408L448 541L383 389L415 525L372 425L449 418L431 380L505 462L450 432L433 445L471 427L502 444L423 395L425 542L404 444L351 438L424 412L404 465L449 418L429 497L449 418L356 496L471 427L469 532"/>
<path stroke="#D17DEA" d="M469 532L455 386L347 459L459 445L444 525L383 389L412 424L433 445L499 507L372 425L459 515L357 421L487 437L384 408L459 515L412 424L413 486L424 412L487 437L388 435L372 425L487 437L372 425L351 438L499 507L404 444L408 503L404 444L408 503L372 425L450 432L412 424L430 516L351 438L463 467L471 427L387 454L487 437L459 515L398 418L425 542L424 412L383 389L450 432L383 528L459 445L384 408L423 395L462 495L447 461L351 438L431 380L372 425L449 418L383 389L433 445L408 503L459 445L471 411L368 404L388 435L412 424L398 418L459 445L368 445L384 408L356 496L424 412L505 462L430 429L404 538L405 399L384 408L455 386L388 435L398 418L408 503L447 461L388 471L487 437L476 392L372 425L448 503L398 418L462 495L446 401L497 425L368 404L388 471L384 408L408 503L404 444L351 438L433 445L398 418L407 382L388 471L368 445L412 424L487 437L429 497L405 399L384 408L398 418L487 437L423 395L471 427L351 438L455 386L388 435L423 395L449 418L433 445L404 444L347 459L459 445L372 425L431 380"/>
<path stroke="#D17DEA" d="M431 380L366 464L384 408L499 507L487 437L429 497L446 401L491 407L407 382L502 444L449 418L447 461L388 435L484 519L455 386L484 519L423 395L347 459L459 445L459 515L431 380L349 480L384 408L476 505L368 404L384 408L368 404L383 528L450 432L366 464L455 386L381 505L368 404L430 429L388 435L366 464L412 424L351 438L449 418L430 516L446 401L388 471L384 408L349 480L412 424L463 467L430 429L455 386L383 389L471 411L372 425L423 395L383 389L471 427L430 429L485 489L449 418L450 432L383 389L499 507L368 404L430 429L405 399L415 525L368 445L449 418L357 421L455 386L405 399L446 401L388 435L492 468L446 401L366 464L372 425L412 424L446 401L459 445L357 421L372 425L431 380L366 464L431 380L398 418L388 435L398 418L450 432L492 468L471 427L446 401L433 445L404 538L449 418L485 489L447 461L405 399L412 424L429 497L446 401L462 495L412 424L485 489L407 382L459 445L471 427L484 519L455 386L408 503L372 425L471 411L388 435L347 459L412 424L430 429L423 395L412 424L372 425L492 468"/>
<path stroke="#D17DEA" d="M492 468L357 421L398 418L383 389L505 482L447 461L476 505L433 445L435 473L405 399L459 515L487 437L469 532L423 395L407 382L459 445L499 507L431 380L430 516L446 401L349 480L471 427L412 424L450 432L404 465L487 437L462 495L383 389L485 489L431 380L505 482L412 424L381 505L433 445L449 418L447 461L430 516L388 435L435 473L383 389L479 455L357 421L492 468L398 418L429 497L471 427L412 424L388 435L430 516L357 421L499 507L405 399L347 459L471 427L407 382L368 445L356 496L388 435L463 467L368 445L425 542L450 432L375 485L405 399L395 516L433 445L463 467L433 445L476 505L368 445L499 507L449 418L404 538L405 399L447 484L433 445L455 386L384 408L404 538L433 445L412 424L487 437L448 541L447 461L444 525L450 432L412 424L351 438L405 399L423 395L487 437L404 444L492 468L450 432L368 445L357 421L408 503L412 424L476 505L430 429L375 485L407 382L469 532L430 429L487 437L424 412L502 444L383 389L479 455L351 438L459 445L368 404L429 497L430 429L368 404L487 437L407 382L431 380"/>
<path stroke="#5CC8E2" d="M497 425L430 516L476 392L459 515L471 411L412 424L476 392L492 468L476 392L462 495L471 411L347 459L491 407L433 445L497 425L383 528L476 392L405 399L491 407"/>
<path stroke="#5CC8E2" d="M491 407L492 468L476 392L499 507L471 411L375 485L497 425L372 425L476 392L347 459L491 407L375 485L491 407L431 380L476 392L469 532L497 425L356 496L497 425"/>
<path stroke="#5CC8E2" d="M497 425L479 455L491 407L484 519L476 392L394 488L476 392L447 484L497 425L408 503L497 425L375 485L471 411L429 497L471 411L505 482L497 425L462 495L497 425"/>
<path stroke="#5CC8E2" d="M497 425L444 525L476 392L462 495L476 392L492 468L491 407L351 438L471 411L479 455L491 407L471 411L476 392L444 525L491 407L408 503L476 392L394 488L497 425"/>
<path stroke="#E38B2C" d="M347 459L395 516L366 464L459 515L347 459L404 538L366 464L404 538L366 464L471 427"/>
<path stroke="#E38B2C" d="M471 427L366 464L479 455L347 459L448 541L347 459L368 404L347 459L429 497L366 464"/>
<path stroke="#E38B2C" d="M366 464L448 503L347 459L430 516L347 459L383 389L347 459L375 485L347 459L413 486"/>
<path stroke="#E38B2C" d="M413 486L366 464L505 462L366 464L459 515L347 459L459 515L366 464L448 541L347 459"/>
<path stroke="#6CD830" d="M502 444L375 485L484 519L471 411L365 515L408 503L387 454L476 505L415 525L450 432L421 462L381 505L429 497L447 461L430 516L375 485L356 496L463 467L447 484L502 444L444 525L435 473L492 468L435 473L447 484L479 455L505 462L356 496L365 515L412 424L484 519L462 495L421 462L349 480L459 515L479 455L349 480L502 444L408 503L394 488L413 486L484 519L356 496L351 438L408 503L485 489L356 496L365 515L502 444L449 418L444 525L365 515L395 516L365 515L485 489L347 459L388 471L471 411L429 497L485 489L408 503L450 432L469 532L349 480L430 516L462 495L404 538L383 389L462 495L372 425L463 467L394 488L484 519L395 516L463 467L485 489L404 465L405 399L492 468L404 538L469 532L388 471L383 528L435 473L492 468L356 496L387 454L446 401L430 516L412 424L505 482L388 471L448 503L491 407L485 489L462 495L365 515L476 392L485 489L412 424L408 503L405 399L475 481L394 488L356 496L502 444L435 473L462 495L444 525L407 382L365 515L459 515L469 532L502 444L404 538L448 503L447 484L497 425L505 482L365 515L375 485L395 516L499 507L424 412L349 480L404 444L395 516L459 445L421 462L459 445L394 488L383 389L447 484L505 482L375 485L347 459L356 496L408 503L429 497L388 435L448 541L349 480L448 503L497 425L459 515L447 484L448 503L388 435L476 505L430 429L469 532L388 471L395 516L447 484L381 505L447 461L395 516L476 392L444 525L485 489L421 462L471 411L448 541L413 486L505 462L357 421L435 473L407 382L475 481L487 437L479 455L492 468"/>
<path stroke="#6CD830" d="M492 468L448 503L444 525L499 507L357 421L463 467L502 444L479 455L408 503L421 462L424 412L381 505L433 445L492 468L381 505L435 473L448 503L492 468L476 392L479 455L394 488L448 541L479 455L383 528L455 386L388 471L383 528L395 516L375 485L394 488L444 525L476 505L381 505L429 497L351 438L484 519L356 496L463 467L429 497L485 489L455 386L365 515L430 516L448 541L476 392L479 455L398 418L444 525L412 424L395 516L394 488L492 468L372 425L459 515L404 538L448 541L449 418L502 444L448 503L421 462L388 471L459 515L491 407L444 525L430 429L383 528L384 408L505 482L449 418L505 462L491 407L459 515L351 438L462 495L459 445L479 455L455 386L395 516L372 425L375 485L444 525L381 505L383 389L475 481L383 528L356 496L491 407L484 519L429 497L505 462L485 489L447 484L492 468L479 455L492 468L349 480L471 411L356 496L405 399L349 480L388 435L435 473L433 445L499 507L368 404L476 505L424 412L448 503L424 412L463 467L387 454L459 515L435 473L404 538L469 532L463 467L388 435L479 455L351 438L469 532L415 525L499 507L347 459L395 516L475 481L463 467L444 525L469 532L447 461L499 507L447 461L404 465L431 380L388 471L395 516L462 495L381 505L415 525L404 465L388 471L447 484L448 541L404 444L505 482L430 429L408 503L366 464L387 454L375 485L421 462L491 407L381 505L446 401L356 496L368 404L383 528L447 461L381 505L505 482L485 489L412 424L476 505L405 399L365 515L408 503L448 541L462 495L475 481L387 454L463 467L484 519L408 503"/>
<path stroke="#6CD830" d="M408 503L497 425L425 542L349 480L404 465L356 496L475 481L421 462L375 485L384 408L475 481L365 515L430 516L356 496L395 516L429 497L479 455L404 538L484 519L505 462L388 471L415 525L429 497L497 425L381 505L366 464L404 538L351 438L476 505L408 503L475 481L447 461L484 519L349 480L459 515L459 445L448 503L447 484L476 505L423 395L395 516L447 461L349 480L459 445L349 480L444 525L387 454L505 482L429 497L424 412L505 482L497 425L479 455L405 399L475 481L455 386L408 503L421 462L469 532L430 516L394 488L471 427L404 538L459 515L404 538L447 484L408 503L388 471L413 486L383 389L463 467L459 515L356 496L463 467L365 515L415 525L502 444L375 485L415 525L429 497L413 486L462 495L476 505L449 418L469 532L447 484L415 525L447 484L476 505L408 503L388 471L430 429L413 486L459 515L479 455L455 386L383 528L476 392L459 515L347 459L349 480L462 495L435 473L412 424L444 525L448 541L381 505L366 464L448 541L446 401L476 505L448 541L404 465L459 515L492 468L455 386L408 503L366 464L459 515L368 445L349 480L431 380L375 485L487 437L505 462L384 408L459 515L395 516L404 465L423 395L502 444L462 495L408 503L491 407L447 484L384 408L499 507L347 459L484 519L415 525L476 505L381 505L463 467L462 495L485 489L435 473L459 515L388 435L388 471L398 418L502 444L349 480L388 471L462 495L349 480L388 435L395 516L356 496L429 497L357 421L475 481L447 484L505 482L485 489L381 505L368 445L387 454L446 401L447 484L366 464L413 486L388 435"/>
<path stroke="#6CD830" d="M388 435L429 497L388 435L425 542L381 505L459 515L497 425L388 471L505 462L469 532L368 445L375 485L475 481L388 471L476 505L408 503L405 399L435 473L430 516L421 462L459 445L430 516L502 444L415 525L395 516L365 515L431 380L484 519L475 481L430 516L366 464L469 532L424 412L448 541L431 380L395 516L405 399L387 454L413 486L459 515L502 444L394 488L502 444L448 503L450 432L499 507L424 412L349 480L446 401L408 503L463 467L425 542L459 515L365 515L423 395L469 532L351 438L425 542L476 392L381 505L423 395L485 489L459 445L395 516L476 505L505 482L448 503L448 541L423 395L448 541L430 516L365 515L394 488L415 525L433 445L469 532L375 485L381 505L357 421L502 444L407 382L365 515L446 401L499 507L408 503L430 516L505 482L485 489L415 525L425 542L497 425L479 455L430 516L462 495L424 412L425 542L450 432L381 505L383 389L505 462L404 465L448 503L487 437L448 503L404 538L448 503L455 386L448 503L447 484L425 542L430 516L462 495L395 516L485 489L398 418L476 505L424 412L492 468L499 507L394 488L388 435L429 497L505 482L469 532L349 480L505 462L433 445L444 525L497 425L476 505L407 382L444 525L356 496L479 455L384 408L404 538L484 519L356 496L447 461L415 525L349 480L469 532L424 412L502 444L368 404L492 468L368 404L499 507L384 408L365 515L388 471L421 462L430 516L415 525L372 425L404 538L479 455L413 486L415 525L505 482L479 455L469 532L455 386L485 489L449 418L413 486L395 516L459 515L375 485L469 532L448 541L505 482"/>
</g>
<path stroke="#D17DEA" stroke-width="1.5" stroke-opacity="0.7" d="M404.3 444.4L426.4 445.1"/>
<path fill="#D17DEA" fill-opacity="0.9" d="M426.4 445.1L420.5 447.7L420.7 442.2Z"/>
<path stroke="#D17DEA" stroke-width="0.8" stroke-opacity="0.7" d="M388.1 434.6L426.5 443.8"/>
<path fill="#D17DEA" fill-opacity="0.9" d="M426.5 443.8L422.2 444.8L423.1 441Z"/>
<path stroke="#D17DEA" stroke-width="0.8" stroke-opacity="0.7" d="M397.6 418.4L427.7 441.5"/>
<path fill="#D17DEA" fill-opacity="0.9" d="M427.7 441.5L423.3 440.6L425.7 437.5Z"/>
<path stroke="#D17DEA" stroke-width="2" stroke-opacity="0.7" d="M470.7 427L438.5 442.6"/>
<path fill="#D17DEA" fill-opacity="0.9" d="M438.5 442.6L443.3 436.4L446.3 442.6Z"/>
<path stroke="#D17DEA" stroke-width="1" stroke-opacity="0.7" d="M448.7 417.8L436 439.8"/>
<path fill="#D17DEA" fill-opacity="0.9" d="M436 439.8L436.3 434.8L440.1 437Z"/>
<path stroke="#D17DEA" stroke-width="0.8" stroke-opacity="0.7" d="M424.5 411.7L431.2 439.1"/>
<path fill="#D17DEA" fill-opacity="0.9" d="M431.2 439.1L428.4 435.7L432.2 434.8Z"/>
<path stroke="#D17DEA" stroke-width="0.8" stroke-opacity="0.7" d="M432.8 445.3L430.8 384.9"/>
<path fill="#D17DEA" fill-opacity="0.9" d="M430.8 384.9L432.9 388.9L428.9 389Z"/>
<path stroke="#D17DEA" stroke-width="0.8" stroke-opacity="0.7" d="M429.7 429.1L431.6 439.1"/>
<path fill="#D17DEA" fill-opacity="0.9" d="M431.6 439.1L428.9 435.5L432.8 434.8Z"/>
<path stroke="#D17DEA" stroke-width="0.8" stroke-opacity="0.7" d="M449.6 432.2L437.8 441.4"/>
<path fill="#D17DEA" fill-opacity="0.9" d="M437.8 441.4L439.7 437.4L442.2 440.5Z"/>
<path stroke="#D17DEA" stroke-width="0.8" stroke-opacity="0.7" d="M459.4 445.3L439.2 445.3"/>
<path fill="#D17DEA" fill-opacity="0.9" d="M439.2 445.3L443.2 443.4L443.2 447.3Z"/>
<path stroke="#D17DEA" stroke-width="1.2" stroke-opacity="0.7" d="M432.8 445.3L372.4 445.1"/>
<path fill="#D17DEA" fill-opacity="0.9" d="M372.4 445.1L377.4 442.6L377.4 447.5Z"/>
<path stroke="#D17DEA" stroke-width="0.6" stroke-opacity="0.7" d="M470.7 427L403 419"/>
<path fill="#D17DEA" fill-opacity="0.9" d="M403 419L406.7 417.7L406.3 421.2Z"/>
<g stroke="#505050" stroke-width="0.35">
<circle cx="406.7" cy="382.3" r="4.5" fill="#D17DEA"/>
<circle cx="430.6" cy="380.2" r="4.8" fill="#D17DEA"/>
<circle cx="454.8" cy="386.3" r="4.5" fill="#D17DEA"/>
<circle cx="382.9" cy="389.3" r="4.5" fill="#D17DEA"/>
<circle cx="405.2" cy="398.5" r="4.8" fill="#D17DEA"/>
<circle cx="423" cy="395.5" r="4.5" fill="#D17DEA"/>
<circle cx="445.9" cy="401" r="4.8" fill="#D17DEA"/>
<circle cx="367.9" cy="403.7" r="4.5" fill="#D17DEA"/>
<circle cx="384.4" cy="408.3" r="4.5" fill="#D17DEA"/>
<circle cx="424.5" cy="411.7" r="5.5" fill="#D17DEA"/>
<circle cx="448.7" cy="417.8" r="5.5" fill="#D17DEA"/>
<circle cx="397.6" cy="418.4" r="5.5" fill="#D17DEA"/>
<circle cx="411.9" cy="423.9" r="4.8" fill="#D17DEA"/>
<circle cx="357.2" cy="420.6" r="4.5" fill="#D17DEA"/>
<circle cx="371.5" cy="425.4" r="4.5" fill="#D17DEA"/>
<circle cx="470.7" cy="427" r="5.5" fill="#D17DEA"/>
<circle cx="429.7" cy="429.1" r="4.8" fill="#D17DEA"/>
<circle cx="449.6" cy="432.2" r="4.8" fill="#D17DEA"/>
<circle cx="388.1" cy="434.6" r="4.8" fill="#D17DEA"/>
<circle cx="486.6" cy="436.8" r="4.5" fill="#D17DEA"/>
<circle cx="350.7" cy="438.3" r="4.5" fill="#D17DEA"/>
<circle cx="367.6" cy="445" r="4.8" fill="#D17DEA"/>
<circle cx="404.3" cy="444.4" r="5.5" fill="#D17DEA"/>
<circle cx="432.8" cy="445.3" r="6.4" fill="#D17DEA"/>
<circle cx="459.4" cy="445.3" r="4.8" fill="#D17DEA"/>
<circle cx="447.4" cy="461.3" r="4.8" fill="#D17DEA"/>
<circle cx="476.2" cy="391.8" r="4.8" fill="#5CC8E2"/>
<circle cx="471.3" cy="410.8" r="4.8" fill="#5CC8E2"/>
<circle cx="491.2" cy="407.1" r="4.5" fill="#5CC8E2"/>
<circle cx="497" cy="424.5" r="4.8" fill="#5CC8E2"/>
<circle cx="346.8" cy="459.1" r="4.5" fill="#E38B2C"/>
<circle cx="366.3" cy="463.7" r="5.5" fill="#E38B2C"/>
<circle cx="387.5" cy="454.2" r="5.5" fill="#6CD830"/>
<circle cx="502.2" cy="444.4" r="4.5" fill="#6CD830"/>
<circle cx="479" cy="454.5" r="4.8" fill="#6CD830"/>
<circle cx="403.7" cy="465.2" r="5.5" fill="#6CD830"/>
<circle cx="420.5" cy="462.2" r="5.5" fill="#6CD830"/>
<circle cx="504.7" cy="462.2" r="4.8" fill="#6CD830"/>
<circle cx="387.8" cy="471.4" r="4.8" fill="#6CD830"/>
<circle cx="463.4" cy="467.4" r="5.5" fill="#6CD830"/>
<circle cx="491.8" cy="468.3" r="4.5" fill="#6CD830"/>
<circle cx="434.6" cy="472.9" r="5.5" fill="#6CD830"/>
<circle cx="349.2" cy="479.6" r="4.5" fill="#6CD830"/>
<circle cx="374.6" cy="485.1" r="4.8" fill="#6CD830"/>
<circle cx="394.5" cy="488.2" r="4.8" fill="#6CD830"/>
<circle cx="412.9" cy="485.7" r="5.5" fill="#6CD830"/>
<circle cx="447.1" cy="484.2" r="5.5" fill="#6CD830"/>
<circle cx="475" cy="480.8" r="4.8" fill="#6CD830"/>
<circle cx="504.7" cy="482.1" r="4.8" fill="#6CD830"/>
<circle cx="485.4" cy="488.8" r="4.5" fill="#6CD830"/>
<circle cx="355.6" cy="496.5" r="4.5" fill="#6CD830"/>
<circle cx="381.3" cy="504.7" r="4.5" fill="#6CD830"/>
<circle cx="407.7" cy="502.6" r="5.5" fill="#6CD830"/>
<circle cx="429.4" cy="497.1" r="5.5" fill="#6CD830"/>
<circle cx="462.4" cy="494.9" r="4.8" fill="#6CD830"/>
<circle cx="448.1" cy="503.5" r="4.8" fill="#6CD830"/>
<circle cx="476.2" cy="504.7" r="4.8" fill="#6CD830"/>
<circle cx="498.6" cy="506.6" r="4.5" fill="#6CD830"/>
<circle cx="365.4" cy="514.8" r="4.5" fill="#6CD830"/>
<circle cx="395.4" cy="515.7" r="4.8" fill="#6CD830"/>
<circle cx="430.3" cy="515.7" r="4.8" fill="#6CD830"/>
<circle cx="459.4" cy="514.8" r="4.8" fill="#6CD830"/>
<circle cx="483.6" cy="519.4" r="4.5" fill="#6CD830"/>
<circle cx="383.2" cy="528" r="4.5" fill="#6CD830"/>
<circle cx="415.3" cy="524.6" r="4.8" fill="#6CD830"/>
<circle cx="444.1" cy="524.6" r="4.8" fill="#6CD830"/>
<circle cx="468.9" cy="531.6" r="4.8" fill="#6CD830"/>
<circle cx="404" cy="537.8" r="4.8" fill="#6CD830"/>
<circle cx="424.8" cy="542.4" r="4.5" fill="#6CD830"/>
<circle cx="448.1" cy="540.8" r="4.5" fill="#6CD830"/>
</g>
<text class="l" x="406.7" y="383.5" font-size="5" textLength="8.2" lengthAdjust="spacingAndGlyphs">BLR</text>
<text class="l" x="430.6" y="381.4" font-size="5.4" textLength="8.9" lengthAdjust="spacingAndGlyphs">VNM</text>
<text class="l" x="454.8" y="387.5" font-size="5" textLength="8.2" lengthAdjust="spacingAndGlyphs">MEX</text>
<text class="l" x="382.9" y="390.5" font-size="5" textLength="8.2" lengthAdjust="spacingAndGlyphs">SAU</text>
<text class="l" x="405.2" y="399.8" font-size="5.4" textLength="8.9" lengthAdjust="spacingAndGlyphs">CAN</text>
<text class="l" x="423" y="396.7" font-size="5" textLength="8.2" lengthAdjust="spacingAndGlyphs">ZAF</text>
<text class="l" x="445.9" y="402.3" font-size="5.4" textLength="8.9" lengthAdjust="spacingAndGlyphs">MYS</text>
<text class="l" x="367.9" y="404.9" font-size="5" textLength="8.2" lengthAdjust="spacingAndGlyphs">GHA</text>
<text class="l" x="384.4" y="409.5" font-size="5" textLength="8.2" lengthAdjust="spacingAndGlyphs">RUS</text>
<text class="l" x="424.5" y="413.2" font-size="6.2" textLength="10.2" lengthAdjust="spacingAndGlyphs">PAK</text>
<text class="l" x="448.7" y="419.3" font-size="6.2" textLength="10.2" lengthAdjust="spacingAndGlyphs">USA</text>
<text class="l" x="397.6" y="419.9" font-size="6.2" textLength="10.2" lengthAdjust="spacingAndGlyphs">BGD</text>
<text class="l" x="411.9" y="425.2" font-size="5.4" textLength="8.9" lengthAdjust="spacingAndGlyphs">IDN</text>
<text class="l" x="357.2" y="421.8" font-size="5" textLength="8.2" lengthAdjust="spacingAndGlyphs">TZA</text>
<text class="l" x="371.5" y="426.6" font-size="5" textLength="8.2" lengthAdjust="spacingAndGlyphs">UKR</text>
<text class="l" x="470.7" y="428.5" font-size="6.2" textLength="10.2" lengthAdjust="spacingAndGlyphs">IND</text>
<text class="l" x="429.7" y="430.4" font-size="5.4" textLength="8.9" lengthAdjust="spacingAndGlyphs">KOR</text>
<text class="l" x="449.6" y="433.5" font-size="5.4" textLength="8.9" lengthAdjust="spacingAndGlyphs">LKA</text>
<text class="l" x="388.1" y="435.9" font-size="5.4" textLength="8.9" lengthAdjust="spacingAndGlyphs">AUS</text>
<text class="l" x="486.6" y="438" font-size="5" textLength="8.2" lengthAdjust="spacingAndGlyphs">NZL</text>
<text class="l" x="350.7" y="439.5" font-size="5" textLength="8.2" lengthAdjust="spacingAndGlyphs">COL</text>
<text class="l" x="367.6" y="446.3" font-size="5.4" textLength="8.9" lengthAdjust="spacingAndGlyphs">HKG</text>
<text class="l" x="404.3" y="445.9" font-size="6.2" textLength="10.2" lengthAdjust="spacingAndGlyphs">THA</text>
<text class="l" x="432.8" y="447.1" font-size="7.2" textLength="11.8" lengthAdjust="spacingAndGlyphs">CHN</text>
<text class="l" x="459.4" y="446.6" font-size="5.4" textLength="8.9" lengthAdjust="spacingAndGlyphs">BRA</text>
<text class="l" x="447.4" y="462.6" font-size="5.4" textLength="8.9" lengthAdjust="spacingAndGlyphs">JPN</text>
<text class="l" x="476.2" y="393.1" font-size="5.4" textLength="8.9" lengthAdjust="spacingAndGlyphs">SGP</text>
<text class="l" x="471.3" y="412.1" font-size="5.4" textLength="8.9" lengthAdjust="spacingAndGlyphs">PHL</text>
<text class="l" x="491.2" y="408.3" font-size="5" textLength="8.2" lengthAdjust="spacingAndGlyphs">MUS</text>
<text class="l" x="497" y="425.8" font-size="5.4" textLength="8.9" lengthAdjust="spacingAndGlyphs">KEN</text>
<text class="l" x="346.8" y="460.3" font-size="5" textLength="8.2" lengthAdjust="spacingAndGlyphs">LBN</text>
<text class="l" x="366.3" y="465.2" font-size="6.2" textLength="10.2" lengthAdjust="spacingAndGlyphs">ARE</text>
<text class="l" x="387.5" y="455.7" font-size="6.2" textLength="10.2" lengthAdjust="spacingAndGlyphs">NLD</text>
<text class="l" x="502.2" y="445.6" font-size="5" textLength="8.2" lengthAdjust="spacingAndGlyphs">SIR</text>
<text class="l" x="479" y="455.8" font-size="5.4" textLength="8.9" lengthAdjust="spacingAndGlyphs">EGY</text>
<text class="l" x="403.7" y="466.7" font-size="6.2">ITA</text>
<text class="l" x="420.5" y="463.7" font-size="6.2" textLength="10.2" lengthAdjust="spacingAndGlyphs">GBR</text>
<text class="l" x="504.7" y="463.5" font-size="5.4" textLength="8.9" lengthAdjust="spacingAndGlyphs">SWE</text>
<text class="l" x="387.8" y="472.7" font-size="5.4" textLength="8.9" lengthAdjust="spacingAndGlyphs">PRT</text>
<text class="l" x="463.4" y="468.9" font-size="6.2" textLength="10.2" lengthAdjust="spacingAndGlyphs">FRA</text>
<text class="l" x="491.8" y="469.5" font-size="5" textLength="8.2" lengthAdjust="spacingAndGlyphs">NOR</text>
<text class="l" x="434.6" y="474.4" font-size="6.2" textLength="10.2" lengthAdjust="spacingAndGlyphs">DEU</text>
<text class="l" x="349.2" y="480.8" font-size="5">FIN</text>
<text class="l" x="374.6" y="486.4" font-size="5.4" textLength="8.9" lengthAdjust="spacingAndGlyphs">CZE</text>
<text class="l" x="394.5" y="489.5" font-size="5.4" textLength="8.9" lengthAdjust="spacingAndGlyphs">AUT</text>
<text class="l" x="412.9" y="487.2" font-size="6.2" textLength="10.2" lengthAdjust="spacingAndGlyphs">TUR</text>
<text class="l" x="447.1" y="485.7" font-size="6.2" textLength="10.2" lengthAdjust="spacingAndGlyphs">CHE</text>
<text class="l" x="475" y="482.1" font-size="5.4" textLength="8.9" lengthAdjust="spacingAndGlyphs">POL</text>
<text class="l" x="504.7" y="483.4" font-size="5.4" textLength="8.9" lengthAdjust="spacingAndGlyphs">BRL</text>
<text class="l" x="485.4" y="490" font-size="5" textLength="8.2" lengthAdjust="spacingAndGlyphs">BGR</text>
<text class="l" x="355.6" y="497.7" font-size="5" textLength="8.2" lengthAdjust="spacingAndGlyphs">CHL</text>
<text class="l" x="381.3" y="505.9" font-size="5" textLength="8.2" lengthAdjust="spacingAndGlyphs">MAR</text>
<text class="l" x="407.7" y="504.1" font-size="6.2" textLength="10.2" lengthAdjust="spacingAndGlyphs">BEL</text>
<text class="l" x="429.4" y="498.5" font-size="6.2" textLength="10.2" lengthAdjust="spacingAndGlyphs">ESP</text>
<text class="l" x="462.4" y="496.2" font-size="5.4" textLength="8.9" lengthAdjust="spacingAndGlyphs">NGA</text>
<text class="l" x="448.1" y="504.8" font-size="5.4" textLength="8.9" lengthAdjust="spacingAndGlyphs">PER</text>
<text class="l" x="476.2" y="506" font-size="5.4" textLength="8.9" lengthAdjust="spacingAndGlyphs">GRC</text>
<text class="l" x="498.6" y="507.8" font-size="5" textLength="8.2" lengthAdjust="spacingAndGlyphs">SRB</text>
<text class="l" x="365.4" y="516" font-size="5" textLength="8.2" lengthAdjust="spacingAndGlyphs">EST</text>
<text class="l" x="395.4" y="517" font-size="5.4" textLength="8.9" lengthAdjust="spacingAndGlyphs">ROU</text>
<text class="l" x="430.3" y="517" font-size="5.4" textLength="8.9" lengthAdjust="spacingAndGlyphs">DNK</text>
<text class="l" x="459.4" y="516.1" font-size="5.4" textLength="8.9" lengthAdjust="spacingAndGlyphs">HUN</text>
<text class="l" x="483.6" y="520.6" font-size="5" textLength="8.2" lengthAdjust="spacingAndGlyphs">CIV</text>
<text class="l" x="383.2" y="529.2" font-size="5" textLength="8.2" lengthAdjust="spacingAndGlyphs">SVK</text>
<text class="l" x="415.3" y="525.9" font-size="5.4" textLength="8.9" lengthAdjust="spacingAndGlyphs">TUN</text>
<text class="l" x="444.1" y="525.9" font-size="5.4" textLength="8.9" lengthAdjust="spacingAndGlyphs">SVN</text>
<text class="l" x="468.9" y="532.9" font-size="5.4" textLength="8.9" lengthAdjust="spacingAndGlyphs">LTU</text>
<text class="l" x="404" y="539.1" font-size="5.4" textLength="8.9" lengthAdjust="spacingAndGlyphs">ARG</text>
<text class="l" x="424.8" y="543.6" font-size="5" textLength="8.2" lengthAdjust="spacingAndGlyphs">MNG</text>
<text class="l" x="448.1" y="542" font-size="5" textLength="8.2" lengthAdjust="spacingAndGlyphs">HRV</text>
<clipPath id="hl"><path d="M520.7 464.3L521.6 443.5L527.4 419L539.9 401L556.8 387.2L579.1 378.6L603.9 375.6L628.1 380.2L649.2 393L664.2 404L674.3 423.9L679.8 446L680.7 466.5L679.2 481.8L670.6 503.2L660.8 522.5L642.2 534.7L618 539.9L595 540.8L574.2 539.3L557.4 532.3L542.1 520.9L531.4 503.2L523.7 486.4Z"/></clipPath>
<g clip-path="url(#hl)" fill-opacity="0.020">
<circle cx="579.1" cy="378.6" r="22" fill="#8DC52E"/>
<circle cx="556.8" cy="387.2" r="22" fill="#8DC52E"/>
<circle cx="588.9" cy="394.8" r="22" fill="#8DC52E"/>
<circle cx="539.9" cy="401" r="22" fill="#8DC52E"/>
<circle cx="568.1" cy="402.2" r="22" fill="#8DC52E"/>
<circle cx="550.6" cy="413.2" r="22" fill="#8DC52E"/>
<circle cx="527.4" cy="419" r="22" fill="#8DC52E"/>
<circle cx="572.7" cy="420.6" r="22" fill="#8DC52E"/>
<circle cx="592" cy="418.4" r="22" fill="#8DC52E"/>
<circle cx="540.5" cy="430.7" r="22" fill="#8DC52E"/>
<circle cx="558.9" cy="439.8" r="22" fill="#8DC52E"/>
<circle cx="580.3" cy="438.3" r="22" fill="#8DC52E"/>
<circle cx="521.6" cy="443.5" r="22" fill="#8DC52E"/>
<circle cx="539.6" cy="450.5" r="22" fill="#8DC52E"/>
<circle cx="520.7" cy="464.3" r="22" fill="#8DC52E"/>
<circle cx="603.9" cy="375.6" r="22" fill="#F26A30"/>
<circle cx="628.1" cy="380.2" r="22" fill="#F26A30"/>
<circle cx="615.5" cy="393" r="22" fill="#F26A30"/>
<circle cx="649.2" cy="393" r="22" fill="#F26A30"/>
<circle cx="639.1" cy="403.1" r="22" fill="#F26A30"/>
<circle cx="608.2" cy="412.9" r="22" fill="#F26A30"/>
<circle cx="664.2" cy="404" r="22" fill="#5CC8E2"/>
<circle cx="633.9" cy="419" r="22" fill="#5CC8E2"/>
<circle cx="652.9" cy="417.5" r="22" fill="#5CC8E2"/>
<circle cx="674.3" cy="423.9" r="22" fill="#5CC8E2"/>
<circle cx="595" cy="432.8" r="22" fill="#5CC8E2"/>
<circle cx="614.9" cy="432.2" r="22" fill="#5CC8E2"/>
<circle cx="644" cy="436.2" r="22" fill="#5CC8E2"/>
<circle cx="662" cy="439.8" r="22" fill="#5CC8E2"/>
<circle cx="679.8" cy="446" r="22" fill="#5CC8E2"/>
<circle cx="601.8" cy="453" r="22" fill="#5CC8E2"/>
<circle cx="625.6" cy="447.5" r="22" fill="#5CC8E2"/>
<circle cx="647.1" cy="457.3" r="22" fill="#5CC8E2"/>
<circle cx="664.5" cy="463.7" r="22" fill="#5CC8E2"/>
<circle cx="680.7" cy="466.5" r="22" fill="#5CC8E2"/>
<circle cx="603.6" cy="471.4" r="22" fill="#5CC8E2"/>
<circle cx="624.4" cy="467.4" r="22" fill="#5CC8E2"/>
<circle cx="647.7" cy="475.6" r="22" fill="#5CC8E2"/>
<circle cx="630.5" cy="482.7" r="22" fill="#5CC8E2"/>
<circle cx="660.8" cy="485.7" r="22" fill="#5CC8E2"/>
<circle cx="679.2" cy="481.8" r="22" fill="#5CC8E2"/>
<circle cx="634.8" cy="498" r="22" fill="#5CC8E2"/>
<circle cx="652.3" cy="504.7" r="22" fill="#5CC8E2"/>
<circle cx="670.6" cy="503.2" r="22" fill="#5CC8E2"/>
<circle cx="615.2" cy="507.2" r="22" fill="#5CC8E2"/>
<circle cx="637" cy="517" r="22" fill="#5CC8E2"/>
<circle cx="660.8" cy="522.5" r="22" fill="#5CC8E2"/>
<circle cx="595" cy="523.1" r="22" fill="#5CC8E2"/>
<circle cx="615.5" cy="524.9" r="22" fill="#5CC8E2"/>
<circle cx="642.2" cy="534.7" r="22" fill="#5CC8E2"/>
<circle cx="618" cy="539.9" r="22" fill="#5CC8E2"/>
<circle cx="565" cy="459.1" r="22" fill="#D17DEA"/>
<circle cx="587.1" cy="458.8" r="22" fill="#D17DEA"/>
<circle cx="542.7" cy="470.4" r="22" fill="#D17DEA"/>
<circle cx="559.8" cy="475.9" r="22" fill="#D17DEA"/>
<circle cx="581.9" cy="480.2" r="22" fill="#D17DEA"/>
<circle cx="523.7" cy="486.4" r="22" fill="#D17DEA"/>
<circle cx="541.2" cy="492.5" r="22" fill="#D17DEA"/>
<circle cx="566.6" cy="491.9" r="22" fill="#D17DEA"/>
<circle cx="597.2" cy="489.4" r="22" fill="#D17DEA"/>
<circle cx="614" cy="488.8" r="22" fill="#D17DEA"/>
<circle cx="531.4" cy="503.2" r="22" fill="#D17DEA"/>
<circle cx="578.2" cy="503.5" r="22" fill="#D17DEA"/>
<circle cx="554.9" cy="507.2" r="22" fill="#D17DEA"/>
<circle cx="596.9" cy="506.2" r="22" fill="#D17DEA"/>
<circle cx="542.1" cy="520.9" r="22" fill="#D17DEA"/>
<circle cx="574.2" cy="520.9" r="22" fill="#D17DEA"/>
<circle cx="557.4" cy="532.3" r="22" fill="#D17DEA"/>
<circle cx="574.2" cy="539.3" r="22" fill="#46916A"/>
<circle cx="595" cy="540.8" r="22" fill="#46916A"/>
</g>
<g fill="none" stroke-width="0.45" stroke-opacity="0.13" stroke-linejoin="bevel">
<path stroke="#8DC52E" d="M551 413L661 522L527 419L582 480L557 387L531 503L521 464L580 438L573 421L582 480L551 413L618 540L573 421L634 419L557 387L574 521L589 395L616 393L541 431L642 535L540 401L551 413L573 421L604 376L551 413L595 541L559 440L595 433L540 451L631 483L580 438L662 440L589 395L574 539L540 451L557 532L559 440L597 506L527 419L681 466L573 421L604 376L589 395L674 424L573 421L664 404L540 401L674 424L541 431L680 446L573 421L653 417L580 438L649 393L540 451L604 471L580 438L573 421L568 402L559 440L579 379L595 541L589 395L648 476L580 438L565 459L580 438L557 387"/>
<path stroke="#8DC52E" d="M557 387L540 401L652 505L589 395L644 436L521 464L574 521L559 440L542 521L522 444L597 489L540 401L541 431L557 387L642 535L589 395L531 503L580 438L647 457L540 451L541 431L592 418L540 401L580 438L557 532L557 387L634 419L573 421L634 419L592 418L531 503L540 401L618 540L551 413L541 431L559 440L639 403L541 431L595 541L580 438L551 413L592 418L604 471L568 402L595 433L540 401L647 457L579 379L597 506L579 379L624 467L557 387L592 418L559 440L631 483L580 438L557 387L589 395L557 532L541 431L634 419L541 431L649 393L540 451L631 483L522 444L595 433L541 431"/>
<path stroke="#8DC52E" d="M541 431L614 489L568 402L595 433L592 418L628 380L568 402L615 432L559 440L661 522L527 419L664 404L557 387L626 447L521 464L615 432L551 413L644 436L568 402L628 380L557 387L565 459L521 464L679 482L580 438L587 459L592 418L582 480L573 421L604 471L568 402L649 393L559 440L595 541L557 387L522 444L540 401L540 451L573 421L615 432L580 438L662 440L579 379L624 467L527 419L573 421L540 401L592 418L527 419L551 413L522 444L664 404L589 395L614 489L522 444L616 525L557 387L595 541L573 421L602 453L541 431L580 438L579 379L653 417L540 401L595 433L579 379L614 489"/>
<path stroke="#8DC52E" d="M614 489L580 438L597 489L568 402L639 403L541 431L595 541L541 431L522 444L589 395L616 393L559 440L604 471L527 419L631 483L573 421L557 532L522 444L664 464L540 401L595 541L573 421L543 470L540 451L614 489L589 395L543 470L592 418L681 466L540 401L574 521L540 451L541 492L580 438L560 476L540 401L597 489L589 395L615 507L592 418L574 521L592 418L652 505L557 387L574 539L580 438L592 418L589 395L560 476L541 431L608 413L541 431L631 483L579 379L559 440L541 431L616 525L579 379L595 541L540 401L664 404L541 431L652 505L559 440L635 498L540 451L664 404L521 464"/>
<path stroke="#8DC52E" d="M521 464L542 521L573 421"/>
<path stroke="#F26A30" d="M616 393L642 535L628 380L579 379L628 380L653 417L604 376L531 503L628 380L573 421L628 380L639 403L604 376L595 523L628 380L540 401L649 393L626 447L604 376L573 421L639 403L604 376L616 393L565 459L616 393L540 401L604 376L639 403"/>
<path stroke="#F26A30" d="M639 403L649 393L680 446L616 393L614 489L608 413L615 507L649 393L647 457L649 393L578 503L649 393L522 444L639 403L574 521L604 376L626 447L616 393L648 476L608 413L542 521L639 403L681 466L608 413L602 453L628 380L661 522L628 380"/>
<path stroke="#F26A30" d="M628 380L557 387L608 413L595 523L639 403L595 541L604 376L615 432L604 376L580 438L649 393L568 402L616 393L618 540L616 393L579 379L604 376L592 418L604 376L595 541L608 413L595 433L604 376L540 451L616 393L680 446L649 393L604 376"/>
<path stroke="#F26A30" d="M604 376L639 403L524 486L639 403L531 503L639 403L648 476L628 380L614 489L608 413L551 413L639 403L649 393L604 376L664 464L616 393L555 507L616 393L597 506L608 413L592 418L649 393L595 433L604 376L614 489L616 393L642 535L649 393"/>
<path stroke="#5CC8E2" d="M595 433L648 476L602 453L595 433L631 483L565 459L664 464L649 393L652 505L597 489L674 424L521 464L637 517L628 380L637 517L615 432L595 433L661 486L679 482L626 447L595 433L628 380L653 417L618 540L653 417L541 431L615 507L565 459L661 486L592 418L626 447L565 459L681 466L616 525L626 447L542 521L637 517L541 431L615 507L634 419L631 483L674 424L644 436L567 492L631 483L616 393L595 433L616 525L671 503L661 486L652 505L551 413L674 424L653 417L635 498L634 419L681 466L560 476L595 523L664 404L637 517L604 471L618 540L661 522L635 498L531 503L615 432L674 424L595 523L635 498L595 433L602 453L681 466L608 413L661 486L628 380L648 476L652 505L644 436L524 486L615 432L602 453L626 447L624 467L661 486L652 505L662 440L579 379L679 482L531 503L615 432L624 467L661 486L574 521L647 457L542 521L664 404L642 535L615 507L644 436L642 535L634 419L671 503L579 379L647 457L559 440L679 482L574 521L624 467L626 447L664 404L661 522L664 464L661 522L644 436L661 486L681 466L551 413L647 457L541 431L642 535L573 421L681 466L661 522L626 447L618 540L615 507L595 523L615 507L560 476L671 503L543 470L664 464L680 446L679 482L578 503"/>
<path stroke="#5CC8E2" d="M578 503L595 433L616 525L626 447L661 522L679 482L582 480L644 436L634 419L624 467L531 503L661 486L635 498L671 503L647 457L635 498L551 413L615 507L639 403L680 446L527 419L661 522L671 503L616 525L681 466L662 440L635 498L626 447L578 503L664 404L574 521L618 540L582 480L604 471L615 432L634 419L649 393L661 522L540 401L631 483L597 506L595 433L644 436L664 404L557 532L653 417L631 483L671 503L604 471L595 433L579 379L634 419L574 521L664 464L634 419L681 466L574 539L680 446L647 457L602 453L664 404L635 498L573 421L642 535L614 489L637 517L542 521L664 404L604 471L652 505L653 417L615 507L634 419L680 446L541 492L653 417L642 535L604 471L615 432L653 417L671 503L661 486L587 459L661 522L595 433L680 446L647 457L653 417L578 503L661 522L602 453L631 483L604 471L631 483L521 464L674 424L604 471L674 424L639 403L661 486L648 476L642 535L573 421L616 525L615 432L637 517L615 507L674 424L524 486L595 523L579 379L595 433L527 419L602 453L648 476L647 457L634 419L615 432L604 471L661 486L595 433L635 498L543 470L602 453L616 525L674 424L557 532L634 419L664 464L616 525L587 459L653 417L578 503L595 523L580 438L635 498"/>
<path stroke="#5CC8E2" d="M635 498L557 387L595 433L542 521L644 436L557 532L615 432L614 489L653 417L642 535L634 419L664 404L662 440L649 393L671 503L522 444L602 453L589 395L602 453L597 489L604 471L647 457L648 476L527 419L618 540L681 466L680 446L604 376L616 525L639 403L652 505L589 395L616 525L579 379L624 467L541 431L674 424L557 387L661 522L540 451L661 522L664 464L595 433L574 539L653 417L634 419L642 535L635 498L644 436L568 402L652 505L642 535L664 464L647 457L635 498L582 480L664 404L582 480L626 447L555 507L648 476L595 523L618 540L680 446L664 404L557 387L616 525L522 444L671 503L582 480L618 540L681 466L662 440L560 476L615 432L644 436L642 535L681 466L647 457L574 521L634 419L624 467L631 483L589 395L647 457L661 486L595 433L597 489L618 540L652 505L642 535L604 471L602 453L648 476L661 486L595 523L631 483L648 476L631 483L661 522L679 482L595 541L671 503L661 522L637 517L615 432L679 482L662 440L595 523L664 464L635 498L664 464L626 447L647 457L595 433L542 521L664 404L597 506L615 507L587 459L631 483L647 457L653 417L559 440L615 432L681 466L680 446L642 535L671 503L679 482L648 476L595 541L664 464L567 492L647 457L649 393"/>
<path stroke="#5CC8E2" d="M649 393L644 436L597 506L680 446L681 466L652 505L661 522L652 505L653 417L679 482L653 417L626 447L637 517L618 540L608 413L653 417L679 482L595 433L664 404L615 432L661 522L674 424L527 419L664 404L559 440L642 535L579 379L642 535L671 503L595 433L652 505L662 440L587 459L674 424L582 480L595 523L671 503L681 466L662 440L648 476L574 521L664 404L524 486L642 535L604 471L642 535L565 459L681 466L597 489L595 433L662 440L624 467L618 540L647 457L674 424L661 522L608 413L624 467L653 417L671 503L628 380L671 503L527 419L652 505L648 476L634 419L589 395L664 464L521 464L653 417L567 492L648 476L662 440L647 457L592 418L653 417L522 444L661 486L681 466L648 476L551 413L661 486L555 507L652 505L680 446L635 498L559 440L635 498L639 403L652 505L664 464L615 432L626 447L615 432L578 503L648 476L565 459L595 523L592 418L647 457L664 464L680 446L555 507L615 432L597 489L602 453L557 532L661 486L595 541L644 436L647 457L595 523L580 438L662 440L624 467L664 464L680 446L595 433L540 451L652 505L565 459L674 424L565 459L631 483L616 525L615 507L653 417L616 525L674 424L616 525L565 459L626 447L574 539L595 523L527 419L634 419"/>
<path stroke="#D17DEA" d="M597 506L649 393L582 480L557 532L565 459L647 457L614 489L559 440L582 480L661 486L541 492L573 421L597 489L608 413L567 492L634 419L565 459L662 440L524 486L541 431L531 503L574 521L541 492L628 380L567 492L565 459L587 459L642 535L557 532L608 413L578 503L680 446L555 507L626 447L582 480L642 535L557 532L592 418L543 470L616 525L542 521L565 459L560 476L644 436L543 470L542 521L560 476L635 498L531 503L557 532L524 486L616 393L555 507L604 471L524 486L522 444L587 459L608 413L614 489L637 517L587 459L543 470L542 521L615 432L524 486L639 403L557 532L595 433L542 521L555 507L541 492L573 421L524 486L582 480L574 521L608 413L542 521"/>
<path stroke="#D17DEA" d="M542 521L608 413L567 492L540 451L557 532L531 503L582 480L527 419L542 521L644 436L597 489L541 431L565 459L527 419L578 503L521 464L524 486L595 541L587 459L542 521L587 459L582 480L543 470L615 432L543 470L595 433L582 480L541 431L582 480L597 489L524 486L543 470L597 489L681 466L565 459L644 436L614 489L618 540L524 486L634 419L543 470L661 486L614 489L674 424L531 503L616 393L524 486L595 523L543 470L616 525L542 521L648 476L542 521L557 387L582 480L597 506L524 486L595 523L614 489L574 539L541 492L626 447L597 506L602 453L565 459L615 507L574 521L589 395L541 492L662 440L560 476L661 486L524 486L597 489L587 459L648 476L597 506"/>
<path stroke="#D17DEA" d="M597 506L635 498L541 492L662 440L543 470L628 380L614 489L616 393L555 507L551 413L541 492L574 521L614 489L647 457L542 521L644 436L524 486L608 413L565 459L592 418L597 489L616 525L543 470L597 506L542 521L631 483L542 521L624 467L582 480L652 505L578 503L542 521L531 503L597 506L555 507L565 459L542 521L541 431L582 480L662 440L541 492L551 413L614 489L568 402L587 459L574 521L560 476L674 424L557 532L540 401L542 521L521 464L543 470L653 417L557 532L595 523L542 521L559 440L560 476L644 436L555 507L615 432L578 503L597 489L560 476L574 539L567 492L597 489L543 470L540 401L555 507L527 419L574 521L555 507L560 476L639 403L557 532"/>
<path stroke="#D17DEA" d="M557 532L597 506L597 489L578 503L614 489L642 535L524 486L582 480L578 503L661 486L597 506L631 483L555 507L527 419L565 459L592 418L560 476L680 446L614 489L628 380L574 521L615 507L582 480L642 535L542 521L616 525L542 521L555 507L565 459L542 521L574 521L661 486L582 480L648 476L543 470L616 525L597 489L616 393L597 506L616 525L565 459L662 440L557 532L634 419L582 480L557 387L578 503L555 507L597 506L624 467L587 459L531 503L582 480L574 539L582 480L679 482L565 459L681 466L574 521L543 470L531 503L595 541L578 503L604 471L567 492L647 457L614 489L637 517L614 489L608 413L543 470L681 466L587 459L634 419L587 459L662 440L542 521"/>
<path stroke="#D17DEA" d="M542 521L580 438L542 521"/>
<path stroke="#46916A" d="M595 541L580 438L595 541L647 457L595 541L652 505L574 539L628 380L574 539L578 503"/>
<path stroke="#46916A" d="M578 503L595 541L567 492L574 539L642 535L574 539L557 532L595 541L604 471L574 539"/>
<path stroke="#46916A" d="M574 539L664 464L574 539L652 505L595 541L624 467L595 541L661 486L595 541L521 464"/>
<path stroke="#46916A" d="M521 464L574 539L648 476L595 541L541 492L595 541L542 521L574 539L568 402L595 541"/>
</g>
<path stroke="#8DC52E" stroke-width="2.2" stroke-opacity="0.7" d="M580.3 438.3L554.8 416.8"/>
<path fill="#8DC52E" fill-opacity="0.9" d="M554.8 416.8L562.9 418.8L558.2 424.4Z"/>
<path stroke="#8DC52E" stroke-width="2" stroke-opacity="0.7" d="M580.3 438.3L585.1 452.7"/>
<path fill="#8DC52E" fill-opacity="0.9" d="M585.1 452.7L579.7 447.1L586.1 445Z"/>
<path stroke="#8DC52E" stroke-width="1.4" stroke-opacity="0.7" d="M572.7 420.6L577.8 432.4"/>
<path fill="#8DC52E" fill-opacity="0.9" d="M577.8 432.4L573.2 428.4L578.1 426.3Z"/>
<path stroke="#D17DEA" stroke-width="2" stroke-opacity="0.7" d="M587.1 458.8L554.1 417.5"/>
<path fill="#D17DEA" fill-opacity="0.9" d="M554.1 417.5L561.1 420.9L555.8 425.1Z"/>
<path stroke="#D17DEA" stroke-width="1.8" stroke-opacity="0.7" d="M587.1 458.8L545.6 489.2"/>
<path fill="#D17DEA" fill-opacity="0.9" d="M545.6 489.2L549 482.8L552.7 487.9Z"/>
<path stroke="#D17DEA" stroke-width="1.2" stroke-opacity="0.7" d="M559.8 475.9L581.6 462.2"/>
<path fill="#D17DEA" fill-opacity="0.9" d="M581.6 462.2L578.7 466.9L576.1 462.8Z"/>
<path stroke="#D17DEA" stroke-width="1.2" stroke-opacity="0.7" d="M581.9 480.2L585.6 465"/>
<path fill="#D17DEA" fill-opacity="0.9" d="M585.6 465L586.7 470.5L582 469.3Z"/>
<path stroke="#D17DEA" stroke-width="0.8" stroke-opacity="0.7" d="M566.6 491.9L583.7 464.2"/>
<path fill="#D17DEA" fill-opacity="0.9" d="M583.7 464.2L583.2 468.7L579.9 466.6Z"/>
<path stroke="#8DC52E" stroke-width="0.8" stroke-opacity="0.7" d="M580.3 438.3L544.4 488"/>
<path fill="#8DC52E" fill-opacity="0.9" d="M544.4 488L545.1 483.6L548.3 485.9Z"/>
<path stroke="#8DC52E" stroke-width="0.8" stroke-opacity="0.7" d="M527.4 419L586.5 418.5"/>
<path fill="#8DC52E" fill-opacity="0.9" d="M586.5 418.5L582.5 420.5L582.4 416.5Z"/>
<path stroke="#F26A30" stroke-width="0.7" stroke-opacity="0.7" d="M608.2 412.9L597.2 416.6"/>
<path fill="#F26A30" fill-opacity="0.9" d="M597.2 416.6L600.1 413.7L601.3 417.2Z"/>
<path stroke="#F26A30" stroke-width="0.6" stroke-opacity="0.7" d="M639.1 403.1L613.4 411.2"/>
<path fill="#F26A30" fill-opacity="0.9" d="M613.4 411.2L616.2 408.5L617.3 411.8Z"/>
<path stroke="#F26A30" stroke-width="0.6" stroke-opacity="0.7" d="M649.2 393L631.9 382.5"/>
<path fill="#F26A30" fill-opacity="0.9" d="M631.9 382.5L635.8 382.8L634 385.8Z"/>
<path stroke="#F26A30" stroke-width="0.5" stroke-opacity="0.7" d="M615.5 393L610.1 407.7"/>
<path fill="#F26A30" fill-opacity="0.9" d="M610.1 407.7L609.7 404.1L612.7 405.2Z"/>
<g stroke="#505050" stroke-width="0.35">
<circle cx="579.1" cy="378.6" r="4.8" fill="#8DC52E"/>
<circle cx="556.8" cy="387.2" r="4.8" fill="#8DC52E"/>
<circle cx="588.9" cy="394.8" r="5.5" fill="#8DC52E"/>
<circle cx="539.9" cy="401" r="4.5" fill="#8DC52E"/>
<circle cx="568.1" cy="402.2" r="4.5" fill="#8DC52E"/>
<circle cx="550.6" cy="413.2" r="5.5" fill="#8DC52E"/>
<circle cx="527.4" cy="419" r="4.5" fill="#8DC52E"/>
<circle cx="572.7" cy="420.6" r="5.5" fill="#8DC52E"/>
<circle cx="592" cy="418.4" r="5.5" fill="#8DC52E"/>
<circle cx="540.5" cy="430.7" r="4.5" fill="#8DC52E"/>
<circle cx="558.9" cy="439.8" r="4.8" fill="#8DC52E"/>
<circle cx="580.3" cy="438.3" r="6.4" fill="#8DC52E"/>
<circle cx="521.6" cy="443.5" r="4.8" fill="#8DC52E"/>
<circle cx="539.6" cy="450.5" r="4.8" fill="#8DC52E"/>
<circle cx="520.7" cy="464.3" r="4.5" fill="#8DC52E"/>
<circle cx="603.9" cy="375.6" r="4.5" fill="#F26A30"/>
<circle cx="628.1" cy="380.2" r="4.5" fill="#F26A30"/>
<circle cx="615.5" cy="393" r="4.8" fill="#F26A30"/>
<circle cx="649.2" cy="393" r="4.8" fill="#F26A30"/>
<circle cx="639.1" cy="403.1" r="4.8" fill="#F26A30"/>
<circle cx="608.2" cy="412.9" r="5.5" fill="#F26A30"/>
<circle cx="664.2" cy="404" r="4.5" fill="#5CC8E2"/>
<circle cx="633.9" cy="419" r="5.5" fill="#5CC8E2"/>
<circle cx="652.9" cy="417.5" r="4.8" fill="#5CC8E2"/>
<circle cx="674.3" cy="423.9" r="4.8" fill="#5CC8E2"/>
<circle cx="595" cy="432.8" r="4.8" fill="#5CC8E2"/>
<circle cx="614.9" cy="432.2" r="5.5" fill="#5CC8E2"/>
<circle cx="644" cy="436.2" r="4.8" fill="#5CC8E2"/>
<circle cx="662" cy="439.8" r="4.5" fill="#5CC8E2"/>
<circle cx="679.8" cy="446" r="4.5" fill="#5CC8E2"/>
<circle cx="601.8" cy="453" r="5.5" fill="#5CC8E2"/>
<circle cx="625.6" cy="447.5" r="5.5" fill="#5CC8E2"/>
<circle cx="647.1" cy="457.3" r="5.5" fill="#5CC8E2"/>
<circle cx="664.5" cy="463.7" r="4.5" fill="#5CC8E2"/>
<circle cx="680.7" cy="466.5" r="4.5" fill="#5CC8E2"/>
<circle cx="603.6" cy="471.4" r="5.5" fill="#5CC8E2"/>
<circle cx="624.4" cy="467.4" r="5.5" fill="#5CC8E2"/>
<circle cx="647.7" cy="475.6" r="4.8" fill="#5CC8E2"/>
<circle cx="630.5" cy="482.7" r="4.8" fill="#5CC8E2"/>
<circle cx="660.8" cy="485.7" r="4.8" fill="#5CC8E2"/>
<circle cx="679.2" cy="481.8" r="4.5" fill="#5CC8E2"/>
<circle cx="634.8" cy="498" r="4.8" fill="#5CC8E2"/>
<circle cx="652.3" cy="504.7" r="4.8" fill="#5CC8E2"/>
<circle cx="670.6" cy="503.2" r="4.5" fill="#5CC8E2"/>
<circle cx="615.2" cy="507.2" r="4.8" fill="#5CC8E2"/>
<circle cx="637" cy="517" r="4.5" fill="#5CC8E2"/>
<circle cx="660.8" cy="522.5" r="4.5" fill="#5CC8E2"/>
<circle cx="595" cy="523.1" r="4.8" fill="#5CC8E2"/>
<circle cx="615.5" cy="524.9" r="5.5" fill="#5CC8E2"/>
<circle cx="642.2" cy="534.7" r="4.5" fill="#5CC8E2"/>
<circle cx="618" cy="539.9" r="4.5" fill="#5CC8E2"/>
<circle cx="565" cy="459.1" r="5.5" fill="#D17DEA"/>
<circle cx="587.1" cy="458.8" r="6.4" fill="#D17DEA"/>
<circle cx="542.7" cy="470.4" r="4.8" fill="#D17DEA"/>
<circle cx="559.8" cy="475.9" r="4.8" fill="#D17DEA"/>
<circle cx="581.9" cy="480.2" r="4.8" fill="#D17DEA"/>
<circle cx="523.7" cy="486.4" r="4.5" fill="#D17DEA"/>
<circle cx="541.2" cy="492.5" r="5.5" fill="#D17DEA"/>
<circle cx="566.6" cy="491.9" r="5.5" fill="#D17DEA"/>
<circle cx="597.2" cy="489.4" r="4.8" fill="#D17DEA"/>
<circle cx="614" cy="488.8" r="4.5" fill="#D17DEA"/>
<circle cx="531.4" cy="503.2" r="4.5" fill="#D17DEA"/>
<circle cx="578.2" cy="503.5" r="4.8" fill="#D17DEA"/>
<circle cx="554.9" cy="507.2" r="5.5" fill="#D17DEA"/>
<circle cx="596.9" cy="506.2" r="5.5" fill="#D17DEA"/>
<circle cx="542.1" cy="520.9" r="4.5" fill="#D17DEA"/>
<circle cx="574.2" cy="520.9" r="5.5" fill="#D17DEA"/>
<circle cx="557.4" cy="532.3" r="4.5" fill="#D17DEA"/>
<circle cx="574.2" cy="539.3" r="4.8" fill="#46916A"/>
<circle cx="595" cy="540.8" r="4.8" fill="#46916A"/>
</g>
<text class="l" x="579.1" y="379.9" font-size="5.4" textLength="8.9" lengthAdjust="spacingAndGlyphs">CIV</text>
<text class="l" x="556.8" y="388.5" font-size="5.4" textLength="8.9" lengthAdjust="spacingAndGlyphs">TZA</text>
<text class="l" x="588.9" y="396.3" font-size="6.2" textLength="10.2" lengthAdjust="spacingAndGlyphs">ARE</text>
<text class="l" x="539.9" y="402.2" font-size="5" textLength="8.2" lengthAdjust="spacingAndGlyphs">NGA</text>
<text class="l" x="568.1" y="403.4" font-size="5" textLength="8.2" lengthAdjust="spacingAndGlyphs">CHL</text>
<text class="l" x="550.6" y="414.7" font-size="6.2" textLength="10.2" lengthAdjust="spacingAndGlyphs">BGD</text>
<text class="l" x="527.4" y="420.2" font-size="5" textLength="8.2" lengthAdjust="spacingAndGlyphs">MEX</text>
<text class="l" x="572.7" y="422" font-size="6.2" textLength="10.2" lengthAdjust="spacingAndGlyphs">USA</text>
<text class="l" x="592" y="419.9" font-size="6.2" textLength="10.2" lengthAdjust="spacingAndGlyphs">CHE</text>
<text class="l" x="540.5" y="431.9" font-size="5" textLength="8.2" lengthAdjust="spacingAndGlyphs">ISR</text>
<text class="l" x="558.9" y="441.1" font-size="5.4" textLength="8.9" lengthAdjust="spacingAndGlyphs">CAN</text>
<text class="l" x="580.3" y="440" font-size="7.2" textLength="11.8" lengthAdjust="spacingAndGlyphs">IND</text>
<text class="l" x="521.6" y="444.8" font-size="5.4" textLength="8.9" lengthAdjust="spacingAndGlyphs">KEN</text>
<text class="l" x="539.6" y="451.8" font-size="5.4" textLength="8.9" lengthAdjust="spacingAndGlyphs">SGP</text>
<text class="l" x="520.7" y="465.5" font-size="5" textLength="8.2" lengthAdjust="spacingAndGlyphs">UKR</text>
<text class="l" x="603.9" y="376.8" font-size="5" textLength="8.2" lengthAdjust="spacingAndGlyphs">KAZ</text>
<text class="l" x="628.1" y="381.4" font-size="5" textLength="8.2" lengthAdjust="spacingAndGlyphs">RUS</text>
<text class="l" x="615.5" y="394.3" font-size="5.4" textLength="8.9" lengthAdjust="spacingAndGlyphs">EGY</text>
<text class="l" x="649.2" y="394.3" font-size="5.4" textLength="8.9" lengthAdjust="spacingAndGlyphs">UZB</text>
<text class="l" x="639.1" y="404.4" font-size="5.4" textLength="8.9" lengthAdjust="spacingAndGlyphs">GRC</text>
<text class="l" x="608.2" y="414.4" font-size="6.2" textLength="10.2" lengthAdjust="spacingAndGlyphs">TUR</text>
<text class="l" x="664.2" y="405.2" font-size="5" textLength="8.2" lengthAdjust="spacingAndGlyphs">MAR</text>
<text class="l" x="633.9" y="420.5" font-size="6.2" textLength="10.2" lengthAdjust="spacingAndGlyphs">BEL</text>
<text class="l" x="652.9" y="418.8" font-size="5.4" textLength="8.9" lengthAdjust="spacingAndGlyphs">POL</text>
<text class="l" x="674.3" y="425.2" font-size="5.4" textLength="8.9" lengthAdjust="spacingAndGlyphs">TUN</text>
<text class="l" x="595" y="434.1" font-size="5.4" textLength="8.9" lengthAdjust="spacingAndGlyphs">ESP</text>
<text class="l" x="614.9" y="433.7" font-size="6.2" textLength="10.2" lengthAdjust="spacingAndGlyphs">NLD</text>
<text class="l" x="644" y="437.5" font-size="5.4" textLength="8.9" lengthAdjust="spacingAndGlyphs">CZE</text>
<text class="l" x="662" y="441" font-size="5" textLength="8.2" lengthAdjust="spacingAndGlyphs">NOR</text>
<text class="l" x="679.8" y="447.2" font-size="5" textLength="8.2" lengthAdjust="spacingAndGlyphs">SVK</text>
<text class="l" x="601.8" y="454.5" font-size="6.2" textLength="10.2" lengthAdjust="spacingAndGlyphs">FRA</text>
<text class="l" x="625.6" y="449" font-size="6.2">ITA</text>
<text class="l" x="647.1" y="458.8" font-size="6.2" textLength="10.2" lengthAdjust="spacingAndGlyphs">PRT</text>
<text class="l" x="664.5" y="464.9" font-size="5">FIN</text>
<text class="l" x="680.7" y="467.7" font-size="5">ISL</text>
<text class="l" x="603.6" y="472.8" font-size="6.2" textLength="10.2" lengthAdjust="spacingAndGlyphs">GBR</text>
<text class="l" x="624.4" y="468.9" font-size="6.2" textLength="10.2" lengthAdjust="spacingAndGlyphs">DEU</text>
<text class="l" x="647.7" y="476.9" font-size="5.4" textLength="8.9" lengthAdjust="spacingAndGlyphs">HUN</text>
<text class="l" x="630.5" y="484" font-size="5.4" textLength="8.9" lengthAdjust="spacingAndGlyphs">SWE</text>
<text class="l" x="660.8" y="487" font-size="5.4" textLength="8.9" lengthAdjust="spacingAndGlyphs">ROU</text>
<text class="l" x="679.2" y="483" font-size="5" textLength="8.2" lengthAdjust="spacingAndGlyphs">HRV</text>
<text class="l" x="634.8" y="499.3" font-size="5.4" textLength="8.9" lengthAdjust="spacingAndGlyphs">LTU</text>
<text class="l" x="652.3" y="506" font-size="5.4" textLength="8.9" lengthAdjust="spacingAndGlyphs">PER</text>
<text class="l" x="670.6" y="504.4" font-size="5" textLength="8.2" lengthAdjust="spacingAndGlyphs">LVA</text>
<text class="l" x="615.2" y="508.5" font-size="5.4" textLength="8.9" lengthAdjust="spacingAndGlyphs">DNK</text>
<text class="l" x="637" y="518.2" font-size="5" textLength="8.2" lengthAdjust="spacingAndGlyphs">BGR</text>
<text class="l" x="660.8" y="523.7" font-size="5" textLength="8.2" lengthAdjust="spacingAndGlyphs">EST</text>
<text class="l" x="595" y="524.4" font-size="5.4">IRL</text>
<text class="l" x="615.5" y="526.4" font-size="6.2" textLength="10.2" lengthAdjust="spacingAndGlyphs">AUT</text>
<text class="l" x="642.2" y="535.9" font-size="5" textLength="8.2" lengthAdjust="spacingAndGlyphs">SVN</text>
<text class="l" x="618" y="541.1" font-size="5" textLength="8.2" lengthAdjust="spacingAndGlyphs">SRB</text>
<text class="l" x="565" y="460.6" font-size="6.2" textLength="10.2" lengthAdjust="spacingAndGlyphs">PAK</text>
<text class="l" x="587.1" y="460.5" font-size="7.2" textLength="11.8" lengthAdjust="spacingAndGlyphs">CHN</text>
<text class="l" x="542.7" y="471.7" font-size="5.4" textLength="8.9" lengthAdjust="spacingAndGlyphs">IDN</text>
<text class="l" x="559.8" y="477.2" font-size="5.4" textLength="8.9" lengthAdjust="spacingAndGlyphs">MYS</text>
<text class="l" x="581.9" y="481.5" font-size="5.4" textLength="8.9" lengthAdjust="spacingAndGlyphs">AUS</text>
<text class="l" x="523.7" y="487.6" font-size="5" textLength="8.2" lengthAdjust="spacingAndGlyphs">ARG</text>
<text class="l" x="541.2" y="494" font-size="6.2" textLength="10.2" lengthAdjust="spacingAndGlyphs">VNM</text>
<text class="l" x="566.6" y="493.3" font-size="6.2" textLength="10.2" lengthAdjust="spacingAndGlyphs">KOR</text>
<text class="l" x="597.2" y="490.7" font-size="5.4" textLength="8.9" lengthAdjust="spacingAndGlyphs">JPN</text>
<text class="l" x="614" y="490" font-size="5" textLength="8.2" lengthAdjust="spacingAndGlyphs">NZL</text>
<text class="l" x="531.4" y="504.4" font-size="5" textLength="8.2" lengthAdjust="spacingAndGlyphs">PHL</text>
<text class="l" x="578.2" y="504.8" font-size="5.4" textLength="8.9" lengthAdjust="spacingAndGlyphs">HKG</text>
<text class="l" x="554.9" y="508.6" font-size="6.2" textLength="10.2" lengthAdjust="spacingAndGlyphs">BRA</text>
<text class="l" x="596.9" y="507.7" font-size="6.2" textLength="10.2" lengthAdjust="spacingAndGlyphs">THA</text>
<text class="l" x="542.1" y="522.1" font-size="5" textLength="8.2" lengthAdjust="spacingAndGlyphs">COL</text>
<text class="l" x="574.2" y="522.4" font-size="6.2" textLength="10.2" lengthAdjust="spacingAndGlyphs">LKA</text>
<text class="l" x="557.4" y="533.5" font-size="5" textLength="8.2" lengthAdjust="spacingAndGlyphs">LBN</text>
<text class="l" x="574.2" y="540.6" font-size="5.4" textLength="8.9" lengthAdjust="spacingAndGlyphs">MUS</text>
<text class="l" x="595" y="542.1" font-size="5.4" textLength="8.9" lengthAdjust="spacingAndGlyphs">ZAF</text>
<text class="cap" x="14.7" y="177.7" textLength="147.1" lengthAdjust="spacingAndGlyphs">a. 2013 live animals and animal products</text>
<text class="cap" x="180.8" y="177.7" textLength="148" lengthAdjust="spacingAndGlyphs">b. 2022 live animals and animal products</text>
<text class="cap" x="387.7" y="177.7" textLength="81.3" lengthAdjust="spacingAndGlyphs">c. 2013 plant products</text>
<text class="cap" x="563" y="177.7" textLength="81.7" lengthAdjust="spacingAndGlyphs">d. 2022 plant products</text>
<text class="cap" x="19.7" y="364.4" textLength="138.3" lengthAdjust="spacingAndGlyphs">e. 2013 animal and plants fats and oils</text>
<text class="cap" x="184.2" y="364.4" textLength="132.7" lengthAdjust="spacingAndGlyphs">f. 2022 animal and plant fats and oils</text>
<text class="cap" x="360.7" y="364.4" textLength="142.1" lengthAdjust="spacingAndGlyphs">g. 2013 processed agricultural products</text>
<text class="cap" x="529.3" y="364.4" textLength="142" lengthAdjust="spacingAndGlyphs">h. 2022 processed agricultural products</text>
<text class="cap" x="42.6" y="559.8" textLength="81.3" lengthAdjust="spacingAndGlyphs">i. 2013 wood products</text>
<text class="cap" x="220.7" y="559.8" textLength="81.3" lengthAdjust="spacingAndGlyphs">j. 2022 wood products</text>
<text class="cap" x="379.9" y="559.8" textLength="87.3" lengthAdjust="spacingAndGlyphs">k. 2013 textile materials</text>
<text class="cap" x="566.4" y="559.8" textLength="85.5" lengthAdjust="spacingAndGlyphs">l. 2022 textile materials</text>
</svg></body></html>
